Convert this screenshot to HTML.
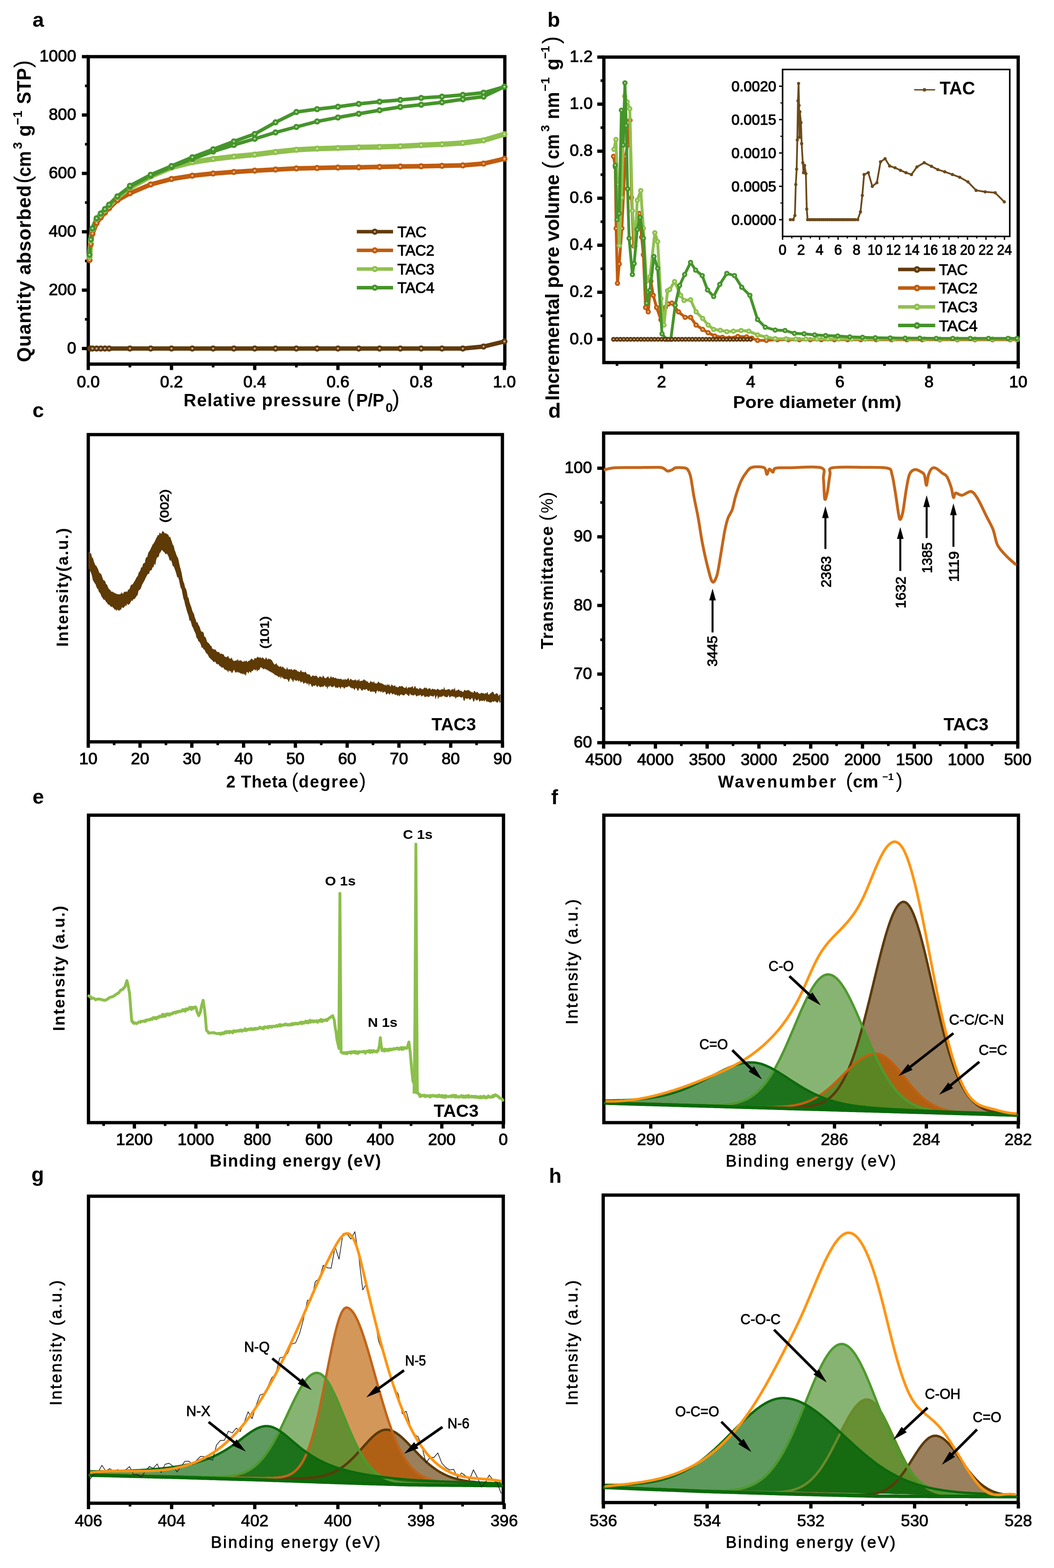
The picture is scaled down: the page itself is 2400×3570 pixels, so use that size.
<!DOCTYPE html><html><head><meta charset="utf-8"><title>Figure</title><style>html,body{margin:0;padding:0;background:#fff;}svg{display:block;}</style></head><body><svg width="2400" height="3570" viewBox="0 0 2400 3570" font-family="'Liberation Sans', Arial, sans-serif"><defs><clipPath id="cp1"><path d="M1379,2510 L1382,2510.1 L1385,2510.2 L1388,2510.2 L1391,2510.3 L1394,2510.4 L1397,2510.5 L1400,2510.6 L1403,2510.7 L1406,2510.8 L1409,2510.8 L1412,2510.9 L1415,2511 L1418,2511.1 L1421,2511.2 L1424,2511.3 L1427,2511.4 L1430,2511.5 L1433,2511.5 L1436,2511.6 L1439,2511.7 L1442,2511.8 L1445,2511.9 L1448,2512 L1451,2512.1 L1454,2512.1 L1457,2512.2 L1460,2512.3 L1463,2512.4 L1466,2512.5 L1469,2512.6 L1472,2512.7 L1475,2512.7 L1478,2512.8 L1481,2512.9 L1484,2513 L1487,2513.1 L1490,2513.2 L1493,2513.3 L1496,2513.3 L1499,2513.4 L1502,2513.5 L1505,2513.6 L1508,2513.7 L1511,2513.8 L1514,2513.9 L1517,2513.9 L1520,2514 L1523,2514.1 L1526,2514.2 L1529,2514.3 L1532,2514.4 L1535,2514.4 L1538,2514.5 L1541,2514.6 L1544,2514.7 L1547,2514.8 L1550,2514.9 L1553,2515 L1556,2515 L1559,2515.1 L1562,2515.2 L1565,2515.3 L1568,2515.4 L1571,2515.5 L1574,2515.5 L1577,2515.6 L1580,2515.7 L1583,2515.8 L1586,2515.9 L1589,2516 L1592,2516.1 L1595,2516.1 L1598,2516.2 L1601,2516.3 L1604,2516.4 L1607,2516.5 L1610,2516.6 L1613,2516.6 L1616,2516.7 L1619,2516.8 L1622,2516.9 L1625,2517 L1628,2517.1 L1631,2517.1 L1634,2517.2 L1637,2517.3 L1640,2517.4 L1643,2517.5 L1646,2517.6 L1649,2517.6 L1652,2517.7 L1655,2517.8 L1658,2517.9 L1661,2518 L1664,2518.1 L1667,2518.1 L1670,2518.2 L1673,2518.3 L1676,2518.4 L1679,2518.5 L1682,2518.5 L1685,2518.6 L1688,2518.7 L1691,2518.8 L1694,2518.9 L1697,2518.9 L1700,2519 L1703,2519.1 L1706,2519.2 L1709,2519.3 L1712,2519.3 L1715,2519.4 L1718,2519.5 L1721,2519.6 L1724,2519.7 L1727,2519.7 L1730,2519.8 L1733,2519.9 L1736,2520 L1739,2520 L1742,2520.1 L1745,2520.2 L1748,2520.3 L1751,2520.3 L1754,2520.4 L1757,2520.5 L1760,2520.5 L1763,2520.6 L1766,2520.7 L1769,2520.7 L1772,2520.8 L1775,2520.9 L1778,2520.9 L1781,2521 L1784,2521 L1787,2521 L1790,2521.1 L1793,2521.1 L1796,2521.1 L1799,2521.1 L1802,2521.1 L1805,2521.1 L1808,2521.1 L1811,2521 L1814,2521 L1817,2520.9 L1820,2520.8 L1823,2520.6 L1826,2520.5 L1829,2520.3 L1832,2520.1 L1835,2519.8 L1838,2519.5 L1841,2519.1 L1844,2518.7 L1847,2518.2 L1850,2517.6 L1853,2517 L1856,2516.2 L1859,2515.4 L1862,2514.5 L1865,2513.5 L1868,2512.3 L1871,2511 L1874,2509.6 L1877,2508 L1880,2506.2 L1883,2504.3 L1886,2502.1 L1889,2499.8 L1892,2497.2 L1895,2494.4 L1898,2491.3 L1901,2488 L1904,2484.4 L1907,2480.5 L1910,2476.3 L1913,2471.7 L1916,2466.8 L1919,2461.6 L1922,2456 L1925,2450.1 L1928,2443.8 L1931,2437 L1934,2429.9 L1937,2422.4 L1940,2414.5 L1943,2406.2 L1946,2397.5 L1949,2388.4 L1952,2379 L1955,2369.1 L1958,2358.9 L1961,2348.4 L1964,2337.5 L1967,2326.3 L1970,2314.8 L1973,2303.1 L1976,2291.2 L1979,2279.1 L1982,2266.9 L1985,2254.5 L1988,2242.1 L1991,2229.7 L1994,2217.3 L1997,2204.9 L2000,2192.7 L2003,2180.7 L2006,2169 L2009,2157.5 L2012,2146.3 L2015,2135.6 L2018,2125.3 L2021,2115.5 L2024,2106.3 L2027,2097.7 L2030,2089.7 L2033,2082.4 L2036,2075.9 L2039,2070.1 L2042,2065.2 L2045,2061 L2048,2057.8 L2051,2055.4 L2054,2053.9 L2057,2053.3 L2060,2053.7 L2063,2055 L2066,2057.4 L2069,2060.8 L2072,2065.1 L2075,2070.4 L2078,2076.6 L2081,2083.6 L2084,2091.5 L2087,2100.1 L2090,2109.5 L2093,2119.6 L2096,2130.2 L2099,2141.4 L2102,2153.1 L2105,2165.2 L2108,2177.7 L2111,2190.4 L2114,2203.4 L2117,2216.6 L2120,2229.9 L2123,2243.2 L2126,2256.5 L2129,2269.8 L2132,2282.9 L2135,2295.9 L2138,2308.7 L2141,2321.2 L2144,2333.5 L2147,2345.4 L2150,2357 L2153,2368.2 L2156,2379.1 L2159,2389.5 L2162,2399.5 L2165,2409 L2168,2418.2 L2171,2426.8 L2174,2435.1 L2177,2442.9 L2180,2450.2 L2183,2457.1 L2186,2463.6 L2189,2469.7 L2192,2475.4 L2195,2480.7 L2198,2485.6 L2201,2490.1 L2204,2494.4 L2207,2498.3 L2210,2501.8 L2213,2505.1 L2216,2508.2 L2219,2510.9 L2222,2513.4 L2225,2515.7 L2228,2517.8 L2231,2519.7 L2234,2521.4 L2237,2523 L2240,2524.4 L2243,2525.7 L2246,2526.8 L2249,2527.9 L2252,2528.8 L2255,2529.6 L2258,2530.4 L2261,2531 L2264,2531.7 L2267,2532.2 L2270,2532.7 L2273,2533.1 L2276,2533.5 L2279,2533.9 L2282,2534.2 L2285,2534.5 L2288,2534.8 L2291,2535 L2294,2535.3 L2297,2535.5 L2300,2535.7 L2303,2535.8 L2306,2536 L2309,2536.2 L2312,2536.3 L2315,2536.5 L2315,2538.9 L1379,2511.6 Z"/></clipPath><clipPath id="cp2"><path d="M1379,2510.1 L1382,2510.2 L1385,2510.3 L1388,2510.4 L1391,2510.5 L1394,2510.6 L1397,2510.6 L1400,2510.7 L1403,2510.8 L1406,2510.9 L1409,2511 L1412,2511.1 L1415,2511.2 L1418,2511.3 L1421,2511.3 L1424,2511.4 L1427,2511.5 L1430,2511.6 L1433,2511.7 L1436,2511.8 L1439,2511.9 L1442,2512 L1445,2512 L1448,2512.1 L1451,2512.2 L1454,2512.3 L1457,2512.4 L1460,2512.5 L1463,2512.6 L1466,2512.7 L1469,2512.7 L1472,2512.8 L1475,2512.9 L1478,2513 L1481,2513.1 L1484,2513.2 L1487,2513.3 L1490,2513.4 L1493,2513.4 L1496,2513.5 L1499,2513.6 L1502,2513.7 L1505,2513.8 L1508,2513.9 L1511,2514 L1514,2514.1 L1517,2514.1 L1520,2514.2 L1523,2514.3 L1526,2514.4 L1529,2514.5 L1532,2514.6 L1535,2514.7 L1538,2514.8 L1541,2514.8 L1544,2514.9 L1547,2515 L1550,2515.1 L1553,2515.2 L1556,2515.3 L1559,2515.4 L1562,2515.5 L1565,2515.5 L1568,2515.6 L1571,2515.7 L1574,2515.8 L1577,2515.9 L1580,2516 L1583,2516.1 L1586,2516.2 L1589,2516.2 L1592,2516.3 L1595,2516.4 L1598,2516.5 L1601,2516.6 L1604,2516.7 L1607,2516.8 L1610,2516.9 L1613,2516.9 L1616,2517 L1619,2517.1 L1622,2517.2 L1625,2517.3 L1628,2517.4 L1631,2517.5 L1634,2517.6 L1637,2517.6 L1640,2517.7 L1643,2517.8 L1646,2517.9 L1649,2518 L1652,2518.1 L1655,2518.2 L1658,2518.2 L1661,2518.3 L1664,2518.4 L1667,2518.5 L1670,2518.6 L1673,2518.7 L1676,2518.8 L1679,2518.8 L1682,2518.9 L1685,2519 L1688,2519.1 L1691,2519.2 L1694,2519.3 L1697,2519.3 L1700,2519.4 L1703,2519.5 L1706,2519.6 L1709,2519.6 L1712,2519.7 L1715,2519.8 L1718,2519.8 L1721,2519.9 L1724,2520 L1727,2520 L1730,2520.1 L1733,2520.1 L1736,2520.2 L1739,2520.2 L1742,2520.2 L1745,2520.2 L1748,2520.3 L1751,2520.3 L1754,2520.3 L1757,2520.2 L1760,2520.2 L1763,2520.2 L1766,2520.1 L1769,2520 L1772,2519.9 L1775,2519.8 L1778,2519.7 L1781,2519.5 L1784,2519.3 L1787,2519.1 L1790,2518.8 L1793,2518.6 L1796,2518.3 L1799,2517.9 L1802,2517.5 L1805,2517.1 L1808,2516.6 L1811,2516.1 L1814,2515.5 L1817,2514.9 L1820,2514.2 L1823,2513.4 L1826,2512.6 L1829,2511.7 L1832,2510.8 L1835,2509.7 L1838,2508.6 L1841,2507.5 L1844,2506.2 L1847,2504.9 L1850,2503.4 L1853,2501.9 L1856,2500.3 L1859,2498.6 L1862,2496.9 L1865,2495 L1868,2493.1 L1871,2491 L1874,2488.9 L1877,2486.6 L1880,2484.3 L1883,2481.9 L1886,2479.5 L1889,2476.9 L1892,2474.3 L1895,2471.6 L1898,2468.8 L1901,2466 L1904,2463.2 L1907,2460.3 L1910,2457.3 L1913,2454.3 L1916,2451.3 L1919,2448.3 L1922,2445.3 L1925,2442.3 L1928,2439.3 L1931,2436.4 L1934,2433.5 L1937,2430.6 L1940,2427.8 L1943,2425.1 L1946,2422.4 L1949,2419.9 L1952,2417.4 L1955,2415.1 L1958,2412.9 L1961,2410.8 L1964,2408.9 L1967,2407.1 L1970,2405.5 L1973,2404 L1976,2402.8 L1979,2401.7 L1982,2400.8 L1985,2400.1 L1988,2399.6 L1991,2399.3 L1994,2399.2 L1997,2399.3 L2000,2399.7 L2003,2400.4 L2006,2401.4 L2009,2402.6 L2012,2404.2 L2015,2406 L2018,2408 L2021,2410.3 L2024,2412.8 L2027,2415.5 L2030,2418.4 L2033,2421.5 L2036,2424.7 L2039,2428.1 L2042,2431.6 L2045,2435.2 L2048,2438.9 L2051,2442.6 L2054,2446.4 L2057,2450.2 L2060,2454 L2063,2457.9 L2066,2461.6 L2069,2465.4 L2072,2469.1 L2075,2472.7 L2078,2476.2 L2081,2479.6 L2084,2483 L2087,2486.2 L2090,2489.4 L2093,2492.4 L2096,2495.2 L2099,2498 L2102,2500.6 L2105,2503.1 L2108,2505.5 L2111,2507.7 L2114,2509.8 L2117,2511.8 L2120,2513.7 L2123,2515.4 L2126,2517 L2129,2518.5 L2132,2519.9 L2135,2521.2 L2138,2522.4 L2141,2523.5 L2144,2524.5 L2147,2525.5 L2150,2526.3 L2153,2527.1 L2156,2527.8 L2159,2528.5 L2162,2529.1 L2165,2529.7 L2168,2530.2 L2171,2530.6 L2174,2531 L2177,2531.4 L2180,2531.7 L2183,2532.1 L2186,2532.3 L2189,2532.6 L2192,2532.9 L2195,2533.1 L2198,2533.3 L2201,2533.5 L2204,2533.7 L2207,2533.8 L2210,2534 L2213,2534.1 L2216,2534.3 L2219,2534.4 L2222,2534.5 L2225,2534.6 L2228,2534.7 L2231,2534.8 L2234,2535 L2237,2535.1 L2240,2535.2 L2243,2535.3 L2246,2535.4 L2249,2535.4 L2252,2535.5 L2255,2535.6 L2258,2535.7 L2261,2535.8 L2264,2535.9 L2267,2536 L2270,2536.1 L2273,2536.2 L2276,2536.3 L2279,2536.4 L2282,2536.4 L2285,2536.5 L2288,2536.6 L2291,2536.7 L2294,2536.8 L2297,2536.9 L2300,2537 L2303,2537.1 L2306,2537.1 L2309,2537.2 L2312,2537.3 L2315,2537.4 L2315,2538.9 L1379,2511.6 Z"/></clipPath><clipPath id="cp3"><path d="M1379,2510.1 L1382,2510.2 L1385,2510.3 L1388,2510.4 L1391,2510.5 L1394,2510.6 L1397,2510.6 L1400,2510.7 L1403,2510.8 L1406,2510.9 L1409,2511 L1412,2511.1 L1415,2511.2 L1418,2511.3 L1421,2511.3 L1424,2511.4 L1427,2511.5 L1430,2511.6 L1433,2511.7 L1436,2511.8 L1439,2511.9 L1442,2512 L1445,2512 L1448,2512.1 L1451,2512.2 L1454,2512.3 L1457,2512.4 L1460,2512.5 L1463,2512.6 L1466,2512.7 L1469,2512.7 L1472,2512.8 L1475,2512.9 L1478,2513 L1481,2513.1 L1484,2513.2 L1487,2513.3 L1490,2513.4 L1493,2513.4 L1496,2513.5 L1499,2513.6 L1502,2513.7 L1505,2513.8 L1508,2513.9 L1511,2514 L1514,2514.1 L1517,2514.1 L1520,2514.2 L1523,2514.3 L1526,2514.4 L1529,2514.5 L1532,2514.6 L1535,2514.7 L1538,2514.7 L1541,2514.8 L1544,2514.9 L1547,2515 L1550,2515.1 L1553,2515.2 L1556,2515.2 L1559,2515.3 L1562,2515.4 L1565,2515.5 L1568,2515.6 L1571,2515.6 L1574,2515.7 L1577,2515.8 L1580,2515.9 L1583,2515.9 L1586,2516 L1589,2516.1 L1592,2516.1 L1595,2516.2 L1598,2516.2 L1601,2516.3 L1604,2516.3 L1607,2516.3 L1610,2516.3 L1613,2516.4 L1616,2516.4 L1619,2516.3 L1622,2516.3 L1625,2516.3 L1628,2516.2 L1631,2516.2 L1634,2516.1 L1637,2516 L1640,2515.8 L1643,2515.7 L1646,2515.5 L1649,2515.2 L1652,2515 L1655,2514.7 L1658,2514.4 L1661,2514 L1664,2513.5 L1667,2513 L1670,2512.5 L1673,2511.9 L1676,2511.2 L1679,2510.5 L1682,2509.6 L1685,2508.7 L1688,2507.7 L1691,2506.6 L1694,2505.4 L1697,2504.1 L1700,2502.7 L1703,2501.2 L1706,2499.5 L1709,2497.7 L1712,2495.7 L1715,2493.6 L1718,2491.4 L1721,2488.9 L1724,2486.4 L1727,2483.6 L1730,2480.7 L1733,2477.5 L1736,2474.2 L1739,2470.7 L1742,2467 L1745,2463.1 L1748,2459 L1751,2454.7 L1754,2450.2 L1757,2445.4 L1760,2440.5 L1763,2435.4 L1766,2430 L1769,2424.5 L1772,2418.8 L1775,2412.9 L1778,2406.8 L1781,2400.5 L1784,2394.1 L1787,2387.6 L1790,2380.9 L1793,2374.1 L1796,2367.2 L1799,2360.2 L1802,2353.2 L1805,2346.1 L1808,2339 L1811,2331.8 L1814,2324.7 L1817,2317.6 L1820,2310.6 L1823,2303.7 L1826,2296.9 L1829,2290.2 L1832,2283.7 L1835,2277.3 L1838,2271.2 L1841,2265.3 L1844,2259.7 L1847,2254.3 L1850,2249.2 L1853,2244.5 L1856,2240.1 L1859,2236.1 L1862,2232.4 L1865,2229.2 L1868,2226.4 L1871,2224 L1874,2222 L1877,2220.5 L1880,2219.4 L1883,2218.8 L1886,2218.6 L1889,2218.9 L1892,2219.6 L1895,2220.8 L1898,2222.4 L1901,2224.4 L1904,2226.8 L1907,2229.6 L1910,2232.8 L1913,2236.4 L1916,2240.4 L1919,2244.7 L1922,2249.3 L1925,2254.2 L1928,2259.5 L1931,2265 L1934,2270.8 L1937,2276.8 L1940,2283 L1943,2289.3 L1946,2295.9 L1949,2302.6 L1952,2309.4 L1955,2316.3 L1958,2323.3 L1961,2330.4 L1964,2337.5 L1967,2344.5 L1970,2351.6 L1973,2358.7 L1976,2365.7 L1979,2372.6 L1982,2379.5 L1985,2386.2 L1988,2392.9 L1991,2399.4 L1994,2405.8 L1997,2412.1 L2000,2418.2 L2003,2424.1 L2006,2429.9 L2009,2435.5 L2012,2440.9 L2015,2446.1 L2018,2451.1 L2021,2456 L2024,2460.6 L2027,2465.1 L2030,2469.3 L2033,2473.4 L2036,2477.3 L2039,2481 L2042,2484.5 L2045,2487.8 L2048,2490.9 L2051,2493.9 L2054,2496.7 L2057,2499.3 L2060,2501.8 L2063,2504.1 L2066,2506.3 L2069,2508.4 L2072,2510.3 L2075,2512.1 L2078,2513.7 L2081,2515.3 L2084,2516.7 L2087,2518.1 L2090,2519.3 L2093,2520.5 L2096,2521.6 L2099,2522.5 L2102,2523.5 L2105,2524.3 L2108,2525.1 L2111,2525.8 L2114,2526.5 L2117,2527.1 L2120,2527.6 L2123,2528.2 L2126,2528.6 L2129,2529.1 L2132,2529.5 L2135,2529.9 L2138,2530.2 L2141,2530.5 L2144,2530.8 L2147,2531.1 L2150,2531.3 L2153,2531.6 L2156,2531.8 L2159,2532 L2162,2532.2 L2165,2532.4 L2168,2532.5 L2171,2532.7 L2174,2532.9 L2177,2533 L2180,2533.1 L2183,2533.3 L2186,2533.4 L2189,2533.5 L2192,2533.6 L2195,2533.7 L2198,2533.9 L2201,2534 L2204,2534.1 L2207,2534.2 L2210,2534.3 L2213,2534.4 L2216,2534.5 L2219,2534.6 L2222,2534.7 L2225,2534.8 L2228,2534.8 L2231,2534.9 L2234,2535 L2237,2535.1 L2240,2535.2 L2243,2535.3 L2246,2535.4 L2249,2535.5 L2252,2535.6 L2255,2535.7 L2258,2535.7 L2261,2535.8 L2264,2535.9 L2267,2536 L2270,2536.1 L2273,2536.2 L2276,2536.3 L2279,2536.4 L2282,2536.4 L2285,2536.5 L2288,2536.6 L2291,2536.7 L2294,2536.8 L2297,2536.9 L2300,2537 L2303,2537.1 L2306,2537.1 L2309,2537.2 L2312,2537.3 L2315,2537.4 L2315,2538.9 L1379,2511.6 Z"/></clipPath><clipPath id="cp4"><path d="M1379,2505.5 L1382,2505.5 L1385,2505.5 L1388,2505.4 L1391,2505.4 L1394,2505.4 L1397,2505.3 L1400,2505.3 L1403,2505.2 L1406,2505.1 L1409,2505.1 L1412,2505 L1415,2504.9 L1418,2504.8 L1421,2504.7 L1424,2504.6 L1427,2504.4 L1430,2504.3 L1433,2504.2 L1436,2504 L1439,2503.8 L1442,2503.6 L1445,2503.4 L1448,2503.2 L1451,2503 L1454,2502.8 L1457,2502.5 L1460,2502.2 L1463,2501.9 L1466,2501.6 L1469,2501.3 L1472,2500.9 L1475,2500.5 L1478,2500.2 L1481,2499.7 L1484,2499.3 L1487,2498.8 L1490,2498.4 L1493,2497.9 L1496,2497.3 L1499,2496.8 L1502,2496.2 L1505,2495.6 L1508,2494.9 L1511,2494.2 L1514,2493.6 L1517,2492.8 L1520,2492.1 L1523,2491.3 L1526,2490.5 L1529,2489.6 L1532,2488.7 L1535,2487.8 L1538,2486.9 L1541,2485.9 L1544,2484.9 L1547,2483.9 L1550,2482.8 L1553,2481.7 L1556,2480.6 L1559,2479.4 L1562,2478.2 L1565,2477 L1568,2475.7 L1571,2474.4 L1574,2473.1 L1577,2471.8 L1580,2470.4 L1583,2469 L1586,2467.6 L1589,2466.2 L1592,2464.7 L1595,2463.2 L1598,2461.7 L1601,2460.2 L1604,2458.7 L1607,2457.2 L1610,2455.6 L1613,2454.1 L1616,2452.5 L1619,2450.9 L1622,2449.4 L1625,2447.8 L1628,2446.2 L1631,2444.7 L1634,2443.1 L1637,2441.6 L1640,2440.1 L1643,2438.6 L1646,2437.1 L1649,2435.7 L1652,2434.3 L1655,2432.9 L1658,2431.6 L1661,2430.3 L1664,2429.1 L1667,2427.9 L1670,2426.7 L1673,2425.7 L1676,2424.7 L1679,2423.7 L1682,2422.9 L1685,2422.1 L1688,2421.4 L1691,2420.8 L1694,2420.2 L1697,2419.8 L1700,2419.4 L1703,2419.1 L1706,2419 L1709,2418.9 L1712,2418.9 L1715,2419 L1718,2419.3 L1721,2419.6 L1724,2420.1 L1727,2420.7 L1730,2421.4 L1733,2422.2 L1736,2423.2 L1739,2424.2 L1742,2425.4 L1745,2426.6 L1748,2427.9 L1751,2429.3 L1754,2430.8 L1757,2432.3 L1760,2434 L1763,2435.6 L1766,2437.4 L1769,2439.1 L1772,2440.9 L1775,2442.8 L1778,2444.7 L1781,2446.6 L1784,2448.5 L1787,2450.4 L1790,2452.4 L1793,2454.4 L1796,2456.3 L1799,2458.3 L1802,2460.2 L1805,2462.2 L1808,2464.1 L1811,2466 L1814,2467.9 L1817,2469.8 L1820,2471.7 L1823,2473.5 L1826,2475.3 L1829,2477.1 L1832,2478.8 L1835,2480.5 L1838,2482.2 L1841,2483.8 L1844,2485.4 L1847,2487 L1850,2488.5 L1853,2490 L1856,2491.4 L1859,2492.8 L1862,2494.2 L1865,2495.5 L1868,2496.8 L1871,2498 L1874,2499.2 L1877,2500.4 L1880,2501.5 L1883,2502.6 L1886,2503.6 L1889,2504.6 L1892,2505.6 L1895,2506.5 L1898,2507.4 L1901,2508.3 L1904,2509.1 L1907,2509.9 L1910,2510.7 L1913,2511.4 L1916,2512.1 L1919,2512.8 L1922,2513.4 L1925,2514 L1928,2514.6 L1931,2515.2 L1934,2515.7 L1937,2516.2 L1940,2516.7 L1943,2517.2 L1946,2517.6 L1949,2518.1 L1952,2518.5 L1955,2518.9 L1958,2519.3 L1961,2519.6 L1964,2520 L1967,2520.3 L1970,2520.6 L1973,2521 L1976,2521.3 L1979,2521.5 L1982,2521.8 L1985,2522.1 L1988,2522.3 L1991,2522.6 L1994,2522.8 L1997,2523.1 L2000,2523.3 L2003,2523.5 L2006,2523.7 L2009,2523.9 L2012,2524.1 L2015,2524.3 L2018,2524.5 L2021,2524.7 L2024,2524.9 L2027,2525 L2030,2525.2 L2033,2525.4 L2036,2525.5 L2039,2525.7 L2042,2525.9 L2045,2526 L2048,2526.2 L2051,2526.3 L2054,2526.5 L2057,2526.6 L2060,2526.8 L2063,2526.9 L2066,2527.1 L2069,2527.2 L2072,2527.3 L2075,2527.5 L2078,2527.6 L2081,2527.7 L2084,2527.9 L2087,2528 L2090,2528.1 L2093,2528.3 L2096,2528.4 L2099,2528.5 L2102,2528.6 L2105,2528.8 L2108,2528.9 L2111,2529 L2114,2529.1 L2117,2529.3 L2120,2529.4 L2123,2529.5 L2126,2529.6 L2129,2529.7 L2132,2529.8 L2135,2530 L2138,2530.1 L2141,2530.2 L2144,2530.3 L2147,2530.4 L2150,2530.5 L2153,2530.7 L2156,2530.8 L2159,2530.9 L2162,2531 L2165,2531.1 L2168,2531.2 L2171,2531.3 L2174,2531.4 L2177,2531.6 L2180,2531.7 L2183,2531.8 L2186,2531.9 L2189,2532 L2192,2532.1 L2195,2532.2 L2198,2532.3 L2201,2532.4 L2204,2532.5 L2207,2532.6 L2210,2532.7 L2213,2532.8 L2216,2533 L2219,2533.1 L2222,2533.2 L2225,2533.3 L2228,2533.4 L2231,2533.5 L2234,2533.6 L2237,2533.7 L2240,2533.8 L2243,2533.9 L2246,2534 L2249,2534.1 L2252,2534.2 L2255,2534.3 L2258,2534.4 L2261,2534.5 L2264,2534.6 L2267,2534.7 L2270,2534.8 L2273,2534.9 L2276,2535 L2279,2535.1 L2282,2535.2 L2285,2535.3 L2288,2535.4 L2291,2535.5 L2294,2535.6 L2297,2535.7 L2300,2535.8 L2303,2535.9 L2306,2536 L2309,2536.1 L2312,2536.2 L2315,2536.3 L2315,2538.9 L1379,2511.6 Z"/></clipPath><clipPath id="cp5"><path d="M205,3356.7 L208,3356.7 L211,3356.8 L214,3356.9 L217,3356.9 L220,3357 L223,3357.1 L226,3357.2 L229,3357.2 L232,3357.3 L235,3357.4 L238,3357.4 L241,3357.5 L244,3357.6 L247,3357.7 L250,3357.7 L253,3357.8 L256,3357.9 L259,3357.9 L262,3358 L265,3358.1 L268,3358.2 L271,3358.2 L274,3358.3 L277,3358.4 L280,3358.4 L283,3358.5 L286,3358.6 L289,3358.6 L292,3358.7 L295,3358.8 L298,3358.9 L301,3358.9 L304,3359 L307,3359.1 L310,3359.1 L313,3359.2 L316,3359.3 L319,3359.3 L322,3359.4 L325,3359.5 L328,3359.5 L331,3359.6 L334,3359.7 L337,3359.8 L340,3359.8 L343,3359.9 L346,3360 L349,3360 L352,3360.1 L355,3360.2 L358,3360.2 L361,3360.3 L364,3360.4 L367,3360.4 L370,3360.5 L373,3360.6 L376,3360.6 L379,3360.7 L382,3360.8 L385,3360.8 L388,3360.9 L391,3361 L394,3361 L397,3361.1 L400,3361.2 L403,3361.2 L406,3361.3 L409,3361.4 L412,3361.5 L415,3361.6 L418,3361.6 L421,3361.7 L424,3361.8 L427,3361.9 L430,3361.9 L433,3362 L436,3362.1 L439,3362.2 L442,3362.3 L445,3362.3 L448,3362.4 L451,3362.5 L454,3362.6 L457,3362.6 L460,3362.7 L463,3362.8 L466,3362.9 L469,3362.9 L472,3363 L475,3363.1 L478,3363.2 L481,3363.2 L484,3363.3 L487,3363.4 L490,3363.4 L493,3363.5 L496,3363.6 L499,3363.7 L502,3363.7 L505,3363.8 L508,3363.9 L511,3363.9 L514,3364 L517,3364.1 L520,3364.1 L523,3364.2 L526,3364.3 L529,3364.3 L532,3364.4 L535,3364.5 L538,3364.5 L541,3364.6 L544,3364.6 L547,3364.7 L550,3364.8 L553,3364.8 L556,3364.9 L559,3364.9 L562,3365 L565,3365.1 L568,3365.1 L571,3365.2 L574,3365.2 L577,3365.3 L580,3365.3 L583,3365.4 L586,3365.4 L589,3365.5 L592,3365.5 L595,3365.6 L598,3365.6 L601,3365.6 L604,3365.7 L607,3365.8 L610,3365.8 L613,3365.9 L616,3365.9 L619,3366 L622,3366 L625,3366 L628,3366.1 L631,3366.1 L634,3366.2 L637,3366.2 L640,3366.2 L643,3366.2 L646,3366.3 L649,3366.3 L652,3366.3 L655,3366.3 L658,3366.3 L661,3366.3 L664,3366.3 L667,3366.3 L670,3366.2 L673,3366.2 L676,3366.1 L679,3366.1 L682,3366 L685,3365.9 L688,3365.8 L691,3365.7 L694,3365.6 L697,3365.4 L700,3365.2 L703,3365 L706,3364.8 L709,3364.5 L712,3364.2 L715,3363.9 L718,3363.5 L721,3363.1 L724,3362.6 L727,3362.1 L730,3361.5 L733,3360.9 L736,3360.2 L739,3359.4 L742,3358.6 L745,3357.7 L748,3356.7 L751,3355.6 L754,3354.5 L757,3353.2 L760,3351.8 L763,3350.4 L766,3348.8 L769,3347.1 L772,3345.3 L775,3343.4 L778,3341.4 L781,3339.3 L784,3337.1 L787,3334.7 L790,3332.2 L793,3329.6 L796,3326.9 L799,3324.1 L802,3321.2 L805,3318.2 L808,3315.1 L811,3312 L814,3308.7 L817,3305.4 L820,3302.1 L823,3298.7 L826,3295.4 L829,3292 L832,3288.6 L835,3285.3 L838,3282 L841,3278.8 L844,3275.8 L847,3272.8 L850,3270 L853,3267.3 L856,3264.9 L859,3262.7 L862,3260.7 L865,3259 L868,3257.6 L871,3256.4 L874,3255.6 L877,3255.2 L880,3255.1 L883,3255.2 L886,3255.7 L889,3256.4 L892,3257.4 L895,3258.7 L898,3260.2 L901,3261.9 L904,3263.9 L907,3266 L910,3268.4 L913,3270.9 L916,3273.5 L919,3276.3 L922,3279.2 L925,3282.1 L928,3285.2 L931,3288.3 L934,3291.5 L937,3294.6 L940,3297.8 L943,3300.9 L946,3304.1 L949,3307.2 L952,3310.3 L955,3313.4 L958,3316.4 L961,3319.3 L964,3322.2 L967,3325 L970,3327.8 L973,3330.5 L976,3333.1 L979,3335.6 L982,3338 L985,3340.3 L988,3342.5 L991,3344.6 L994,3346.7 L997,3348.6 L1000,3350.5 L1003,3352.3 L1006,3353.9 L1009,3355.5 L1012,3357 L1015,3358.4 L1018,3359.7 L1021,3361 L1024,3362.2 L1027,3363.3 L1030,3364.3 L1033,3365.3 L1036,3366.2 L1039,3367 L1042,3367.8 L1045,3368.5 L1048,3369.2 L1051,3369.8 L1054,3370.4 L1057,3371 L1060,3371.5 L1063,3371.9 L1066,3372.4 L1069,3372.8 L1072,3373.2 L1075,3373.5 L1078,3373.8 L1081,3374.1 L1084,3374.4 L1087,3374.7 L1090,3374.9 L1093,3375.2 L1096,3375.4 L1099,3375.6 L1102,3375.8 L1105,3376 L1108,3376.2 L1111,3376.3 L1114,3376.5 L1117,3376.6 L1120,3376.8 L1123,3376.9 L1126,3377 L1129,3377.2 L1132,3377.3 L1135,3377.4 L1138,3377.5 L1141,3377.6 L1142,3382.5 L205,3358.6 Z"/></clipPath><clipPath id="cp6"><path d="M205,3356.8 L208,3356.9 L211,3356.9 L214,3357 L217,3357.1 L220,3357.1 L223,3357.2 L226,3357.3 L229,3357.4 L232,3357.4 L235,3357.5 L238,3357.6 L241,3357.6 L244,3357.7 L247,3357.8 L250,3357.9 L253,3357.9 L256,3358 L259,3358.1 L262,3358.1 L265,3358.2 L268,3358.3 L271,3358.4 L274,3358.4 L277,3358.5 L280,3358.6 L283,3358.6 L286,3358.7 L289,3358.8 L292,3358.9 L295,3358.9 L298,3359 L301,3359.1 L304,3359.1 L307,3359.2 L310,3359.3 L313,3359.3 L316,3359.4 L319,3359.5 L322,3359.6 L325,3359.6 L328,3359.7 L331,3359.8 L334,3359.8 L337,3359.9 L340,3360 L343,3360 L346,3360.1 L349,3360.2 L352,3360.2 L355,3360.3 L358,3360.4 L361,3360.4 L364,3360.5 L367,3360.6 L370,3360.6 L373,3360.7 L376,3360.8 L379,3360.8 L382,3360.9 L385,3361 L388,3361 L391,3361.1 L394,3361.2 L397,3361.2 L400,3361.3 L403,3361.4 L406,3361.5 L409,3361.5 L412,3361.6 L415,3361.7 L418,3361.8 L421,3361.9 L424,3361.9 L427,3362 L430,3362.1 L433,3362.2 L436,3362.2 L439,3362.3 L442,3362.4 L445,3362.5 L448,3362.5 L451,3362.6 L454,3362.7 L457,3362.8 L460,3362.8 L463,3362.9 L466,3363 L469,3363.1 L472,3363.1 L475,3363.2 L478,3363.3 L481,3363.3 L484,3363.4 L487,3363.5 L490,3363.5 L493,3363.6 L496,3363.7 L499,3363.7 L502,3363.8 L505,3363.9 L508,3363.9 L511,3364 L514,3364.1 L517,3364.1 L520,3364.2 L523,3364.2 L526,3364.3 L529,3364.4 L532,3364.4 L535,3364.5 L538,3364.5 L541,3364.6 L544,3364.6 L547,3364.7 L550,3364.7 L553,3364.8 L556,3364.8 L559,3364.9 L562,3364.9 L565,3364.9 L568,3365 L571,3365 L574,3365.1 L577,3365.1 L580,3365.1 L583,3365.1 L586,3365.2 L589,3365.2 L592,3365.2 L595,3365.2 L598,3365.2 L601,3365.2 L604,3365.2 L607,3365.1 L610,3365.1 L613,3365.1 L616,3365 L619,3364.9 L622,3364.8 L625,3364.6 L628,3364.5 L631,3364.2 L634,3363.9 L637,3363.6 L640,3363.2 L643,3362.6 L646,3362 L649,3361.3 L652,3360.4 L655,3359.4 L658,3358.2 L661,3356.8 L664,3355.1 L667,3353.2 L670,3351 L673,3348.5 L676,3345.6 L679,3342.3 L682,3338.6 L685,3334.4 L688,3329.6 L691,3324.4 L694,3318.5 L697,3312 L700,3304.9 L703,3297.1 L706,3288.6 L709,3279.4 L712,3269.5 L715,3258.8 L718,3247.5 L721,3235.5 L724,3222.8 L727,3209.5 L730,3195.7 L733,3181.4 L736,3166.8 L739,3151.8 L742,3136.6 L745,3121.4 L748,3106.1 L751,3091.1 L754,3076.4 L757,3062.2 L760,3048.6 L763,3035.7 L766,3023.8 L769,3013 L772,3003.3 L775,2995 L778,2988.2 L781,2983 L784,2979.3 L787,2977.4 L790,2977.1 L793,2977.9 L796,2979.6 L799,2982.1 L802,2985.3 L805,2989.4 L808,2994.2 L811,2999.7 L814,3005.9 L817,3012.8 L820,3020.3 L823,3028.3 L826,3036.8 L829,3045.8 L832,3055.2 L835,3065 L838,3075 L841,3085.3 L844,3095.8 L847,3106.4 L850,3117.2 L853,3128 L856,3138.8 L859,3149.6 L862,3160.3 L865,3170.8 L868,3181.3 L871,3191.6 L874,3201.6 L877,3211.4 L880,3221 L883,3230.3 L886,3239.3 L889,3247.9 L892,3256.3 L895,3264.3 L898,3272 L901,3279.3 L904,3286.3 L907,3292.9 L910,3299.2 L913,3305.2 L916,3310.8 L919,3316 L922,3321 L925,3325.6 L928,3330 L931,3334 L934,3337.8 L937,3341.2 L940,3344.4 L943,3347.3 L946,3350 L949,3352.5 L952,3354.8 L955,3356.9 L958,3358.8 L961,3360.6 L964,3362.2 L967,3363.7 L970,3365 L973,3366.2 L976,3367.3 L979,3368.3 L982,3369.2 L985,3370 L988,3370.7 L991,3371.4 L994,3372 L997,3372.5 L1000,3373 L1003,3373.5 L1006,3373.9 L1009,3374.2 L1012,3374.6 L1015,3374.9 L1018,3375.1 L1021,3375.4 L1024,3375.6 L1027,3375.8 L1030,3376 L1033,3376.2 L1036,3376.4 L1039,3376.5 L1042,3376.7 L1045,3376.8 L1048,3376.9 L1051,3377 L1054,3377.1 L1057,3377.3 L1060,3377.4 L1063,3377.5 L1066,3377.5 L1069,3377.6 L1072,3377.7 L1075,3377.8 L1078,3377.9 L1081,3378 L1084,3378.1 L1087,3378.1 L1090,3378.2 L1093,3378.3 L1096,3378.3 L1099,3378.4 L1102,3378.5 L1105,3378.5 L1108,3378.6 L1111,3378.7 L1114,3378.7 L1117,3378.8 L1120,3378.9 L1123,3378.9 L1126,3379 L1129,3379 L1132,3379.1 L1135,3379.2 L1138,3379.2 L1141,3379.3 L1142,3382.5 L205,3358.6 Z"/></clipPath><clipPath id="cp7"><path d="M205,3356.8 L208,3356.9 L211,3357 L214,3357 L217,3357.1 L220,3357.2 L223,3357.2 L226,3357.3 L229,3357.4 L232,3357.5 L235,3357.5 L238,3357.6 L241,3357.7 L244,3357.7 L247,3357.8 L250,3357.9 L253,3358 L256,3358 L259,3358.1 L262,3358.2 L265,3358.2 L268,3358.3 L271,3358.4 L274,3358.5 L277,3358.5 L280,3358.6 L283,3358.7 L286,3358.7 L289,3358.8 L292,3358.9 L295,3358.9 L298,3359 L301,3359.1 L304,3359.2 L307,3359.2 L310,3359.3 L313,3359.4 L316,3359.4 L319,3359.5 L322,3359.6 L325,3359.6 L328,3359.7 L331,3359.8 L334,3359.8 L337,3359.9 L340,3360 L343,3360.1 L346,3360.1 L349,3360.2 L352,3360.3 L355,3360.3 L358,3360.4 L361,3360.5 L364,3360.5 L367,3360.6 L370,3360.7 L373,3360.7 L376,3360.8 L379,3360.9 L382,3360.9 L385,3361 L388,3361 L391,3361.1 L394,3361.2 L397,3361.2 L400,3361.3 L403,3361.4 L406,3361.5 L409,3361.5 L412,3361.6 L415,3361.7 L418,3361.8 L421,3361.8 L424,3361.9 L427,3362 L430,3362 L433,3362.1 L436,3362.2 L439,3362.2 L442,3362.3 L445,3362.4 L448,3362.4 L451,3362.5 L454,3362.5 L457,3362.6 L460,3362.6 L463,3362.7 L466,3362.7 L469,3362.8 L472,3362.8 L475,3362.8 L478,3362.8 L481,3362.8 L484,3362.8 L487,3362.8 L490,3362.7 L493,3362.7 L496,3362.6 L499,3362.5 L502,3362.4 L505,3362.3 L508,3362.1 L511,3361.9 L514,3361.7 L517,3361.5 L520,3361.2 L523,3360.8 L526,3360.4 L529,3360 L532,3359.5 L535,3358.9 L538,3358.3 L541,3357.5 L544,3356.7 L547,3355.9 L550,3354.9 L553,3353.8 L556,3352.6 L559,3351.3 L562,3349.9 L565,3348.3 L568,3346.6 L571,3344.7 L574,3342.7 L577,3340.5 L580,3338.2 L583,3335.7 L586,3333 L589,3330.1 L592,3327 L595,3323.7 L598,3320.2 L601,3316.5 L604,3312.6 L607,3308.5 L610,3304.2 L613,3299.7 L616,3294.9 L619,3290 L622,3284.9 L625,3279.6 L628,3274.1 L631,3268.5 L634,3262.6 L637,3256.7 L640,3250.6 L643,3244.4 L646,3238.1 L649,3231.8 L652,3225.4 L655,3219 L658,3212.5 L661,3206.1 L664,3199.8 L667,3193.5 L670,3187.3 L673,3181.3 L676,3175.5 L679,3169.8 L682,3164.3 L685,3159.2 L688,3154.3 L691,3149.7 L694,3145.4 L697,3141.5 L700,3138 L703,3134.9 L706,3132.2 L709,3130 L712,3128.2 L715,3126.9 L718,3126.1 L721,3125.8 L724,3126 L727,3126.8 L730,3128.1 L733,3130.1 L736,3132.6 L739,3135.7 L742,3139.4 L745,3143.5 L748,3148.1 L751,3153.2 L754,3158.6 L757,3164.4 L760,3170.6 L763,3177 L766,3183.7 L769,3190.7 L772,3197.7 L775,3204.9 L778,3212.2 L781,3219.6 L784,3227 L787,3234.3 L790,3241.6 L793,3248.8 L796,3255.9 L799,3262.9 L802,3269.7 L805,3276.4 L808,3282.8 L811,3289 L814,3295 L817,3300.7 L820,3306.2 L823,3311.5 L826,3316.5 L829,3321.2 L832,3325.7 L835,3329.9 L838,3333.8 L841,3337.5 L844,3341 L847,3344.3 L850,3347.3 L853,3350 L856,3352.6 L859,3355 L862,3357.2 L865,3359.2 L868,3361 L871,3362.7 L874,3364.3 L877,3365.7 L880,3366.9 L883,3368.1 L886,3369.2 L889,3370.1 L892,3371 L895,3371.7 L898,3372.5 L901,3373.1 L904,3373.7 L907,3374.2 L910,3374.7 L913,3375.1 L916,3375.5 L919,3375.8 L922,3376.1 L925,3376.4 L928,3376.7 L931,3376.9 L934,3377.2 L937,3377.3 L940,3377.5 L943,3377.6 L946,3377.7 L949,3377.8 L952,3377.9 L955,3378 L958,3378.1 L961,3378.1 L964,3378.2 L967,3378.3 L970,3378.3 L973,3378.4 L976,3378.5 L979,3378.5 L982,3378.6 L985,3378.6 L988,3378.7 L991,3378.7 L994,3378.8 L997,3378.8 L1000,3378.9 L1003,3378.9 L1006,3378.9 L1009,3379 L1012,3379 L1015,3379.1 L1018,3379.1 L1021,3379.2 L1024,3379.2 L1027,3379.2 L1030,3379.3 L1033,3379.3 L1036,3379.4 L1039,3379.4 L1042,3379.4 L1045,3379.5 L1048,3379.5 L1051,3379.6 L1054,3379.6 L1057,3379.6 L1060,3379.7 L1063,3379.7 L1066,3379.7 L1069,3379.8 L1072,3379.8 L1075,3379.9 L1078,3379.9 L1081,3379.9 L1084,3380 L1087,3380 L1090,3380 L1093,3380.1 L1096,3380.1 L1099,3380.1 L1102,3380.2 L1105,3380.2 L1108,3380.2 L1111,3380.3 L1114,3380.3 L1117,3380.3 L1120,3380.4 L1123,3380.4 L1126,3380.4 L1129,3380.5 L1132,3380.5 L1135,3380.5 L1138,3380.6 L1141,3380.6 L1142,3382.5 L205,3358.6 Z"/></clipPath><clipPath id="cp8"><path d="M205,3350.1 L208,3350.1 L211,3350 L214,3350 L217,3350 L220,3350 L223,3349.9 L226,3349.9 L229,3349.8 L232,3349.8 L235,3349.8 L238,3349.7 L241,3349.7 L244,3349.6 L247,3349.5 L250,3349.5 L253,3349.4 L256,3349.4 L259,3349.3 L262,3349.2 L265,3349.1 L268,3349.1 L271,3349 L274,3348.9 L277,3348.8 L280,3348.7 L283,3348.6 L286,3348.5 L289,3348.4 L292,3348.3 L295,3348.2 L298,3348.1 L301,3347.9 L304,3347.8 L307,3347.7 L310,3347.5 L313,3347.4 L316,3347.2 L319,3347.1 L322,3346.9 L325,3346.7 L328,3346.5 L331,3346.4 L334,3346.2 L337,3346 L340,3345.7 L343,3345.5 L346,3345.3 L349,3345.1 L352,3344.8 L355,3344.6 L358,3344.3 L361,3344 L364,3343.7 L367,3343.4 L370,3343.1 L373,3342.8 L376,3342.5 L379,3342.1 L382,3341.8 L385,3341.4 L388,3341 L391,3340.6 L394,3340.2 L397,3339.8 L400,3339.3 L403,3338.9 L406,3338.4 L409,3337.9 L412,3337.4 L415,3336.9 L418,3336.4 L421,3335.8 L424,3335.2 L427,3334.6 L430,3334 L433,3333.3 L436,3332.6 L439,3331.9 L442,3331.1 L445,3330.3 L448,3329.5 L451,3328.7 L454,3327.8 L457,3326.9 L460,3326 L463,3325 L466,3324 L469,3322.9 L472,3321.8 L475,3320.7 L478,3319.5 L481,3318.2 L484,3316.9 L487,3315.6 L490,3314.2 L493,3312.8 L496,3311.3 L499,3309.8 L502,3308.2 L505,3306.5 L508,3304.8 L511,3303.1 L514,3301.3 L517,3299.4 L520,3297.5 L523,3295.5 L526,3293.5 L529,3291.5 L532,3289.3 L535,3287.2 L538,3285 L541,3282.8 L544,3280.5 L547,3278.3 L550,3276 L553,3273.7 L556,3271.4 L559,3269.2 L562,3267 L565,3264.8 L568,3262.7 L571,3260.6 L574,3258.7 L577,3256.8 L580,3255.1 L583,3253.5 L586,3252 L589,3250.7 L592,3249.6 L595,3248.6 L598,3247.9 L601,3247.3 L604,3247 L607,3246.9 L610,3247.1 L613,3247.4 L616,3248 L619,3248.9 L622,3249.9 L625,3251.2 L628,3252.6 L631,3254.2 L634,3256 L637,3258 L640,3260.1 L643,3262.3 L646,3264.5 L649,3266.9 L652,3269.4 L655,3271.9 L658,3274.4 L661,3276.9 L664,3279.5 L667,3282.1 L670,3284.6 L673,3287.2 L676,3289.7 L679,3292.1 L682,3294.6 L685,3296.9 L688,3299.3 L691,3301.6 L694,3303.8 L697,3305.9 L700,3308.1 L703,3310.1 L706,3312.1 L709,3314 L712,3315.9 L715,3317.7 L718,3319.5 L721,3321.2 L724,3322.9 L727,3324.5 L730,3326 L733,3327.5 L736,3328.9 L739,3330.3 L742,3331.7 L745,3333 L748,3334.2 L751,3335.5 L754,3336.6 L757,3337.8 L760,3338.9 L763,3340 L766,3341 L769,3342 L772,3343 L775,3343.9 L778,3344.8 L781,3345.7 L784,3346.5 L787,3347.4 L790,3348.2 L793,3348.9 L796,3349.7 L799,3350.4 L802,3351.1 L805,3351.8 L808,3352.4 L811,3353.1 L814,3353.7 L817,3354.3 L820,3354.9 L823,3355.5 L826,3356 L829,3356.5 L832,3357.1 L835,3357.6 L838,3358.1 L841,3358.6 L844,3359 L847,3359.5 L850,3359.9 L853,3360.4 L856,3360.8 L859,3361.2 L862,3361.6 L865,3362 L868,3362.4 L871,3362.8 L874,3363.2 L877,3363.5 L880,3363.9 L883,3364.3 L886,3364.6 L889,3364.9 L892,3365.3 L895,3365.6 L898,3365.9 L901,3366.2 L904,3366.5 L907,3366.8 L910,3367.1 L913,3367.4 L916,3367.7 L919,3368 L922,3368.2 L925,3368.5 L928,3368.8 L931,3369 L934,3369.3 L937,3369.5 L940,3369.7 L943,3369.8 L946,3370 L949,3370.2 L952,3370.4 L955,3370.5 L958,3370.7 L961,3370.9 L964,3371 L967,3371.2 L970,3371.3 L973,3371.5 L976,3371.6 L979,3371.8 L982,3371.9 L985,3372.1 L988,3372.2 L991,3372.3 L994,3372.5 L997,3372.6 L1000,3372.7 L1003,3372.9 L1006,3373 L1009,3373.1 L1012,3373.2 L1015,3373.4 L1018,3373.5 L1021,3373.6 L1024,3373.7 L1027,3373.8 L1030,3373.9 L1033,3374 L1036,3374.1 L1039,3374.2 L1042,3374.3 L1045,3374.4 L1048,3374.5 L1051,3374.6 L1054,3374.7 L1057,3374.8 L1060,3374.9 L1063,3375 L1066,3375.1 L1069,3375.2 L1072,3375.3 L1075,3375.4 L1078,3375.5 L1081,3375.6 L1084,3375.7 L1087,3375.7 L1090,3375.8 L1093,3375.9 L1096,3376 L1099,3376.1 L1102,3376.2 L1105,3376.2 L1108,3376.3 L1111,3376.4 L1114,3376.5 L1117,3376.5 L1120,3376.6 L1123,3376.7 L1126,3376.8 L1129,3376.8 L1132,3376.9 L1135,3377 L1138,3377.1 L1141,3377.1 L1142,3382.5 L205,3358.6 Z"/></clipPath><clipPath id="cp9"><path d="M1377,3385.1 L1380,3385.2 L1383,3385.4 L1386,3385.5 L1389,3385.6 L1392,3385.7 L1395,3385.8 L1398,3386 L1401,3386.1 L1404,3386.2 L1407,3386.3 L1410,3386.4 L1413,3386.6 L1416,3386.7 L1419,3386.8 L1422,3386.9 L1425,3387 L1428,3387.2 L1431,3387.3 L1434,3387.4 L1437,3387.5 L1440,3387.6 L1443,3387.7 L1446,3387.9 L1449,3388 L1452,3388.1 L1455,3388.2 L1458,3388.3 L1461,3388.5 L1464,3388.6 L1467,3388.7 L1470,3388.8 L1473,3388.9 L1476,3389.1 L1479,3389.2 L1482,3389.3 L1485,3389.4 L1488,3389.5 L1491,3389.7 L1494,3389.8 L1497,3389.9 L1500,3390 L1503,3390.1 L1506,3390.3 L1509,3390.4 L1512,3390.5 L1515,3390.6 L1518,3390.7 L1521,3390.9 L1524,3391 L1527,3391.1 L1530,3391.2 L1533,3391.3 L1536,3391.5 L1539,3391.6 L1542,3391.7 L1545,3391.8 L1548,3391.9 L1551,3392 L1554,3392.2 L1557,3392.3 L1560,3392.4 L1563,3392.5 L1566,3392.6 L1569,3392.8 L1572,3392.9 L1575,3393 L1578,3393.1 L1581,3393.2 L1584,3393.4 L1587,3393.5 L1590,3393.6 L1593,3393.7 L1596,3393.8 L1599,3394 L1602,3394.1 L1605,3394.2 L1608,3394.2 L1611,3394.3 L1614,3394.4 L1617,3394.5 L1620,3394.6 L1623,3394.7 L1626,3394.8 L1629,3394.9 L1632,3395 L1635,3395.1 L1638,3395.1 L1641,3395.2 L1644,3395.3 L1647,3395.4 L1650,3395.5 L1653,3395.6 L1656,3395.7 L1659,3395.8 L1662,3395.9 L1665,3395.9 L1668,3396 L1671,3396.1 L1674,3396.2 L1677,3396.3 L1680,3396.4 L1683,3396.5 L1686,3396.6 L1689,3396.7 L1692,3396.8 L1695,3396.8 L1698,3396.9 L1701,3397 L1704,3397.1 L1707,3397.2 L1710,3397.3 L1713,3397.4 L1716,3397.5 L1719,3397.6 L1722,3397.7 L1725,3397.7 L1728,3397.8 L1731,3397.9 L1734,3398 L1737,3398.1 L1740,3398.2 L1743,3398.3 L1746,3398.4 L1749,3398.5 L1752,3398.6 L1755,3398.6 L1758,3398.7 L1761,3398.8 L1764,3398.9 L1767,3399 L1770,3399.1 L1773,3399.2 L1776,3399.3 L1779,3399.4 L1782,3399.5 L1785,3399.5 L1788,3399.6 L1791,3399.7 L1794,3399.8 L1797,3399.9 L1800,3400 L1803,3400.1 L1806,3400.1 L1809,3400.2 L1812,3400.3 L1815,3400.4 L1818,3400.4 L1821,3400.5 L1824,3400.6 L1827,3400.7 L1830,3400.7 L1833,3400.8 L1836,3400.9 L1839,3401 L1842,3401 L1845,3401.1 L1848,3401.2 L1851,3401.3 L1854,3401.3 L1857,3401.4 L1860,3401.5 L1863,3401.6 L1866,3401.6 L1869,3401.7 L1872,3401.8 L1875,3401.9 L1878,3401.9 L1881,3402 L1884,3402.1 L1887,3402.2 L1890,3402.2 L1893,3402.3 L1896,3402.4 L1899,3402.5 L1902,3402.5 L1905,3402.6 L1908,3402.7 L1911,3402.8 L1914,3402.8 L1917,3402.9 L1920,3403 L1923,3403 L1926,3403.1 L1929,3403.1 L1932,3403.2 L1935,3403.2 L1938,3403.3 L1941,3403.3 L1944,3403.4 L1947,3403.4 L1950,3403.4 L1953,3403.4 L1956,3403.4 L1959,3403.3 L1962,3403.3 L1965,3403.2 L1968,3403.1 L1971,3402.9 L1974,3402.8 L1977,3402.5 L1980,3402.3 L1983,3401.9 L1986,3401.6 L1989,3401.1 L1992,3400.6 L1995,3400 L1998,3399.3 L2001,3398.5 L2004,3397.5 L2007,3396.4 L2010,3395.2 L2013,3393.8 L2016,3392.3 L2019,3390.6 L2022,3388.8 L2025,3386.8 L2028,3384.6 L2031,3382.2 L2034,3379.6 L2037,3376.8 L2040,3373.8 L2043,3370.6 L2046,3367.3 L2049,3363.7 L2052,3359.9 L2055,3356 L2058,3351.8 L2061,3347.6 L2064,3343.1 L2067,3338.6 L2070,3334 L2073,3329.3 L2076,3324.5 L2079,3319.8 L2082,3315 L2085,3310.3 L2088,3305.7 L2091,3301.2 L2094,3296.9 L2097,3292.8 L2100,3288.9 L2103,3285.2 L2106,3281.9 L2109,3278.9 L2112,3276.2 L2115,3273.9 L2118,3272.1 L2121,3270.6 L2124,3269.6 L2127,3269 L2130,3268.9 L2133,3269.1 L2136,3269.8 L2139,3270.8 L2142,3272.1 L2145,3273.8 L2148,3275.8 L2151,3278.1 L2154,3280.8 L2157,3283.7 L2160,3286.8 L2163,3290.2 L2166,3293.8 L2169,3297.6 L2172,3301.5 L2175,3305.5 L2178,3309.7 L2181,3313.9 L2184,3318.2 L2187,3322.5 L2190,3326.8 L2193,3331.1 L2196,3335.3 L2199,3339.5 L2202,3343.6 L2205,3347.6 L2208,3351.5 L2211,3355.3 L2214,3358.9 L2217,3362.4 L2220,3365.7 L2223,3368.9 L2226,3371.9 L2229,3374.8 L2232,3377.5 L2235,3380 L2238,3382.4 L2241,3384.6 L2244,3386.6 L2247,3388.5 L2250,3390.3 L2253,3391.9 L2256,3393.4 L2259,3394.8 L2262,3396 L2265,3397.1 L2268,3398.1 L2271,3399.1 L2274,3399.9 L2277,3400.6 L2280,3401.3 L2283,3401.9 L2286,3402.4 L2289,3402.9 L2292,3403.3 L2295,3403.7 L2298,3404 L2301,3404.3 L2304,3404.5 L2307,3404.7 L2310,3404.9 L2313,3405.1 L2315,3407.5 L1377,3386.6 Z"/></clipPath><clipPath id="cp10"><path d="M1377,3385.1 L1380,3385.2 L1383,3385.3 L1386,3385.5 L1389,3385.6 L1392,3385.7 L1395,3385.8 L1398,3385.9 L1401,3386 L1404,3386.2 L1407,3386.3 L1410,3386.4 L1413,3386.5 L1416,3386.6 L1419,3386.8 L1422,3386.9 L1425,3387 L1428,3387.1 L1431,3387.2 L1434,3387.4 L1437,3387.5 L1440,3387.6 L1443,3387.7 L1446,3387.8 L1449,3388 L1452,3388.1 L1455,3388.2 L1458,3388.3 L1461,3388.4 L1464,3388.6 L1467,3388.7 L1470,3388.8 L1473,3388.9 L1476,3389 L1479,3389.1 L1482,3389.3 L1485,3389.4 L1488,3389.5 L1491,3389.6 L1494,3389.7 L1497,3389.9 L1500,3390 L1503,3390.1 L1506,3390.2 L1509,3390.3 L1512,3390.5 L1515,3390.6 L1518,3390.7 L1521,3390.8 L1524,3390.9 L1527,3391 L1530,3391.2 L1533,3391.3 L1536,3391.4 L1539,3391.5 L1542,3391.6 L1545,3391.8 L1548,3391.9 L1551,3392 L1554,3392.1 L1557,3392.2 L1560,3392.4 L1563,3392.5 L1566,3392.6 L1569,3392.7 L1572,3392.8 L1575,3393 L1578,3393.1 L1581,3393.2 L1584,3393.3 L1587,3393.4 L1590,3393.5 L1593,3393.7 L1596,3393.8 L1599,3393.9 L1602,3394 L1605,3394.1 L1608,3394.2 L1611,3394.3 L1614,3394.4 L1617,3394.4 L1620,3394.5 L1623,3394.6 L1626,3394.7 L1629,3394.8 L1632,3394.9 L1635,3395 L1638,3395.1 L1641,3395.2 L1644,3395.2 L1647,3395.3 L1650,3395.4 L1653,3395.5 L1656,3395.6 L1659,3395.7 L1662,3395.8 L1665,3395.9 L1668,3395.9 L1671,3396 L1674,3396.1 L1677,3396.2 L1680,3396.3 L1683,3396.4 L1686,3396.5 L1689,3396.6 L1692,3396.6 L1695,3396.7 L1698,3396.8 L1701,3396.9 L1704,3397 L1707,3397 L1710,3397.1 L1713,3397.2 L1716,3397.3 L1719,3397.3 L1722,3397.4 L1725,3397.5 L1728,3397.5 L1731,3397.6 L1734,3397.6 L1737,3397.7 L1740,3397.7 L1743,3397.7 L1746,3397.8 L1749,3397.8 L1752,3397.8 L1755,3397.7 L1758,3397.7 L1761,3397.6 L1764,3397.6 L1767,3397.5 L1770,3397.3 L1773,3397.2 L1776,3397 L1779,3396.8 L1782,3396.5 L1785,3396.2 L1788,3395.8 L1791,3395.4 L1794,3394.9 L1797,3394.4 L1800,3393.8 L1803,3393.1 L1806,3392.3 L1809,3391.4 L1812,3390.4 L1815,3389.3 L1818,3388.1 L1821,3386.8 L1824,3385.3 L1827,3383.7 L1830,3382 L1833,3380.1 L1836,3378 L1839,3375.8 L1842,3373.4 L1845,3370.8 L1848,3368 L1851,3365 L1854,3361.9 L1857,3358.5 L1860,3354.9 L1863,3351.1 L1866,3347.2 L1869,3343 L1872,3338.6 L1875,3334 L1878,3329.2 L1881,3324.3 L1884,3319.1 L1887,3313.8 L1890,3308.4 L1893,3302.8 L1896,3297.1 L1899,3291.3 L1902,3285.4 L1905,3279.4 L1908,3273.5 L1911,3267.5 L1914,3261.5 L1917,3255.5 L1920,3249.6 L1923,3243.9 L1926,3238.2 L1929,3232.7 L1932,3227.4 L1935,3222.2 L1938,3217.4 L1941,3212.8 L1944,3208.5 L1947,3204.5 L1950,3200.8 L1953,3197.6 L1956,3194.7 L1959,3192.2 L1962,3190.1 L1965,3188.5 L1968,3187.3 L1971,3186.6 L1974,3186.4 L1977,3186.6 L1980,3187.4 L1983,3188.7 L1986,3190.5 L1989,3192.9 L1992,3195.7 L1995,3199 L1998,3202.8 L2001,3207 L2004,3211.5 L2007,3216.4 L2010,3221.6 L2013,3227.2 L2016,3233 L2019,3239 L2022,3245.2 L2025,3251.5 L2028,3258 L2031,3264.5 L2034,3271.1 L2037,3277.7 L2040,3284.2 L2043,3290.7 L2046,3297.2 L2049,3303.5 L2052,3309.7 L2055,3315.7 L2058,3321.5 L2061,3327.2 L2064,3332.7 L2067,3337.9 L2070,3342.9 L2073,3347.7 L2076,3352.3 L2079,3356.6 L2082,3360.7 L2085,3364.5 L2088,3368.1 L2091,3371.4 L2094,3374.6 L2097,3377.5 L2100,3380.2 L2103,3382.7 L2106,3385 L2109,3387.1 L2112,3389 L2115,3390.8 L2118,3392.4 L2121,3393.8 L2124,3395.1 L2127,3396.3 L2130,3397.4 L2133,3398.4 L2136,3399.2 L2139,3400 L2142,3400.7 L2145,3401.3 L2148,3401.8 L2151,3402.3 L2154,3402.7 L2157,3403.1 L2160,3403.4 L2163,3403.7 L2166,3404 L2169,3404.2 L2172,3404.4 L2175,3404.5 L2178,3404.7 L2181,3404.8 L2184,3404.9 L2187,3405 L2190,3405.1 L2193,3405.2 L2196,3405.2 L2199,3405.3 L2202,3405.3 L2205,3405.4 L2208,3405.4 L2211,3405.4 L2214,3405.5 L2217,3405.5 L2220,3405.5 L2223,3405.5 L2226,3405.6 L2229,3405.6 L2232,3405.6 L2235,3405.6 L2238,3405.6 L2241,3405.6 L2244,3405.7 L2247,3405.7 L2250,3405.7 L2253,3405.7 L2256,3405.7 L2259,3405.7 L2262,3405.7 L2265,3405.7 L2268,3405.8 L2271,3405.8 L2274,3405.8 L2277,3405.8 L2280,3405.8 L2283,3405.8 L2286,3405.8 L2289,3405.8 L2292,3405.8 L2295,3405.9 L2298,3405.9 L2301,3405.9 L2304,3405.9 L2307,3405.9 L2310,3405.9 L2313,3405.9 L2315,3407.5 L1377,3386.6 Z"/></clipPath><clipPath id="cp11"><path d="M1377,3385.1 L1380,3385.2 L1383,3385.4 L1386,3385.5 L1389,3385.6 L1392,3385.7 L1395,3385.8 L1398,3386 L1401,3386.1 L1404,3386.2 L1407,3386.3 L1410,3386.4 L1413,3386.6 L1416,3386.7 L1419,3386.8 L1422,3386.9 L1425,3387 L1428,3387.2 L1431,3387.3 L1434,3387.4 L1437,3387.5 L1440,3387.6 L1443,3387.7 L1446,3387.9 L1449,3388 L1452,3388.1 L1455,3388.2 L1458,3388.3 L1461,3388.5 L1464,3388.6 L1467,3388.7 L1470,3388.8 L1473,3388.9 L1476,3389.1 L1479,3389.2 L1482,3389.3 L1485,3389.4 L1488,3389.5 L1491,3389.7 L1494,3389.8 L1497,3389.9 L1500,3390 L1503,3390.1 L1506,3390.3 L1509,3390.4 L1512,3390.5 L1515,3390.6 L1518,3390.7 L1521,3390.9 L1524,3391 L1527,3391.1 L1530,3391.2 L1533,3391.3 L1536,3391.4 L1539,3391.6 L1542,3391.7 L1545,3391.8 L1548,3391.9 L1551,3392 L1554,3392.1 L1557,3392.3 L1560,3392.4 L1563,3392.5 L1566,3392.6 L1569,3392.7 L1572,3392.8 L1575,3392.9 L1578,3393 L1581,3393.2 L1584,3393.3 L1587,3393.4 L1590,3393.5 L1593,3393.6 L1596,3393.6 L1599,3393.7 L1602,3393.8 L1605,3393.9 L1608,3393.9 L1611,3394 L1614,3394 L1617,3394 L1620,3394 L1623,3394.1 L1626,3394.1 L1629,3394 L1632,3394 L1635,3394 L1638,3393.9 L1641,3393.9 L1644,3393.8 L1647,3393.7 L1650,3393.6 L1653,3393.4 L1656,3393.3 L1659,3393.1 L1662,3392.8 L1665,3392.6 L1668,3392.3 L1671,3391.9 L1674,3391.5 L1677,3391.1 L1680,3390.6 L1683,3390.1 L1686,3389.5 L1689,3388.9 L1692,3388.1 L1695,3387.3 L1698,3386.5 L1701,3385.5 L1704,3384.5 L1707,3383.3 L1710,3382.1 L1713,3380.8 L1716,3379.3 L1719,3377.8 L1722,3376.1 L1725,3374.3 L1728,3372.3 L1731,3370.3 L1734,3368 L1737,3365.7 L1740,3363.1 L1743,3360.4 L1746,3357.5 L1749,3354.5 L1752,3351.3 L1755,3347.9 L1758,3344.3 L1761,3340.5 L1764,3336.5 L1767,3332.3 L1770,3328 L1773,3323.4 L1776,3318.6 L1779,3313.6 L1782,3308.5 L1785,3303.1 L1788,3297.5 L1791,3291.8 L1794,3285.9 L1797,3279.7 L1800,3273.5 L1803,3267 L1806,3260.4 L1809,3253.6 L1812,3246.7 L1815,3239.7 L1818,3232.5 L1821,3225.3 L1824,3218 L1827,3210.6 L1830,3203.2 L1833,3195.8 L1836,3188.4 L1839,3180.9 L1842,3173.5 L1845,3166.2 L1848,3158.9 L1851,3151.7 L1854,3144.7 L1857,3137.8 L1860,3131 L1863,3124.4 L1866,3118.1 L1869,3112 L1872,3106.1 L1875,3100.5 L1878,3095.2 L1881,3090.2 L1884,3085.5 L1887,3081.2 L1890,3077.2 L1893,3073.6 L1896,3070.5 L1899,3067.7 L1902,3065.3 L1905,3063.4 L1908,3061.9 L1911,3060.8 L1914,3060.2 L1917,3060 L1920,3060.3 L1923,3061.1 L1926,3062.3 L1929,3064 L1932,3066.1 L1935,3068.6 L1938,3071.6 L1941,3075.1 L1944,3078.9 L1947,3083.1 L1950,3087.7 L1953,3092.6 L1956,3097.9 L1959,3103.5 L1962,3109.4 L1965,3115.6 L1968,3122 L1971,3128.7 L1974,3135.6 L1977,3142.7 L1980,3149.9 L1983,3157.3 L1986,3164.8 L1989,3172.4 L1992,3180 L1995,3187.7 L1998,3195.4 L2001,3203.1 L2004,3210.8 L2007,3218.4 L2010,3226 L2013,3233.4 L2016,3240.8 L2019,3248.1 L2022,3255.3 L2025,3262.3 L2028,3269.2 L2031,3276 L2034,3282.5 L2037,3288.9 L2040,3295.1 L2043,3301.2 L2046,3307 L2049,3312.6 L2052,3318 L2055,3323.2 L2058,3328.3 L2061,3333.1 L2064,3337.7 L2067,3342 L2070,3346.2 L2073,3350.2 L2076,3354 L2079,3357.6 L2082,3361 L2085,3364.2 L2088,3367.2 L2091,3370.1 L2094,3372.8 L2097,3375.3 L2100,3377.7 L2103,3379.9 L2106,3382 L2109,3383.9 L2112,3385.7 L2115,3387.4 L2118,3388.9 L2121,3390.4 L2124,3391.7 L2127,3393 L2130,3394.1 L2133,3395.2 L2136,3396.1 L2139,3397 L2142,3397.8 L2145,3398.6 L2148,3399.3 L2151,3399.9 L2154,3400.5 L2157,3401 L2160,3401.5 L2163,3401.9 L2166,3402.3 L2169,3402.6 L2172,3403 L2175,3403.3 L2178,3403.5 L2181,3403.8 L2184,3404 L2187,3404.2 L2190,3404.3 L2193,3404.5 L2196,3404.6 L2199,3404.8 L2202,3404.9 L2205,3405 L2208,3405.1 L2211,3405.1 L2214,3405.2 L2217,3405.3 L2220,3405.3 L2223,3405.4 L2226,3405.5 L2229,3405.5 L2232,3405.5 L2235,3405.6 L2238,3405.6 L2241,3405.6 L2244,3405.7 L2247,3405.7 L2250,3405.7 L2253,3405.7 L2256,3405.7 L2259,3405.8 L2262,3405.8 L2265,3405.8 L2268,3405.8 L2271,3405.8 L2274,3405.8 L2277,3405.9 L2280,3405.9 L2283,3405.9 L2286,3405.9 L2289,3405.9 L2292,3405.9 L2295,3405.9 L2298,3405.9 L2301,3405.9 L2304,3406 L2307,3406 L2310,3406 L2313,3406 L2315,3407.5 L1377,3386.6 Z"/></clipPath><clipPath id="cp12"><path d="M1377,3380.8 L1380,3380.8 L1383,3380.8 L1386,3380.8 L1389,3380.8 L1392,3380.8 L1395,3380.7 L1398,3380.7 L1401,3380.7 L1404,3380.6 L1407,3380.6 L1410,3380.5 L1413,3380.4 L1416,3380.3 L1419,3380.3 L1422,3380.1 L1425,3380 L1428,3379.9 L1431,3379.8 L1434,3379.6 L1437,3379.4 L1440,3379.2 L1443,3379 L1446,3378.8 L1449,3378.6 L1452,3378.3 L1455,3378 L1458,3377.7 L1461,3377.4 L1464,3377.1 L1467,3376.7 L1470,3376.3 L1473,3375.9 L1476,3375.5 L1479,3375 L1482,3374.5 L1485,3374 L1488,3373.5 L1491,3372.9 L1494,3372.3 L1497,3371.6 L1500,3371 L1503,3370.2 L1506,3369.5 L1509,3368.7 L1512,3367.9 L1515,3367 L1518,3366.1 L1521,3365.2 L1524,3364.2 L1527,3363.1 L1530,3362.1 L1533,3360.9 L1536,3359.8 L1539,3358.6 L1542,3357.3 L1545,3356 L1548,3354.6 L1551,3353.2 L1554,3351.7 L1557,3350.2 L1560,3348.7 L1563,3347 L1566,3345.4 L1569,3343.6 L1572,3341.9 L1575,3340 L1578,3338.1 L1581,3336.2 L1584,3334.2 L1587,3332.2 L1590,3330.1 L1593,3327.9 L1596,3325.7 L1599,3323.4 L1602,3321.1 L1605,3318.7 L1608,3316.3 L1611,3313.8 L1614,3311.3 L1617,3308.7 L1620,3306.1 L1623,3303.4 L1626,3300.7 L1629,3297.9 L1632,3295.1 L1635,3292.3 L1638,3289.5 L1641,3286.6 L1644,3283.7 L1647,3280.8 L1650,3277.8 L1653,3274.8 L1656,3271.8 L1659,3268.8 L1662,3265.8 L1665,3262.8 L1668,3259.8 L1671,3256.7 L1674,3253.7 L1677,3250.7 L1680,3247.7 L1683,3244.7 L1686,3241.7 L1689,3238.8 L1692,3235.9 L1695,3233 L1698,3230.1 L1701,3227.3 L1704,3224.6 L1707,3221.9 L1710,3219.2 L1713,3216.6 L1716,3214.1 L1719,3211.6 L1722,3209.2 L1725,3206.9 L1728,3204.7 L1731,3202.6 L1734,3200.5 L1737,3198.6 L1740,3196.7 L1743,3195 L1746,3193.3 L1749,3191.8 L1752,3190.4 L1755,3189.1 L1758,3187.9 L1761,3186.8 L1764,3185.9 L1767,3185.1 L1770,3184.4 L1773,3183.9 L1776,3183.5 L1779,3183.2 L1782,3183.1 L1785,3183.1 L1788,3183.3 L1791,3183.5 L1794,3183.9 L1797,3184.3 L1800,3184.9 L1803,3185.5 L1806,3186.2 L1809,3187.1 L1812,3188 L1815,3189.1 L1818,3190.2 L1821,3191.4 L1824,3192.7 L1827,3194.2 L1830,3195.7 L1833,3197.2 L1836,3198.9 L1839,3200.6 L1842,3202.5 L1845,3204.4 L1848,3206.3 L1851,3208.4 L1854,3210.5 L1857,3212.6 L1860,3214.9 L1863,3217.1 L1866,3219.5 L1869,3221.9 L1872,3224.3 L1875,3226.8 L1878,3229.3 L1881,3231.9 L1884,3234.4 L1887,3237.1 L1890,3239.7 L1893,3242.4 L1896,3245.1 L1899,3247.8 L1902,3250.6 L1905,3253.3 L1908,3256.1 L1911,3258.9 L1914,3261.7 L1917,3264.5 L1920,3267.3 L1923,3270.1 L1926,3272.9 L1929,3275.7 L1932,3278.4 L1935,3281.2 L1938,3284 L1941,3286.7 L1944,3289.5 L1947,3292.2 L1950,3294.9 L1953,3297.5 L1956,3300.2 L1959,3302.8 L1962,3305.4 L1965,3308 L1968,3310.5 L1971,3313.1 L1974,3315.5 L1977,3318 L1980,3320.4 L1983,3322.8 L1986,3325.1 L1989,3327.5 L1992,3329.7 L1995,3332 L1998,3334.2 L2001,3336.3 L2004,3338.4 L2007,3340.4 L2010,3342.3 L2013,3344.3 L2016,3346.2 L2019,3348 L2022,3349.8 L2025,3351.6 L2028,3353.3 L2031,3355 L2034,3356.7 L2037,3358.3 L2040,3359.9 L2043,3361.4 L2046,3362.9 L2049,3364.3 L2052,3365.7 L2055,3367.1 L2058,3368.4 L2061,3369.7 L2064,3371 L2067,3372.2 L2070,3373.4 L2073,3374.5 L2076,3375.6 L2079,3376.7 L2082,3377.7 L2085,3378.7 L2088,3379.7 L2091,3380.6 L2094,3381.5 L2097,3382.4 L2100,3383.3 L2103,3384.1 L2106,3384.9 L2109,3385.6 L2112,3386.4 L2115,3387.1 L2118,3387.7 L2121,3388.4 L2124,3389 L2127,3389.6 L2130,3390.2 L2133,3390.8 L2136,3391.3 L2139,3391.8 L2142,3392.3 L2145,3392.8 L2148,3393.3 L2151,3393.7 L2154,3394.1 L2157,3394.5 L2160,3394.9 L2163,3395.3 L2166,3395.7 L2169,3396 L2172,3396.3 L2175,3396.6 L2178,3396.9 L2181,3397.2 L2184,3397.5 L2187,3397.8 L2190,3398 L2193,3398.3 L2196,3398.5 L2199,3398.7 L2202,3398.9 L2205,3399.1 L2208,3399.3 L2211,3399.5 L2214,3399.7 L2217,3399.9 L2220,3400 L2223,3400.2 L2226,3400.3 L2229,3400.5 L2232,3400.6 L2235,3400.8 L2238,3400.9 L2241,3401 L2244,3401.1 L2247,3401.2 L2250,3401.3 L2253,3401.5 L2256,3401.6 L2259,3401.7 L2262,3401.7 L2265,3401.8 L2268,3401.9 L2271,3402 L2274,3402.1 L2277,3402.2 L2280,3402.2 L2283,3402.3 L2286,3402.4 L2289,3402.4 L2292,3402.5 L2295,3402.6 L2298,3402.6 L2301,3402.7 L2304,3402.8 L2307,3402.8 L2310,3402.9 L2313,3402.9 L2315,3407.5 L1377,3386.6 Z"/></clipPath></defs><rect width="100%" height="100%" fill="#fff"/><text x="74" y="60.5" font-size="47" font-weight="bold" text-anchor="start" fill="#000" >a</text><rect x="201" y="129" width="948.5" height="700" fill="none" stroke="#000" stroke-width="7.5"/><line x1="201" y1="793.5" x2="186.5" y2="793.5" stroke="#000" stroke-width="7.5" stroke-linecap="butt"/><text x="173.5" y="804.5" font-size="37.5" font-weight="normal" text-anchor="end" fill="#000" stroke="#000" stroke-width="1.2">0</text><line x1="201" y1="660.6" x2="186.5" y2="660.6" stroke="#000" stroke-width="7.5" stroke-linecap="butt"/><text x="173.5" y="671.6" font-size="37.5" font-weight="normal" text-anchor="end" fill="#000" stroke="#000" stroke-width="1.2">200</text><line x1="201" y1="527.7" x2="186.5" y2="527.7" stroke="#000" stroke-width="7.5" stroke-linecap="butt"/><text x="173.5" y="538.7" font-size="37.5" font-weight="normal" text-anchor="end" fill="#000" stroke="#000" stroke-width="1.2">400</text><line x1="201" y1="394.8" x2="186.5" y2="394.8" stroke="#000" stroke-width="7.5" stroke-linecap="butt"/><text x="173.5" y="405.8" font-size="37.5" font-weight="normal" text-anchor="end" fill="#000" stroke="#000" stroke-width="1.2">600</text><line x1="201" y1="261.9" x2="186.5" y2="261.9" stroke="#000" stroke-width="7.5" stroke-linecap="butt"/><text x="173.5" y="272.9" font-size="37.5" font-weight="normal" text-anchor="end" fill="#000" stroke="#000" stroke-width="1.2">800</text><line x1="201" y1="129" x2="186.5" y2="129" stroke="#000" stroke-width="7.5" stroke-linecap="butt"/><text x="173.5" y="140" font-size="37.5" font-weight="normal" text-anchor="end" fill="#000" stroke="#000" stroke-width="1.2">1000</text><line x1="201" y1="727" x2="193.5" y2="727" stroke="#000" stroke-width="6" stroke-linecap="butt"/><line x1="201" y1="594.1" x2="193.5" y2="594.1" stroke="#000" stroke-width="6" stroke-linecap="butt"/><line x1="201" y1="461.2" x2="193.5" y2="461.2" stroke="#000" stroke-width="6" stroke-linecap="butt"/><line x1="201" y1="328.4" x2="193.5" y2="328.4" stroke="#000" stroke-width="6" stroke-linecap="butt"/><line x1="201" y1="195.5" x2="193.5" y2="195.5" stroke="#000" stroke-width="6" stroke-linecap="butt"/><line x1="201" y1="829" x2="201" y2="842.5" stroke="#000" stroke-width="7.5" stroke-linecap="butt"/><text x="201" y="881.5" font-size="37.5" font-weight="normal" text-anchor="middle" fill="#000" stroke="#000" stroke-width="1.2">0.0</text><line x1="390.5" y1="829" x2="390.5" y2="842.5" stroke="#000" stroke-width="7.5" stroke-linecap="butt"/><text x="390.5" y="881.5" font-size="37.5" font-weight="normal" text-anchor="middle" fill="#000" stroke="#000" stroke-width="1.2">0.2</text><line x1="580" y1="829" x2="580" y2="842.5" stroke="#000" stroke-width="7.5" stroke-linecap="butt"/><text x="580" y="881.5" font-size="37.5" font-weight="normal" text-anchor="middle" fill="#000" stroke="#000" stroke-width="1.2">0.4</text><line x1="769.5" y1="829" x2="769.5" y2="842.5" stroke="#000" stroke-width="7.5" stroke-linecap="butt"/><text x="769.5" y="881.5" font-size="37.5" font-weight="normal" text-anchor="middle" fill="#000" stroke="#000" stroke-width="1.2">0.6</text><line x1="959" y1="829" x2="959" y2="842.5" stroke="#000" stroke-width="7.5" stroke-linecap="butt"/><text x="959" y="881.5" font-size="37.5" font-weight="normal" text-anchor="middle" fill="#000" stroke="#000" stroke-width="1.2">0.8</text><line x1="1148.5" y1="829" x2="1148.5" y2="842.5" stroke="#000" stroke-width="7.5" stroke-linecap="butt"/><text x="1148.5" y="881.5" font-size="37.5" font-weight="normal" text-anchor="middle" fill="#000" stroke="#000" stroke-width="1.2">1.0</text><line x1="295.8" y1="829" x2="295.8" y2="836.5" stroke="#000" stroke-width="6" stroke-linecap="butt"/><line x1="485.3" y1="829" x2="485.3" y2="836.5" stroke="#000" stroke-width="6" stroke-linecap="butt"/><line x1="674.8" y1="829" x2="674.8" y2="836.5" stroke="#000" stroke-width="6" stroke-linecap="butt"/><line x1="864.3" y1="829" x2="864.3" y2="836.5" stroke="#000" stroke-width="6" stroke-linecap="butt"/><line x1="1053.8" y1="829" x2="1053.8" y2="836.5" stroke="#000" stroke-width="6" stroke-linecap="butt"/><text x="418" y="925" font-size="40" font-weight="bold" text-anchor="start" fill="#000" textLength="358" lengthAdjust="spacing" >Relative pressure</text><text x="790" y="925" font-size="51" font-weight="normal" text-anchor="start" fill="#000" >(</text><text x="811" y="925" font-size="40" font-weight="bold" text-anchor="start" fill="#000" textLength="64" lengthAdjust="spacing" >P/P</text><text x="878" y="938" font-size="30" font-weight="bold" text-anchor="start" fill="#000" >0</text><text x="893" y="925" font-size="51" font-weight="normal" text-anchor="start" fill="#000" >)</text><text transform="translate(70 824.5) rotate(-90)" x="0" y="0" font-size="44" font-weight="bold" text-anchor="start" fill="#000" textLength="403" lengthAdjust="spacing" >Quantity absorbed</text><text transform="translate(70 418) rotate(-90)" x="0" y="0" font-size="53" font-weight="normal" text-anchor="start" fill="#000" >(</text><text transform="translate(70 402.5) rotate(-90)" x="0" y="0" font-size="44" font-weight="bold" text-anchor="start" fill="#000" textLength="58.5" lengthAdjust="spacingAndGlyphs" >cm</text><text transform="translate(50 339.5) rotate(-90)" x="0" y="0" font-size="29" font-weight="bold" text-anchor="start" fill="#000" >3</text><text transform="translate(70 311) rotate(-90)" x="0" y="0" font-size="44" font-weight="bold" text-anchor="start" fill="#000" >g</text><text transform="translate(50 284.5) rotate(-90)" x="0" y="0" font-size="29" font-weight="bold" text-anchor="start" fill="#000" textLength="32.5" lengthAdjust="spacingAndGlyphs" >−1</text><text transform="translate(70 237) rotate(-90)" x="0" y="0" font-size="44" font-weight="bold" text-anchor="start" fill="#000" textLength="82" lengthAdjust="spacingAndGlyphs" >STP</text><text transform="translate(70 154.5) rotate(-90)" x="0" y="0" font-size="53" font-weight="normal" text-anchor="start" fill="#000" >)</text><polyline points="203.8,592 206.7,556 210.5,532 219.9,508 229.4,495 238.9,484 248.4,474 267.3,456 295.8,440 343.1,420 390.5,407.5 437.9,400 485.3,395 532.6,391.5 580,388.5 627.4,386 674.8,383.5 722.1,382.5 769.5,381.5 816.9,381 864.3,380 911.6,379 959,378.5 1006.4,377.5 1053.8,376.5 1101.1,372.5 1148.5,361.5" fill="none" stroke="#c05c0e" stroke-width="10.5" stroke-linejoin="round" stroke-linecap="round" /><polyline points="203.8,585 206.7,548 210.5,522 219.9,499 229.4,488 238.9,478 248.4,468 267.3,449 295.8,427.5 343.1,401.5 390.5,381.5 437.9,369.5 485.3,362 532.6,356.5 580,352 627.4,346 674.8,341 722.1,338.5 769.5,337 816.9,335.5 864.3,334.5 911.6,333 959,330.5 1006.4,328.5 1053.8,325.5 1101.1,319.5 1148.5,305.5" fill="none" stroke="#8fc04e" stroke-width="12" stroke-linejoin="round" stroke-linecap="round" /><polyline points="203.8,580 206.7,545 210.5,520 219.9,497 229.4,486 238.9,476 248.4,466 267.3,447 295.8,425 343.1,400 390.5,380 437.9,362 485.3,345 532.6,330 580,316 627.4,301.5 674.8,289 722.1,276.5 769.5,267.5 816.9,259 864.3,251 911.6,243.5 959,238.5 1006.4,233 1053.8,226 1101.1,220 1148.5,197.5" fill="none" stroke="#45942a" stroke-width="8" stroke-linejoin="round" stroke-linecap="round" /><polyline points="295.8,423 343.1,398 390.5,378 437.9,358 485.3,340 532.6,322 580,305 627.4,278.5 674.8,255 722.1,248.5 769.5,243 816.9,236.5 864.3,231.5 911.6,227.5 959,223 1006.4,220 1053.8,216 1101.1,211 1148.5,197.5" fill="none" stroke="#45942a" stroke-width="8" stroke-linejoin="round" stroke-linecap="round" /><circle cx="203.8" cy="592" r="7" fill="#c05c0e"/><circle cx="203.8" cy="592" r="2.3" fill="#ffffff" fill-opacity="0.6"/><circle cx="206.7" cy="556" r="7" fill="#c05c0e"/><circle cx="206.7" cy="556" r="2.3" fill="#ffffff" fill-opacity="0.6"/><circle cx="210.5" cy="532" r="7" fill="#c05c0e"/><circle cx="210.5" cy="532" r="2.3" fill="#ffffff" fill-opacity="0.6"/><circle cx="219.9" cy="508" r="7" fill="#c05c0e"/><circle cx="219.9" cy="508" r="2.3" fill="#ffffff" fill-opacity="0.6"/><circle cx="229.4" cy="495" r="7" fill="#c05c0e"/><circle cx="229.4" cy="495" r="2.3" fill="#ffffff" fill-opacity="0.6"/><circle cx="238.9" cy="484" r="7" fill="#c05c0e"/><circle cx="238.9" cy="484" r="2.3" fill="#ffffff" fill-opacity="0.6"/><circle cx="248.4" cy="474" r="7" fill="#c05c0e"/><circle cx="248.4" cy="474" r="2.3" fill="#ffffff" fill-opacity="0.6"/><circle cx="267.3" cy="456" r="7" fill="#c05c0e"/><circle cx="267.3" cy="456" r="2.3" fill="#ffffff" fill-opacity="0.6"/><circle cx="295.8" cy="440" r="7" fill="#c05c0e"/><circle cx="295.8" cy="440" r="2.3" fill="#ffffff" fill-opacity="0.6"/><circle cx="343.1" cy="420" r="7" fill="#c05c0e"/><circle cx="343.1" cy="420" r="2.3" fill="#ffffff" fill-opacity="0.6"/><circle cx="390.5" cy="407.5" r="7" fill="#c05c0e"/><circle cx="390.5" cy="407.5" r="2.3" fill="#ffffff" fill-opacity="0.6"/><circle cx="437.9" cy="400" r="7" fill="#c05c0e"/><circle cx="437.9" cy="400" r="2.3" fill="#ffffff" fill-opacity="0.6"/><circle cx="485.3" cy="395" r="7" fill="#c05c0e"/><circle cx="485.3" cy="395" r="2.3" fill="#ffffff" fill-opacity="0.6"/><circle cx="532.6" cy="391.5" r="7" fill="#c05c0e"/><circle cx="532.6" cy="391.5" r="2.3" fill="#ffffff" fill-opacity="0.6"/><circle cx="580" cy="388.5" r="7" fill="#c05c0e"/><circle cx="580" cy="388.5" r="2.3" fill="#ffffff" fill-opacity="0.6"/><circle cx="627.4" cy="386" r="7" fill="#c05c0e"/><circle cx="627.4" cy="386" r="2.3" fill="#ffffff" fill-opacity="0.6"/><circle cx="674.8" cy="383.5" r="7" fill="#c05c0e"/><circle cx="674.8" cy="383.5" r="2.3" fill="#ffffff" fill-opacity="0.6"/><circle cx="722.1" cy="382.5" r="7" fill="#c05c0e"/><circle cx="722.1" cy="382.5" r="2.3" fill="#ffffff" fill-opacity="0.6"/><circle cx="769.5" cy="381.5" r="7" fill="#c05c0e"/><circle cx="769.5" cy="381.5" r="2.3" fill="#ffffff" fill-opacity="0.6"/><circle cx="816.9" cy="381" r="7" fill="#c05c0e"/><circle cx="816.9" cy="381" r="2.3" fill="#ffffff" fill-opacity="0.6"/><circle cx="864.3" cy="380" r="7" fill="#c05c0e"/><circle cx="864.3" cy="380" r="2.3" fill="#ffffff" fill-opacity="0.6"/><circle cx="911.6" cy="379" r="7" fill="#c05c0e"/><circle cx="911.6" cy="379" r="2.3" fill="#ffffff" fill-opacity="0.6"/><circle cx="959" cy="378.5" r="7" fill="#c05c0e"/><circle cx="959" cy="378.5" r="2.3" fill="#ffffff" fill-opacity="0.6"/><circle cx="1006.4" cy="377.5" r="7" fill="#c05c0e"/><circle cx="1006.4" cy="377.5" r="2.3" fill="#ffffff" fill-opacity="0.6"/><circle cx="1053.8" cy="376.5" r="7" fill="#c05c0e"/><circle cx="1053.8" cy="376.5" r="2.3" fill="#ffffff" fill-opacity="0.6"/><circle cx="1101.1" cy="372.5" r="7" fill="#c05c0e"/><circle cx="1101.1" cy="372.5" r="2.3" fill="#ffffff" fill-opacity="0.6"/><circle cx="1148.5" cy="361.5" r="7" fill="#c05c0e"/><circle cx="1148.5" cy="361.5" r="2.3" fill="#ffffff" fill-opacity="0.6"/><circle cx="203.8" cy="585" r="7" fill="#8fc04e"/><circle cx="203.8" cy="585" r="2.3" fill="#ffffff" fill-opacity="0.6"/><circle cx="206.7" cy="548" r="7" fill="#8fc04e"/><circle cx="206.7" cy="548" r="2.3" fill="#ffffff" fill-opacity="0.6"/><circle cx="210.5" cy="522" r="7" fill="#8fc04e"/><circle cx="210.5" cy="522" r="2.3" fill="#ffffff" fill-opacity="0.6"/><circle cx="219.9" cy="499" r="7" fill="#8fc04e"/><circle cx="219.9" cy="499" r="2.3" fill="#ffffff" fill-opacity="0.6"/><circle cx="229.4" cy="488" r="7" fill="#8fc04e"/><circle cx="229.4" cy="488" r="2.3" fill="#ffffff" fill-opacity="0.6"/><circle cx="238.9" cy="478" r="7" fill="#8fc04e"/><circle cx="238.9" cy="478" r="2.3" fill="#ffffff" fill-opacity="0.6"/><circle cx="248.4" cy="468" r="7" fill="#8fc04e"/><circle cx="248.4" cy="468" r="2.3" fill="#ffffff" fill-opacity="0.6"/><circle cx="267.3" cy="449" r="7" fill="#8fc04e"/><circle cx="267.3" cy="449" r="2.3" fill="#ffffff" fill-opacity="0.6"/><circle cx="295.8" cy="427.5" r="7" fill="#8fc04e"/><circle cx="295.8" cy="427.5" r="2.3" fill="#ffffff" fill-opacity="0.6"/><circle cx="343.1" cy="401.5" r="7" fill="#8fc04e"/><circle cx="343.1" cy="401.5" r="2.3" fill="#ffffff" fill-opacity="0.6"/><circle cx="390.5" cy="381.5" r="7" fill="#8fc04e"/><circle cx="390.5" cy="381.5" r="2.3" fill="#ffffff" fill-opacity="0.6"/><circle cx="437.9" cy="369.5" r="7" fill="#8fc04e"/><circle cx="437.9" cy="369.5" r="2.3" fill="#ffffff" fill-opacity="0.6"/><circle cx="485.3" cy="362" r="7" fill="#8fc04e"/><circle cx="485.3" cy="362" r="2.3" fill="#ffffff" fill-opacity="0.6"/><circle cx="532.6" cy="356.5" r="7" fill="#8fc04e"/><circle cx="532.6" cy="356.5" r="2.3" fill="#ffffff" fill-opacity="0.6"/><circle cx="580" cy="352" r="7" fill="#8fc04e"/><circle cx="580" cy="352" r="2.3" fill="#ffffff" fill-opacity="0.6"/><circle cx="627.4" cy="346" r="7" fill="#8fc04e"/><circle cx="627.4" cy="346" r="2.3" fill="#ffffff" fill-opacity="0.6"/><circle cx="674.8" cy="341" r="7" fill="#8fc04e"/><circle cx="674.8" cy="341" r="2.3" fill="#ffffff" fill-opacity="0.6"/><circle cx="722.1" cy="338.5" r="7" fill="#8fc04e"/><circle cx="722.1" cy="338.5" r="2.3" fill="#ffffff" fill-opacity="0.6"/><circle cx="769.5" cy="337" r="7" fill="#8fc04e"/><circle cx="769.5" cy="337" r="2.3" fill="#ffffff" fill-opacity="0.6"/><circle cx="816.9" cy="335.5" r="7" fill="#8fc04e"/><circle cx="816.9" cy="335.5" r="2.3" fill="#ffffff" fill-opacity="0.6"/><circle cx="864.3" cy="334.5" r="7" fill="#8fc04e"/><circle cx="864.3" cy="334.5" r="2.3" fill="#ffffff" fill-opacity="0.6"/><circle cx="911.6" cy="333" r="7" fill="#8fc04e"/><circle cx="911.6" cy="333" r="2.3" fill="#ffffff" fill-opacity="0.6"/><circle cx="959" cy="330.5" r="7" fill="#8fc04e"/><circle cx="959" cy="330.5" r="2.3" fill="#ffffff" fill-opacity="0.6"/><circle cx="1006.4" cy="328.5" r="7" fill="#8fc04e"/><circle cx="1006.4" cy="328.5" r="2.3" fill="#ffffff" fill-opacity="0.6"/><circle cx="1053.8" cy="325.5" r="7" fill="#8fc04e"/><circle cx="1053.8" cy="325.5" r="2.3" fill="#ffffff" fill-opacity="0.6"/><circle cx="1101.1" cy="319.5" r="7" fill="#8fc04e"/><circle cx="1101.1" cy="319.5" r="2.3" fill="#ffffff" fill-opacity="0.6"/><circle cx="1148.5" cy="305.5" r="7" fill="#8fc04e"/><circle cx="1148.5" cy="305.5" r="2.3" fill="#ffffff" fill-opacity="0.6"/><circle cx="203.8" cy="580" r="7" fill="#45942a"/><circle cx="203.8" cy="580" r="2.3" fill="#ffffff" fill-opacity="0.6"/><circle cx="206.7" cy="545" r="7" fill="#45942a"/><circle cx="206.7" cy="545" r="2.3" fill="#ffffff" fill-opacity="0.6"/><circle cx="210.5" cy="520" r="7" fill="#45942a"/><circle cx="210.5" cy="520" r="2.3" fill="#ffffff" fill-opacity="0.6"/><circle cx="219.9" cy="497" r="7" fill="#45942a"/><circle cx="219.9" cy="497" r="2.3" fill="#ffffff" fill-opacity="0.6"/><circle cx="229.4" cy="486" r="7" fill="#45942a"/><circle cx="229.4" cy="486" r="2.3" fill="#ffffff" fill-opacity="0.6"/><circle cx="238.9" cy="476" r="7" fill="#45942a"/><circle cx="238.9" cy="476" r="2.3" fill="#ffffff" fill-opacity="0.6"/><circle cx="248.4" cy="466" r="7" fill="#45942a"/><circle cx="248.4" cy="466" r="2.3" fill="#ffffff" fill-opacity="0.6"/><circle cx="267.3" cy="447" r="7" fill="#45942a"/><circle cx="267.3" cy="447" r="2.3" fill="#ffffff" fill-opacity="0.6"/><circle cx="295.8" cy="425" r="7" fill="#45942a"/><circle cx="295.8" cy="425" r="2.3" fill="#ffffff" fill-opacity="0.6"/><circle cx="343.1" cy="400" r="7" fill="#45942a"/><circle cx="343.1" cy="400" r="2.3" fill="#ffffff" fill-opacity="0.6"/><circle cx="390.5" cy="380" r="7" fill="#45942a"/><circle cx="390.5" cy="380" r="2.3" fill="#ffffff" fill-opacity="0.6"/><circle cx="437.9" cy="362" r="7" fill="#45942a"/><circle cx="437.9" cy="362" r="2.3" fill="#ffffff" fill-opacity="0.6"/><circle cx="485.3" cy="345" r="7" fill="#45942a"/><circle cx="485.3" cy="345" r="2.3" fill="#ffffff" fill-opacity="0.6"/><circle cx="532.6" cy="330" r="7" fill="#45942a"/><circle cx="532.6" cy="330" r="2.3" fill="#ffffff" fill-opacity="0.6"/><circle cx="580" cy="316" r="7" fill="#45942a"/><circle cx="580" cy="316" r="2.3" fill="#ffffff" fill-opacity="0.6"/><circle cx="627.4" cy="301.5" r="7" fill="#45942a"/><circle cx="627.4" cy="301.5" r="2.3" fill="#ffffff" fill-opacity="0.6"/><circle cx="674.8" cy="289" r="7" fill="#45942a"/><circle cx="674.8" cy="289" r="2.3" fill="#ffffff" fill-opacity="0.6"/><circle cx="722.1" cy="276.5" r="7" fill="#45942a"/><circle cx="722.1" cy="276.5" r="2.3" fill="#ffffff" fill-opacity="0.6"/><circle cx="769.5" cy="267.5" r="7" fill="#45942a"/><circle cx="769.5" cy="267.5" r="2.3" fill="#ffffff" fill-opacity="0.6"/><circle cx="816.9" cy="259" r="7" fill="#45942a"/><circle cx="816.9" cy="259" r="2.3" fill="#ffffff" fill-opacity="0.6"/><circle cx="864.3" cy="251" r="7" fill="#45942a"/><circle cx="864.3" cy="251" r="2.3" fill="#ffffff" fill-opacity="0.6"/><circle cx="911.6" cy="243.5" r="7" fill="#45942a"/><circle cx="911.6" cy="243.5" r="2.3" fill="#ffffff" fill-opacity="0.6"/><circle cx="959" cy="238.5" r="7" fill="#45942a"/><circle cx="959" cy="238.5" r="2.3" fill="#ffffff" fill-opacity="0.6"/><circle cx="1006.4" cy="233" r="7" fill="#45942a"/><circle cx="1006.4" cy="233" r="2.3" fill="#ffffff" fill-opacity="0.6"/><circle cx="1053.8" cy="226" r="7" fill="#45942a"/><circle cx="1053.8" cy="226" r="2.3" fill="#ffffff" fill-opacity="0.6"/><circle cx="1101.1" cy="220" r="7" fill="#45942a"/><circle cx="1101.1" cy="220" r="2.3" fill="#ffffff" fill-opacity="0.6"/><circle cx="1148.5" cy="197.5" r="7" fill="#45942a"/><circle cx="1148.5" cy="197.5" r="2.3" fill="#ffffff" fill-opacity="0.6"/><circle cx="295.8" cy="423" r="7" fill="#45942a"/><circle cx="295.8" cy="423" r="2.3" fill="#ffffff" fill-opacity="0.6"/><circle cx="343.1" cy="398" r="7" fill="#45942a"/><circle cx="343.1" cy="398" r="2.3" fill="#ffffff" fill-opacity="0.6"/><circle cx="390.5" cy="378" r="7" fill="#45942a"/><circle cx="390.5" cy="378" r="2.3" fill="#ffffff" fill-opacity="0.6"/><circle cx="437.9" cy="358" r="7" fill="#45942a"/><circle cx="437.9" cy="358" r="2.3" fill="#ffffff" fill-opacity="0.6"/><circle cx="485.3" cy="340" r="7" fill="#45942a"/><circle cx="485.3" cy="340" r="2.3" fill="#ffffff" fill-opacity="0.6"/><circle cx="532.6" cy="322" r="7" fill="#45942a"/><circle cx="532.6" cy="322" r="2.3" fill="#ffffff" fill-opacity="0.6"/><circle cx="580" cy="305" r="7" fill="#45942a"/><circle cx="580" cy="305" r="2.3" fill="#ffffff" fill-opacity="0.6"/><circle cx="627.4" cy="278.5" r="7" fill="#45942a"/><circle cx="627.4" cy="278.5" r="2.3" fill="#ffffff" fill-opacity="0.6"/><circle cx="674.8" cy="255" r="7" fill="#45942a"/><circle cx="674.8" cy="255" r="2.3" fill="#ffffff" fill-opacity="0.6"/><circle cx="722.1" cy="248.5" r="7" fill="#45942a"/><circle cx="722.1" cy="248.5" r="2.3" fill="#ffffff" fill-opacity="0.6"/><circle cx="769.5" cy="243" r="7" fill="#45942a"/><circle cx="769.5" cy="243" r="2.3" fill="#ffffff" fill-opacity="0.6"/><circle cx="816.9" cy="236.5" r="7" fill="#45942a"/><circle cx="816.9" cy="236.5" r="2.3" fill="#ffffff" fill-opacity="0.6"/><circle cx="864.3" cy="231.5" r="7" fill="#45942a"/><circle cx="864.3" cy="231.5" r="2.3" fill="#ffffff" fill-opacity="0.6"/><circle cx="911.6" cy="227.5" r="7" fill="#45942a"/><circle cx="911.6" cy="227.5" r="2.3" fill="#ffffff" fill-opacity="0.6"/><circle cx="959" cy="223" r="7" fill="#45942a"/><circle cx="959" cy="223" r="2.3" fill="#ffffff" fill-opacity="0.6"/><circle cx="1006.4" cy="220" r="7" fill="#45942a"/><circle cx="1006.4" cy="220" r="2.3" fill="#ffffff" fill-opacity="0.6"/><circle cx="1053.8" cy="216" r="7" fill="#45942a"/><circle cx="1053.8" cy="216" r="2.3" fill="#ffffff" fill-opacity="0.6"/><circle cx="1101.1" cy="211" r="7" fill="#45942a"/><circle cx="1101.1" cy="211" r="2.3" fill="#ffffff" fill-opacity="0.6"/><circle cx="1148.5" cy="197.5" r="7" fill="#45942a"/><circle cx="1148.5" cy="197.5" r="2.3" fill="#ffffff" fill-opacity="0.6"/><polyline points="205.7,793.5 210.5,793.5 219.9,793.5 229.4,793.5 238.9,793.5 248.4,793.5 295.8,793.5 343.1,793.5 390.5,793.5 437.9,793.5 485.3,793.5 532.6,793.5 580,793.5 627.4,793.5 674.8,793.5 722.1,793.5 769.5,793.5 816.9,793.5 864.3,793.5 911.6,793.5 959,793.5 1006.4,793.5 1053.8,793.5 1101.1,789 1148.5,777.5" fill="none" stroke="#603a0c" stroke-width="10" stroke-linejoin="round" stroke-linecap="round" /><circle cx="205.7" cy="793.5" r="7" fill="#603a0c"/><circle cx="205.7" cy="793.5" r="2.3" fill="#ffffff" fill-opacity="0.6"/><circle cx="210.5" cy="793.5" r="7" fill="#603a0c"/><circle cx="210.5" cy="793.5" r="2.3" fill="#ffffff" fill-opacity="0.6"/><circle cx="219.9" cy="793.5" r="7" fill="#603a0c"/><circle cx="219.9" cy="793.5" r="2.3" fill="#ffffff" fill-opacity="0.6"/><circle cx="229.4" cy="793.5" r="7" fill="#603a0c"/><circle cx="229.4" cy="793.5" r="2.3" fill="#ffffff" fill-opacity="0.6"/><circle cx="238.9" cy="793.5" r="7" fill="#603a0c"/><circle cx="238.9" cy="793.5" r="2.3" fill="#ffffff" fill-opacity="0.6"/><circle cx="248.4" cy="793.5" r="7" fill="#603a0c"/><circle cx="248.4" cy="793.5" r="2.3" fill="#ffffff" fill-opacity="0.6"/><circle cx="295.8" cy="793.5" r="7" fill="#603a0c"/><circle cx="295.8" cy="793.5" r="2.3" fill="#ffffff" fill-opacity="0.6"/><circle cx="343.1" cy="793.5" r="7" fill="#603a0c"/><circle cx="343.1" cy="793.5" r="2.3" fill="#ffffff" fill-opacity="0.6"/><circle cx="390.5" cy="793.5" r="7" fill="#603a0c"/><circle cx="390.5" cy="793.5" r="2.3" fill="#ffffff" fill-opacity="0.6"/><circle cx="437.9" cy="793.5" r="7" fill="#603a0c"/><circle cx="437.9" cy="793.5" r="2.3" fill="#ffffff" fill-opacity="0.6"/><circle cx="485.3" cy="793.5" r="7" fill="#603a0c"/><circle cx="485.3" cy="793.5" r="2.3" fill="#ffffff" fill-opacity="0.6"/><circle cx="532.6" cy="793.5" r="7" fill="#603a0c"/><circle cx="532.6" cy="793.5" r="2.3" fill="#ffffff" fill-opacity="0.6"/><circle cx="580" cy="793.5" r="7" fill="#603a0c"/><circle cx="580" cy="793.5" r="2.3" fill="#ffffff" fill-opacity="0.6"/><circle cx="627.4" cy="793.5" r="7" fill="#603a0c"/><circle cx="627.4" cy="793.5" r="2.3" fill="#ffffff" fill-opacity="0.6"/><circle cx="674.8" cy="793.5" r="7" fill="#603a0c"/><circle cx="674.8" cy="793.5" r="2.3" fill="#ffffff" fill-opacity="0.6"/><circle cx="722.1" cy="793.5" r="7" fill="#603a0c"/><circle cx="722.1" cy="793.5" r="2.3" fill="#ffffff" fill-opacity="0.6"/><circle cx="769.5" cy="793.5" r="7" fill="#603a0c"/><circle cx="769.5" cy="793.5" r="2.3" fill="#ffffff" fill-opacity="0.6"/><circle cx="816.9" cy="793.5" r="7" fill="#603a0c"/><circle cx="816.9" cy="793.5" r="2.3" fill="#ffffff" fill-opacity="0.6"/><circle cx="864.3" cy="793.5" r="7" fill="#603a0c"/><circle cx="864.3" cy="793.5" r="2.3" fill="#ffffff" fill-opacity="0.6"/><circle cx="911.6" cy="793.5" r="7" fill="#603a0c"/><circle cx="911.6" cy="793.5" r="2.3" fill="#ffffff" fill-opacity="0.6"/><circle cx="959" cy="793.5" r="7" fill="#603a0c"/><circle cx="959" cy="793.5" r="2.3" fill="#ffffff" fill-opacity="0.6"/><circle cx="1006.4" cy="793.5" r="7" fill="#603a0c"/><circle cx="1006.4" cy="793.5" r="2.3" fill="#ffffff" fill-opacity="0.6"/><circle cx="1053.8" cy="793.5" r="7" fill="#603a0c"/><circle cx="1053.8" cy="793.5" r="2.3" fill="#ffffff" fill-opacity="0.6"/><circle cx="1101.1" cy="789" r="7" fill="#603a0c"/><circle cx="1101.1" cy="789" r="2.3" fill="#ffffff" fill-opacity="0.6"/><circle cx="1148.5" cy="777.5" r="7" fill="#603a0c"/><circle cx="1148.5" cy="777.5" r="2.3" fill="#ffffff" fill-opacity="0.6"/><line x1="812.5" y1="527.5" x2="895" y2="527.5" stroke="#603a0c" stroke-width="8" stroke-linecap="butt"/><circle cx="853.5" cy="527.5" r="7" fill="#603a0c"/><circle cx="853.5" cy="527.5" r="2.3" fill="#ffffff" fill-opacity="0.6"/><text x="905" y="539.5" font-size="35" font-weight="normal" text-anchor="start" fill="#000" textLength="66" lengthAdjust="spacingAndGlyphs" stroke="#000" stroke-width="1.2">TAC</text><line x1="812.5" y1="570" x2="895" y2="570" stroke="#c05c0e" stroke-width="8" stroke-linecap="butt"/><circle cx="853.5" cy="570" r="7" fill="#c05c0e"/><circle cx="853.5" cy="570" r="2.3" fill="#ffffff" fill-opacity="0.6"/><text x="905" y="582" font-size="35" font-weight="normal" text-anchor="start" fill="#000" textLength="84" lengthAdjust="spacingAndGlyphs" stroke="#000" stroke-width="1.2">TAC2</text><line x1="812.5" y1="612.5" x2="895" y2="612.5" stroke="#8fc04e" stroke-width="8" stroke-linecap="butt"/><circle cx="853.5" cy="612.5" r="7" fill="#8fc04e"/><circle cx="853.5" cy="612.5" r="2.3" fill="#ffffff" fill-opacity="0.6"/><text x="905" y="624.5" font-size="35" font-weight="normal" text-anchor="start" fill="#000" textLength="84" lengthAdjust="spacingAndGlyphs" stroke="#000" stroke-width="1.2">TAC3</text><line x1="812.5" y1="655" x2="895" y2="655" stroke="#45942a" stroke-width="8" stroke-linecap="butt"/><circle cx="853.5" cy="655" r="7" fill="#45942a"/><circle cx="853.5" cy="655" r="2.3" fill="#ffffff" fill-opacity="0.6"/><text x="905" y="667" font-size="35" font-weight="normal" text-anchor="start" fill="#000" textLength="84" lengthAdjust="spacingAndGlyphs" stroke="#000" stroke-width="1.2">TAC4</text><text x="1246.5" y="60.5" font-size="47" font-weight="bold" text-anchor="start" fill="#000" >b</text><rect x="1375" y="130" width="943.5" height="695.5" fill="none" stroke="#000" stroke-width="7.5"/><line x1="1375" y1="772.5" x2="1360" y2="772.5" stroke="#000" stroke-width="7.5" stroke-linecap="butt"/><text x="1349.5" y="783.5" font-size="37.5" font-weight="normal" text-anchor="end" fill="#000" stroke="#000" stroke-width="1.2">0.0</text><line x1="1375" y1="665.4" x2="1360" y2="665.4" stroke="#000" stroke-width="7.5" stroke-linecap="butt"/><text x="1349.5" y="676.4" font-size="37.5" font-weight="normal" text-anchor="end" fill="#000" stroke="#000" stroke-width="1.2">0.2</text><line x1="1375" y1="558.3" x2="1360" y2="558.3" stroke="#000" stroke-width="7.5" stroke-linecap="butt"/><text x="1349.5" y="569.3" font-size="37.5" font-weight="normal" text-anchor="end" fill="#000" stroke="#000" stroke-width="1.2">0.4</text><line x1="1375" y1="451.3" x2="1360" y2="451.3" stroke="#000" stroke-width="7.5" stroke-linecap="butt"/><text x="1349.5" y="462.3" font-size="37.5" font-weight="normal" text-anchor="end" fill="#000" stroke="#000" stroke-width="1.2">0.6</text><line x1="1375" y1="344.2" x2="1360" y2="344.2" stroke="#000" stroke-width="7.5" stroke-linecap="butt"/><text x="1349.5" y="355.2" font-size="37.5" font-weight="normal" text-anchor="end" fill="#000" stroke="#000" stroke-width="1.2">0.8</text><line x1="1375" y1="237.1" x2="1360" y2="237.1" stroke="#000" stroke-width="7.5" stroke-linecap="butt"/><text x="1349.5" y="248.1" font-size="37.5" font-weight="normal" text-anchor="end" fill="#000" stroke="#000" stroke-width="1.2">1.0</text><line x1="1375" y1="130" x2="1360" y2="130" stroke="#000" stroke-width="7.5" stroke-linecap="butt"/><text x="1349.5" y="141" font-size="37.5" font-weight="normal" text-anchor="end" fill="#000" stroke="#000" stroke-width="1.2">1.2</text><line x1="1375" y1="719" x2="1367.5" y2="719" stroke="#000" stroke-width="6" stroke-linecap="butt"/><line x1="1375" y1="611.9" x2="1367.5" y2="611.9" stroke="#000" stroke-width="6" stroke-linecap="butt"/><line x1="1375" y1="504.8" x2="1367.5" y2="504.8" stroke="#000" stroke-width="6" stroke-linecap="butt"/><line x1="1375" y1="397.7" x2="1367.5" y2="397.7" stroke="#000" stroke-width="6" stroke-linecap="butt"/><line x1="1375" y1="290.6" x2="1367.5" y2="290.6" stroke="#000" stroke-width="6" stroke-linecap="butt"/><line x1="1375" y1="183.6" x2="1367.5" y2="183.6" stroke="#000" stroke-width="6" stroke-linecap="butt"/><line x1="1506.5" y1="825.5" x2="1506.5" y2="839" stroke="#000" stroke-width="7.5" stroke-linecap="butt"/><text x="1506.5" y="882" font-size="37.5" font-weight="normal" text-anchor="middle" fill="#000" stroke="#000" stroke-width="1.2">2</text><line x1="1709.5" y1="825.5" x2="1709.5" y2="839" stroke="#000" stroke-width="7.5" stroke-linecap="butt"/><text x="1709.5" y="882" font-size="37.5" font-weight="normal" text-anchor="middle" fill="#000" stroke="#000" stroke-width="1.2">4</text><line x1="1912.5" y1="825.5" x2="1912.5" y2="839" stroke="#000" stroke-width="7.5" stroke-linecap="butt"/><text x="1912.5" y="882" font-size="37.5" font-weight="normal" text-anchor="middle" fill="#000" stroke="#000" stroke-width="1.2">6</text><line x1="2115.5" y1="825.5" x2="2115.5" y2="839" stroke="#000" stroke-width="7.5" stroke-linecap="butt"/><text x="2115.5" y="882" font-size="37.5" font-weight="normal" text-anchor="middle" fill="#000" stroke="#000" stroke-width="1.2">8</text><line x1="2318.5" y1="825.5" x2="2318.5" y2="839" stroke="#000" stroke-width="7.5" stroke-linecap="butt"/><text x="2318.5" y="882" font-size="37.5" font-weight="normal" text-anchor="middle" fill="#000" stroke="#000" stroke-width="1.2">10</text><line x1="1405" y1="825.5" x2="1405" y2="833" stroke="#000" stroke-width="6" stroke-linecap="butt"/><line x1="1608" y1="825.5" x2="1608" y2="833" stroke="#000" stroke-width="6" stroke-linecap="butt"/><line x1="1811" y1="825.5" x2="1811" y2="833" stroke="#000" stroke-width="6" stroke-linecap="butt"/><line x1="2014" y1="825.5" x2="2014" y2="833" stroke="#000" stroke-width="6" stroke-linecap="butt"/><line x1="2217" y1="825.5" x2="2217" y2="833" stroke="#000" stroke-width="6" stroke-linecap="butt"/><text x="1669" y="929" font-size="39" font-weight="bold" text-anchor="start" fill="#000" textLength="383.5" lengthAdjust="spacingAndGlyphs" >Pore diameter (nm)</text><text transform="translate(1273 912) rotate(-90)" x="0" y="0" font-size="44" font-weight="bold" text-anchor="start" fill="#000" textLength="515" lengthAdjust="spacing" >Incremental pore volume</text><text transform="translate(1273 385) rotate(-90)" x="0" y="0" font-size="53" font-weight="normal" text-anchor="start" fill="#000" >(</text><text transform="translate(1273 362.5) rotate(-90)" x="0" y="0" font-size="44" font-weight="bold" text-anchor="start" fill="#000" textLength="57" lengthAdjust="spacingAndGlyphs" >cm</text><text transform="translate(1251 300) rotate(-90)" x="0" y="0" font-size="28" font-weight="bold" text-anchor="start" fill="#000" >3</text><text transform="translate(1273 271.5) rotate(-90)" x="0" y="0" font-size="44" font-weight="bold" text-anchor="start" fill="#000" textLength="62" lengthAdjust="spacingAndGlyphs" >nm</text><text transform="translate(1251 208) rotate(-90)" x="0" y="0" font-size="28" font-weight="bold" text-anchor="start" fill="#000" textLength="32" lengthAdjust="spacingAndGlyphs" >−1</text><text transform="translate(1273 160) rotate(-90)" x="0" y="0" font-size="44" font-weight="bold" text-anchor="start" fill="#000" >g</text><text transform="translate(1251 134) rotate(-90)" x="0" y="0" font-size="28" font-weight="bold" text-anchor="start" fill="#000" textLength="29.5" lengthAdjust="spacingAndGlyphs" >−1</text><text transform="translate(1273 100) rotate(-90)" x="0" y="0" font-size="53" font-weight="normal" text-anchor="start" fill="#000" >)</text><polyline points="1397,356 1401,380 1403,520 1406,645 1410,601 1416,520 1424,356 1429,330 1434.5,274 1438,450 1443,560 1449,520 1456,486 1461,540 1465,580 1470,700 1476,710 1482,640 1487.5,672.5 1495,700 1505,728 1515,700 1522,692 1530,690 1545,710 1560,722.5 1572.5,722.5 1585,740 1600,750 1612.5,757.5 1627.5,765 1645,768 1660,770 1680,766 1700,767 1712,770 1725,775 1745,775 1770,773.5 1795,773.5 1820,773.5 1845,773.5 1870,773.5 1900,773.5 1930,773.5 1960,773.5 1995,773.5 2030,773.5 2065,773.5 2100,773.5 2140,773.5 2180,773.5 2220,773.5 2260,773.5 2300,773.5 2316,773.5" fill="none" stroke="#c05c0e" stroke-width="6.5" stroke-linejoin="round" stroke-linecap="round" /><circle cx="1397" cy="356" r="6" fill="#c05c0e"/><circle cx="1397" cy="356" r="2" fill="#ffffff" fill-opacity="0.6"/><circle cx="1401" cy="380" r="6" fill="#c05c0e"/><circle cx="1401" cy="380" r="2" fill="#ffffff" fill-opacity="0.6"/><circle cx="1403" cy="520" r="6" fill="#c05c0e"/><circle cx="1403" cy="520" r="2" fill="#ffffff" fill-opacity="0.6"/><circle cx="1406" cy="645" r="6" fill="#c05c0e"/><circle cx="1406" cy="645" r="2" fill="#ffffff" fill-opacity="0.6"/><circle cx="1410" cy="601" r="6" fill="#c05c0e"/><circle cx="1410" cy="601" r="2" fill="#ffffff" fill-opacity="0.6"/><circle cx="1416" cy="520" r="6" fill="#c05c0e"/><circle cx="1416" cy="520" r="2" fill="#ffffff" fill-opacity="0.6"/><circle cx="1424" cy="356" r="6" fill="#c05c0e"/><circle cx="1424" cy="356" r="2" fill="#ffffff" fill-opacity="0.6"/><circle cx="1429" cy="330" r="6" fill="#c05c0e"/><circle cx="1429" cy="330" r="2" fill="#ffffff" fill-opacity="0.6"/><circle cx="1434.5" cy="274" r="6" fill="#c05c0e"/><circle cx="1434.5" cy="274" r="2" fill="#ffffff" fill-opacity="0.6"/><circle cx="1438" cy="450" r="6" fill="#c05c0e"/><circle cx="1438" cy="450" r="2" fill="#ffffff" fill-opacity="0.6"/><circle cx="1443" cy="560" r="6" fill="#c05c0e"/><circle cx="1443" cy="560" r="2" fill="#ffffff" fill-opacity="0.6"/><circle cx="1449" cy="520" r="6" fill="#c05c0e"/><circle cx="1449" cy="520" r="2" fill="#ffffff" fill-opacity="0.6"/><circle cx="1456" cy="486" r="6" fill="#c05c0e"/><circle cx="1456" cy="486" r="2" fill="#ffffff" fill-opacity="0.6"/><circle cx="1461" cy="540" r="6" fill="#c05c0e"/><circle cx="1461" cy="540" r="2" fill="#ffffff" fill-opacity="0.6"/><circle cx="1465" cy="580" r="6" fill="#c05c0e"/><circle cx="1465" cy="580" r="2" fill="#ffffff" fill-opacity="0.6"/><circle cx="1470" cy="700" r="6" fill="#c05c0e"/><circle cx="1470" cy="700" r="2" fill="#ffffff" fill-opacity="0.6"/><circle cx="1476" cy="710" r="6" fill="#c05c0e"/><circle cx="1476" cy="710" r="2" fill="#ffffff" fill-opacity="0.6"/><circle cx="1482" cy="640" r="6" fill="#c05c0e"/><circle cx="1482" cy="640" r="2" fill="#ffffff" fill-opacity="0.6"/><circle cx="1487.5" cy="672.5" r="6" fill="#c05c0e"/><circle cx="1487.5" cy="672.5" r="2" fill="#ffffff" fill-opacity="0.6"/><circle cx="1495" cy="700" r="6" fill="#c05c0e"/><circle cx="1495" cy="700" r="2" fill="#ffffff" fill-opacity="0.6"/><circle cx="1505" cy="728" r="6" fill="#c05c0e"/><circle cx="1505" cy="728" r="2" fill="#ffffff" fill-opacity="0.6"/><circle cx="1515" cy="700" r="6" fill="#c05c0e"/><circle cx="1515" cy="700" r="2" fill="#ffffff" fill-opacity="0.6"/><circle cx="1522" cy="692" r="6" fill="#c05c0e"/><circle cx="1522" cy="692" r="2" fill="#ffffff" fill-opacity="0.6"/><circle cx="1530" cy="690" r="6" fill="#c05c0e"/><circle cx="1530" cy="690" r="2" fill="#ffffff" fill-opacity="0.6"/><circle cx="1545" cy="710" r="6" fill="#c05c0e"/><circle cx="1545" cy="710" r="2" fill="#ffffff" fill-opacity="0.6"/><circle cx="1560" cy="722.5" r="6" fill="#c05c0e"/><circle cx="1560" cy="722.5" r="2" fill="#ffffff" fill-opacity="0.6"/><circle cx="1572.5" cy="722.5" r="6" fill="#c05c0e"/><circle cx="1572.5" cy="722.5" r="2" fill="#ffffff" fill-opacity="0.6"/><circle cx="1585" cy="740" r="6" fill="#c05c0e"/><circle cx="1585" cy="740" r="2" fill="#ffffff" fill-opacity="0.6"/><circle cx="1600" cy="750" r="6" fill="#c05c0e"/><circle cx="1600" cy="750" r="2" fill="#ffffff" fill-opacity="0.6"/><circle cx="1612.5" cy="757.5" r="6" fill="#c05c0e"/><circle cx="1612.5" cy="757.5" r="2" fill="#ffffff" fill-opacity="0.6"/><circle cx="1627.5" cy="765" r="6" fill="#c05c0e"/><circle cx="1627.5" cy="765" r="2" fill="#ffffff" fill-opacity="0.6"/><circle cx="1645" cy="768" r="6" fill="#c05c0e"/><circle cx="1645" cy="768" r="2" fill="#ffffff" fill-opacity="0.6"/><circle cx="1660" cy="770" r="6" fill="#c05c0e"/><circle cx="1660" cy="770" r="2" fill="#ffffff" fill-opacity="0.6"/><circle cx="1680" cy="766" r="6" fill="#c05c0e"/><circle cx="1680" cy="766" r="2" fill="#ffffff" fill-opacity="0.6"/><circle cx="1700" cy="767" r="6" fill="#c05c0e"/><circle cx="1700" cy="767" r="2" fill="#ffffff" fill-opacity="0.6"/><circle cx="1712" cy="770" r="6" fill="#c05c0e"/><circle cx="1712" cy="770" r="2" fill="#ffffff" fill-opacity="0.6"/><circle cx="1725" cy="775" r="6" fill="#c05c0e"/><circle cx="1725" cy="775" r="2" fill="#ffffff" fill-opacity="0.6"/><circle cx="1745" cy="775" r="6" fill="#c05c0e"/><circle cx="1745" cy="775" r="2" fill="#ffffff" fill-opacity="0.6"/><circle cx="1770" cy="773.5" r="6" fill="#c05c0e"/><circle cx="1770" cy="773.5" r="2" fill="#ffffff" fill-opacity="0.6"/><circle cx="1795" cy="773.5" r="6" fill="#c05c0e"/><circle cx="1795" cy="773.5" r="2" fill="#ffffff" fill-opacity="0.6"/><circle cx="1820" cy="773.5" r="6" fill="#c05c0e"/><circle cx="1820" cy="773.5" r="2" fill="#ffffff" fill-opacity="0.6"/><circle cx="1845" cy="773.5" r="6" fill="#c05c0e"/><circle cx="1845" cy="773.5" r="2" fill="#ffffff" fill-opacity="0.6"/><circle cx="1870" cy="773.5" r="6" fill="#c05c0e"/><circle cx="1870" cy="773.5" r="2" fill="#ffffff" fill-opacity="0.6"/><circle cx="1900" cy="773.5" r="6" fill="#c05c0e"/><circle cx="1900" cy="773.5" r="2" fill="#ffffff" fill-opacity="0.6"/><circle cx="1930" cy="773.5" r="6" fill="#c05c0e"/><circle cx="1930" cy="773.5" r="2" fill="#ffffff" fill-opacity="0.6"/><circle cx="1960" cy="773.5" r="6" fill="#c05c0e"/><circle cx="1960" cy="773.5" r="2" fill="#ffffff" fill-opacity="0.6"/><circle cx="1995" cy="773.5" r="6" fill="#c05c0e"/><circle cx="1995" cy="773.5" r="2" fill="#ffffff" fill-opacity="0.6"/><circle cx="2030" cy="773.5" r="6" fill="#c05c0e"/><circle cx="2030" cy="773.5" r="2" fill="#ffffff" fill-opacity="0.6"/><circle cx="2065" cy="773.5" r="6" fill="#c05c0e"/><circle cx="2065" cy="773.5" r="2" fill="#ffffff" fill-opacity="0.6"/><circle cx="2100" cy="773.5" r="6" fill="#c05c0e"/><circle cx="2100" cy="773.5" r="2" fill="#ffffff" fill-opacity="0.6"/><circle cx="2140" cy="773.5" r="6" fill="#c05c0e"/><circle cx="2140" cy="773.5" r="2" fill="#ffffff" fill-opacity="0.6"/><circle cx="2180" cy="773.5" r="6" fill="#c05c0e"/><circle cx="2180" cy="773.5" r="2" fill="#ffffff" fill-opacity="0.6"/><circle cx="2220" cy="773.5" r="6" fill="#c05c0e"/><circle cx="2220" cy="773.5" r="2" fill="#ffffff" fill-opacity="0.6"/><circle cx="2260" cy="773.5" r="6" fill="#c05c0e"/><circle cx="2260" cy="773.5" r="2" fill="#ffffff" fill-opacity="0.6"/><circle cx="2300" cy="773.5" r="6" fill="#c05c0e"/><circle cx="2300" cy="773.5" r="2" fill="#ffffff" fill-opacity="0.6"/><circle cx="2316" cy="773.5" r="6" fill="#c05c0e"/><circle cx="2316" cy="773.5" r="2" fill="#ffffff" fill-opacity="0.6"/><polyline points="1398,340 1402.5,317.5 1406,420 1410,559 1415,450 1422.5,219 1428,232 1434,247.5 1440,480 1446,560 1451,456 1459,434 1465,520 1472,640 1480,630 1491,530 1497.5,550 1505,680 1512,740 1520,662 1525,659 1536,641 1550,672.5 1557.5,684 1572.5,682.5 1585,710 1600,725 1612.5,740 1625,750 1640,752 1655,755 1670,754 1687.5,752.5 1705,754 1725,762.5 1745,767.5 1765,771 1790,771.5 1812,772 1835,772 1860,772 1885,772 1910,772 1940,772 1970,772 2000,772 2035,772 2070,772 2105,772 2140,772 2180,772 2220,772 2260,772 2300,772 2316,772" fill="none" stroke="#8fc04e" stroke-width="6.5" stroke-linejoin="round" stroke-linecap="round" /><circle cx="1398" cy="340" r="6" fill="#8fc04e"/><circle cx="1398" cy="340" r="2" fill="#ffffff" fill-opacity="0.6"/><circle cx="1402.5" cy="317.5" r="6" fill="#8fc04e"/><circle cx="1402.5" cy="317.5" r="2" fill="#ffffff" fill-opacity="0.6"/><circle cx="1406" cy="420" r="6" fill="#8fc04e"/><circle cx="1406" cy="420" r="2" fill="#ffffff" fill-opacity="0.6"/><circle cx="1410" cy="559" r="6" fill="#8fc04e"/><circle cx="1410" cy="559" r="2" fill="#ffffff" fill-opacity="0.6"/><circle cx="1415" cy="450" r="6" fill="#8fc04e"/><circle cx="1415" cy="450" r="2" fill="#ffffff" fill-opacity="0.6"/><circle cx="1422.5" cy="219" r="6" fill="#8fc04e"/><circle cx="1422.5" cy="219" r="2" fill="#ffffff" fill-opacity="0.6"/><circle cx="1428" cy="232" r="6" fill="#8fc04e"/><circle cx="1428" cy="232" r="2" fill="#ffffff" fill-opacity="0.6"/><circle cx="1434" cy="247.5" r="6" fill="#8fc04e"/><circle cx="1434" cy="247.5" r="2" fill="#ffffff" fill-opacity="0.6"/><circle cx="1440" cy="480" r="6" fill="#8fc04e"/><circle cx="1440" cy="480" r="2" fill="#ffffff" fill-opacity="0.6"/><circle cx="1446" cy="560" r="6" fill="#8fc04e"/><circle cx="1446" cy="560" r="2" fill="#ffffff" fill-opacity="0.6"/><circle cx="1451" cy="456" r="6" fill="#8fc04e"/><circle cx="1451" cy="456" r="2" fill="#ffffff" fill-opacity="0.6"/><circle cx="1459" cy="434" r="6" fill="#8fc04e"/><circle cx="1459" cy="434" r="2" fill="#ffffff" fill-opacity="0.6"/><circle cx="1465" cy="520" r="6" fill="#8fc04e"/><circle cx="1465" cy="520" r="2" fill="#ffffff" fill-opacity="0.6"/><circle cx="1472" cy="640" r="6" fill="#8fc04e"/><circle cx="1472" cy="640" r="2" fill="#ffffff" fill-opacity="0.6"/><circle cx="1480" cy="630" r="6" fill="#8fc04e"/><circle cx="1480" cy="630" r="2" fill="#ffffff" fill-opacity="0.6"/><circle cx="1491" cy="530" r="6" fill="#8fc04e"/><circle cx="1491" cy="530" r="2" fill="#ffffff" fill-opacity="0.6"/><circle cx="1497.5" cy="550" r="6" fill="#8fc04e"/><circle cx="1497.5" cy="550" r="2" fill="#ffffff" fill-opacity="0.6"/><circle cx="1505" cy="680" r="6" fill="#8fc04e"/><circle cx="1505" cy="680" r="2" fill="#ffffff" fill-opacity="0.6"/><circle cx="1512" cy="740" r="6" fill="#8fc04e"/><circle cx="1512" cy="740" r="2" fill="#ffffff" fill-opacity="0.6"/><circle cx="1520" cy="662" r="6" fill="#8fc04e"/><circle cx="1520" cy="662" r="2" fill="#ffffff" fill-opacity="0.6"/><circle cx="1525" cy="659" r="6" fill="#8fc04e"/><circle cx="1525" cy="659" r="2" fill="#ffffff" fill-opacity="0.6"/><circle cx="1536" cy="641" r="6" fill="#8fc04e"/><circle cx="1536" cy="641" r="2" fill="#ffffff" fill-opacity="0.6"/><circle cx="1550" cy="672.5" r="6" fill="#8fc04e"/><circle cx="1550" cy="672.5" r="2" fill="#ffffff" fill-opacity="0.6"/><circle cx="1557.5" cy="684" r="6" fill="#8fc04e"/><circle cx="1557.5" cy="684" r="2" fill="#ffffff" fill-opacity="0.6"/><circle cx="1572.5" cy="682.5" r="6" fill="#8fc04e"/><circle cx="1572.5" cy="682.5" r="2" fill="#ffffff" fill-opacity="0.6"/><circle cx="1585" cy="710" r="6" fill="#8fc04e"/><circle cx="1585" cy="710" r="2" fill="#ffffff" fill-opacity="0.6"/><circle cx="1600" cy="725" r="6" fill="#8fc04e"/><circle cx="1600" cy="725" r="2" fill="#ffffff" fill-opacity="0.6"/><circle cx="1612.5" cy="740" r="6" fill="#8fc04e"/><circle cx="1612.5" cy="740" r="2" fill="#ffffff" fill-opacity="0.6"/><circle cx="1625" cy="750" r="6" fill="#8fc04e"/><circle cx="1625" cy="750" r="2" fill="#ffffff" fill-opacity="0.6"/><circle cx="1640" cy="752" r="6" fill="#8fc04e"/><circle cx="1640" cy="752" r="2" fill="#ffffff" fill-opacity="0.6"/><circle cx="1655" cy="755" r="6" fill="#8fc04e"/><circle cx="1655" cy="755" r="2" fill="#ffffff" fill-opacity="0.6"/><circle cx="1670" cy="754" r="6" fill="#8fc04e"/><circle cx="1670" cy="754" r="2" fill="#ffffff" fill-opacity="0.6"/><circle cx="1687.5" cy="752.5" r="6" fill="#8fc04e"/><circle cx="1687.5" cy="752.5" r="2" fill="#ffffff" fill-opacity="0.6"/><circle cx="1705" cy="754" r="6" fill="#8fc04e"/><circle cx="1705" cy="754" r="2" fill="#ffffff" fill-opacity="0.6"/><circle cx="1725" cy="762.5" r="6" fill="#8fc04e"/><circle cx="1725" cy="762.5" r="2" fill="#ffffff" fill-opacity="0.6"/><circle cx="1745" cy="767.5" r="6" fill="#8fc04e"/><circle cx="1745" cy="767.5" r="2" fill="#ffffff" fill-opacity="0.6"/><circle cx="1765" cy="771" r="6" fill="#8fc04e"/><circle cx="1765" cy="771" r="2" fill="#ffffff" fill-opacity="0.6"/><circle cx="1790" cy="771.5" r="6" fill="#8fc04e"/><circle cx="1790" cy="771.5" r="2" fill="#ffffff" fill-opacity="0.6"/><circle cx="1812" cy="772" r="6" fill="#8fc04e"/><circle cx="1812" cy="772" r="2" fill="#ffffff" fill-opacity="0.6"/><circle cx="1835" cy="772" r="6" fill="#8fc04e"/><circle cx="1835" cy="772" r="2" fill="#ffffff" fill-opacity="0.6"/><circle cx="1860" cy="772" r="6" fill="#8fc04e"/><circle cx="1860" cy="772" r="2" fill="#ffffff" fill-opacity="0.6"/><circle cx="1885" cy="772" r="6" fill="#8fc04e"/><circle cx="1885" cy="772" r="2" fill="#ffffff" fill-opacity="0.6"/><circle cx="1910" cy="772" r="6" fill="#8fc04e"/><circle cx="1910" cy="772" r="2" fill="#ffffff" fill-opacity="0.6"/><circle cx="1940" cy="772" r="6" fill="#8fc04e"/><circle cx="1940" cy="772" r="2" fill="#ffffff" fill-opacity="0.6"/><circle cx="1970" cy="772" r="6" fill="#8fc04e"/><circle cx="1970" cy="772" r="2" fill="#ffffff" fill-opacity="0.6"/><circle cx="2000" cy="772" r="6" fill="#8fc04e"/><circle cx="2000" cy="772" r="2" fill="#ffffff" fill-opacity="0.6"/><circle cx="2035" cy="772" r="6" fill="#8fc04e"/><circle cx="2035" cy="772" r="2" fill="#ffffff" fill-opacity="0.6"/><circle cx="2070" cy="772" r="6" fill="#8fc04e"/><circle cx="2070" cy="772" r="2" fill="#ffffff" fill-opacity="0.6"/><circle cx="2105" cy="772" r="6" fill="#8fc04e"/><circle cx="2105" cy="772" r="2" fill="#ffffff" fill-opacity="0.6"/><circle cx="2140" cy="772" r="6" fill="#8fc04e"/><circle cx="2140" cy="772" r="2" fill="#ffffff" fill-opacity="0.6"/><circle cx="2180" cy="772" r="6" fill="#8fc04e"/><circle cx="2180" cy="772" r="2" fill="#ffffff" fill-opacity="0.6"/><circle cx="2220" cy="772" r="6" fill="#8fc04e"/><circle cx="2220" cy="772" r="2" fill="#ffffff" fill-opacity="0.6"/><circle cx="2260" cy="772" r="6" fill="#8fc04e"/><circle cx="2260" cy="772" r="2" fill="#ffffff" fill-opacity="0.6"/><circle cx="2300" cy="772" r="6" fill="#8fc04e"/><circle cx="2300" cy="772" r="2" fill="#ffffff" fill-opacity="0.6"/><circle cx="2316" cy="772" r="6" fill="#8fc04e"/><circle cx="2316" cy="772" r="2" fill="#ffffff" fill-opacity="0.6"/><polyline points="1401,376 1405,500 1410,486 1415,251 1419,330 1423,188.8 1426,286 1429,430 1432.5,542.5 1440,625 1444,600 1451,522.5 1457.5,495 1465,542.5 1472.5,690 1480,661 1489,584 1497.5,611 1507.5,760 1517.5,772.5 1527.5,772.5 1537.5,695 1547.5,650 1559,625 1572.5,597.5 1584,615 1599,627.5 1611,660 1625,675 1639,647.5 1655,622.5 1672.5,627.5 1689,654 1707.5,672.5 1725,727.5 1742.5,745 1765,751.5 1787.5,752.5 1809,759 1831,760 1855,762.5 1880,764 1907.5,765 1935,767 1964,768 1993,769 2027,769.5 2061,770 2094.5,770 2131.8,770.5 2169.5,770.5 2209.3,770.5 2250.8,770.5 2295.4,770.5 2316,770.5" fill="none" stroke="#45942a" stroke-width="6.5" stroke-linejoin="round" stroke-linecap="round" /><circle cx="1401" cy="376" r="6" fill="#45942a"/><circle cx="1401" cy="376" r="2" fill="#ffffff" fill-opacity="0.6"/><circle cx="1405" cy="500" r="6" fill="#45942a"/><circle cx="1405" cy="500" r="2" fill="#ffffff" fill-opacity="0.6"/><circle cx="1410" cy="486" r="6" fill="#45942a"/><circle cx="1410" cy="486" r="2" fill="#ffffff" fill-opacity="0.6"/><circle cx="1415" cy="251" r="6" fill="#45942a"/><circle cx="1415" cy="251" r="2" fill="#ffffff" fill-opacity="0.6"/><circle cx="1419" cy="330" r="6" fill="#45942a"/><circle cx="1419" cy="330" r="2" fill="#ffffff" fill-opacity="0.6"/><circle cx="1423" cy="188.8" r="6" fill="#45942a"/><circle cx="1423" cy="188.8" r="2" fill="#ffffff" fill-opacity="0.6"/><circle cx="1426" cy="286" r="6" fill="#45942a"/><circle cx="1426" cy="286" r="2" fill="#ffffff" fill-opacity="0.6"/><circle cx="1429" cy="430" r="6" fill="#45942a"/><circle cx="1429" cy="430" r="2" fill="#ffffff" fill-opacity="0.6"/><circle cx="1432.5" cy="542.5" r="6" fill="#45942a"/><circle cx="1432.5" cy="542.5" r="2" fill="#ffffff" fill-opacity="0.6"/><circle cx="1440" cy="625" r="6" fill="#45942a"/><circle cx="1440" cy="625" r="2" fill="#ffffff" fill-opacity="0.6"/><circle cx="1444" cy="600" r="6" fill="#45942a"/><circle cx="1444" cy="600" r="2" fill="#ffffff" fill-opacity="0.6"/><circle cx="1451" cy="522.5" r="6" fill="#45942a"/><circle cx="1451" cy="522.5" r="2" fill="#ffffff" fill-opacity="0.6"/><circle cx="1457.5" cy="495" r="6" fill="#45942a"/><circle cx="1457.5" cy="495" r="2" fill="#ffffff" fill-opacity="0.6"/><circle cx="1465" cy="542.5" r="6" fill="#45942a"/><circle cx="1465" cy="542.5" r="2" fill="#ffffff" fill-opacity="0.6"/><circle cx="1472.5" cy="690" r="6" fill="#45942a"/><circle cx="1472.5" cy="690" r="2" fill="#ffffff" fill-opacity="0.6"/><circle cx="1480" cy="661" r="6" fill="#45942a"/><circle cx="1480" cy="661" r="2" fill="#ffffff" fill-opacity="0.6"/><circle cx="1489" cy="584" r="6" fill="#45942a"/><circle cx="1489" cy="584" r="2" fill="#ffffff" fill-opacity="0.6"/><circle cx="1497.5" cy="611" r="6" fill="#45942a"/><circle cx="1497.5" cy="611" r="2" fill="#ffffff" fill-opacity="0.6"/><circle cx="1507.5" cy="760" r="6" fill="#45942a"/><circle cx="1507.5" cy="760" r="2" fill="#ffffff" fill-opacity="0.6"/><circle cx="1517.5" cy="772.5" r="6" fill="#45942a"/><circle cx="1517.5" cy="772.5" r="2" fill="#ffffff" fill-opacity="0.6"/><circle cx="1527.5" cy="772.5" r="6" fill="#45942a"/><circle cx="1527.5" cy="772.5" r="2" fill="#ffffff" fill-opacity="0.6"/><circle cx="1537.5" cy="695" r="6" fill="#45942a"/><circle cx="1537.5" cy="695" r="2" fill="#ffffff" fill-opacity="0.6"/><circle cx="1547.5" cy="650" r="6" fill="#45942a"/><circle cx="1547.5" cy="650" r="2" fill="#ffffff" fill-opacity="0.6"/><circle cx="1559" cy="625" r="6" fill="#45942a"/><circle cx="1559" cy="625" r="2" fill="#ffffff" fill-opacity="0.6"/><circle cx="1572.5" cy="597.5" r="6" fill="#45942a"/><circle cx="1572.5" cy="597.5" r="2" fill="#ffffff" fill-opacity="0.6"/><circle cx="1584" cy="615" r="6" fill="#45942a"/><circle cx="1584" cy="615" r="2" fill="#ffffff" fill-opacity="0.6"/><circle cx="1599" cy="627.5" r="6" fill="#45942a"/><circle cx="1599" cy="627.5" r="2" fill="#ffffff" fill-opacity="0.6"/><circle cx="1611" cy="660" r="6" fill="#45942a"/><circle cx="1611" cy="660" r="2" fill="#ffffff" fill-opacity="0.6"/><circle cx="1625" cy="675" r="6" fill="#45942a"/><circle cx="1625" cy="675" r="2" fill="#ffffff" fill-opacity="0.6"/><circle cx="1639" cy="647.5" r="6" fill="#45942a"/><circle cx="1639" cy="647.5" r="2" fill="#ffffff" fill-opacity="0.6"/><circle cx="1655" cy="622.5" r="6" fill="#45942a"/><circle cx="1655" cy="622.5" r="2" fill="#ffffff" fill-opacity="0.6"/><circle cx="1672.5" cy="627.5" r="6" fill="#45942a"/><circle cx="1672.5" cy="627.5" r="2" fill="#ffffff" fill-opacity="0.6"/><circle cx="1689" cy="654" r="6" fill="#45942a"/><circle cx="1689" cy="654" r="2" fill="#ffffff" fill-opacity="0.6"/><circle cx="1707.5" cy="672.5" r="6" fill="#45942a"/><circle cx="1707.5" cy="672.5" r="2" fill="#ffffff" fill-opacity="0.6"/><circle cx="1725" cy="727.5" r="6" fill="#45942a"/><circle cx="1725" cy="727.5" r="2" fill="#ffffff" fill-opacity="0.6"/><circle cx="1742.5" cy="745" r="6" fill="#45942a"/><circle cx="1742.5" cy="745" r="2" fill="#ffffff" fill-opacity="0.6"/><circle cx="1765" cy="751.5" r="6" fill="#45942a"/><circle cx="1765" cy="751.5" r="2" fill="#ffffff" fill-opacity="0.6"/><circle cx="1787.5" cy="752.5" r="6" fill="#45942a"/><circle cx="1787.5" cy="752.5" r="2" fill="#ffffff" fill-opacity="0.6"/><circle cx="1809" cy="759" r="6" fill="#45942a"/><circle cx="1809" cy="759" r="2" fill="#ffffff" fill-opacity="0.6"/><circle cx="1831" cy="760" r="6" fill="#45942a"/><circle cx="1831" cy="760" r="2" fill="#ffffff" fill-opacity="0.6"/><circle cx="1855" cy="762.5" r="6" fill="#45942a"/><circle cx="1855" cy="762.5" r="2" fill="#ffffff" fill-opacity="0.6"/><circle cx="1880" cy="764" r="6" fill="#45942a"/><circle cx="1880" cy="764" r="2" fill="#ffffff" fill-opacity="0.6"/><circle cx="1907.5" cy="765" r="6" fill="#45942a"/><circle cx="1907.5" cy="765" r="2" fill="#ffffff" fill-opacity="0.6"/><circle cx="1935" cy="767" r="6" fill="#45942a"/><circle cx="1935" cy="767" r="2" fill="#ffffff" fill-opacity="0.6"/><circle cx="1964" cy="768" r="6" fill="#45942a"/><circle cx="1964" cy="768" r="2" fill="#ffffff" fill-opacity="0.6"/><circle cx="1993" cy="769" r="6" fill="#45942a"/><circle cx="1993" cy="769" r="2" fill="#ffffff" fill-opacity="0.6"/><circle cx="2027" cy="769.5" r="6" fill="#45942a"/><circle cx="2027" cy="769.5" r="2" fill="#ffffff" fill-opacity="0.6"/><circle cx="2061" cy="770" r="6" fill="#45942a"/><circle cx="2061" cy="770" r="2" fill="#ffffff" fill-opacity="0.6"/><circle cx="2094.5" cy="770" r="6" fill="#45942a"/><circle cx="2094.5" cy="770" r="2" fill="#ffffff" fill-opacity="0.6"/><circle cx="2131.8" cy="770.5" r="6" fill="#45942a"/><circle cx="2131.8" cy="770.5" r="2" fill="#ffffff" fill-opacity="0.6"/><circle cx="2169.5" cy="770.5" r="6" fill="#45942a"/><circle cx="2169.5" cy="770.5" r="2" fill="#ffffff" fill-opacity="0.6"/><circle cx="2209.3" cy="770.5" r="6" fill="#45942a"/><circle cx="2209.3" cy="770.5" r="2" fill="#ffffff" fill-opacity="0.6"/><circle cx="2250.8" cy="770.5" r="6" fill="#45942a"/><circle cx="2250.8" cy="770.5" r="2" fill="#ffffff" fill-opacity="0.6"/><circle cx="2295.4" cy="770.5" r="6" fill="#45942a"/><circle cx="2295.4" cy="770.5" r="2" fill="#ffffff" fill-opacity="0.6"/><circle cx="2316" cy="770.5" r="6" fill="#45942a"/><circle cx="2316" cy="770.5" r="2" fill="#ffffff" fill-opacity="0.6"/><polyline points="1397,772.5 1404.8,772.5 1412.6,772.5 1420.4,772.5 1428.2,772.5 1436,772.5 1443.8,772.5 1451.6,772.5 1459.4,772.5 1467.2,772.5 1475,772.5 1482.8,772.5 1490.6,772.5 1498.4,772.5 1506.2,772.5 1514,772.5 1521.8,772.5 1529.6,772.5 1537.4,772.5 1545.2,772.5 1553,772.5 1560.8,772.5 1568.6,772.5 1576.4,772.5 1584.2,772.5 1592,772.5 1599.8,772.5 1607.6,772.5 1615.4,772.5 1623.2,772.5 1631,772.5 1638.8,772.5 1646.6,772.5 1654.4,772.5 1662.2,772.5 1670,772.5 1677.8,772.5 1685.6,772.5 1693.4,772.5 1701.2,772.5 1709,772.5" fill="none" stroke="#603a0c" stroke-width="7" stroke-linejoin="round" stroke-linecap="round" /><circle cx="1397" cy="772.5" r="5.5" fill="#603a0c"/><circle cx="1397" cy="772.5" r="1.8" fill="#ffffff" fill-opacity="0.6"/><circle cx="1404.8" cy="772.5" r="5.5" fill="#603a0c"/><circle cx="1404.8" cy="772.5" r="1.8" fill="#ffffff" fill-opacity="0.6"/><circle cx="1412.6" cy="772.5" r="5.5" fill="#603a0c"/><circle cx="1412.6" cy="772.5" r="1.8" fill="#ffffff" fill-opacity="0.6"/><circle cx="1420.4" cy="772.5" r="5.5" fill="#603a0c"/><circle cx="1420.4" cy="772.5" r="1.8" fill="#ffffff" fill-opacity="0.6"/><circle cx="1428.2" cy="772.5" r="5.5" fill="#603a0c"/><circle cx="1428.2" cy="772.5" r="1.8" fill="#ffffff" fill-opacity="0.6"/><circle cx="1436" cy="772.5" r="5.5" fill="#603a0c"/><circle cx="1436" cy="772.5" r="1.8" fill="#ffffff" fill-opacity="0.6"/><circle cx="1443.8" cy="772.5" r="5.5" fill="#603a0c"/><circle cx="1443.8" cy="772.5" r="1.8" fill="#ffffff" fill-opacity="0.6"/><circle cx="1451.6" cy="772.5" r="5.5" fill="#603a0c"/><circle cx="1451.6" cy="772.5" r="1.8" fill="#ffffff" fill-opacity="0.6"/><circle cx="1459.4" cy="772.5" r="5.5" fill="#603a0c"/><circle cx="1459.4" cy="772.5" r="1.8" fill="#ffffff" fill-opacity="0.6"/><circle cx="1467.2" cy="772.5" r="5.5" fill="#603a0c"/><circle cx="1467.2" cy="772.5" r="1.8" fill="#ffffff" fill-opacity="0.6"/><circle cx="1475" cy="772.5" r="5.5" fill="#603a0c"/><circle cx="1475" cy="772.5" r="1.8" fill="#ffffff" fill-opacity="0.6"/><circle cx="1482.8" cy="772.5" r="5.5" fill="#603a0c"/><circle cx="1482.8" cy="772.5" r="1.8" fill="#ffffff" fill-opacity="0.6"/><circle cx="1490.6" cy="772.5" r="5.5" fill="#603a0c"/><circle cx="1490.6" cy="772.5" r="1.8" fill="#ffffff" fill-opacity="0.6"/><circle cx="1498.4" cy="772.5" r="5.5" fill="#603a0c"/><circle cx="1498.4" cy="772.5" r="1.8" fill="#ffffff" fill-opacity="0.6"/><circle cx="1506.2" cy="772.5" r="5.5" fill="#603a0c"/><circle cx="1506.2" cy="772.5" r="1.8" fill="#ffffff" fill-opacity="0.6"/><circle cx="1514" cy="772.5" r="5.5" fill="#603a0c"/><circle cx="1514" cy="772.5" r="1.8" fill="#ffffff" fill-opacity="0.6"/><circle cx="1521.8" cy="772.5" r="5.5" fill="#603a0c"/><circle cx="1521.8" cy="772.5" r="1.8" fill="#ffffff" fill-opacity="0.6"/><circle cx="1529.6" cy="772.5" r="5.5" fill="#603a0c"/><circle cx="1529.6" cy="772.5" r="1.8" fill="#ffffff" fill-opacity="0.6"/><circle cx="1537.4" cy="772.5" r="5.5" fill="#603a0c"/><circle cx="1537.4" cy="772.5" r="1.8" fill="#ffffff" fill-opacity="0.6"/><circle cx="1545.2" cy="772.5" r="5.5" fill="#603a0c"/><circle cx="1545.2" cy="772.5" r="1.8" fill="#ffffff" fill-opacity="0.6"/><circle cx="1553" cy="772.5" r="5.5" fill="#603a0c"/><circle cx="1553" cy="772.5" r="1.8" fill="#ffffff" fill-opacity="0.6"/><circle cx="1560.8" cy="772.5" r="5.5" fill="#603a0c"/><circle cx="1560.8" cy="772.5" r="1.8" fill="#ffffff" fill-opacity="0.6"/><circle cx="1568.6" cy="772.5" r="5.5" fill="#603a0c"/><circle cx="1568.6" cy="772.5" r="1.8" fill="#ffffff" fill-opacity="0.6"/><circle cx="1576.4" cy="772.5" r="5.5" fill="#603a0c"/><circle cx="1576.4" cy="772.5" r="1.8" fill="#ffffff" fill-opacity="0.6"/><circle cx="1584.2" cy="772.5" r="5.5" fill="#603a0c"/><circle cx="1584.2" cy="772.5" r="1.8" fill="#ffffff" fill-opacity="0.6"/><circle cx="1592" cy="772.5" r="5.5" fill="#603a0c"/><circle cx="1592" cy="772.5" r="1.8" fill="#ffffff" fill-opacity="0.6"/><circle cx="1599.8" cy="772.5" r="5.5" fill="#603a0c"/><circle cx="1599.8" cy="772.5" r="1.8" fill="#ffffff" fill-opacity="0.6"/><circle cx="1607.6" cy="772.5" r="5.5" fill="#603a0c"/><circle cx="1607.6" cy="772.5" r="1.8" fill="#ffffff" fill-opacity="0.6"/><circle cx="1615.4" cy="772.5" r="5.5" fill="#603a0c"/><circle cx="1615.4" cy="772.5" r="1.8" fill="#ffffff" fill-opacity="0.6"/><circle cx="1623.2" cy="772.5" r="5.5" fill="#603a0c"/><circle cx="1623.2" cy="772.5" r="1.8" fill="#ffffff" fill-opacity="0.6"/><circle cx="1631" cy="772.5" r="5.5" fill="#603a0c"/><circle cx="1631" cy="772.5" r="1.8" fill="#ffffff" fill-opacity="0.6"/><circle cx="1638.8" cy="772.5" r="5.5" fill="#603a0c"/><circle cx="1638.8" cy="772.5" r="1.8" fill="#ffffff" fill-opacity="0.6"/><circle cx="1646.6" cy="772.5" r="5.5" fill="#603a0c"/><circle cx="1646.6" cy="772.5" r="1.8" fill="#ffffff" fill-opacity="0.6"/><circle cx="1654.4" cy="772.5" r="5.5" fill="#603a0c"/><circle cx="1654.4" cy="772.5" r="1.8" fill="#ffffff" fill-opacity="0.6"/><circle cx="1662.2" cy="772.5" r="5.5" fill="#603a0c"/><circle cx="1662.2" cy="772.5" r="1.8" fill="#ffffff" fill-opacity="0.6"/><circle cx="1670" cy="772.5" r="5.5" fill="#603a0c"/><circle cx="1670" cy="772.5" r="1.8" fill="#ffffff" fill-opacity="0.6"/><circle cx="1677.8" cy="772.5" r="5.5" fill="#603a0c"/><circle cx="1677.8" cy="772.5" r="1.8" fill="#ffffff" fill-opacity="0.6"/><circle cx="1685.6" cy="772.5" r="5.5" fill="#603a0c"/><circle cx="1685.6" cy="772.5" r="1.8" fill="#ffffff" fill-opacity="0.6"/><circle cx="1693.4" cy="772.5" r="5.5" fill="#603a0c"/><circle cx="1693.4" cy="772.5" r="1.8" fill="#ffffff" fill-opacity="0.6"/><circle cx="1701.2" cy="772.5" r="5.5" fill="#603a0c"/><circle cx="1701.2" cy="772.5" r="1.8" fill="#ffffff" fill-opacity="0.6"/><circle cx="1709" cy="772.5" r="5.5" fill="#603a0c"/><circle cx="1709" cy="772.5" r="1.8" fill="#ffffff" fill-opacity="0.6"/><line x1="2045" y1="613.6" x2="2129.6" y2="613.6" stroke="#603a0c" stroke-width="8" stroke-linecap="butt"/><circle cx="2088" cy="613.6" r="7.5" fill="#603a0c"/><circle cx="2088" cy="613.6" r="2.3" fill="#ffffff" fill-opacity="0.6"/><text x="2138" y="626.1" font-size="35" font-weight="normal" text-anchor="start" fill="#000" textLength="65.5" lengthAdjust="spacingAndGlyphs" stroke="#000" stroke-width="1.2">TAC</text><line x1="2045" y1="655.7" x2="2129.6" y2="655.7" stroke="#c05c0e" stroke-width="8" stroke-linecap="butt"/><circle cx="2088" cy="655.7" r="7.5" fill="#c05c0e"/><circle cx="2088" cy="655.7" r="2.3" fill="#ffffff" fill-opacity="0.6"/><text x="2138" y="668.2" font-size="35" font-weight="normal" text-anchor="start" fill="#000" textLength="88" lengthAdjust="spacingAndGlyphs" stroke="#000" stroke-width="1.2">TAC2</text><line x1="2045" y1="698.7" x2="2129.6" y2="698.7" stroke="#8fc04e" stroke-width="8" stroke-linecap="butt"/><circle cx="2088" cy="698.7" r="7.5" fill="#8fc04e"/><circle cx="2088" cy="698.7" r="2.3" fill="#ffffff" fill-opacity="0.6"/><text x="2138" y="711.2" font-size="35" font-weight="normal" text-anchor="start" fill="#000" textLength="88" lengthAdjust="spacingAndGlyphs" stroke="#000" stroke-width="1.2">TAC3</text><line x1="2045" y1="741.1" x2="2129.6" y2="741.1" stroke="#45942a" stroke-width="8" stroke-linecap="butt"/><circle cx="2088" cy="741.1" r="7.5" fill="#45942a"/><circle cx="2088" cy="741.1" r="2.3" fill="#ffffff" fill-opacity="0.6"/><text x="2138" y="753.6" font-size="35" font-weight="normal" text-anchor="start" fill="#000" textLength="88" lengthAdjust="spacingAndGlyphs" stroke="#000" stroke-width="1.2">TAC4</text><rect x="1782" y="158.2" width="517.3" height="380.1" fill="#fff" stroke="#000" stroke-width="3.5"/><line x1="1782" y1="538.3" x2="1782" y2="546" stroke="#000" stroke-width="3" stroke-linecap="butt"/><text x="1782" y="580" font-size="33" font-weight="normal" text-anchor="middle" fill="#000" textLength="17.8" lengthAdjust="spacingAndGlyphs" stroke="#000" stroke-width="1.2">0</text><line x1="1824.1" y1="538.3" x2="1824.1" y2="546" stroke="#000" stroke-width="3" stroke-linecap="butt"/><text x="1824.1" y="580" font-size="33" font-weight="normal" text-anchor="middle" fill="#000" textLength="17.8" lengthAdjust="spacingAndGlyphs" stroke="#000" stroke-width="1.2">2</text><line x1="1866.2" y1="538.3" x2="1866.2" y2="546" stroke="#000" stroke-width="3" stroke-linecap="butt"/><text x="1866.2" y="580" font-size="33" font-weight="normal" text-anchor="middle" fill="#000" textLength="17.8" lengthAdjust="spacingAndGlyphs" stroke="#000" stroke-width="1.2">4</text><line x1="1908.3" y1="538.3" x2="1908.3" y2="546" stroke="#000" stroke-width="3" stroke-linecap="butt"/><text x="1908.3" y="580" font-size="33" font-weight="normal" text-anchor="middle" fill="#000" textLength="17.8" lengthAdjust="spacingAndGlyphs" stroke="#000" stroke-width="1.2">6</text><line x1="1950.4" y1="538.3" x2="1950.4" y2="546" stroke="#000" stroke-width="3" stroke-linecap="butt"/><text x="1950.4" y="580" font-size="33" font-weight="normal" text-anchor="middle" fill="#000" textLength="17.8" lengthAdjust="spacingAndGlyphs" stroke="#000" stroke-width="1.2">8</text><line x1="1992.5" y1="538.3" x2="1992.5" y2="546" stroke="#000" stroke-width="3" stroke-linecap="butt"/><text x="1992.5" y="580" font-size="33" font-weight="normal" text-anchor="middle" fill="#000" textLength="34" lengthAdjust="spacingAndGlyphs" stroke="#000" stroke-width="1.2">10</text><line x1="2034.6" y1="538.3" x2="2034.6" y2="546" stroke="#000" stroke-width="3" stroke-linecap="butt"/><text x="2034.6" y="580" font-size="33" font-weight="normal" text-anchor="middle" fill="#000" textLength="34" lengthAdjust="spacingAndGlyphs" stroke="#000" stroke-width="1.2">12</text><line x1="2076.7" y1="538.3" x2="2076.7" y2="546" stroke="#000" stroke-width="3" stroke-linecap="butt"/><text x="2076.7" y="580" font-size="33" font-weight="normal" text-anchor="middle" fill="#000" textLength="34" lengthAdjust="spacingAndGlyphs" stroke="#000" stroke-width="1.2">14</text><line x1="2118.8" y1="538.3" x2="2118.8" y2="546" stroke="#000" stroke-width="3" stroke-linecap="butt"/><text x="2118.8" y="580" font-size="33" font-weight="normal" text-anchor="middle" fill="#000" textLength="34" lengthAdjust="spacingAndGlyphs" stroke="#000" stroke-width="1.2">16</text><line x1="2160.9" y1="538.3" x2="2160.9" y2="546" stroke="#000" stroke-width="3" stroke-linecap="butt"/><text x="2160.9" y="580" font-size="33" font-weight="normal" text-anchor="middle" fill="#000" textLength="34" lengthAdjust="spacingAndGlyphs" stroke="#000" stroke-width="1.2">18</text><line x1="2203" y1="538.3" x2="2203" y2="546" stroke="#000" stroke-width="3" stroke-linecap="butt"/><text x="2203" y="580" font-size="33" font-weight="normal" text-anchor="middle" fill="#000" textLength="34" lengthAdjust="spacingAndGlyphs" stroke="#000" stroke-width="1.2">20</text><line x1="2245.1" y1="538.3" x2="2245.1" y2="546" stroke="#000" stroke-width="3" stroke-linecap="butt"/><text x="2245.1" y="580" font-size="33" font-weight="normal" text-anchor="middle" fill="#000" textLength="34" lengthAdjust="spacingAndGlyphs" stroke="#000" stroke-width="1.2">22</text><line x1="2287.2" y1="538.3" x2="2287.2" y2="546" stroke="#000" stroke-width="3" stroke-linecap="butt"/><text x="2287.2" y="580" font-size="33" font-weight="normal" text-anchor="middle" fill="#000" textLength="34" lengthAdjust="spacingAndGlyphs" stroke="#000" stroke-width="1.2">24</text><line x1="1803" y1="538.3" x2="1803" y2="543" stroke="#000" stroke-width="2.5" stroke-linecap="butt"/><line x1="1845.2" y1="538.3" x2="1845.2" y2="543" stroke="#000" stroke-width="2.5" stroke-linecap="butt"/><line x1="1887.2" y1="538.3" x2="1887.2" y2="543" stroke="#000" stroke-width="2.5" stroke-linecap="butt"/><line x1="1929.3" y1="538.3" x2="1929.3" y2="543" stroke="#000" stroke-width="2.5" stroke-linecap="butt"/><line x1="1971.5" y1="538.3" x2="1971.5" y2="543" stroke="#000" stroke-width="2.5" stroke-linecap="butt"/><line x1="2013.5" y1="538.3" x2="2013.5" y2="543" stroke="#000" stroke-width="2.5" stroke-linecap="butt"/><line x1="2055.7" y1="538.3" x2="2055.7" y2="543" stroke="#000" stroke-width="2.5" stroke-linecap="butt"/><line x1="2097.8" y1="538.3" x2="2097.8" y2="543" stroke="#000" stroke-width="2.5" stroke-linecap="butt"/><line x1="2139.8" y1="538.3" x2="2139.8" y2="543" stroke="#000" stroke-width="2.5" stroke-linecap="butt"/><line x1="2181.9" y1="538.3" x2="2181.9" y2="543" stroke="#000" stroke-width="2.5" stroke-linecap="butt"/><line x1="2224.1" y1="538.3" x2="2224.1" y2="543" stroke="#000" stroke-width="2.5" stroke-linecap="butt"/><line x1="2266.2" y1="538.3" x2="2266.2" y2="543" stroke="#000" stroke-width="2.5" stroke-linecap="butt"/><line x1="1782" y1="500.2" x2="1774" y2="500.2" stroke="#000" stroke-width="3" stroke-linecap="butt"/><text x="1767.5" y="511.7" font-size="33" font-weight="normal" text-anchor="end" fill="#000" textLength="102" lengthAdjust="spacingAndGlyphs" stroke="#000" stroke-width="1.2">0.0000</text><line x1="1782" y1="424.2" x2="1774" y2="424.2" stroke="#000" stroke-width="3" stroke-linecap="butt"/><text x="1767.5" y="435.7" font-size="33" font-weight="normal" text-anchor="end" fill="#000" textLength="102" lengthAdjust="spacingAndGlyphs" stroke="#000" stroke-width="1.2">0.0005</text><line x1="1782" y1="348.3" x2="1774" y2="348.3" stroke="#000" stroke-width="3" stroke-linecap="butt"/><text x="1767.5" y="359.8" font-size="33" font-weight="normal" text-anchor="end" fill="#000" textLength="102" lengthAdjust="spacingAndGlyphs" stroke="#000" stroke-width="1.2">0.0010</text><line x1="1782" y1="272.3" x2="1774" y2="272.3" stroke="#000" stroke-width="3" stroke-linecap="butt"/><text x="1767.5" y="283.8" font-size="33" font-weight="normal" text-anchor="end" fill="#000" textLength="102" lengthAdjust="spacingAndGlyphs" stroke="#000" stroke-width="1.2">0.0015</text><line x1="1782" y1="196.3" x2="1774" y2="196.3" stroke="#000" stroke-width="3" stroke-linecap="butt"/><text x="1767.5" y="207.8" font-size="33" font-weight="normal" text-anchor="end" fill="#000" textLength="102" lengthAdjust="spacingAndGlyphs" stroke="#000" stroke-width="1.2">0.0020</text><line x1="1782" y1="462.2" x2="1777" y2="462.2" stroke="#000" stroke-width="2.5" stroke-linecap="butt"/><line x1="1782" y1="386.2" x2="1777" y2="386.2" stroke="#000" stroke-width="2.5" stroke-linecap="butt"/><line x1="1782" y1="310.3" x2="1777" y2="310.3" stroke="#000" stroke-width="2.5" stroke-linecap="butt"/><line x1="1782" y1="234.3" x2="1777" y2="234.3" stroke="#000" stroke-width="2.5" stroke-linecap="butt"/><polyline points="1799.7,500.2 1806,500.2 1810,490.6 1812,420 1814,385 1815.5,318.6 1817,229.5 1818.4,190 1819.5,240 1820.5,312.4 1821.3,254.4 1823.8,279.2 1825.4,326.9 1828,370.4 1829.6,393.2 1832,376.7 1835,395.3 1837,476.1 1839,500.2 1843.5,500.2 1848,500.2 1852.5,500.2 1857,500.2 1861.5,500.2 1866,500.2 1870.5,500.2 1875,500.2 1879.5,500.2 1884,500.2 1888.5,500.2 1893,500.2 1897.5,500.2 1902,500.2 1906.5,500.2 1911,500.2 1915.5,500.2 1920,500.2 1924.5,500.2 1929,500.2 1933.5,500.2 1938,500.2 1942.5,500.2 1947,500.2 1953,500.2 1959.3,482.4 1963.5,445 1967.6,397.4 1977.2,393.2 1986.3,424.3 1996.7,416 2005,368.4 2015.3,361.3 2025.7,377.9 2038.1,382 2050.5,387.8 2063,393.2 2075.4,397.4 2087.9,380 2104.4,370.4 2121,378.7 2135.5,386.2 2151.3,391.2 2168.7,397.4 2185.3,403.6 2204,414 2222.6,433.4 2243.3,436.8 2266.1,438.8 2286.8,459.6" fill="none" stroke="#6b4a1a" stroke-width="4" stroke-linejoin="round" stroke-linecap="round" /><circle cx="1799.7" cy="500.2" r="3.6" fill="#6b4a1a"/><circle cx="1806" cy="500.2" r="3.6" fill="#6b4a1a"/><circle cx="1810" cy="490.6" r="3.6" fill="#6b4a1a"/><circle cx="1812" cy="420" r="3.6" fill="#6b4a1a"/><circle cx="1814" cy="385" r="3.6" fill="#6b4a1a"/><circle cx="1815.5" cy="318.6" r="3.6" fill="#6b4a1a"/><circle cx="1817" cy="229.5" r="3.6" fill="#6b4a1a"/><circle cx="1818.4" cy="190" r="3.6" fill="#6b4a1a"/><circle cx="1819.5" cy="240" r="3.6" fill="#6b4a1a"/><circle cx="1820.5" cy="312.4" r="3.6" fill="#6b4a1a"/><circle cx="1821.3" cy="254.4" r="3.6" fill="#6b4a1a"/><circle cx="1823.8" cy="279.2" r="3.6" fill="#6b4a1a"/><circle cx="1825.4" cy="326.9" r="3.6" fill="#6b4a1a"/><circle cx="1828" cy="370.4" r="3.6" fill="#6b4a1a"/><circle cx="1829.6" cy="393.2" r="3.6" fill="#6b4a1a"/><circle cx="1832" cy="376.7" r="3.6" fill="#6b4a1a"/><circle cx="1835" cy="395.3" r="3.6" fill="#6b4a1a"/><circle cx="1837" cy="476.1" r="3.6" fill="#6b4a1a"/><circle cx="1839" cy="500.2" r="3.6" fill="#6b4a1a"/><circle cx="1843.5" cy="500.2" r="3.6" fill="#6b4a1a"/><circle cx="1848" cy="500.2" r="3.6" fill="#6b4a1a"/><circle cx="1852.5" cy="500.2" r="3.6" fill="#6b4a1a"/><circle cx="1857" cy="500.2" r="3.6" fill="#6b4a1a"/><circle cx="1861.5" cy="500.2" r="3.6" fill="#6b4a1a"/><circle cx="1866" cy="500.2" r="3.6" fill="#6b4a1a"/><circle cx="1870.5" cy="500.2" r="3.6" fill="#6b4a1a"/><circle cx="1875" cy="500.2" r="3.6" fill="#6b4a1a"/><circle cx="1879.5" cy="500.2" r="3.6" fill="#6b4a1a"/><circle cx="1884" cy="500.2" r="3.6" fill="#6b4a1a"/><circle cx="1888.5" cy="500.2" r="3.6" fill="#6b4a1a"/><circle cx="1893" cy="500.2" r="3.6" fill="#6b4a1a"/><circle cx="1897.5" cy="500.2" r="3.6" fill="#6b4a1a"/><circle cx="1902" cy="500.2" r="3.6" fill="#6b4a1a"/><circle cx="1906.5" cy="500.2" r="3.6" fill="#6b4a1a"/><circle cx="1911" cy="500.2" r="3.6" fill="#6b4a1a"/><circle cx="1915.5" cy="500.2" r="3.6" fill="#6b4a1a"/><circle cx="1920" cy="500.2" r="3.6" fill="#6b4a1a"/><circle cx="1924.5" cy="500.2" r="3.6" fill="#6b4a1a"/><circle cx="1929" cy="500.2" r="3.6" fill="#6b4a1a"/><circle cx="1933.5" cy="500.2" r="3.6" fill="#6b4a1a"/><circle cx="1938" cy="500.2" r="3.6" fill="#6b4a1a"/><circle cx="1942.5" cy="500.2" r="3.6" fill="#6b4a1a"/><circle cx="1947" cy="500.2" r="3.6" fill="#6b4a1a"/><circle cx="1953" cy="500.2" r="3.6" fill="#6b4a1a"/><circle cx="1959.3" cy="482.4" r="3.6" fill="#6b4a1a"/><circle cx="1963.5" cy="445" r="3.6" fill="#6b4a1a"/><circle cx="1967.6" cy="397.4" r="3.6" fill="#6b4a1a"/><circle cx="1977.2" cy="393.2" r="3.6" fill="#6b4a1a"/><circle cx="1986.3" cy="424.3" r="3.6" fill="#6b4a1a"/><circle cx="1996.7" cy="416" r="3.6" fill="#6b4a1a"/><circle cx="2005" cy="368.4" r="3.6" fill="#6b4a1a"/><circle cx="2015.3" cy="361.3" r="3.6" fill="#6b4a1a"/><circle cx="2025.7" cy="377.9" r="3.6" fill="#6b4a1a"/><circle cx="2038.1" cy="382" r="3.6" fill="#6b4a1a"/><circle cx="2050.5" cy="387.8" r="3.6" fill="#6b4a1a"/><circle cx="2063" cy="393.2" r="3.6" fill="#6b4a1a"/><circle cx="2075.4" cy="397.4" r="3.6" fill="#6b4a1a"/><circle cx="2087.9" cy="380" r="3.6" fill="#6b4a1a"/><circle cx="2104.4" cy="370.4" r="3.6" fill="#6b4a1a"/><circle cx="2121" cy="378.7" r="3.6" fill="#6b4a1a"/><circle cx="2135.5" cy="386.2" r="3.6" fill="#6b4a1a"/><circle cx="2151.3" cy="391.2" r="3.6" fill="#6b4a1a"/><circle cx="2168.7" cy="397.4" r="3.6" fill="#6b4a1a"/><circle cx="2185.3" cy="403.6" r="3.6" fill="#6b4a1a"/><circle cx="2204" cy="414" r="3.6" fill="#6b4a1a"/><circle cx="2222.6" cy="433.4" r="3.6" fill="#6b4a1a"/><circle cx="2243.3" cy="436.8" r="3.6" fill="#6b4a1a"/><circle cx="2266.1" cy="438.8" r="3.6" fill="#6b4a1a"/><circle cx="2286.8" cy="459.6" r="3.6" fill="#6b4a1a"/><line x1="2081.6" y1="204.6" x2="2129.3" y2="204.6" stroke="#6b4a1a" stroke-width="3" stroke-linecap="butt"/><circle cx="2105" cy="204.6" r="4" fill="#6b4a1a"/><text x="2139.7" y="215" font-size="42" font-weight="bold" text-anchor="start" fill="#000" textLength="80.8" lengthAdjust="spacingAndGlyphs" >TAC</text><text x="74" y="950" font-size="47" font-weight="bold" text-anchor="start" fill="#000" >c</text><rect x="201" y="989.5" width="943" height="699.5" fill="none" stroke="#000" stroke-width="7.5"/><line x1="201" y1="1689" x2="201" y2="1702.5" stroke="#000" stroke-width="7.5" stroke-linecap="butt"/><text x="201" y="1740" font-size="37.5" font-weight="normal" text-anchor="middle" fill="#000" stroke="#000" stroke-width="1.2">10</text><line x1="318.9" y1="1689" x2="318.9" y2="1702.5" stroke="#000" stroke-width="7.5" stroke-linecap="butt"/><text x="318.9" y="1740" font-size="37.5" font-weight="normal" text-anchor="middle" fill="#000" stroke="#000" stroke-width="1.2">20</text><line x1="436.8" y1="1689" x2="436.8" y2="1702.5" stroke="#000" stroke-width="7.5" stroke-linecap="butt"/><text x="436.8" y="1740" font-size="37.5" font-weight="normal" text-anchor="middle" fill="#000" stroke="#000" stroke-width="1.2">30</text><line x1="554.7" y1="1689" x2="554.7" y2="1702.5" stroke="#000" stroke-width="7.5" stroke-linecap="butt"/><text x="554.7" y="1740" font-size="37.5" font-weight="normal" text-anchor="middle" fill="#000" stroke="#000" stroke-width="1.2">40</text><line x1="672.6" y1="1689" x2="672.6" y2="1702.5" stroke="#000" stroke-width="7.5" stroke-linecap="butt"/><text x="672.6" y="1740" font-size="37.5" font-weight="normal" text-anchor="middle" fill="#000" stroke="#000" stroke-width="1.2">50</text><line x1="790.5" y1="1689" x2="790.5" y2="1702.5" stroke="#000" stroke-width="7.5" stroke-linecap="butt"/><text x="790.5" y="1740" font-size="37.5" font-weight="normal" text-anchor="middle" fill="#000" stroke="#000" stroke-width="1.2">60</text><line x1="908.4" y1="1689" x2="908.4" y2="1702.5" stroke="#000" stroke-width="7.5" stroke-linecap="butt"/><text x="908.4" y="1740" font-size="37.5" font-weight="normal" text-anchor="middle" fill="#000" stroke="#000" stroke-width="1.2">70</text><line x1="1026.3" y1="1689" x2="1026.3" y2="1702.5" stroke="#000" stroke-width="7.5" stroke-linecap="butt"/><text x="1026.3" y="1740" font-size="37.5" font-weight="normal" text-anchor="middle" fill="#000" stroke="#000" stroke-width="1.2">80</text><line x1="1144.2" y1="1689" x2="1144.2" y2="1702.5" stroke="#000" stroke-width="7.5" stroke-linecap="butt"/><text x="1144.2" y="1740" font-size="37.5" font-weight="normal" text-anchor="middle" fill="#000" stroke="#000" stroke-width="1.2">90</text><line x1="259.9" y1="1689" x2="259.9" y2="1696.5" stroke="#000" stroke-width="6" stroke-linecap="butt"/><line x1="377.9" y1="1689" x2="377.9" y2="1696.5" stroke="#000" stroke-width="6" stroke-linecap="butt"/><line x1="495.8" y1="1689" x2="495.8" y2="1696.5" stroke="#000" stroke-width="6" stroke-linecap="butt"/><line x1="613.6" y1="1689" x2="613.6" y2="1696.5" stroke="#000" stroke-width="6" stroke-linecap="butt"/><line x1="731.5" y1="1689" x2="731.5" y2="1696.5" stroke="#000" stroke-width="6" stroke-linecap="butt"/><line x1="849.4" y1="1689" x2="849.4" y2="1696.5" stroke="#000" stroke-width="6" stroke-linecap="butt"/><line x1="967.3" y1="1689" x2="967.3" y2="1696.5" stroke="#000" stroke-width="6" stroke-linecap="butt"/><line x1="1085.2" y1="1689" x2="1085.2" y2="1696.5" stroke="#000" stroke-width="6" stroke-linecap="butt"/><text x="515" y="1792.5" font-size="38" font-weight="bold" text-anchor="start" fill="#000" textLength="139" lengthAdjust="spacing" >2 Theta</text><text x="664" y="1792.5" font-size="46" font-weight="normal" text-anchor="start" fill="#000" >(</text><text x="680" y="1792.5" font-size="38" font-weight="bold" text-anchor="start" fill="#000" textLength="136" lengthAdjust="spacing" >degree</text><text x="818" y="1792.5" font-size="46" font-weight="normal" text-anchor="start" fill="#000" >)</text><text transform="translate(155 1472.5) rotate(-90)" x="0" y="0" font-size="37" font-weight="bold" text-anchor="start" fill="#000" textLength="270" lengthAdjust="spacing" >Intensity(a.u.)</text><text x="982.5" y="1662.5" font-size="40" font-weight="bold" text-anchor="start" fill="#000" textLength="101.5" lengthAdjust="spacingAndGlyphs" >TAC3</text><text transform="translate(384 1190) rotate(-90)" x="0" y="0" font-size="28" font-weight="normal" text-anchor="start" fill="#000" textLength="76" lengthAdjust="spacingAndGlyphs" stroke="#000" stroke-width="1.2">(002)</text><text transform="translate(611.5 1477) rotate(-90)" x="0" y="0" font-size="28" font-weight="normal" text-anchor="start" fill="#000" textLength="74" lengthAdjust="spacingAndGlyphs" stroke="#000" stroke-width="1.2">(101)</text><polygon points="201.5,1257.2 203.5,1256.1 205.5,1259.4 207.5,1260.2 209.5,1269.6 211.5,1270 213.5,1277.4 215.5,1283 217.5,1287.3 219.5,1288.4 221.5,1292.3 223.5,1296.5 225.5,1302.2 227.5,1305.5 229.5,1305.7 231.5,1309.4 233.5,1316 235.5,1321 237.5,1321.5 239.5,1323.6 241.5,1330 243.5,1330.7 245.5,1335.8 247.5,1340.5 249.5,1342 251.5,1343.8 253.5,1347.4 255.5,1346.4 257.5,1348.5 259.5,1348.9 261.5,1350.6 263.5,1351.1 265.5,1352.4 267.5,1352.3 269.5,1353.3 271.5,1353.1 273.5,1352.9 275.5,1351.3 277.5,1348.2 279.5,1352.7 281.5,1349.2 283.5,1346.7 285.5,1347.9 287.5,1346 289.5,1348.3 291.5,1342.8 293.5,1342.6 295.5,1339.5 297.5,1333.2 299.5,1330.9 301.5,1331 303.5,1328 305.5,1324.6 307.5,1321.4 309.5,1317.6 311.5,1313.5 313.5,1311.9 315.5,1304.4 317.5,1301.7 319.5,1298.6 321.5,1291.1 323.5,1292.3 325.5,1284.6 327.5,1281.9 329.5,1282 331.5,1272.2 333.5,1268.4 335.5,1267.8 337.5,1258.7 339.5,1255.5 341.5,1252.9 343.5,1248.4 345.5,1244.3 347.5,1239.7 349.5,1237.8 351.5,1234.2 353.5,1230.5 355.5,1225.4 357.5,1222.5 359.5,1217.5 361.5,1219.3 363.5,1212 365.5,1214.7 367.5,1215.3 369.5,1209.3 371.5,1210 373.5,1211.4 375.5,1215 377.5,1213.2 379.5,1215.7 381.5,1216.3 383.5,1218.2 385.5,1223.1 387.5,1222.1 389.5,1228.3 391.5,1233.7 393.5,1240.4 395.5,1242.2 397.5,1252 399.5,1256.4 401.5,1262.8 403.5,1267.4 405.5,1270.8 407.5,1279.5 409.5,1289.6 411.5,1296.1 413.5,1304.1 415.5,1315.5 417.5,1324.3 419.5,1328.4 421.5,1337.9 423.5,1340.4 425.5,1347.4 427.5,1359.4 429.5,1361.5 431.5,1371.2 433.5,1377 435.5,1381.9 437.5,1389.3 439.5,1394.3 441.5,1397 443.5,1405.4 445.5,1410.1 447.5,1417.5 449.5,1416.1 451.5,1422 453.5,1425.1 455.5,1429.5 457.5,1436.6 459.5,1438.2 461.5,1438.6 463.5,1440.4 465.5,1449.7 467.5,1449.9 469.5,1454.4 471.5,1460.9 473.5,1462.9 475.5,1464.5 477.5,1467 479.5,1470.6 481.5,1470.8 483.5,1477.6 485.5,1477.1 487.5,1479.4 489.5,1478 491.5,1480.2 493.5,1483.6 495.5,1484.4 497.5,1484.2 499.5,1485.6 501.5,1489.2 503.5,1487.5 505.5,1489 507.5,1489.6 509.5,1490.2 511.5,1495 513.5,1495.6 515.5,1496.5 517.5,1495 519.5,1493.1 521.5,1498.8 523.5,1498.9 525.5,1500.3 527.5,1496.6 529.5,1502.1 531.5,1504.6 533.5,1504.5 535.5,1505 537.5,1502.6 539.5,1504.6 541.5,1500 543.5,1505.4 545.5,1503.4 547.5,1503.6 549.5,1503.8 551.5,1506.6 553.5,1506.2 555.5,1506.4 557.5,1504.1 559.5,1506.3 561.5,1503.3 563.5,1508 565.5,1504.5 567.5,1504.5 569.5,1503.3 571.5,1500 573.5,1499.7 575.5,1501.5 577.5,1503.6 579.5,1498.4 581.5,1498.6 583.5,1499.2 585.5,1495.8 587.5,1495.3 589.5,1497.2 591.5,1497.4 593.5,1496.3 595.5,1499.3 597.5,1496.5 599.5,1497.7 601.5,1500.4 603.5,1501.4 605.5,1496.2 607.5,1499.1 609.5,1502.6 611.5,1498.8 613.5,1500.6 615.5,1501 617.5,1502.1 619.5,1503.9 621.5,1507.7 623.5,1511.2 625.5,1513.2 627.5,1511.9 629.5,1509.8 631.5,1514.8 633.5,1515.6 635.5,1518 637.5,1518.1 639.5,1515.9 641.5,1520.5 643.5,1516.6 645.5,1519.7 647.5,1522.1 649.5,1522.6 651.5,1525.3 653.5,1518.5 655.5,1523.7 657.5,1524.6 659.5,1523.1 661.5,1525.1 663.5,1522.3 665.5,1525.7 667.5,1525.8 669.5,1523.4 671.5,1524.3 673.5,1525.6 675.5,1525.3 677.5,1528.9 679.5,1528 681.5,1530.7 683.5,1528.4 685.5,1525 687.5,1530.1 689.5,1529.4 691.5,1530.4 693.5,1531.1 695.5,1528.4 697.5,1532.3 699.5,1534.7 701.5,1535.6 703.5,1535 705.5,1536.3 707.5,1539.9 709.5,1540.9 711.5,1537.2 713.5,1538.7 715.5,1538.8 717.5,1539.3 719.5,1538 721.5,1539.3 723.5,1542.6 725.5,1543.8 727.5,1540 729.5,1540.6 731.5,1541.2 733.5,1543.2 735.5,1537.5 737.5,1540.6 739.5,1544 741.5,1544.2 743.5,1543.1 745.5,1541 747.5,1539.8 749.5,1544.8 751.5,1543.8 753.5,1538.7 755.5,1542.5 757.5,1542.8 759.5,1540.8 761.5,1544.4 763.5,1542.7 765.5,1543.8 767.5,1545.9 769.5,1544.5 771.5,1545.9 773.5,1545.9 775.5,1545.4 777.5,1545.6 779.5,1549.1 781.5,1545.6 783.5,1549 785.5,1544.7 787.5,1547.9 789.5,1547.1 791.5,1545.7 793.5,1542.4 795.5,1550.3 797.5,1545.6 799.5,1546.1 801.5,1548.3 803.5,1548.4 805.5,1549 807.5,1548.3 809.5,1546.2 811.5,1550.7 813.5,1547.7 815.5,1550 817.5,1545.1 819.5,1552.1 821.5,1549.8 823.5,1549.9 825.5,1550.2 827.5,1547.6 829.5,1546.7 831.5,1549.5 833.5,1549.5 835.5,1552.1 837.5,1551.4 839.5,1555.1 841.5,1555.1 843.5,1549.4 845.5,1553.3 847.5,1551.6 849.5,1554.8 851.5,1550.4 853.5,1556.1 855.5,1555.4 857.5,1556.5 859.5,1555 861.5,1551.3 863.5,1554 865.5,1555 867.5,1556 869.5,1555.4 871.5,1557.7 873.5,1557.6 875.5,1560.6 877.5,1558 879.5,1561.9 881.5,1557.1 883.5,1560.7 885.5,1557.5 887.5,1561.1 889.5,1563.5 891.5,1558 893.5,1559.7 895.5,1562.1 897.5,1561.6 899.5,1559.9 901.5,1564.7 903.5,1563.1 905.5,1565.5 907.5,1564 909.5,1561.5 911.5,1562.9 913.5,1562.6 915.5,1561.5 917.5,1563.3 919.5,1565.4 921.5,1566.2 923.5,1566.1 925.5,1562 927.5,1568.6 929.5,1564.7 931.5,1565.1 933.5,1565.3 935.5,1565 937.5,1563.8 939.5,1561.7 941.5,1568.2 943.5,1563.5 945.5,1561.7 947.5,1567.2 949.5,1567 951.5,1567.8 953.5,1569.8 955.5,1565.5 957.5,1567.3 959.5,1568 961.5,1569.4 963.5,1569.2 965.5,1566 967.5,1565.2 969.5,1567.3 971.5,1565 973.5,1570 975.5,1567.4 977.5,1567.4 979.5,1566.7 981.5,1571.1 983.5,1569 985.5,1567.8 987.5,1569.8 989.5,1568.6 991.5,1569.9 993.5,1571.3 995.5,1568.6 997.5,1568.6 999.5,1570.1 1001.5,1571.4 1003.5,1570.5 1005.5,1569.6 1007.5,1568.5 1009.5,1570.3 1011.5,1563.7 1013.5,1571.1 1015.5,1570.2 1017.5,1571.1 1019.5,1569.3 1021.5,1568.9 1023.5,1568.8 1025.5,1572.5 1027.5,1570.3 1029.5,1570.3 1031.5,1567.7 1033.5,1571 1035.5,1565 1037.5,1573.9 1039.5,1571.2 1041.5,1571.9 1043.5,1569.5 1045.5,1570.3 1047.5,1573.6 1049.5,1572.3 1051.5,1573.7 1053.5,1575.4 1055.5,1574.6 1057.5,1570.2 1059.5,1572 1061.5,1572 1063.5,1572.6 1065.5,1570.7 1067.5,1571 1069.5,1573.5 1071.5,1574 1073.5,1576.2 1075.5,1574.9 1077.5,1578.3 1079.5,1572.7 1081.5,1573.7 1083.5,1576.8 1085.5,1576.1 1087.5,1575 1089.5,1578.4 1091.5,1579.2 1093.5,1579.8 1095.5,1576.9 1097.5,1577.8 1099.5,1578.4 1101.5,1578.3 1103.5,1580.2 1105.5,1577.6 1107.5,1579.3 1109.5,1574.8 1111.5,1580.3 1113.5,1582 1115.5,1579.2 1117.5,1578.2 1119.5,1576.6 1121.5,1574.4 1123.5,1576.1 1125.5,1580.6 1127.5,1581.1 1129.5,1577.9 1131.5,1579 1133.5,1579.6 1135.5,1585.2 1137.5,1580.8 1139.5,1581.3 1139.5,1599.8 1137.5,1599.6 1135.5,1594.4 1133.5,1600.4 1131.5,1598.7 1129.5,1598.7 1127.5,1595.9 1125.5,1596.7 1123.5,1598.6 1121.5,1596.5 1119.5,1598.7 1117.5,1599.5 1115.5,1599.6 1113.5,1598.2 1111.5,1597.8 1109.5,1597 1107.5,1597.9 1105.5,1592.3 1103.5,1597.4 1101.5,1595 1099.5,1595 1097.5,1596.5 1095.5,1594.7 1093.5,1595.9 1091.5,1597.9 1089.5,1590.9 1087.5,1594.3 1085.5,1595 1083.5,1593.8 1081.5,1590.3 1079.5,1597.5 1077.5,1596.9 1075.5,1589.2 1073.5,1590 1071.5,1592.4 1069.5,1593.4 1067.5,1590.6 1065.5,1589.7 1063.5,1591.7 1061.5,1590.6 1059.5,1589.6 1057.5,1596.6 1055.5,1594.1 1053.5,1585.6 1051.5,1588.8 1049.5,1587.7 1047.5,1587.3 1045.5,1585.2 1043.5,1587.2 1041.5,1587.1 1039.5,1587.4 1037.5,1591.2 1035.5,1585.7 1033.5,1587.8 1031.5,1584.5 1029.5,1586.3 1027.5,1584.4 1025.5,1587.2 1023.5,1588.1 1021.5,1582.6 1019.5,1586.5 1017.5,1587.8 1015.5,1586.6 1013.5,1586.8 1011.5,1585.3 1009.5,1583.3 1007.5,1585.4 1005.5,1586.5 1003.5,1586.2 1001.5,1587 999.5,1586.3 997.5,1592.6 995.5,1582.8 993.5,1586.4 991.5,1592.5 989.5,1582.1 987.5,1585.6 985.5,1586.1 983.5,1584.4 981.5,1585.1 979.5,1583.1 977.5,1586.8 975.5,1587 973.5,1585.5 971.5,1585.7 969.5,1586 967.5,1588.1 965.5,1583.9 963.5,1582.8 961.5,1585.2 959.5,1585.7 957.5,1581.8 955.5,1583 953.5,1583.9 951.5,1583.2 949.5,1585.2 947.5,1585.6 945.5,1581.1 943.5,1581.9 941.5,1583.7 939.5,1582.9 937.5,1582.2 935.5,1582.6 933.5,1578.3 931.5,1585.2 929.5,1583.8 927.5,1581.8 925.5,1580.2 923.5,1579.3 921.5,1582.6 919.5,1583 917.5,1583.2 915.5,1581.7 913.5,1581 911.5,1581.7 909.5,1585.9 907.5,1581.8 905.5,1585.1 903.5,1581.9 901.5,1581.2 899.5,1583 897.5,1579.1 895.5,1580.2 893.5,1580.9 891.5,1578.5 889.5,1577.1 887.5,1581.8 885.5,1580.2 883.5,1577.5 881.5,1580.4 879.5,1581.8 877.5,1575.6 875.5,1574.7 873.5,1575.5 871.5,1578 869.5,1572.9 867.5,1577 865.5,1573.5 863.5,1573.9 861.5,1574.9 859.5,1571.2 857.5,1574.8 855.5,1580.4 853.5,1575.5 851.5,1574.6 849.5,1574.8 847.5,1574.2 845.5,1574.9 843.5,1575.8 841.5,1571.2 839.5,1573.4 837.5,1572.9 835.5,1569 833.5,1568.7 831.5,1570.8 829.5,1570.6 827.5,1568.9 825.5,1571.9 823.5,1572.6 821.5,1569.6 819.5,1566.8 817.5,1568 815.5,1573.6 813.5,1570.9 811.5,1566.6 809.5,1566.4 807.5,1571.5 805.5,1568.5 803.5,1566.3 801.5,1567.8 799.5,1565.2 797.5,1565.7 795.5,1561.9 793.5,1562.4 791.5,1563.7 789.5,1564.9 787.5,1563.9 785.5,1565.8 783.5,1568.4 781.5,1564 779.5,1565.5 777.5,1563.1 775.5,1569.2 773.5,1565 771.5,1563.6 769.5,1566.2 767.5,1566.1 765.5,1565.1 763.5,1566.3 761.5,1560.8 759.5,1563.6 757.5,1564.2 755.5,1564.5 753.5,1562.7 751.5,1560.4 749.5,1564.8 747.5,1561.7 745.5,1569.3 743.5,1562.6 741.5,1564.8 739.5,1559.4 737.5,1562.4 735.5,1563.7 733.5,1563.4 731.5,1563.3 729.5,1564.9 727.5,1563.4 725.5,1560.6 723.5,1563.6 721.5,1564 719.5,1559.6 717.5,1560.4 715.5,1562.3 713.5,1560.4 711.5,1563.9 709.5,1562.5 707.5,1557.5 705.5,1556.3 703.5,1562.1 701.5,1554.8 699.5,1558.5 697.5,1555.4 695.5,1553.9 693.5,1554.7 691.5,1557.5 689.5,1553.3 687.5,1550.9 685.5,1555 683.5,1551.5 681.5,1549 679.5,1552.4 677.5,1547.7 675.5,1550.2 673.5,1550.1 671.5,1548 669.5,1547 667.5,1554.1 665.5,1548.6 663.5,1546.8 661.5,1543.6 659.5,1547.7 657.5,1553.7 655.5,1548.2 653.5,1546.3 651.5,1545.8 649.5,1546 647.5,1546.5 645.5,1544.2 643.5,1544.1 641.5,1539.8 639.5,1545.9 637.5,1538.9 635.5,1543 633.5,1540.5 631.5,1539 629.5,1538 627.5,1537.1 625.5,1536.4 623.5,1533.5 621.5,1533.5 619.5,1530.8 617.5,1531.2 615.5,1528.8 613.5,1529.1 611.5,1526.4 609.5,1526.4 607.5,1524 605.5,1524.7 603.5,1522.3 601.5,1523 599.5,1524.1 597.5,1520.9 595.5,1520.6 593.5,1518.8 591.5,1523.4 589.5,1525.9 587.5,1525 585.5,1529.4 583.5,1523.5 581.5,1527.2 579.5,1524.1 577.5,1524.5 575.5,1528.2 573.5,1527 571.5,1532.2 569.5,1529.7 567.5,1529 565.5,1533.9 563.5,1529.8 561.5,1530.7 559.5,1539.5 557.5,1534.2 555.5,1536.4 553.5,1532.4 551.5,1536 549.5,1532.4 547.5,1533.7 545.5,1531 543.5,1531.9 541.5,1529.1 539.5,1532 537.5,1529.1 535.5,1532.6 533.5,1525.1 531.5,1526.8 529.5,1531.2 527.5,1532.6 525.5,1527.7 523.5,1529 521.5,1525.7 519.5,1531.2 517.5,1526.2 515.5,1526.3 513.5,1524.8 511.5,1524.6 509.5,1521.7 507.5,1518.8 505.5,1521 503.5,1518.1 501.5,1516.9 499.5,1515.9 497.5,1511.8 495.5,1512.7 493.5,1512.1 491.5,1509.3 489.5,1505.8 487.5,1507.2 485.5,1507 483.5,1503.2 481.5,1502.2 479.5,1499.7 477.5,1498.3 475.5,1495.5 473.5,1491.3 471.5,1488.5 469.5,1486.9 467.5,1483.6 465.5,1478.7 463.5,1478.8 461.5,1473.8 459.5,1475.4 457.5,1468.3 455.5,1463.4 453.5,1461 451.5,1459.5 449.5,1453.4 447.5,1452.5 445.5,1443 443.5,1438.9 441.5,1434.7 439.5,1429.1 437.5,1426.5 435.5,1419.1 433.5,1412.3 431.5,1413.8 429.5,1402.5 427.5,1396.9 425.5,1391 423.5,1383.4 421.5,1376.8 419.5,1367.3 417.5,1362.3 415.5,1351.8 413.5,1341.2 411.5,1338.4 409.5,1330.2 407.5,1319.9 405.5,1314.1 403.5,1314.4 401.5,1306.6 399.5,1300.3 397.5,1294.8 395.5,1289.4 393.5,1289.3 391.5,1281.3 389.5,1275.3 387.5,1277.2 385.5,1273.3 383.5,1266.4 381.5,1262.9 379.5,1260.1 377.5,1262.6 375.5,1259.4 373.5,1256.2 371.5,1255.7 369.5,1252.6 367.5,1252.9 365.5,1257.7 363.5,1258.9 361.5,1267.3 359.5,1268.4 357.5,1269.5 355.5,1275.5 353.5,1287.5 351.5,1283.1 349.5,1291.6 347.5,1291.3 345.5,1297.5 343.5,1299 341.5,1298.9 339.5,1306.4 337.5,1306.5 335.5,1308.5 333.5,1312.6 331.5,1316.1 329.5,1320.7 327.5,1324.2 325.5,1327.9 323.5,1331.3 321.5,1337.5 319.5,1341.5 317.5,1343.5 315.5,1344.6 313.5,1354.6 311.5,1356.5 309.5,1359.3 307.5,1362.8 305.5,1364.2 303.5,1364.3 301.5,1368.7 299.5,1367.1 297.5,1370.7 295.5,1374.9 293.5,1375.4 291.5,1378 289.5,1373.8 287.5,1380.8 285.5,1378.1 283.5,1381.8 281.5,1383.5 279.5,1384.4 277.5,1381.9 275.5,1388.8 273.5,1387.4 271.5,1390.9 269.5,1389.5 267.5,1387.5 265.5,1391.1 263.5,1387.3 261.5,1389.1 259.5,1385 257.5,1384.1 255.5,1380.8 253.5,1382.2 251.5,1380.3 249.5,1377.8 247.5,1376.6 245.5,1375.9 243.5,1372.1 241.5,1370.5 239.5,1366.9 237.5,1365.1 235.5,1365.3 233.5,1361.1 231.5,1359 229.5,1353.7 227.5,1349.4 225.5,1348.6 223.5,1342.2 221.5,1339.9 219.5,1336.2 217.5,1330.1 215.5,1327.8 213.5,1324.1 211.5,1321.3 209.5,1311.5 207.5,1304.5 205.5,1300.7 203.5,1297 201.5,1294.6" fill="#5e3a06"/><text x="1248.6" y="951" font-size="47" font-weight="bold" text-anchor="start" fill="#000" >d</text><rect x="1374.5" y="986" width="943" height="705" fill="none" stroke="#000" stroke-width="7.5"/><line x1="1374.5" y1="1691" x2="1360" y2="1691" stroke="#000" stroke-width="7.5" stroke-linecap="butt"/><text x="1348" y="1702" font-size="37.5" font-weight="normal" text-anchor="end" fill="#000" stroke="#000" stroke-width="1.2">60</text><line x1="1374.5" y1="1534.8" x2="1360" y2="1534.8" stroke="#000" stroke-width="7.5" stroke-linecap="butt"/><text x="1348" y="1545.8" font-size="37.5" font-weight="normal" text-anchor="end" fill="#000" stroke="#000" stroke-width="1.2">70</text><line x1="1374.5" y1="1378.5" x2="1360" y2="1378.5" stroke="#000" stroke-width="7.5" stroke-linecap="butt"/><text x="1348" y="1389.5" font-size="37.5" font-weight="normal" text-anchor="end" fill="#000" stroke="#000" stroke-width="1.2">80</text><line x1="1374.5" y1="1222.2" x2="1360" y2="1222.2" stroke="#000" stroke-width="7.5" stroke-linecap="butt"/><text x="1348" y="1233.2" font-size="37.5" font-weight="normal" text-anchor="end" fill="#000" stroke="#000" stroke-width="1.2">90</text><line x1="1374.5" y1="1066" x2="1360" y2="1066" stroke="#000" stroke-width="7.5" stroke-linecap="butt"/><text x="1348" y="1077" font-size="37.5" font-weight="normal" text-anchor="end" fill="#000" stroke="#000" stroke-width="1.2">100</text><line x1="1374.5" y1="1612.9" x2="1367" y2="1612.9" stroke="#000" stroke-width="6" stroke-linecap="butt"/><line x1="1374.5" y1="1456.6" x2="1367" y2="1456.6" stroke="#000" stroke-width="6" stroke-linecap="butt"/><line x1="1374.5" y1="1300.4" x2="1367" y2="1300.4" stroke="#000" stroke-width="6" stroke-linecap="butt"/><line x1="1374.5" y1="1144.1" x2="1367" y2="1144.1" stroke="#000" stroke-width="6" stroke-linecap="butt"/><line x1="1374.5" y1="1691" x2="1374.5" y2="1704.5" stroke="#000" stroke-width="7.5" stroke-linecap="butt"/><text x="1374.5" y="1742" font-size="37.5" font-weight="normal" text-anchor="middle" fill="#000" stroke="#000" stroke-width="1.2">4500</text><line x1="1492.4" y1="1691" x2="1492.4" y2="1704.5" stroke="#000" stroke-width="7.5" stroke-linecap="butt"/><text x="1492.4" y="1742" font-size="37.5" font-weight="normal" text-anchor="middle" fill="#000" stroke="#000" stroke-width="1.2">4000</text><line x1="1610.2" y1="1691" x2="1610.2" y2="1704.5" stroke="#000" stroke-width="7.5" stroke-linecap="butt"/><text x="1610.2" y="1742" font-size="37.5" font-weight="normal" text-anchor="middle" fill="#000" stroke="#000" stroke-width="1.2">3500</text><line x1="1728.1" y1="1691" x2="1728.1" y2="1704.5" stroke="#000" stroke-width="7.5" stroke-linecap="butt"/><text x="1728.1" y="1742" font-size="37.5" font-weight="normal" text-anchor="middle" fill="#000" stroke="#000" stroke-width="1.2">3000</text><line x1="1846" y1="1691" x2="1846" y2="1704.5" stroke="#000" stroke-width="7.5" stroke-linecap="butt"/><text x="1846" y="1742" font-size="37.5" font-weight="normal" text-anchor="middle" fill="#000" stroke="#000" stroke-width="1.2">2500</text><line x1="1963.9" y1="1691" x2="1963.9" y2="1704.5" stroke="#000" stroke-width="7.5" stroke-linecap="butt"/><text x="1963.9" y="1742" font-size="37.5" font-weight="normal" text-anchor="middle" fill="#000" stroke="#000" stroke-width="1.2">2000</text><line x1="2081.8" y1="1691" x2="2081.8" y2="1704.5" stroke="#000" stroke-width="7.5" stroke-linecap="butt"/><text x="2081.8" y="1742" font-size="37.5" font-weight="normal" text-anchor="middle" fill="#000" stroke="#000" stroke-width="1.2">1500</text><line x1="2199.6" y1="1691" x2="2199.6" y2="1704.5" stroke="#000" stroke-width="7.5" stroke-linecap="butt"/><text x="2199.6" y="1742" font-size="37.5" font-weight="normal" text-anchor="middle" fill="#000" stroke="#000" stroke-width="1.2">1000</text><line x1="2317.5" y1="1691" x2="2317.5" y2="1704.5" stroke="#000" stroke-width="7.5" stroke-linecap="butt"/><text x="2317.5" y="1742" font-size="37.5" font-weight="normal" text-anchor="middle" fill="#000" stroke="#000" stroke-width="1.2">500</text><line x1="1433.4" y1="1691" x2="1433.4" y2="1698.5" stroke="#000" stroke-width="6" stroke-linecap="butt"/><line x1="1551.3" y1="1691" x2="1551.3" y2="1698.5" stroke="#000" stroke-width="6" stroke-linecap="butt"/><line x1="1669.2" y1="1691" x2="1669.2" y2="1698.5" stroke="#000" stroke-width="6" stroke-linecap="butt"/><line x1="1787.1" y1="1691" x2="1787.1" y2="1698.5" stroke="#000" stroke-width="6" stroke-linecap="butt"/><line x1="1904.9" y1="1691" x2="1904.9" y2="1698.5" stroke="#000" stroke-width="6" stroke-linecap="butt"/><line x1="2022.8" y1="1691" x2="2022.8" y2="1698.5" stroke="#000" stroke-width="6" stroke-linecap="butt"/><line x1="2140.7" y1="1691" x2="2140.7" y2="1698.5" stroke="#000" stroke-width="6" stroke-linecap="butt"/><line x1="2258.6" y1="1691" x2="2258.6" y2="1698.5" stroke="#000" stroke-width="6" stroke-linecap="butt"/><text x="1635" y="1793" font-size="38" font-weight="bold" text-anchor="start" fill="#000" textLength="268.5" lengthAdjust="spacing" >Wavenumber</text><text x="1926" y="1793" font-size="46" font-weight="normal" text-anchor="start" fill="#000" >(</text><text x="1942" y="1793" font-size="38" font-weight="bold" text-anchor="start" fill="#000" textLength="58" lengthAdjust="spacingAndGlyphs" >cm</text><text x="2009" y="1776" font-size="22" font-weight="bold" text-anchor="start" fill="#000" textLength="26" lengthAdjust="spacingAndGlyphs" >−1</text><text x="2040" y="1793" font-size="46" font-weight="normal" text-anchor="start" fill="#000" >)</text><text transform="translate(1259 1478) rotate(-90)" x="0" y="0" font-size="39" font-weight="bold" text-anchor="start" fill="#000" textLength="280" lengthAdjust="spacing" >Transmittance</text><text transform="translate(1259 1186) rotate(-90)" x="0" y="0" font-size="43" font-weight="normal" text-anchor="start" fill="#000" >(</text><text transform="translate(1259 1168.5) rotate(-90)" x="0" y="0" font-size="39" font-weight="normal" text-anchor="start" fill="#000" textLength="33.5" lengthAdjust="spacingAndGlyphs" >%</text><text transform="translate(1259 1134) rotate(-90)" x="0" y="0" font-size="43" font-weight="normal" text-anchor="start" fill="#000" >)</text><text x="2148.5" y="1662.5" font-size="40" font-weight="bold" text-anchor="start" fill="#000" textLength="102.5" lengthAdjust="spacingAndGlyphs" >TAC3</text><path d="M1375,1070 C1379.2,1069.2 1387.5,1065.9 1400,1065 C1412.5,1064.1 1433.3,1064.7 1450,1064.5 C1466.7,1064.3 1489.7,1063.6 1500,1064 C1510.3,1064.4 1508.7,1065.6 1512,1067 C1515.3,1068.4 1517,1072 1520,1072.5 C1523,1073 1527,1071.2 1530,1070 C1533,1068.8 1533.8,1065.8 1538,1065 C1542.2,1064.2 1550.5,1064.5 1555,1065 C1559.5,1065.5 1562.1,1064.7 1565,1068 C1567.9,1071.3 1570,1074.7 1572.5,1085 C1575,1095.3 1577.1,1114.2 1580,1130 C1582.9,1145.8 1586.7,1161.7 1590,1180 C1593.3,1198.3 1596.2,1220.8 1600,1240 C1603.8,1259.2 1608.8,1280.8 1612.5,1295 C1616.2,1309.2 1619.2,1322.5 1622.5,1325 C1625.8,1327.5 1629.6,1319.2 1632.5,1310 C1635.4,1300.8 1637.1,1286.7 1640,1270 C1642.9,1253.3 1647.1,1225 1650,1210 C1652.9,1195 1654.6,1188.3 1657.5,1180 C1660.4,1171.7 1664.6,1168.3 1667.5,1160 C1670.4,1151.7 1671.7,1140.8 1675,1130 C1678.3,1119.2 1683.3,1104.2 1687.5,1095 C1691.7,1085.8 1695.8,1080.2 1700,1075 C1704.2,1069.8 1705.8,1065.7 1712.5,1064 C1719.2,1062.3 1734.4,1062.3 1740,1065 C1745.6,1067.7 1744,1079.5 1746,1080 C1748,1080.5 1749.7,1068.8 1752,1068 C1754.3,1067.2 1757.7,1075.3 1760,1075 C1762.3,1074.7 1759.3,1067.7 1766,1066 C1772.7,1064.3 1782.7,1065.2 1800,1065 C1817.3,1064.8 1857.5,1060.8 1870,1065 C1882.5,1069.2 1873.7,1078.2 1875,1090 C1876.3,1101.8 1876.5,1131 1878,1136 C1879.5,1141 1882,1129.3 1884,1120 C1886,1110.7 1888,1089.2 1890,1080 C1892,1070.8 1883.3,1067.7 1896,1065 C1908.7,1062.3 1945.2,1063.8 1966,1064 C1986.8,1064.2 2010.2,1063.3 2021,1066 C2031.8,1068.7 2028.1,1071 2031,1080 C2033.9,1089 2036,1105 2038.5,1120 C2041,1135 2044.1,1159.6 2046,1170 C2047.9,1180.4 2048.3,1183.3 2050,1182.5 C2051.7,1181.7 2053.8,1176.2 2056,1165 C2058.2,1153.8 2061,1129.2 2063.5,1115 C2066,1100.8 2067.7,1087.7 2071,1080 C2074.3,1072.3 2078.9,1069.8 2083.5,1069 C2088.1,1068.2 2094.9,1072.8 2098.5,1075 C2102.1,1077.2 2103.2,1077 2105,1082 C2106.8,1087 2108,1105 2109.5,1105 C2111,1105 2112.1,1088.2 2114,1082 C2115.9,1075.8 2118.2,1070.2 2121,1067.5 C2123.8,1064.8 2126.8,1064.3 2131,1066 C2135.2,1067.7 2141.8,1074.3 2146,1077.5 C2150.2,1080.7 2152.7,1079.6 2156,1085 C2159.3,1090.4 2163.5,1102.1 2166,1110 C2168.5,1117.9 2169.3,1130.4 2171,1132.5 C2172.7,1134.6 2172.7,1123.3 2176,1122.5 C2179.3,1121.7 2185.2,1128.1 2191,1127.5 C2196.8,1126.9 2205.2,1117.8 2211,1119 C2216.8,1120.2 2220.2,1125.7 2226,1135 C2231.8,1144.3 2240.2,1163.3 2246,1175 C2251.8,1186.7 2256.8,1194.2 2261,1205 C2265.2,1215.8 2266.8,1230.8 2271,1240 C2275.2,1249.2 2281,1254.2 2286,1260 C2291,1265.8 2296.3,1270.7 2301,1275 C2305.7,1279.3 2311.8,1284.2 2314,1286" fill="none" stroke="#c4661a" stroke-width="6.5" stroke-linejoin="round"/><line x1="1622.5" y1="1365" x2="1622.5" y2="1440" stroke="#000" stroke-width="4.5" stroke-linecap="butt"/><polygon points="1622.5,1340 1615,1367 1630,1367" fill="#000"/><text transform="translate(1633 1517.5) rotate(-90)" x="0" y="0" font-size="31" font-weight="normal" text-anchor="start" fill="#000" textLength="70" lengthAdjust="spacingAndGlyphs" stroke="#000" stroke-width="1.2">3445</text><line x1="1879.5" y1="1177.5" x2="1879.5" y2="1250" stroke="#000" stroke-width="4.5" stroke-linecap="butt"/><polygon points="1879.5,1152.5 1872,1179.5 1887,1179.5" fill="#000"/><text transform="translate(1891.5 1337.5) rotate(-90)" x="0" y="0" font-size="31" font-weight="normal" text-anchor="start" fill="#000" textLength="71.5" lengthAdjust="spacingAndGlyphs" stroke="#000" stroke-width="1.2">2363</text><line x1="2050" y1="1225" x2="2050" y2="1300" stroke="#000" stroke-width="4.5" stroke-linecap="butt"/><polygon points="2050,1200 2042.5,1227 2057.5,1227" fill="#000"/><text transform="translate(2061.5 1385) rotate(-90)" x="0" y="0" font-size="31" font-weight="normal" text-anchor="start" fill="#000" textLength="72.5" lengthAdjust="spacingAndGlyphs" stroke="#000" stroke-width="1.2">1632</text><line x1="2110" y1="1152.5" x2="2110" y2="1225" stroke="#000" stroke-width="4.5" stroke-linecap="butt"/><polygon points="2110,1127.5 2102.5,1154.5 2117.5,1154.5" fill="#000"/><text transform="translate(2121.5 1305) rotate(-90)" x="0" y="0" font-size="31" font-weight="normal" text-anchor="start" fill="#000" textLength="70" lengthAdjust="spacingAndGlyphs" stroke="#000" stroke-width="1.2">1385</text><line x1="2171" y1="1171" x2="2171" y2="1245" stroke="#000" stroke-width="4.5" stroke-linecap="butt"/><polygon points="2171,1146 2163.5,1173 2178.5,1173" fill="#000"/><text transform="translate(2182.5 1325) rotate(-90)" x="0" y="0" font-size="31" font-weight="normal" text-anchor="start" fill="#000" textLength="70" lengthAdjust="spacingAndGlyphs" stroke="#000" stroke-width="1.2">1119</text><text x="74" y="1830" font-size="47" font-weight="bold" text-anchor="start" fill="#000" >e</text><rect x="201.5" y="1856" width="945" height="700" fill="none" stroke="#000" stroke-width="7.5"/><line x1="306" y1="2556" x2="306" y2="2569.5" stroke="#000" stroke-width="7.5" stroke-linecap="butt"/><text x="306" y="2607" font-size="37.5" font-weight="normal" text-anchor="middle" fill="#000" stroke="#000" stroke-width="1.2">1200</text><line x1="446" y1="2556" x2="446" y2="2569.5" stroke="#000" stroke-width="7.5" stroke-linecap="butt"/><text x="446" y="2607" font-size="37.5" font-weight="normal" text-anchor="middle" fill="#000" stroke="#000" stroke-width="1.2">1000</text><line x1="586" y1="2556" x2="586" y2="2569.5" stroke="#000" stroke-width="7.5" stroke-linecap="butt"/><text x="586" y="2607" font-size="37.5" font-weight="normal" text-anchor="middle" fill="#000" stroke="#000" stroke-width="1.2">800</text><line x1="726" y1="2556" x2="726" y2="2569.5" stroke="#000" stroke-width="7.5" stroke-linecap="butt"/><text x="726" y="2607" font-size="37.5" font-weight="normal" text-anchor="middle" fill="#000" stroke="#000" stroke-width="1.2">600</text><line x1="866" y1="2556" x2="866" y2="2569.5" stroke="#000" stroke-width="7.5" stroke-linecap="butt"/><text x="866" y="2607" font-size="37.5" font-weight="normal" text-anchor="middle" fill="#000" stroke="#000" stroke-width="1.2">400</text><line x1="1006" y1="2556" x2="1006" y2="2569.5" stroke="#000" stroke-width="7.5" stroke-linecap="butt"/><text x="1006" y="2607" font-size="37.5" font-weight="normal" text-anchor="middle" fill="#000" stroke="#000" stroke-width="1.2">200</text><line x1="1146" y1="2556" x2="1146" y2="2569.5" stroke="#000" stroke-width="7.5" stroke-linecap="butt"/><text x="1146" y="2607" font-size="37.5" font-weight="normal" text-anchor="middle" fill="#000" stroke="#000" stroke-width="1.2">0</text><line x1="236" y1="2556" x2="236" y2="2563.5" stroke="#000" stroke-width="6" stroke-linecap="butt"/><line x1="376" y1="2556" x2="376" y2="2563.5" stroke="#000" stroke-width="6" stroke-linecap="butt"/><line x1="516" y1="2556" x2="516" y2="2563.5" stroke="#000" stroke-width="6" stroke-linecap="butt"/><line x1="656" y1="2556" x2="656" y2="2563.5" stroke="#000" stroke-width="6" stroke-linecap="butt"/><line x1="796" y1="2556" x2="796" y2="2563.5" stroke="#000" stroke-width="6" stroke-linecap="butt"/><line x1="936" y1="2556" x2="936" y2="2563.5" stroke="#000" stroke-width="6" stroke-linecap="butt"/><line x1="1076" y1="2556" x2="1076" y2="2563.5" stroke="#000" stroke-width="6" stroke-linecap="butt"/><text x="477.5" y="2656" font-size="38" font-weight="bold" text-anchor="start" fill="#000" textLength="390" lengthAdjust="spacing" >Binding energy (eV)</text><text transform="translate(147 2347.5) rotate(-90)" x="0" y="0" font-size="37" font-weight="bold" text-anchor="start" fill="#000" textLength="285" lengthAdjust="spacing" >Intensity (a.u.)</text><text x="987.5" y="2542.5" font-size="40" font-weight="bold" text-anchor="start" fill="#000" textLength="102.5" lengthAdjust="spacingAndGlyphs" >TAC3</text><text x="740" y="2016" font-size="30" font-weight="bold" text-anchor="start" fill="#000" textLength="70" lengthAdjust="spacingAndGlyphs" >O 1s</text><text x="917.5" y="1910" font-size="30" font-weight="bold" text-anchor="start" fill="#000" textLength="67.5" lengthAdjust="spacingAndGlyphs" >C 1s</text><text x="837.5" y="2337.5" font-size="30" font-weight="bold" text-anchor="start" fill="#000" textLength="67.5" lengthAdjust="spacingAndGlyphs" >N 1s</text><polyline points="202.5,2267.5 204.4,2269.2 206.2,2269.3 208.1,2274 210,2272 212.5,2272.4 215,2273.6 217.5,2276.3 220,2275 225,2274.4 230,2275.5 235,2277.1 240,2277.5 245,2274.6 250,2270.9 255,2269.7 260,2267.5 265,2263.3 270,2260.8 275,2254.1 280,2252.5 281.5,2249 283,2248.7 284.5,2247 286,2242 289,2232.5 292,2245 295,2262 298,2300 300,2325 301.2,2324.3 302.5,2328.3 303.8,2327.5 305,2330 306.2,2328.9 307.5,2328.9 308.8,2329.5 310,2330 311.2,2330.7 312.5,2329.8 313.8,2328.3 315,2327.7 316,2326.9 317,2327.1 318,2326.7 319,2326.6 320,2327.4 321,2325.2 322,2325.8 323,2325.5 324,2325.1 325,2324.9 326,2325.1 327,2324.5 328,2324.5 329,2325.7 330,2323.6 331,2323.4 332,2325.2 333,2322.5 334,2322 335,2322.3 336,2322.2 337,2322.3 338,2321.9 339,2321.3 340,2322.7 341,2322.2 342,2321.1 343,2320.2 344,2319.5 345,2319.5 346,2321.2 347,2319.1 348,2319.2 349,2316.9 350,2317.4 351,2318.1 352,2317 353,2319 354,2317.1 355,2317 356,2319.7 357,2317.3 358,2316.4 359,2315.9 360,2315.1 361,2316.7 362,2314.8 363,2314.9 364,2313.5 365,2315.1 366,2314.1 367,2313.8 368,2315.1 369,2313.2 370,2309.3 371,2312.7 372,2313.5 373,2309.8 374,2313.9 375,2311.7 376,2313.8 377,2310.6 378,2309.4 379,2310.6 380,2308.5 381,2311.2 382,2309.5 383,2309.5 384,2308.5 385,2308.7 386,2311.4 387,2308.5 388,2308.7 389,2308.9 390,2308.7 391,2307.4 392,2308.5 393,2308.2 394,2305.7 395,2306.3 396,2305.8 397,2304.8 398,2304.6 399,2305.3 400,2306.5 401,2304.1 402,2304.4 403,2304.2 404,2303 405,2302.9 406,2304.4 407,2303.1 408,2302.3 409,2302 410,2303 411,2302.1 412,2302.5 413,2302.6 414,2301.5 415,2301 416,2298.5 417,2301.3 418,2300.8 419,2299.9 420,2301 421,2298.3 422,2302.4 423,2298.9 424,2297 425,2299.3 426,2298.1 427,2297.8 428,2296.9 429,2298.3 430,2296.6 431,2296.7 432,2293.4 433,2294.7 434,2296.5 435,2295.7 436,2298.3 437,2293.2 438,2294.8 439,2294.6 440,2296.2 441,2294.9 442,2293.3 443,2293.5 445,2292.5 446,2293.8 447,2296.4 448,2300.9 449,2305 452.5,2312.5 456,2305 459,2290 462.5,2277.5 466,2300 467,2310.8 468,2319.6 469,2331.5 470,2345 471.2,2347.1 472.5,2348 473.8,2349.3 475,2352 481.2,2351.6 487.5,2351.2 493.8,2353.6 500,2352.5 501.2,2354.5 502.5,2354.9 503.8,2352.9 505,2351.9 506,2352.7 507,2353.5 508,2353.7 509,2351.4 510,2353.1 511,2352.7 512,2350.2 513,2350.9 514,2348.6 515,2351.7 516,2350.4 517,2350.3 518,2350.2 519,2348.9 520,2348.3 521,2349.8 522,2351.5 523,2350.2 524,2348.1 525,2349.3 526,2349.7 527,2349.5 528,2349.6 529,2348.8 530,2351.6 531,2348.5 532,2346.8 533,2348.3 534,2348.2 535,2347.2 536,2348.7 537,2347.8 538,2348 539,2348 540,2346.7 541,2347.3 542,2347.7 543,2346.4 544,2347.6 545,2346.8 546,2346.3 547,2345.1 548,2347.1 549,2346.3 550,2345.3 551,2347.9 552,2346.5 553,2345.8 554,2346.3 555,2345.7 556,2345.3 557,2345.3 558,2342.1 559,2346.6 560,2343.9 561,2344.8 562,2345.9 563,2343.7 564,2344.2 565,2344.3 566,2343.9 567,2342.7 568,2343.7 569,2343.8 570,2344.3 571,2343 572,2341.7 573,2343.3 574,2342.4 575,2343.3 576,2344.4 577,2342.8 578,2343.7 579,2342.9 580,2341.1 581,2342.3 582,2343.3 583,2342 584,2341.6 585,2341.7 586,2342.8 587,2342.3 588,2342 589,2341.2 590,2339.6 591,2340.2 592,2338.6 593,2340.7 594,2340.9 595,2340.5 596,2341.6 597,2340.2 598,2340.4 599,2339.5 600,2342.6 601,2339.7 602,2338.3 603,2337.7 604,2338.5 605,2339.2 606,2339.8 607,2338.5 608,2338.3 609,2338.7 610,2337.1 611,2340.4 612,2337.5 613,2338.2 614,2336.7 615,2337.8 616,2336.8 617,2337.7 618,2337.3 619,2339.2 620,2336.7 621,2337.2 622,2337 623,2336.5 624,2336.6 625,2336.7 626,2337.6 627,2337.1 628,2335.9 629,2336.2 630,2334.8 631,2335.8 632,2336.9 633,2335.7 634,2335.5 635,2335.3 636,2332.9 637,2335.2 638,2336.3 639,2333 640,2333.1 641,2334.7 642,2334 643,2334.5 644,2334.3 645,2334.2 646,2333 647,2333.5 648,2333 649,2333.6 650,2331.2 651,2333.1 652,2332.4 653,2333.1 654,2333.6 655,2332.7 656,2334 657,2332.6 658,2333.4 659,2333.6 660,2333.8 661,2332.1 662,2332.9 663,2331.7 664,2333.5 665,2331.6 666,2330.3 667,2331.3 668,2332.4 669,2331.1 670,2330.6 671,2331.8 672,2329.7 673,2330.6 674,2329.8 675,2331.1 676,2331.2 677,2330.1 678,2331.5 679,2329.8 680,2330.1 681,2329.6 682,2330.3 683,2330 684,2327.5 685,2329.1 686,2328.2 687,2330.7 688,2327.1 689,2328.6 690,2329.3 691,2327.8 692,2329.5 693,2328.1 694,2326.9 695,2327.9 696,2325.1 697,2327.6 698,2327.4 699,2328.7 700,2325.2 701,2327.1 702,2328.5 703,2325.9 704,2326.6 705,2326.6 706,2322.8 707,2327.7 708,2325 709,2326.1 710,2325.2 711,2324.1 712,2324.4 713,2325.5 714,2326.9 715,2324.6 716,2326.3 717,2325 718,2324.7 719,2325.2 720,2324 721,2324.5 722,2325 723,2327.6 724,2325 725,2324 726,2324.6 727,2323.2 728,2325 729,2323.5 730,2325.2 731,2321.1 732,2321.4 733,2323 734,2325.6 735,2323.3 736,2322.8 737,2322.5 738,2323.1 739,2323.7 740,2323.2 741,2322 742.8,2321.2 744.5,2323.7 746.2,2320.5 748,2320 749.2,2317.9 750.5,2317.3 751.8,2316.8 753,2316 754.1,2314.6 755.2,2314 756.4,2313.8 757.5,2312.5 761,2322 764,2345 765,2347 766,2356.5 767,2365 768,2370 771.5,2385 774,2034 776.5,2395 780,2397.5 781.2,2398.2 782.5,2396.5 783.8,2396.5 785,2397.2 786,2398.6 787,2396.8 788,2396.3 789,2397 790,2399.3 791,2396.4 792,2397.7 793,2396.7 794,2396.6 795,2396.7 796,2395.3 797,2396.5 798,2395.4 799,2398 800,2394.8 801,2396.3 802,2396.6 803,2394.6 804,2395.8 805,2396 806,2395.9 807,2393.8 808,2397.3 809,2395.8 810,2395.5 811,2397.3 812,2394.4 813,2395.6 814,2396.7 815,2398.5 816,2395.7 817,2395.3 818,2394.4 819,2395.8 820,2395.3 821,2395.1 822,2394.8 823,2394.8 824,2394.2 825,2394.9 826,2395.3 827,2394.2 828,2393.6 829,2394.6 830,2395.6 831,2394.3 832,2397.9 833,2394.4 834,2394 835,2393.3 836,2393.5 837,2394.1 838,2394.6 839,2393.1 840,2392.3 841,2393.9 842,2396 843,2392.2 844,2395.7 845,2393.7 846,2393.8 847,2392.2 848,2395.7 849,2393.4 850,2393.1 851,2392 852,2393.3 853,2393.2 854,2394.8 855,2394 856,2394.1 857,2393 858,2395.2 859,2393.1 860,2393.3 861,2392.7 864,2380 866,2362.5 868,2380 870,2392 871,2391.5 872,2389.6 873,2391.1 874,2391.1 875,2393.1 876,2388.6 877,2392.5 878,2390.7 879,2390.9 880,2389.3 881,2390.4 882,2390.2 883,2392.4 884,2389.3 885,2390.9 886,2389.8 887,2391.2 888,2388.4 889,2390.3 890,2389.4 891,2390 892,2388.6 893,2390 894,2389 895,2388.4 896,2388 897,2387.1 898,2388.6 899,2388.9 900,2387.8 901,2387.5 902,2388.1 903,2386.5 904,2386.1 905,2386.8 906,2387.7 907,2388.6 908,2386.4 909,2389.3 910,2387.3 911,2387.7 912,2387.3 913,2385.4 914,2386.9 915,2389.3 916,2384.8 917,2387.2 918,2386.4 919,2388.5 920,2386 921,2385.2 922,2386 923.4,2385.7 924.8,2386.7 926.1,2387 927.5,2385 931,2372.5 934,2395 937,2430 940,2460 941,2463.8 942,2464.6 943,2468.1 944,2472 947,1922 950,2488 951.2,2489.5 952.5,2488.8 953.8,2491.4 955,2493 956.2,2496.4 957.5,2492.6 958.8,2496 960,2495 961.2,2493.8 962.5,2494.6 963.8,2495 965,2495.1 966,2493.2 967,2495 968,2496.8 969,2495.2 970,2496.1 971,2496.1 972,2494.2 973,2495.2 974,2495.1 975,2495.5 976,2496.2 977,2495.3 978,2497.1 979,2494 980,2497.6 981,2495.4 982,2495 983,2495.1 984,2493.9 985,2495.5 986,2495.4 987,2495.2 988,2493.9 989,2495.5 990,2495.2 991,2495.7 992,2495 993,2495.6 994,2496.6 995,2494.3 996,2496.8 997,2495.7 998,2495.4 999,2496.2 1000,2493.3 1001,2495.7 1002,2495.9 1003,2495.7 1004,2497 1005,2495.8 1006,2494.3 1007,2497.6 1008,2494.5 1009,2495.9 1010,2497.6 1011,2496.7 1012,2495 1013,2496 1014,2498.8 1015,2494.4 1016,2495.8 1017,2496 1018,2496.3 1019,2496.8 1020,2496.4 1021,2496.1 1022,2497.2 1023,2496.7 1024,2496.2 1025,2496.2 1026,2495 1027,2495.8 1028,2497.4 1029,2496.3 1030,2494.8 1031,2496.4 1032,2493.6 1033,2496.3 1034,2495.4 1035,2494.3 1036,2498 1037,2496.4 1038,2494 1039,2496.1 1040,2497.4 1041,2496.5 1042,2497.3 1043,2497.5 1044,2497.9 1045,2496.5 1046,2497.2 1047,2497.7 1048,2496.5 1049,2496.6 1050,2496.6 1051,2494.4 1052,2496.9 1053,2496.7 1054,2498.4 1055,2495.8 1056,2495.2 1057,2496.8 1058,2496.9 1059,2498.3 1060,2498.4 1061,2496.8 1062,2494.9 1063,2497.5 1064,2496 1065,2496.9 1066,2497.3 1067,2494 1068,2498.2 1069,2497 1070,2496.5 1071,2497.3 1072,2496.8 1073,2497.1 1074,2495.7 1075,2497.8 1076,2496.5 1077,2497.1 1078,2496.3 1079,2498 1080,2497.1 1081,2497.2 1082,2496.3 1083,2498.5 1084,2496.5 1085,2497.3 1086,2497.3 1087,2498.3 1088,2498.6 1089,2497.3 1090,2498.9 1091,2499.5 1092,2497.5 1093,2497.4 1094,2496.4 1095,2499.6 1096,2499.3 1097,2497.5 1098,2497.1 1099,2498.4 1100,2497.1 1101,2497.6 1102,2495.6 1103,2498.9 1104,2498.1 1105,2497.6 1106,2497.8 1107,2499.9 1108,2499.6 1109,2497.7 1110,2496.9 1111,2496.3 1112,2495.3 1113,2497.8 1114,2497.8 1115,2497.3 1116,2498.3 1117,2497.9 1118,2497.9 1119,2497 1120,2497.4 1121,2497.9 1122.6,2494.5 1124.2,2496.8 1125.9,2493.2 1127.5,2492.5 1129.4,2494.4 1131.2,2493.9 1133.1,2496 1135,2497 1137.5,2499.8 1140,2500.6 1142.5,2501.9 1145,2505" fill="none" stroke="#8cbf4b" stroke-width="6.5" stroke-linejoin="round" stroke-linecap="round" stroke-linejoin="miter" stroke-miterlimit="3"/><polygon points="939.5,2490 943,2250 945,1924 949,1924 951.5,2250 953.5,2490" fill="#8cbf4b"/><polygon points="769,2390 771.5,2150 772.5,2036 775.5,2036 777,2150 779.5,2390" fill="#8cbf4b"/><rect x="1375" y="1856" width="944" height="700" fill="none" stroke="#000" stroke-width="7.5"/><path d="M1379,2510 L1382,2510.1 L1385,2510.2 L1388,2510.2 L1391,2510.3 L1394,2510.4 L1397,2510.5 L1400,2510.6 L1403,2510.7 L1406,2510.8 L1409,2510.8 L1412,2510.9 L1415,2511 L1418,2511.1 L1421,2511.2 L1424,2511.3 L1427,2511.4 L1430,2511.5 L1433,2511.5 L1436,2511.6 L1439,2511.7 L1442,2511.8 L1445,2511.9 L1448,2512 L1451,2512.1 L1454,2512.1 L1457,2512.2 L1460,2512.3 L1463,2512.4 L1466,2512.5 L1469,2512.6 L1472,2512.7 L1475,2512.7 L1478,2512.8 L1481,2512.9 L1484,2513 L1487,2513.1 L1490,2513.2 L1493,2513.3 L1496,2513.3 L1499,2513.4 L1502,2513.5 L1505,2513.6 L1508,2513.7 L1511,2513.8 L1514,2513.9 L1517,2513.9 L1520,2514 L1523,2514.1 L1526,2514.2 L1529,2514.3 L1532,2514.4 L1535,2514.4 L1538,2514.5 L1541,2514.6 L1544,2514.7 L1547,2514.8 L1550,2514.9 L1553,2515 L1556,2515 L1559,2515.1 L1562,2515.2 L1565,2515.3 L1568,2515.4 L1571,2515.5 L1574,2515.5 L1577,2515.6 L1580,2515.7 L1583,2515.8 L1586,2515.9 L1589,2516 L1592,2516.1 L1595,2516.1 L1598,2516.2 L1601,2516.3 L1604,2516.4 L1607,2516.5 L1610,2516.6 L1613,2516.6 L1616,2516.7 L1619,2516.8 L1622,2516.9 L1625,2517 L1628,2517.1 L1631,2517.1 L1634,2517.2 L1637,2517.3 L1640,2517.4 L1643,2517.5 L1646,2517.6 L1649,2517.6 L1652,2517.7 L1655,2517.8 L1658,2517.9 L1661,2518 L1664,2518.1 L1667,2518.1 L1670,2518.2 L1673,2518.3 L1676,2518.4 L1679,2518.5 L1682,2518.5 L1685,2518.6 L1688,2518.7 L1691,2518.8 L1694,2518.9 L1697,2518.9 L1700,2519 L1703,2519.1 L1706,2519.2 L1709,2519.3 L1712,2519.3 L1715,2519.4 L1718,2519.5 L1721,2519.6 L1724,2519.7 L1727,2519.7 L1730,2519.8 L1733,2519.9 L1736,2520 L1739,2520 L1742,2520.1 L1745,2520.2 L1748,2520.3 L1751,2520.3 L1754,2520.4 L1757,2520.5 L1760,2520.5 L1763,2520.6 L1766,2520.7 L1769,2520.7 L1772,2520.8 L1775,2520.9 L1778,2520.9 L1781,2521 L1784,2521 L1787,2521 L1790,2521.1 L1793,2521.1 L1796,2521.1 L1799,2521.1 L1802,2521.1 L1805,2521.1 L1808,2521.1 L1811,2521 L1814,2521 L1817,2520.9 L1820,2520.8 L1823,2520.6 L1826,2520.5 L1829,2520.3 L1832,2520.1 L1835,2519.8 L1838,2519.5 L1841,2519.1 L1844,2518.7 L1847,2518.2 L1850,2517.6 L1853,2517 L1856,2516.2 L1859,2515.4 L1862,2514.5 L1865,2513.5 L1868,2512.3 L1871,2511 L1874,2509.6 L1877,2508 L1880,2506.2 L1883,2504.3 L1886,2502.1 L1889,2499.8 L1892,2497.2 L1895,2494.4 L1898,2491.3 L1901,2488 L1904,2484.4 L1907,2480.5 L1910,2476.3 L1913,2471.7 L1916,2466.8 L1919,2461.6 L1922,2456 L1925,2450.1 L1928,2443.8 L1931,2437 L1934,2429.9 L1937,2422.4 L1940,2414.5 L1943,2406.2 L1946,2397.5 L1949,2388.4 L1952,2379 L1955,2369.1 L1958,2358.9 L1961,2348.4 L1964,2337.5 L1967,2326.3 L1970,2314.8 L1973,2303.1 L1976,2291.2 L1979,2279.1 L1982,2266.9 L1985,2254.5 L1988,2242.1 L1991,2229.7 L1994,2217.3 L1997,2204.9 L2000,2192.7 L2003,2180.7 L2006,2169 L2009,2157.5 L2012,2146.3 L2015,2135.6 L2018,2125.3 L2021,2115.5 L2024,2106.3 L2027,2097.7 L2030,2089.7 L2033,2082.4 L2036,2075.9 L2039,2070.1 L2042,2065.2 L2045,2061 L2048,2057.8 L2051,2055.4 L2054,2053.9 L2057,2053.3 L2060,2053.7 L2063,2055 L2066,2057.4 L2069,2060.8 L2072,2065.1 L2075,2070.4 L2078,2076.6 L2081,2083.6 L2084,2091.5 L2087,2100.1 L2090,2109.5 L2093,2119.6 L2096,2130.2 L2099,2141.4 L2102,2153.1 L2105,2165.2 L2108,2177.7 L2111,2190.4 L2114,2203.4 L2117,2216.6 L2120,2229.9 L2123,2243.2 L2126,2256.5 L2129,2269.8 L2132,2282.9 L2135,2295.9 L2138,2308.7 L2141,2321.2 L2144,2333.5 L2147,2345.4 L2150,2357 L2153,2368.2 L2156,2379.1 L2159,2389.5 L2162,2399.5 L2165,2409 L2168,2418.2 L2171,2426.8 L2174,2435.1 L2177,2442.9 L2180,2450.2 L2183,2457.1 L2186,2463.6 L2189,2469.7 L2192,2475.4 L2195,2480.7 L2198,2485.6 L2201,2490.1 L2204,2494.4 L2207,2498.3 L2210,2501.8 L2213,2505.1 L2216,2508.2 L2219,2510.9 L2222,2513.4 L2225,2515.7 L2228,2517.8 L2231,2519.7 L2234,2521.4 L2237,2523 L2240,2524.4 L2243,2525.7 L2246,2526.8 L2249,2527.9 L2252,2528.8 L2255,2529.6 L2258,2530.4 L2261,2531 L2264,2531.7 L2267,2532.2 L2270,2532.7 L2273,2533.1 L2276,2533.5 L2279,2533.9 L2282,2534.2 L2285,2534.5 L2288,2534.8 L2291,2535 L2294,2535.3 L2297,2535.5 L2300,2535.7 L2303,2535.8 L2306,2536 L2309,2536.2 L2312,2536.3 L2315,2536.5 L2315,2538.9 L1379,2511.6 Z" fill="#9a805c"/><path d="M1379,2510.1 L1382,2510.2 L1385,2510.3 L1388,2510.4 L1391,2510.5 L1394,2510.6 L1397,2510.6 L1400,2510.7 L1403,2510.8 L1406,2510.9 L1409,2511 L1412,2511.1 L1415,2511.2 L1418,2511.3 L1421,2511.3 L1424,2511.4 L1427,2511.5 L1430,2511.6 L1433,2511.7 L1436,2511.8 L1439,2511.9 L1442,2512 L1445,2512 L1448,2512.1 L1451,2512.2 L1454,2512.3 L1457,2512.4 L1460,2512.5 L1463,2512.6 L1466,2512.7 L1469,2512.7 L1472,2512.8 L1475,2512.9 L1478,2513 L1481,2513.1 L1484,2513.2 L1487,2513.3 L1490,2513.4 L1493,2513.4 L1496,2513.5 L1499,2513.6 L1502,2513.7 L1505,2513.8 L1508,2513.9 L1511,2514 L1514,2514.1 L1517,2514.1 L1520,2514.2 L1523,2514.3 L1526,2514.4 L1529,2514.5 L1532,2514.6 L1535,2514.7 L1538,2514.8 L1541,2514.8 L1544,2514.9 L1547,2515 L1550,2515.1 L1553,2515.2 L1556,2515.3 L1559,2515.4 L1562,2515.5 L1565,2515.5 L1568,2515.6 L1571,2515.7 L1574,2515.8 L1577,2515.9 L1580,2516 L1583,2516.1 L1586,2516.2 L1589,2516.2 L1592,2516.3 L1595,2516.4 L1598,2516.5 L1601,2516.6 L1604,2516.7 L1607,2516.8 L1610,2516.9 L1613,2516.9 L1616,2517 L1619,2517.1 L1622,2517.2 L1625,2517.3 L1628,2517.4 L1631,2517.5 L1634,2517.6 L1637,2517.6 L1640,2517.7 L1643,2517.8 L1646,2517.9 L1649,2518 L1652,2518.1 L1655,2518.2 L1658,2518.2 L1661,2518.3 L1664,2518.4 L1667,2518.5 L1670,2518.6 L1673,2518.7 L1676,2518.8 L1679,2518.8 L1682,2518.9 L1685,2519 L1688,2519.1 L1691,2519.2 L1694,2519.3 L1697,2519.3 L1700,2519.4 L1703,2519.5 L1706,2519.6 L1709,2519.6 L1712,2519.7 L1715,2519.8 L1718,2519.8 L1721,2519.9 L1724,2520 L1727,2520 L1730,2520.1 L1733,2520.1 L1736,2520.2 L1739,2520.2 L1742,2520.2 L1745,2520.2 L1748,2520.3 L1751,2520.3 L1754,2520.3 L1757,2520.2 L1760,2520.2 L1763,2520.2 L1766,2520.1 L1769,2520 L1772,2519.9 L1775,2519.8 L1778,2519.7 L1781,2519.5 L1784,2519.3 L1787,2519.1 L1790,2518.8 L1793,2518.6 L1796,2518.3 L1799,2517.9 L1802,2517.5 L1805,2517.1 L1808,2516.6 L1811,2516.1 L1814,2515.5 L1817,2514.9 L1820,2514.2 L1823,2513.4 L1826,2512.6 L1829,2511.7 L1832,2510.8 L1835,2509.7 L1838,2508.6 L1841,2507.5 L1844,2506.2 L1847,2504.9 L1850,2503.4 L1853,2501.9 L1856,2500.3 L1859,2498.6 L1862,2496.9 L1865,2495 L1868,2493.1 L1871,2491 L1874,2488.9 L1877,2486.6 L1880,2484.3 L1883,2481.9 L1886,2479.5 L1889,2476.9 L1892,2474.3 L1895,2471.6 L1898,2468.8 L1901,2466 L1904,2463.2 L1907,2460.3 L1910,2457.3 L1913,2454.3 L1916,2451.3 L1919,2448.3 L1922,2445.3 L1925,2442.3 L1928,2439.3 L1931,2436.4 L1934,2433.5 L1937,2430.6 L1940,2427.8 L1943,2425.1 L1946,2422.4 L1949,2419.9 L1952,2417.4 L1955,2415.1 L1958,2412.9 L1961,2410.8 L1964,2408.9 L1967,2407.1 L1970,2405.5 L1973,2404 L1976,2402.8 L1979,2401.7 L1982,2400.8 L1985,2400.1 L1988,2399.6 L1991,2399.3 L1994,2399.2 L1997,2399.3 L2000,2399.7 L2003,2400.4 L2006,2401.4 L2009,2402.6 L2012,2404.2 L2015,2406 L2018,2408 L2021,2410.3 L2024,2412.8 L2027,2415.5 L2030,2418.4 L2033,2421.5 L2036,2424.7 L2039,2428.1 L2042,2431.6 L2045,2435.2 L2048,2438.9 L2051,2442.6 L2054,2446.4 L2057,2450.2 L2060,2454 L2063,2457.9 L2066,2461.6 L2069,2465.4 L2072,2469.1 L2075,2472.7 L2078,2476.2 L2081,2479.6 L2084,2483 L2087,2486.2 L2090,2489.4 L2093,2492.4 L2096,2495.2 L2099,2498 L2102,2500.6 L2105,2503.1 L2108,2505.5 L2111,2507.7 L2114,2509.8 L2117,2511.8 L2120,2513.7 L2123,2515.4 L2126,2517 L2129,2518.5 L2132,2519.9 L2135,2521.2 L2138,2522.4 L2141,2523.5 L2144,2524.5 L2147,2525.5 L2150,2526.3 L2153,2527.1 L2156,2527.8 L2159,2528.5 L2162,2529.1 L2165,2529.7 L2168,2530.2 L2171,2530.6 L2174,2531 L2177,2531.4 L2180,2531.7 L2183,2532.1 L2186,2532.3 L2189,2532.6 L2192,2532.9 L2195,2533.1 L2198,2533.3 L2201,2533.5 L2204,2533.7 L2207,2533.8 L2210,2534 L2213,2534.1 L2216,2534.3 L2219,2534.4 L2222,2534.5 L2225,2534.6 L2228,2534.7 L2231,2534.8 L2234,2535 L2237,2535.1 L2240,2535.2 L2243,2535.3 L2246,2535.4 L2249,2535.4 L2252,2535.5 L2255,2535.6 L2258,2535.7 L2261,2535.8 L2264,2535.9 L2267,2536 L2270,2536.1 L2273,2536.2 L2276,2536.3 L2279,2536.4 L2282,2536.4 L2285,2536.5 L2288,2536.6 L2291,2536.7 L2294,2536.8 L2297,2536.9 L2300,2537 L2303,2537.1 L2306,2537.1 L2309,2537.2 L2312,2537.3 L2315,2537.4 L2315,2538.9 L1379,2511.6 Z" fill="#c98a4a"/><path d="M1379,2510.1 L1382,2510.2 L1385,2510.3 L1388,2510.4 L1391,2510.5 L1394,2510.6 L1397,2510.6 L1400,2510.7 L1403,2510.8 L1406,2510.9 L1409,2511 L1412,2511.1 L1415,2511.2 L1418,2511.3 L1421,2511.3 L1424,2511.4 L1427,2511.5 L1430,2511.6 L1433,2511.7 L1436,2511.8 L1439,2511.9 L1442,2512 L1445,2512 L1448,2512.1 L1451,2512.2 L1454,2512.3 L1457,2512.4 L1460,2512.5 L1463,2512.6 L1466,2512.7 L1469,2512.7 L1472,2512.8 L1475,2512.9 L1478,2513 L1481,2513.1 L1484,2513.2 L1487,2513.3 L1490,2513.4 L1493,2513.4 L1496,2513.5 L1499,2513.6 L1502,2513.7 L1505,2513.8 L1508,2513.9 L1511,2514 L1514,2514.1 L1517,2514.1 L1520,2514.2 L1523,2514.3 L1526,2514.4 L1529,2514.5 L1532,2514.6 L1535,2514.7 L1538,2514.7 L1541,2514.8 L1544,2514.9 L1547,2515 L1550,2515.1 L1553,2515.2 L1556,2515.2 L1559,2515.3 L1562,2515.4 L1565,2515.5 L1568,2515.6 L1571,2515.6 L1574,2515.7 L1577,2515.8 L1580,2515.9 L1583,2515.9 L1586,2516 L1589,2516.1 L1592,2516.1 L1595,2516.2 L1598,2516.2 L1601,2516.3 L1604,2516.3 L1607,2516.3 L1610,2516.3 L1613,2516.4 L1616,2516.4 L1619,2516.3 L1622,2516.3 L1625,2516.3 L1628,2516.2 L1631,2516.2 L1634,2516.1 L1637,2516 L1640,2515.8 L1643,2515.7 L1646,2515.5 L1649,2515.2 L1652,2515 L1655,2514.7 L1658,2514.4 L1661,2514 L1664,2513.5 L1667,2513 L1670,2512.5 L1673,2511.9 L1676,2511.2 L1679,2510.5 L1682,2509.6 L1685,2508.7 L1688,2507.7 L1691,2506.6 L1694,2505.4 L1697,2504.1 L1700,2502.7 L1703,2501.2 L1706,2499.5 L1709,2497.7 L1712,2495.7 L1715,2493.6 L1718,2491.4 L1721,2488.9 L1724,2486.4 L1727,2483.6 L1730,2480.7 L1733,2477.5 L1736,2474.2 L1739,2470.7 L1742,2467 L1745,2463.1 L1748,2459 L1751,2454.7 L1754,2450.2 L1757,2445.4 L1760,2440.5 L1763,2435.4 L1766,2430 L1769,2424.5 L1772,2418.8 L1775,2412.9 L1778,2406.8 L1781,2400.5 L1784,2394.1 L1787,2387.6 L1790,2380.9 L1793,2374.1 L1796,2367.2 L1799,2360.2 L1802,2353.2 L1805,2346.1 L1808,2339 L1811,2331.8 L1814,2324.7 L1817,2317.6 L1820,2310.6 L1823,2303.7 L1826,2296.9 L1829,2290.2 L1832,2283.7 L1835,2277.3 L1838,2271.2 L1841,2265.3 L1844,2259.7 L1847,2254.3 L1850,2249.2 L1853,2244.5 L1856,2240.1 L1859,2236.1 L1862,2232.4 L1865,2229.2 L1868,2226.4 L1871,2224 L1874,2222 L1877,2220.5 L1880,2219.4 L1883,2218.8 L1886,2218.6 L1889,2218.9 L1892,2219.6 L1895,2220.8 L1898,2222.4 L1901,2224.4 L1904,2226.8 L1907,2229.6 L1910,2232.8 L1913,2236.4 L1916,2240.4 L1919,2244.7 L1922,2249.3 L1925,2254.2 L1928,2259.5 L1931,2265 L1934,2270.8 L1937,2276.8 L1940,2283 L1943,2289.3 L1946,2295.9 L1949,2302.6 L1952,2309.4 L1955,2316.3 L1958,2323.3 L1961,2330.4 L1964,2337.5 L1967,2344.5 L1970,2351.6 L1973,2358.7 L1976,2365.7 L1979,2372.6 L1982,2379.5 L1985,2386.2 L1988,2392.9 L1991,2399.4 L1994,2405.8 L1997,2412.1 L2000,2418.2 L2003,2424.1 L2006,2429.9 L2009,2435.5 L2012,2440.9 L2015,2446.1 L2018,2451.1 L2021,2456 L2024,2460.6 L2027,2465.1 L2030,2469.3 L2033,2473.4 L2036,2477.3 L2039,2481 L2042,2484.5 L2045,2487.8 L2048,2490.9 L2051,2493.9 L2054,2496.7 L2057,2499.3 L2060,2501.8 L2063,2504.1 L2066,2506.3 L2069,2508.4 L2072,2510.3 L2075,2512.1 L2078,2513.7 L2081,2515.3 L2084,2516.7 L2087,2518.1 L2090,2519.3 L2093,2520.5 L2096,2521.6 L2099,2522.5 L2102,2523.5 L2105,2524.3 L2108,2525.1 L2111,2525.8 L2114,2526.5 L2117,2527.1 L2120,2527.6 L2123,2528.2 L2126,2528.6 L2129,2529.1 L2132,2529.5 L2135,2529.9 L2138,2530.2 L2141,2530.5 L2144,2530.8 L2147,2531.1 L2150,2531.3 L2153,2531.6 L2156,2531.8 L2159,2532 L2162,2532.2 L2165,2532.4 L2168,2532.5 L2171,2532.7 L2174,2532.9 L2177,2533 L2180,2533.1 L2183,2533.3 L2186,2533.4 L2189,2533.5 L2192,2533.6 L2195,2533.7 L2198,2533.9 L2201,2534 L2204,2534.1 L2207,2534.2 L2210,2534.3 L2213,2534.4 L2216,2534.5 L2219,2534.6 L2222,2534.7 L2225,2534.8 L2228,2534.8 L2231,2534.9 L2234,2535 L2237,2535.1 L2240,2535.2 L2243,2535.3 L2246,2535.4 L2249,2535.5 L2252,2535.6 L2255,2535.7 L2258,2535.7 L2261,2535.8 L2264,2535.9 L2267,2536 L2270,2536.1 L2273,2536.2 L2276,2536.3 L2279,2536.4 L2282,2536.4 L2285,2536.5 L2288,2536.6 L2291,2536.7 L2294,2536.8 L2297,2536.9 L2300,2537 L2303,2537.1 L2306,2537.1 L2309,2537.2 L2312,2537.3 L2315,2537.4 L2315,2538.9 L1379,2511.6 Z" fill="#88b473"/><path d="M1379,2505.5 L1382,2505.5 L1385,2505.5 L1388,2505.4 L1391,2505.4 L1394,2505.4 L1397,2505.3 L1400,2505.3 L1403,2505.2 L1406,2505.1 L1409,2505.1 L1412,2505 L1415,2504.9 L1418,2504.8 L1421,2504.7 L1424,2504.6 L1427,2504.4 L1430,2504.3 L1433,2504.2 L1436,2504 L1439,2503.8 L1442,2503.6 L1445,2503.4 L1448,2503.2 L1451,2503 L1454,2502.8 L1457,2502.5 L1460,2502.2 L1463,2501.9 L1466,2501.6 L1469,2501.3 L1472,2500.9 L1475,2500.5 L1478,2500.2 L1481,2499.7 L1484,2499.3 L1487,2498.8 L1490,2498.4 L1493,2497.9 L1496,2497.3 L1499,2496.8 L1502,2496.2 L1505,2495.6 L1508,2494.9 L1511,2494.2 L1514,2493.6 L1517,2492.8 L1520,2492.1 L1523,2491.3 L1526,2490.5 L1529,2489.6 L1532,2488.7 L1535,2487.8 L1538,2486.9 L1541,2485.9 L1544,2484.9 L1547,2483.9 L1550,2482.8 L1553,2481.7 L1556,2480.6 L1559,2479.4 L1562,2478.2 L1565,2477 L1568,2475.7 L1571,2474.4 L1574,2473.1 L1577,2471.8 L1580,2470.4 L1583,2469 L1586,2467.6 L1589,2466.2 L1592,2464.7 L1595,2463.2 L1598,2461.7 L1601,2460.2 L1604,2458.7 L1607,2457.2 L1610,2455.6 L1613,2454.1 L1616,2452.5 L1619,2450.9 L1622,2449.4 L1625,2447.8 L1628,2446.2 L1631,2444.7 L1634,2443.1 L1637,2441.6 L1640,2440.1 L1643,2438.6 L1646,2437.1 L1649,2435.7 L1652,2434.3 L1655,2432.9 L1658,2431.6 L1661,2430.3 L1664,2429.1 L1667,2427.9 L1670,2426.7 L1673,2425.7 L1676,2424.7 L1679,2423.7 L1682,2422.9 L1685,2422.1 L1688,2421.4 L1691,2420.8 L1694,2420.2 L1697,2419.8 L1700,2419.4 L1703,2419.1 L1706,2419 L1709,2418.9 L1712,2418.9 L1715,2419 L1718,2419.3 L1721,2419.6 L1724,2420.1 L1727,2420.7 L1730,2421.4 L1733,2422.2 L1736,2423.2 L1739,2424.2 L1742,2425.4 L1745,2426.6 L1748,2427.9 L1751,2429.3 L1754,2430.8 L1757,2432.3 L1760,2434 L1763,2435.6 L1766,2437.4 L1769,2439.1 L1772,2440.9 L1775,2442.8 L1778,2444.7 L1781,2446.6 L1784,2448.5 L1787,2450.4 L1790,2452.4 L1793,2454.4 L1796,2456.3 L1799,2458.3 L1802,2460.2 L1805,2462.2 L1808,2464.1 L1811,2466 L1814,2467.9 L1817,2469.8 L1820,2471.7 L1823,2473.5 L1826,2475.3 L1829,2477.1 L1832,2478.8 L1835,2480.5 L1838,2482.2 L1841,2483.8 L1844,2485.4 L1847,2487 L1850,2488.5 L1853,2490 L1856,2491.4 L1859,2492.8 L1862,2494.2 L1865,2495.5 L1868,2496.8 L1871,2498 L1874,2499.2 L1877,2500.4 L1880,2501.5 L1883,2502.6 L1886,2503.6 L1889,2504.6 L1892,2505.6 L1895,2506.5 L1898,2507.4 L1901,2508.3 L1904,2509.1 L1907,2509.9 L1910,2510.7 L1913,2511.4 L1916,2512.1 L1919,2512.8 L1922,2513.4 L1925,2514 L1928,2514.6 L1931,2515.2 L1934,2515.7 L1937,2516.2 L1940,2516.7 L1943,2517.2 L1946,2517.6 L1949,2518.1 L1952,2518.5 L1955,2518.9 L1958,2519.3 L1961,2519.6 L1964,2520 L1967,2520.3 L1970,2520.6 L1973,2521 L1976,2521.3 L1979,2521.5 L1982,2521.8 L1985,2522.1 L1988,2522.3 L1991,2522.6 L1994,2522.8 L1997,2523.1 L2000,2523.3 L2003,2523.5 L2006,2523.7 L2009,2523.9 L2012,2524.1 L2015,2524.3 L2018,2524.5 L2021,2524.7 L2024,2524.9 L2027,2525 L2030,2525.2 L2033,2525.4 L2036,2525.5 L2039,2525.7 L2042,2525.9 L2045,2526 L2048,2526.2 L2051,2526.3 L2054,2526.5 L2057,2526.6 L2060,2526.8 L2063,2526.9 L2066,2527.1 L2069,2527.2 L2072,2527.3 L2075,2527.5 L2078,2527.6 L2081,2527.7 L2084,2527.9 L2087,2528 L2090,2528.1 L2093,2528.3 L2096,2528.4 L2099,2528.5 L2102,2528.6 L2105,2528.8 L2108,2528.9 L2111,2529 L2114,2529.1 L2117,2529.3 L2120,2529.4 L2123,2529.5 L2126,2529.6 L2129,2529.7 L2132,2529.8 L2135,2530 L2138,2530.1 L2141,2530.2 L2144,2530.3 L2147,2530.4 L2150,2530.5 L2153,2530.7 L2156,2530.8 L2159,2530.9 L2162,2531 L2165,2531.1 L2168,2531.2 L2171,2531.3 L2174,2531.4 L2177,2531.6 L2180,2531.7 L2183,2531.8 L2186,2531.9 L2189,2532 L2192,2532.1 L2195,2532.2 L2198,2532.3 L2201,2532.4 L2204,2532.5 L2207,2532.6 L2210,2532.7 L2213,2532.8 L2216,2533 L2219,2533.1 L2222,2533.2 L2225,2533.3 L2228,2533.4 L2231,2533.5 L2234,2533.6 L2237,2533.7 L2240,2533.8 L2243,2533.9 L2246,2534 L2249,2534.1 L2252,2534.2 L2255,2534.3 L2258,2534.4 L2261,2534.5 L2264,2534.6 L2267,2534.7 L2270,2534.8 L2273,2534.9 L2276,2535 L2279,2535.1 L2282,2535.2 L2285,2535.3 L2288,2535.4 L2291,2535.5 L2294,2535.6 L2297,2535.7 L2300,2535.8 L2303,2535.9 L2306,2536 L2309,2536.1 L2312,2536.2 L2315,2536.3 L2315,2538.9 L1379,2511.6 Z" fill="#5e9a5e"/><g clip-path="url(#cp1)"><path d="M1379,2510.1 L1382,2510.2 L1385,2510.3 L1388,2510.4 L1391,2510.5 L1394,2510.6 L1397,2510.6 L1400,2510.7 L1403,2510.8 L1406,2510.9 L1409,2511 L1412,2511.1 L1415,2511.2 L1418,2511.3 L1421,2511.3 L1424,2511.4 L1427,2511.5 L1430,2511.6 L1433,2511.7 L1436,2511.8 L1439,2511.9 L1442,2512 L1445,2512 L1448,2512.1 L1451,2512.2 L1454,2512.3 L1457,2512.4 L1460,2512.5 L1463,2512.6 L1466,2512.7 L1469,2512.7 L1472,2512.8 L1475,2512.9 L1478,2513 L1481,2513.1 L1484,2513.2 L1487,2513.3 L1490,2513.4 L1493,2513.4 L1496,2513.5 L1499,2513.6 L1502,2513.7 L1505,2513.8 L1508,2513.9 L1511,2514 L1514,2514.1 L1517,2514.1 L1520,2514.2 L1523,2514.3 L1526,2514.4 L1529,2514.5 L1532,2514.6 L1535,2514.7 L1538,2514.8 L1541,2514.8 L1544,2514.9 L1547,2515 L1550,2515.1 L1553,2515.2 L1556,2515.3 L1559,2515.4 L1562,2515.5 L1565,2515.5 L1568,2515.6 L1571,2515.7 L1574,2515.8 L1577,2515.9 L1580,2516 L1583,2516.1 L1586,2516.2 L1589,2516.2 L1592,2516.3 L1595,2516.4 L1598,2516.5 L1601,2516.6 L1604,2516.7 L1607,2516.8 L1610,2516.9 L1613,2516.9 L1616,2517 L1619,2517.1 L1622,2517.2 L1625,2517.3 L1628,2517.4 L1631,2517.5 L1634,2517.6 L1637,2517.6 L1640,2517.7 L1643,2517.8 L1646,2517.9 L1649,2518 L1652,2518.1 L1655,2518.2 L1658,2518.2 L1661,2518.3 L1664,2518.4 L1667,2518.5 L1670,2518.6 L1673,2518.7 L1676,2518.8 L1679,2518.8 L1682,2518.9 L1685,2519 L1688,2519.1 L1691,2519.2 L1694,2519.3 L1697,2519.3 L1700,2519.4 L1703,2519.5 L1706,2519.6 L1709,2519.6 L1712,2519.7 L1715,2519.8 L1718,2519.8 L1721,2519.9 L1724,2520 L1727,2520 L1730,2520.1 L1733,2520.1 L1736,2520.2 L1739,2520.2 L1742,2520.2 L1745,2520.2 L1748,2520.3 L1751,2520.3 L1754,2520.3 L1757,2520.2 L1760,2520.2 L1763,2520.2 L1766,2520.1 L1769,2520 L1772,2519.9 L1775,2519.8 L1778,2519.7 L1781,2519.5 L1784,2519.3 L1787,2519.1 L1790,2518.8 L1793,2518.6 L1796,2518.3 L1799,2517.9 L1802,2517.5 L1805,2517.1 L1808,2516.6 L1811,2516.1 L1814,2515.5 L1817,2514.9 L1820,2514.2 L1823,2513.4 L1826,2512.6 L1829,2511.7 L1832,2510.8 L1835,2509.7 L1838,2508.6 L1841,2507.5 L1844,2506.2 L1847,2504.9 L1850,2503.4 L1853,2501.9 L1856,2500.3 L1859,2498.6 L1862,2496.9 L1865,2495 L1868,2493.1 L1871,2491 L1874,2488.9 L1877,2486.6 L1880,2484.3 L1883,2481.9 L1886,2479.5 L1889,2476.9 L1892,2474.3 L1895,2471.6 L1898,2468.8 L1901,2466 L1904,2463.2 L1907,2460.3 L1910,2457.3 L1913,2454.3 L1916,2451.3 L1919,2448.3 L1922,2445.3 L1925,2442.3 L1928,2439.3 L1931,2436.4 L1934,2433.5 L1937,2430.6 L1940,2427.8 L1943,2425.1 L1946,2422.4 L1949,2419.9 L1952,2417.4 L1955,2415.1 L1958,2412.9 L1961,2410.8 L1964,2408.9 L1967,2407.1 L1970,2405.5 L1973,2404 L1976,2402.8 L1979,2401.7 L1982,2400.8 L1985,2400.1 L1988,2399.6 L1991,2399.3 L1994,2399.2 L1997,2399.3 L2000,2399.7 L2003,2400.4 L2006,2401.4 L2009,2402.6 L2012,2404.2 L2015,2406 L2018,2408 L2021,2410.3 L2024,2412.8 L2027,2415.5 L2030,2418.4 L2033,2421.5 L2036,2424.7 L2039,2428.1 L2042,2431.6 L2045,2435.2 L2048,2438.9 L2051,2442.6 L2054,2446.4 L2057,2450.2 L2060,2454 L2063,2457.9 L2066,2461.6 L2069,2465.4 L2072,2469.1 L2075,2472.7 L2078,2476.2 L2081,2479.6 L2084,2483 L2087,2486.2 L2090,2489.4 L2093,2492.4 L2096,2495.2 L2099,2498 L2102,2500.6 L2105,2503.1 L2108,2505.5 L2111,2507.7 L2114,2509.8 L2117,2511.8 L2120,2513.7 L2123,2515.4 L2126,2517 L2129,2518.5 L2132,2519.9 L2135,2521.2 L2138,2522.4 L2141,2523.5 L2144,2524.5 L2147,2525.5 L2150,2526.3 L2153,2527.1 L2156,2527.8 L2159,2528.5 L2162,2529.1 L2165,2529.7 L2168,2530.2 L2171,2530.6 L2174,2531 L2177,2531.4 L2180,2531.7 L2183,2532.1 L2186,2532.3 L2189,2532.6 L2192,2532.9 L2195,2533.1 L2198,2533.3 L2201,2533.5 L2204,2533.7 L2207,2533.8 L2210,2534 L2213,2534.1 L2216,2534.3 L2219,2534.4 L2222,2534.5 L2225,2534.6 L2228,2534.7 L2231,2534.8 L2234,2535 L2237,2535.1 L2240,2535.2 L2243,2535.3 L2246,2535.4 L2249,2535.4 L2252,2535.5 L2255,2535.6 L2258,2535.7 L2261,2535.8 L2264,2535.9 L2267,2536 L2270,2536.1 L2273,2536.2 L2276,2536.3 L2279,2536.4 L2282,2536.4 L2285,2536.5 L2288,2536.6 L2291,2536.7 L2294,2536.8 L2297,2536.9 L2300,2537 L2303,2537.1 L2306,2537.1 L2309,2537.2 L2312,2537.3 L2315,2537.4 L2315,2538.9 L1379,2511.6 Z" fill="#b06010"/></g><g clip-path="url(#cp1)"><path d="M1379,2510.1 L1382,2510.2 L1385,2510.3 L1388,2510.4 L1391,2510.5 L1394,2510.6 L1397,2510.6 L1400,2510.7 L1403,2510.8 L1406,2510.9 L1409,2511 L1412,2511.1 L1415,2511.2 L1418,2511.3 L1421,2511.3 L1424,2511.4 L1427,2511.5 L1430,2511.6 L1433,2511.7 L1436,2511.8 L1439,2511.9 L1442,2512 L1445,2512 L1448,2512.1 L1451,2512.2 L1454,2512.3 L1457,2512.4 L1460,2512.5 L1463,2512.6 L1466,2512.7 L1469,2512.7 L1472,2512.8 L1475,2512.9 L1478,2513 L1481,2513.1 L1484,2513.2 L1487,2513.3 L1490,2513.4 L1493,2513.4 L1496,2513.5 L1499,2513.6 L1502,2513.7 L1505,2513.8 L1508,2513.9 L1511,2514 L1514,2514.1 L1517,2514.1 L1520,2514.2 L1523,2514.3 L1526,2514.4 L1529,2514.5 L1532,2514.6 L1535,2514.7 L1538,2514.7 L1541,2514.8 L1544,2514.9 L1547,2515 L1550,2515.1 L1553,2515.2 L1556,2515.2 L1559,2515.3 L1562,2515.4 L1565,2515.5 L1568,2515.6 L1571,2515.6 L1574,2515.7 L1577,2515.8 L1580,2515.9 L1583,2515.9 L1586,2516 L1589,2516.1 L1592,2516.1 L1595,2516.2 L1598,2516.2 L1601,2516.3 L1604,2516.3 L1607,2516.3 L1610,2516.3 L1613,2516.4 L1616,2516.4 L1619,2516.3 L1622,2516.3 L1625,2516.3 L1628,2516.2 L1631,2516.2 L1634,2516.1 L1637,2516 L1640,2515.8 L1643,2515.7 L1646,2515.5 L1649,2515.2 L1652,2515 L1655,2514.7 L1658,2514.4 L1661,2514 L1664,2513.5 L1667,2513 L1670,2512.5 L1673,2511.9 L1676,2511.2 L1679,2510.5 L1682,2509.6 L1685,2508.7 L1688,2507.7 L1691,2506.6 L1694,2505.4 L1697,2504.1 L1700,2502.7 L1703,2501.2 L1706,2499.5 L1709,2497.7 L1712,2495.7 L1715,2493.6 L1718,2491.4 L1721,2488.9 L1724,2486.4 L1727,2483.6 L1730,2480.7 L1733,2477.5 L1736,2474.2 L1739,2470.7 L1742,2467 L1745,2463.1 L1748,2459 L1751,2454.7 L1754,2450.2 L1757,2445.4 L1760,2440.5 L1763,2435.4 L1766,2430 L1769,2424.5 L1772,2418.8 L1775,2412.9 L1778,2406.8 L1781,2400.5 L1784,2394.1 L1787,2387.6 L1790,2380.9 L1793,2374.1 L1796,2367.2 L1799,2360.2 L1802,2353.2 L1805,2346.1 L1808,2339 L1811,2331.8 L1814,2324.7 L1817,2317.6 L1820,2310.6 L1823,2303.7 L1826,2296.9 L1829,2290.2 L1832,2283.7 L1835,2277.3 L1838,2271.2 L1841,2265.3 L1844,2259.7 L1847,2254.3 L1850,2249.2 L1853,2244.5 L1856,2240.1 L1859,2236.1 L1862,2232.4 L1865,2229.2 L1868,2226.4 L1871,2224 L1874,2222 L1877,2220.5 L1880,2219.4 L1883,2218.8 L1886,2218.6 L1889,2218.9 L1892,2219.6 L1895,2220.8 L1898,2222.4 L1901,2224.4 L1904,2226.8 L1907,2229.6 L1910,2232.8 L1913,2236.4 L1916,2240.4 L1919,2244.7 L1922,2249.3 L1925,2254.2 L1928,2259.5 L1931,2265 L1934,2270.8 L1937,2276.8 L1940,2283 L1943,2289.3 L1946,2295.9 L1949,2302.6 L1952,2309.4 L1955,2316.3 L1958,2323.3 L1961,2330.4 L1964,2337.5 L1967,2344.5 L1970,2351.6 L1973,2358.7 L1976,2365.7 L1979,2372.6 L1982,2379.5 L1985,2386.2 L1988,2392.9 L1991,2399.4 L1994,2405.8 L1997,2412.1 L2000,2418.2 L2003,2424.1 L2006,2429.9 L2009,2435.5 L2012,2440.9 L2015,2446.1 L2018,2451.1 L2021,2456 L2024,2460.6 L2027,2465.1 L2030,2469.3 L2033,2473.4 L2036,2477.3 L2039,2481 L2042,2484.5 L2045,2487.8 L2048,2490.9 L2051,2493.9 L2054,2496.7 L2057,2499.3 L2060,2501.8 L2063,2504.1 L2066,2506.3 L2069,2508.4 L2072,2510.3 L2075,2512.1 L2078,2513.7 L2081,2515.3 L2084,2516.7 L2087,2518.1 L2090,2519.3 L2093,2520.5 L2096,2521.6 L2099,2522.5 L2102,2523.5 L2105,2524.3 L2108,2525.1 L2111,2525.8 L2114,2526.5 L2117,2527.1 L2120,2527.6 L2123,2528.2 L2126,2528.6 L2129,2529.1 L2132,2529.5 L2135,2529.9 L2138,2530.2 L2141,2530.5 L2144,2530.8 L2147,2531.1 L2150,2531.3 L2153,2531.6 L2156,2531.8 L2159,2532 L2162,2532.2 L2165,2532.4 L2168,2532.5 L2171,2532.7 L2174,2532.9 L2177,2533 L2180,2533.1 L2183,2533.3 L2186,2533.4 L2189,2533.5 L2192,2533.6 L2195,2533.7 L2198,2533.9 L2201,2534 L2204,2534.1 L2207,2534.2 L2210,2534.3 L2213,2534.4 L2216,2534.5 L2219,2534.6 L2222,2534.7 L2225,2534.8 L2228,2534.8 L2231,2534.9 L2234,2535 L2237,2535.1 L2240,2535.2 L2243,2535.3 L2246,2535.4 L2249,2535.5 L2252,2535.6 L2255,2535.7 L2258,2535.7 L2261,2535.8 L2264,2535.9 L2267,2536 L2270,2536.1 L2273,2536.2 L2276,2536.3 L2279,2536.4 L2282,2536.4 L2285,2536.5 L2288,2536.6 L2291,2536.7 L2294,2536.8 L2297,2536.9 L2300,2537 L2303,2537.1 L2306,2537.1 L2309,2537.2 L2312,2537.3 L2315,2537.4 L2315,2538.9 L1379,2511.6 Z" fill="#5a9438"/></g><g clip-path="url(#cp2)"><path d="M1379,2510.1 L1382,2510.2 L1385,2510.3 L1388,2510.4 L1391,2510.5 L1394,2510.6 L1397,2510.6 L1400,2510.7 L1403,2510.8 L1406,2510.9 L1409,2511 L1412,2511.1 L1415,2511.2 L1418,2511.3 L1421,2511.3 L1424,2511.4 L1427,2511.5 L1430,2511.6 L1433,2511.7 L1436,2511.8 L1439,2511.9 L1442,2512 L1445,2512 L1448,2512.1 L1451,2512.2 L1454,2512.3 L1457,2512.4 L1460,2512.5 L1463,2512.6 L1466,2512.7 L1469,2512.7 L1472,2512.8 L1475,2512.9 L1478,2513 L1481,2513.1 L1484,2513.2 L1487,2513.3 L1490,2513.4 L1493,2513.4 L1496,2513.5 L1499,2513.6 L1502,2513.7 L1505,2513.8 L1508,2513.9 L1511,2514 L1514,2514.1 L1517,2514.1 L1520,2514.2 L1523,2514.3 L1526,2514.4 L1529,2514.5 L1532,2514.6 L1535,2514.7 L1538,2514.7 L1541,2514.8 L1544,2514.9 L1547,2515 L1550,2515.1 L1553,2515.2 L1556,2515.2 L1559,2515.3 L1562,2515.4 L1565,2515.5 L1568,2515.6 L1571,2515.6 L1574,2515.7 L1577,2515.8 L1580,2515.9 L1583,2515.9 L1586,2516 L1589,2516.1 L1592,2516.1 L1595,2516.2 L1598,2516.2 L1601,2516.3 L1604,2516.3 L1607,2516.3 L1610,2516.3 L1613,2516.4 L1616,2516.4 L1619,2516.3 L1622,2516.3 L1625,2516.3 L1628,2516.2 L1631,2516.2 L1634,2516.1 L1637,2516 L1640,2515.8 L1643,2515.7 L1646,2515.5 L1649,2515.2 L1652,2515 L1655,2514.7 L1658,2514.4 L1661,2514 L1664,2513.5 L1667,2513 L1670,2512.5 L1673,2511.9 L1676,2511.2 L1679,2510.5 L1682,2509.6 L1685,2508.7 L1688,2507.7 L1691,2506.6 L1694,2505.4 L1697,2504.1 L1700,2502.7 L1703,2501.2 L1706,2499.5 L1709,2497.7 L1712,2495.7 L1715,2493.6 L1718,2491.4 L1721,2488.9 L1724,2486.4 L1727,2483.6 L1730,2480.7 L1733,2477.5 L1736,2474.2 L1739,2470.7 L1742,2467 L1745,2463.1 L1748,2459 L1751,2454.7 L1754,2450.2 L1757,2445.4 L1760,2440.5 L1763,2435.4 L1766,2430 L1769,2424.5 L1772,2418.8 L1775,2412.9 L1778,2406.8 L1781,2400.5 L1784,2394.1 L1787,2387.6 L1790,2380.9 L1793,2374.1 L1796,2367.2 L1799,2360.2 L1802,2353.2 L1805,2346.1 L1808,2339 L1811,2331.8 L1814,2324.7 L1817,2317.6 L1820,2310.6 L1823,2303.7 L1826,2296.9 L1829,2290.2 L1832,2283.7 L1835,2277.3 L1838,2271.2 L1841,2265.3 L1844,2259.7 L1847,2254.3 L1850,2249.2 L1853,2244.5 L1856,2240.1 L1859,2236.1 L1862,2232.4 L1865,2229.2 L1868,2226.4 L1871,2224 L1874,2222 L1877,2220.5 L1880,2219.4 L1883,2218.8 L1886,2218.6 L1889,2218.9 L1892,2219.6 L1895,2220.8 L1898,2222.4 L1901,2224.4 L1904,2226.8 L1907,2229.6 L1910,2232.8 L1913,2236.4 L1916,2240.4 L1919,2244.7 L1922,2249.3 L1925,2254.2 L1928,2259.5 L1931,2265 L1934,2270.8 L1937,2276.8 L1940,2283 L1943,2289.3 L1946,2295.9 L1949,2302.6 L1952,2309.4 L1955,2316.3 L1958,2323.3 L1961,2330.4 L1964,2337.5 L1967,2344.5 L1970,2351.6 L1973,2358.7 L1976,2365.7 L1979,2372.6 L1982,2379.5 L1985,2386.2 L1988,2392.9 L1991,2399.4 L1994,2405.8 L1997,2412.1 L2000,2418.2 L2003,2424.1 L2006,2429.9 L2009,2435.5 L2012,2440.9 L2015,2446.1 L2018,2451.1 L2021,2456 L2024,2460.6 L2027,2465.1 L2030,2469.3 L2033,2473.4 L2036,2477.3 L2039,2481 L2042,2484.5 L2045,2487.8 L2048,2490.9 L2051,2493.9 L2054,2496.7 L2057,2499.3 L2060,2501.8 L2063,2504.1 L2066,2506.3 L2069,2508.4 L2072,2510.3 L2075,2512.1 L2078,2513.7 L2081,2515.3 L2084,2516.7 L2087,2518.1 L2090,2519.3 L2093,2520.5 L2096,2521.6 L2099,2522.5 L2102,2523.5 L2105,2524.3 L2108,2525.1 L2111,2525.8 L2114,2526.5 L2117,2527.1 L2120,2527.6 L2123,2528.2 L2126,2528.6 L2129,2529.1 L2132,2529.5 L2135,2529.9 L2138,2530.2 L2141,2530.5 L2144,2530.8 L2147,2531.1 L2150,2531.3 L2153,2531.6 L2156,2531.8 L2159,2532 L2162,2532.2 L2165,2532.4 L2168,2532.5 L2171,2532.7 L2174,2532.9 L2177,2533 L2180,2533.1 L2183,2533.3 L2186,2533.4 L2189,2533.5 L2192,2533.6 L2195,2533.7 L2198,2533.9 L2201,2534 L2204,2534.1 L2207,2534.2 L2210,2534.3 L2213,2534.4 L2216,2534.5 L2219,2534.6 L2222,2534.7 L2225,2534.8 L2228,2534.8 L2231,2534.9 L2234,2535 L2237,2535.1 L2240,2535.2 L2243,2535.3 L2246,2535.4 L2249,2535.5 L2252,2535.6 L2255,2535.7 L2258,2535.7 L2261,2535.8 L2264,2535.9 L2267,2536 L2270,2536.1 L2273,2536.2 L2276,2536.3 L2279,2536.4 L2282,2536.4 L2285,2536.5 L2288,2536.6 L2291,2536.7 L2294,2536.8 L2297,2536.9 L2300,2537 L2303,2537.1 L2306,2537.1 L2309,2537.2 L2312,2537.3 L2315,2537.4 L2315,2538.9 L1379,2511.6 Z" fill="#5f8a2c"/></g><g clip-path="url(#cp3)"><path d="M1379,2505.5 L1382,2505.5 L1385,2505.5 L1388,2505.4 L1391,2505.4 L1394,2505.4 L1397,2505.3 L1400,2505.3 L1403,2505.2 L1406,2505.1 L1409,2505.1 L1412,2505 L1415,2504.9 L1418,2504.8 L1421,2504.7 L1424,2504.6 L1427,2504.4 L1430,2504.3 L1433,2504.2 L1436,2504 L1439,2503.8 L1442,2503.6 L1445,2503.4 L1448,2503.2 L1451,2503 L1454,2502.8 L1457,2502.5 L1460,2502.2 L1463,2501.9 L1466,2501.6 L1469,2501.3 L1472,2500.9 L1475,2500.5 L1478,2500.2 L1481,2499.7 L1484,2499.3 L1487,2498.8 L1490,2498.4 L1493,2497.9 L1496,2497.3 L1499,2496.8 L1502,2496.2 L1505,2495.6 L1508,2494.9 L1511,2494.2 L1514,2493.6 L1517,2492.8 L1520,2492.1 L1523,2491.3 L1526,2490.5 L1529,2489.6 L1532,2488.7 L1535,2487.8 L1538,2486.9 L1541,2485.9 L1544,2484.9 L1547,2483.9 L1550,2482.8 L1553,2481.7 L1556,2480.6 L1559,2479.4 L1562,2478.2 L1565,2477 L1568,2475.7 L1571,2474.4 L1574,2473.1 L1577,2471.8 L1580,2470.4 L1583,2469 L1586,2467.6 L1589,2466.2 L1592,2464.7 L1595,2463.2 L1598,2461.7 L1601,2460.2 L1604,2458.7 L1607,2457.2 L1610,2455.6 L1613,2454.1 L1616,2452.5 L1619,2450.9 L1622,2449.4 L1625,2447.8 L1628,2446.2 L1631,2444.7 L1634,2443.1 L1637,2441.6 L1640,2440.1 L1643,2438.6 L1646,2437.1 L1649,2435.7 L1652,2434.3 L1655,2432.9 L1658,2431.6 L1661,2430.3 L1664,2429.1 L1667,2427.9 L1670,2426.7 L1673,2425.7 L1676,2424.7 L1679,2423.7 L1682,2422.9 L1685,2422.1 L1688,2421.4 L1691,2420.8 L1694,2420.2 L1697,2419.8 L1700,2419.4 L1703,2419.1 L1706,2419 L1709,2418.9 L1712,2418.9 L1715,2419 L1718,2419.3 L1721,2419.6 L1724,2420.1 L1727,2420.7 L1730,2421.4 L1733,2422.2 L1736,2423.2 L1739,2424.2 L1742,2425.4 L1745,2426.6 L1748,2427.9 L1751,2429.3 L1754,2430.8 L1757,2432.3 L1760,2434 L1763,2435.6 L1766,2437.4 L1769,2439.1 L1772,2440.9 L1775,2442.8 L1778,2444.7 L1781,2446.6 L1784,2448.5 L1787,2450.4 L1790,2452.4 L1793,2454.4 L1796,2456.3 L1799,2458.3 L1802,2460.2 L1805,2462.2 L1808,2464.1 L1811,2466 L1814,2467.9 L1817,2469.8 L1820,2471.7 L1823,2473.5 L1826,2475.3 L1829,2477.1 L1832,2478.8 L1835,2480.5 L1838,2482.2 L1841,2483.8 L1844,2485.4 L1847,2487 L1850,2488.5 L1853,2490 L1856,2491.4 L1859,2492.8 L1862,2494.2 L1865,2495.5 L1868,2496.8 L1871,2498 L1874,2499.2 L1877,2500.4 L1880,2501.5 L1883,2502.6 L1886,2503.6 L1889,2504.6 L1892,2505.6 L1895,2506.5 L1898,2507.4 L1901,2508.3 L1904,2509.1 L1907,2509.9 L1910,2510.7 L1913,2511.4 L1916,2512.1 L1919,2512.8 L1922,2513.4 L1925,2514 L1928,2514.6 L1931,2515.2 L1934,2515.7 L1937,2516.2 L1940,2516.7 L1943,2517.2 L1946,2517.6 L1949,2518.1 L1952,2518.5 L1955,2518.9 L1958,2519.3 L1961,2519.6 L1964,2520 L1967,2520.3 L1970,2520.6 L1973,2521 L1976,2521.3 L1979,2521.5 L1982,2521.8 L1985,2522.1 L1988,2522.3 L1991,2522.6 L1994,2522.8 L1997,2523.1 L2000,2523.3 L2003,2523.5 L2006,2523.7 L2009,2523.9 L2012,2524.1 L2015,2524.3 L2018,2524.5 L2021,2524.7 L2024,2524.9 L2027,2525 L2030,2525.2 L2033,2525.4 L2036,2525.5 L2039,2525.7 L2042,2525.9 L2045,2526 L2048,2526.2 L2051,2526.3 L2054,2526.5 L2057,2526.6 L2060,2526.8 L2063,2526.9 L2066,2527.1 L2069,2527.2 L2072,2527.3 L2075,2527.5 L2078,2527.6 L2081,2527.7 L2084,2527.9 L2087,2528 L2090,2528.1 L2093,2528.3 L2096,2528.4 L2099,2528.5 L2102,2528.6 L2105,2528.8 L2108,2528.9 L2111,2529 L2114,2529.1 L2117,2529.3 L2120,2529.4 L2123,2529.5 L2126,2529.6 L2129,2529.7 L2132,2529.8 L2135,2530 L2138,2530.1 L2141,2530.2 L2144,2530.3 L2147,2530.4 L2150,2530.5 L2153,2530.7 L2156,2530.8 L2159,2530.9 L2162,2531 L2165,2531.1 L2168,2531.2 L2171,2531.3 L2174,2531.4 L2177,2531.6 L2180,2531.7 L2183,2531.8 L2186,2531.9 L2189,2532 L2192,2532.1 L2195,2532.2 L2198,2532.3 L2201,2532.4 L2204,2532.5 L2207,2532.6 L2210,2532.7 L2213,2532.8 L2216,2533 L2219,2533.1 L2222,2533.2 L2225,2533.3 L2228,2533.4 L2231,2533.5 L2234,2533.6 L2237,2533.7 L2240,2533.8 L2243,2533.9 L2246,2534 L2249,2534.1 L2252,2534.2 L2255,2534.3 L2258,2534.4 L2261,2534.5 L2264,2534.6 L2267,2534.7 L2270,2534.8 L2273,2534.9 L2276,2535 L2279,2535.1 L2282,2535.2 L2285,2535.3 L2288,2535.4 L2291,2535.5 L2294,2535.6 L2297,2535.7 L2300,2535.8 L2303,2535.9 L2306,2536 L2309,2536.1 L2312,2536.2 L2315,2536.3 L2315,2538.9 L1379,2511.6 Z" fill="#1c731c"/></g><g clip-path="url(#cp2)"><path d="M1379,2505.5 L1382,2505.5 L1385,2505.5 L1388,2505.4 L1391,2505.4 L1394,2505.4 L1397,2505.3 L1400,2505.3 L1403,2505.2 L1406,2505.1 L1409,2505.1 L1412,2505 L1415,2504.9 L1418,2504.8 L1421,2504.7 L1424,2504.6 L1427,2504.4 L1430,2504.3 L1433,2504.2 L1436,2504 L1439,2503.8 L1442,2503.6 L1445,2503.4 L1448,2503.2 L1451,2503 L1454,2502.8 L1457,2502.5 L1460,2502.2 L1463,2501.9 L1466,2501.6 L1469,2501.3 L1472,2500.9 L1475,2500.5 L1478,2500.2 L1481,2499.7 L1484,2499.3 L1487,2498.8 L1490,2498.4 L1493,2497.9 L1496,2497.3 L1499,2496.8 L1502,2496.2 L1505,2495.6 L1508,2494.9 L1511,2494.2 L1514,2493.6 L1517,2492.8 L1520,2492.1 L1523,2491.3 L1526,2490.5 L1529,2489.6 L1532,2488.7 L1535,2487.8 L1538,2486.9 L1541,2485.9 L1544,2484.9 L1547,2483.9 L1550,2482.8 L1553,2481.7 L1556,2480.6 L1559,2479.4 L1562,2478.2 L1565,2477 L1568,2475.7 L1571,2474.4 L1574,2473.1 L1577,2471.8 L1580,2470.4 L1583,2469 L1586,2467.6 L1589,2466.2 L1592,2464.7 L1595,2463.2 L1598,2461.7 L1601,2460.2 L1604,2458.7 L1607,2457.2 L1610,2455.6 L1613,2454.1 L1616,2452.5 L1619,2450.9 L1622,2449.4 L1625,2447.8 L1628,2446.2 L1631,2444.7 L1634,2443.1 L1637,2441.6 L1640,2440.1 L1643,2438.6 L1646,2437.1 L1649,2435.7 L1652,2434.3 L1655,2432.9 L1658,2431.6 L1661,2430.3 L1664,2429.1 L1667,2427.9 L1670,2426.7 L1673,2425.7 L1676,2424.7 L1679,2423.7 L1682,2422.9 L1685,2422.1 L1688,2421.4 L1691,2420.8 L1694,2420.2 L1697,2419.8 L1700,2419.4 L1703,2419.1 L1706,2419 L1709,2418.9 L1712,2418.9 L1715,2419 L1718,2419.3 L1721,2419.6 L1724,2420.1 L1727,2420.7 L1730,2421.4 L1733,2422.2 L1736,2423.2 L1739,2424.2 L1742,2425.4 L1745,2426.6 L1748,2427.9 L1751,2429.3 L1754,2430.8 L1757,2432.3 L1760,2434 L1763,2435.6 L1766,2437.4 L1769,2439.1 L1772,2440.9 L1775,2442.8 L1778,2444.7 L1781,2446.6 L1784,2448.5 L1787,2450.4 L1790,2452.4 L1793,2454.4 L1796,2456.3 L1799,2458.3 L1802,2460.2 L1805,2462.2 L1808,2464.1 L1811,2466 L1814,2467.9 L1817,2469.8 L1820,2471.7 L1823,2473.5 L1826,2475.3 L1829,2477.1 L1832,2478.8 L1835,2480.5 L1838,2482.2 L1841,2483.8 L1844,2485.4 L1847,2487 L1850,2488.5 L1853,2490 L1856,2491.4 L1859,2492.8 L1862,2494.2 L1865,2495.5 L1868,2496.8 L1871,2498 L1874,2499.2 L1877,2500.4 L1880,2501.5 L1883,2502.6 L1886,2503.6 L1889,2504.6 L1892,2505.6 L1895,2506.5 L1898,2507.4 L1901,2508.3 L1904,2509.1 L1907,2509.9 L1910,2510.7 L1913,2511.4 L1916,2512.1 L1919,2512.8 L1922,2513.4 L1925,2514 L1928,2514.6 L1931,2515.2 L1934,2515.7 L1937,2516.2 L1940,2516.7 L1943,2517.2 L1946,2517.6 L1949,2518.1 L1952,2518.5 L1955,2518.9 L1958,2519.3 L1961,2519.6 L1964,2520 L1967,2520.3 L1970,2520.6 L1973,2521 L1976,2521.3 L1979,2521.5 L1982,2521.8 L1985,2522.1 L1988,2522.3 L1991,2522.6 L1994,2522.8 L1997,2523.1 L2000,2523.3 L2003,2523.5 L2006,2523.7 L2009,2523.9 L2012,2524.1 L2015,2524.3 L2018,2524.5 L2021,2524.7 L2024,2524.9 L2027,2525 L2030,2525.2 L2033,2525.4 L2036,2525.5 L2039,2525.7 L2042,2525.9 L2045,2526 L2048,2526.2 L2051,2526.3 L2054,2526.5 L2057,2526.6 L2060,2526.8 L2063,2526.9 L2066,2527.1 L2069,2527.2 L2072,2527.3 L2075,2527.5 L2078,2527.6 L2081,2527.7 L2084,2527.9 L2087,2528 L2090,2528.1 L2093,2528.3 L2096,2528.4 L2099,2528.5 L2102,2528.6 L2105,2528.8 L2108,2528.9 L2111,2529 L2114,2529.1 L2117,2529.3 L2120,2529.4 L2123,2529.5 L2126,2529.6 L2129,2529.7 L2132,2529.8 L2135,2530 L2138,2530.1 L2141,2530.2 L2144,2530.3 L2147,2530.4 L2150,2530.5 L2153,2530.7 L2156,2530.8 L2159,2530.9 L2162,2531 L2165,2531.1 L2168,2531.2 L2171,2531.3 L2174,2531.4 L2177,2531.6 L2180,2531.7 L2183,2531.8 L2186,2531.9 L2189,2532 L2192,2532.1 L2195,2532.2 L2198,2532.3 L2201,2532.4 L2204,2532.5 L2207,2532.6 L2210,2532.7 L2213,2532.8 L2216,2533 L2219,2533.1 L2222,2533.2 L2225,2533.3 L2228,2533.4 L2231,2533.5 L2234,2533.6 L2237,2533.7 L2240,2533.8 L2243,2533.9 L2246,2534 L2249,2534.1 L2252,2534.2 L2255,2534.3 L2258,2534.4 L2261,2534.5 L2264,2534.6 L2267,2534.7 L2270,2534.8 L2273,2534.9 L2276,2535 L2279,2535.1 L2282,2535.2 L2285,2535.3 L2288,2535.4 L2291,2535.5 L2294,2535.6 L2297,2535.7 L2300,2535.8 L2303,2535.9 L2306,2536 L2309,2536.1 L2312,2536.2 L2315,2536.3 L2315,2538.9 L1379,2511.6 Z" fill="#3a6a1a"/></g><g clip-path="url(#cp1)"><g clip-path="url(#cp2)"><path d="M1379,2510.1 L1382,2510.2 L1385,2510.3 L1388,2510.4 L1391,2510.5 L1394,2510.6 L1397,2510.6 L1400,2510.7 L1403,2510.8 L1406,2510.9 L1409,2511 L1412,2511.1 L1415,2511.2 L1418,2511.3 L1421,2511.3 L1424,2511.4 L1427,2511.5 L1430,2511.6 L1433,2511.7 L1436,2511.8 L1439,2511.9 L1442,2512 L1445,2512 L1448,2512.1 L1451,2512.2 L1454,2512.3 L1457,2512.4 L1460,2512.5 L1463,2512.6 L1466,2512.7 L1469,2512.7 L1472,2512.8 L1475,2512.9 L1478,2513 L1481,2513.1 L1484,2513.2 L1487,2513.3 L1490,2513.4 L1493,2513.4 L1496,2513.5 L1499,2513.6 L1502,2513.7 L1505,2513.8 L1508,2513.9 L1511,2514 L1514,2514.1 L1517,2514.1 L1520,2514.2 L1523,2514.3 L1526,2514.4 L1529,2514.5 L1532,2514.6 L1535,2514.7 L1538,2514.7 L1541,2514.8 L1544,2514.9 L1547,2515 L1550,2515.1 L1553,2515.2 L1556,2515.2 L1559,2515.3 L1562,2515.4 L1565,2515.5 L1568,2515.6 L1571,2515.6 L1574,2515.7 L1577,2515.8 L1580,2515.9 L1583,2515.9 L1586,2516 L1589,2516.1 L1592,2516.1 L1595,2516.2 L1598,2516.2 L1601,2516.3 L1604,2516.3 L1607,2516.3 L1610,2516.3 L1613,2516.4 L1616,2516.4 L1619,2516.3 L1622,2516.3 L1625,2516.3 L1628,2516.2 L1631,2516.2 L1634,2516.1 L1637,2516 L1640,2515.8 L1643,2515.7 L1646,2515.5 L1649,2515.2 L1652,2515 L1655,2514.7 L1658,2514.4 L1661,2514 L1664,2513.5 L1667,2513 L1670,2512.5 L1673,2511.9 L1676,2511.2 L1679,2510.5 L1682,2509.6 L1685,2508.7 L1688,2507.7 L1691,2506.6 L1694,2505.4 L1697,2504.1 L1700,2502.7 L1703,2501.2 L1706,2499.5 L1709,2497.7 L1712,2495.7 L1715,2493.6 L1718,2491.4 L1721,2488.9 L1724,2486.4 L1727,2483.6 L1730,2480.7 L1733,2477.5 L1736,2474.2 L1739,2470.7 L1742,2467 L1745,2463.1 L1748,2459 L1751,2454.7 L1754,2450.2 L1757,2445.4 L1760,2440.5 L1763,2435.4 L1766,2430 L1769,2424.5 L1772,2418.8 L1775,2412.9 L1778,2406.8 L1781,2400.5 L1784,2394.1 L1787,2387.6 L1790,2380.9 L1793,2374.1 L1796,2367.2 L1799,2360.2 L1802,2353.2 L1805,2346.1 L1808,2339 L1811,2331.8 L1814,2324.7 L1817,2317.6 L1820,2310.6 L1823,2303.7 L1826,2296.9 L1829,2290.2 L1832,2283.7 L1835,2277.3 L1838,2271.2 L1841,2265.3 L1844,2259.7 L1847,2254.3 L1850,2249.2 L1853,2244.5 L1856,2240.1 L1859,2236.1 L1862,2232.4 L1865,2229.2 L1868,2226.4 L1871,2224 L1874,2222 L1877,2220.5 L1880,2219.4 L1883,2218.8 L1886,2218.6 L1889,2218.9 L1892,2219.6 L1895,2220.8 L1898,2222.4 L1901,2224.4 L1904,2226.8 L1907,2229.6 L1910,2232.8 L1913,2236.4 L1916,2240.4 L1919,2244.7 L1922,2249.3 L1925,2254.2 L1928,2259.5 L1931,2265 L1934,2270.8 L1937,2276.8 L1940,2283 L1943,2289.3 L1946,2295.9 L1949,2302.6 L1952,2309.4 L1955,2316.3 L1958,2323.3 L1961,2330.4 L1964,2337.5 L1967,2344.5 L1970,2351.6 L1973,2358.7 L1976,2365.7 L1979,2372.6 L1982,2379.5 L1985,2386.2 L1988,2392.9 L1991,2399.4 L1994,2405.8 L1997,2412.1 L2000,2418.2 L2003,2424.1 L2006,2429.9 L2009,2435.5 L2012,2440.9 L2015,2446.1 L2018,2451.1 L2021,2456 L2024,2460.6 L2027,2465.1 L2030,2469.3 L2033,2473.4 L2036,2477.3 L2039,2481 L2042,2484.5 L2045,2487.8 L2048,2490.9 L2051,2493.9 L2054,2496.7 L2057,2499.3 L2060,2501.8 L2063,2504.1 L2066,2506.3 L2069,2508.4 L2072,2510.3 L2075,2512.1 L2078,2513.7 L2081,2515.3 L2084,2516.7 L2087,2518.1 L2090,2519.3 L2093,2520.5 L2096,2521.6 L2099,2522.5 L2102,2523.5 L2105,2524.3 L2108,2525.1 L2111,2525.8 L2114,2526.5 L2117,2527.1 L2120,2527.6 L2123,2528.2 L2126,2528.6 L2129,2529.1 L2132,2529.5 L2135,2529.9 L2138,2530.2 L2141,2530.5 L2144,2530.8 L2147,2531.1 L2150,2531.3 L2153,2531.6 L2156,2531.8 L2159,2532 L2162,2532.2 L2165,2532.4 L2168,2532.5 L2171,2532.7 L2174,2532.9 L2177,2533 L2180,2533.1 L2183,2533.3 L2186,2533.4 L2189,2533.5 L2192,2533.6 L2195,2533.7 L2198,2533.9 L2201,2534 L2204,2534.1 L2207,2534.2 L2210,2534.3 L2213,2534.4 L2216,2534.5 L2219,2534.6 L2222,2534.7 L2225,2534.8 L2228,2534.8 L2231,2534.9 L2234,2535 L2237,2535.1 L2240,2535.2 L2243,2535.3 L2246,2535.4 L2249,2535.5 L2252,2535.6 L2255,2535.7 L2258,2535.7 L2261,2535.8 L2264,2535.9 L2267,2536 L2270,2536.1 L2273,2536.2 L2276,2536.3 L2279,2536.4 L2282,2536.4 L2285,2536.5 L2288,2536.6 L2291,2536.7 L2294,2536.8 L2297,2536.9 L2300,2537 L2303,2537.1 L2306,2537.1 L2309,2537.2 L2312,2537.3 L2315,2537.4 L2315,2538.9 L1379,2511.6 Z" fill="#5b8422"/></g></g><g clip-path="url(#cp2)"><g clip-path="url(#cp3)"><path d="M1379,2505.5 L1382,2505.5 L1385,2505.5 L1388,2505.4 L1391,2505.4 L1394,2505.4 L1397,2505.3 L1400,2505.3 L1403,2505.2 L1406,2505.1 L1409,2505.1 L1412,2505 L1415,2504.9 L1418,2504.8 L1421,2504.7 L1424,2504.6 L1427,2504.4 L1430,2504.3 L1433,2504.2 L1436,2504 L1439,2503.8 L1442,2503.6 L1445,2503.4 L1448,2503.2 L1451,2503 L1454,2502.8 L1457,2502.5 L1460,2502.2 L1463,2501.9 L1466,2501.6 L1469,2501.3 L1472,2500.9 L1475,2500.5 L1478,2500.2 L1481,2499.7 L1484,2499.3 L1487,2498.8 L1490,2498.4 L1493,2497.9 L1496,2497.3 L1499,2496.8 L1502,2496.2 L1505,2495.6 L1508,2494.9 L1511,2494.2 L1514,2493.6 L1517,2492.8 L1520,2492.1 L1523,2491.3 L1526,2490.5 L1529,2489.6 L1532,2488.7 L1535,2487.8 L1538,2486.9 L1541,2485.9 L1544,2484.9 L1547,2483.9 L1550,2482.8 L1553,2481.7 L1556,2480.6 L1559,2479.4 L1562,2478.2 L1565,2477 L1568,2475.7 L1571,2474.4 L1574,2473.1 L1577,2471.8 L1580,2470.4 L1583,2469 L1586,2467.6 L1589,2466.2 L1592,2464.7 L1595,2463.2 L1598,2461.7 L1601,2460.2 L1604,2458.7 L1607,2457.2 L1610,2455.6 L1613,2454.1 L1616,2452.5 L1619,2450.9 L1622,2449.4 L1625,2447.8 L1628,2446.2 L1631,2444.7 L1634,2443.1 L1637,2441.6 L1640,2440.1 L1643,2438.6 L1646,2437.1 L1649,2435.7 L1652,2434.3 L1655,2432.9 L1658,2431.6 L1661,2430.3 L1664,2429.1 L1667,2427.9 L1670,2426.7 L1673,2425.7 L1676,2424.7 L1679,2423.7 L1682,2422.9 L1685,2422.1 L1688,2421.4 L1691,2420.8 L1694,2420.2 L1697,2419.8 L1700,2419.4 L1703,2419.1 L1706,2419 L1709,2418.9 L1712,2418.9 L1715,2419 L1718,2419.3 L1721,2419.6 L1724,2420.1 L1727,2420.7 L1730,2421.4 L1733,2422.2 L1736,2423.2 L1739,2424.2 L1742,2425.4 L1745,2426.6 L1748,2427.9 L1751,2429.3 L1754,2430.8 L1757,2432.3 L1760,2434 L1763,2435.6 L1766,2437.4 L1769,2439.1 L1772,2440.9 L1775,2442.8 L1778,2444.7 L1781,2446.6 L1784,2448.5 L1787,2450.4 L1790,2452.4 L1793,2454.4 L1796,2456.3 L1799,2458.3 L1802,2460.2 L1805,2462.2 L1808,2464.1 L1811,2466 L1814,2467.9 L1817,2469.8 L1820,2471.7 L1823,2473.5 L1826,2475.3 L1829,2477.1 L1832,2478.8 L1835,2480.5 L1838,2482.2 L1841,2483.8 L1844,2485.4 L1847,2487 L1850,2488.5 L1853,2490 L1856,2491.4 L1859,2492.8 L1862,2494.2 L1865,2495.5 L1868,2496.8 L1871,2498 L1874,2499.2 L1877,2500.4 L1880,2501.5 L1883,2502.6 L1886,2503.6 L1889,2504.6 L1892,2505.6 L1895,2506.5 L1898,2507.4 L1901,2508.3 L1904,2509.1 L1907,2509.9 L1910,2510.7 L1913,2511.4 L1916,2512.1 L1919,2512.8 L1922,2513.4 L1925,2514 L1928,2514.6 L1931,2515.2 L1934,2515.7 L1937,2516.2 L1940,2516.7 L1943,2517.2 L1946,2517.6 L1949,2518.1 L1952,2518.5 L1955,2518.9 L1958,2519.3 L1961,2519.6 L1964,2520 L1967,2520.3 L1970,2520.6 L1973,2521 L1976,2521.3 L1979,2521.5 L1982,2521.8 L1985,2522.1 L1988,2522.3 L1991,2522.6 L1994,2522.8 L1997,2523.1 L2000,2523.3 L2003,2523.5 L2006,2523.7 L2009,2523.9 L2012,2524.1 L2015,2524.3 L2018,2524.5 L2021,2524.7 L2024,2524.9 L2027,2525 L2030,2525.2 L2033,2525.4 L2036,2525.5 L2039,2525.7 L2042,2525.9 L2045,2526 L2048,2526.2 L2051,2526.3 L2054,2526.5 L2057,2526.6 L2060,2526.8 L2063,2526.9 L2066,2527.1 L2069,2527.2 L2072,2527.3 L2075,2527.5 L2078,2527.6 L2081,2527.7 L2084,2527.9 L2087,2528 L2090,2528.1 L2093,2528.3 L2096,2528.4 L2099,2528.5 L2102,2528.6 L2105,2528.8 L2108,2528.9 L2111,2529 L2114,2529.1 L2117,2529.3 L2120,2529.4 L2123,2529.5 L2126,2529.6 L2129,2529.7 L2132,2529.8 L2135,2530 L2138,2530.1 L2141,2530.2 L2144,2530.3 L2147,2530.4 L2150,2530.5 L2153,2530.7 L2156,2530.8 L2159,2530.9 L2162,2531 L2165,2531.1 L2168,2531.2 L2171,2531.3 L2174,2531.4 L2177,2531.6 L2180,2531.7 L2183,2531.8 L2186,2531.9 L2189,2532 L2192,2532.1 L2195,2532.2 L2198,2532.3 L2201,2532.4 L2204,2532.5 L2207,2532.6 L2210,2532.7 L2213,2532.8 L2216,2533 L2219,2533.1 L2222,2533.2 L2225,2533.3 L2228,2533.4 L2231,2533.5 L2234,2533.6 L2237,2533.7 L2240,2533.8 L2243,2533.9 L2246,2534 L2249,2534.1 L2252,2534.2 L2255,2534.3 L2258,2534.4 L2261,2534.5 L2264,2534.6 L2267,2534.7 L2270,2534.8 L2273,2534.9 L2276,2535 L2279,2535.1 L2282,2535.2 L2285,2535.3 L2288,2535.4 L2291,2535.5 L2294,2535.6 L2297,2535.7 L2300,2535.8 L2303,2535.9 L2306,2536 L2309,2536.1 L2312,2536.2 L2315,2536.3 L2315,2538.9 L1379,2511.6 Z" fill="#146614"/></g></g><path d="M1379,2510 L1382,2510.1 L1385,2510.2 L1388,2510.2 L1391,2510.3 L1394,2510.4 L1397,2510.5 L1400,2510.6 L1403,2510.7 L1406,2510.8 L1409,2510.8 L1412,2510.9 L1415,2511 L1418,2511.1 L1421,2511.2 L1424,2511.3 L1427,2511.4 L1430,2511.5 L1433,2511.5 L1436,2511.6 L1439,2511.7 L1442,2511.8 L1445,2511.9 L1448,2512 L1451,2512.1 L1454,2512.1 L1457,2512.2 L1460,2512.3 L1463,2512.4 L1466,2512.5 L1469,2512.6 L1472,2512.7 L1475,2512.7 L1478,2512.8 L1481,2512.9 L1484,2513 L1487,2513.1 L1490,2513.2 L1493,2513.3 L1496,2513.3 L1499,2513.4 L1502,2513.5 L1505,2513.6 L1508,2513.7 L1511,2513.8 L1514,2513.9 L1517,2513.9 L1520,2514 L1523,2514.1 L1526,2514.2 L1529,2514.3 L1532,2514.4 L1535,2514.4 L1538,2514.5 L1541,2514.6 L1544,2514.7 L1547,2514.8 L1550,2514.9 L1553,2515 L1556,2515 L1559,2515.1 L1562,2515.2 L1565,2515.3 L1568,2515.4 L1571,2515.5 L1574,2515.5 L1577,2515.6 L1580,2515.7 L1583,2515.8 L1586,2515.9 L1589,2516 L1592,2516.1 L1595,2516.1 L1598,2516.2 L1601,2516.3 L1604,2516.4 L1607,2516.5 L1610,2516.6 L1613,2516.6 L1616,2516.7 L1619,2516.8 L1622,2516.9 L1625,2517 L1628,2517.1 L1631,2517.1 L1634,2517.2 L1637,2517.3 L1640,2517.4 L1643,2517.5 L1646,2517.6 L1649,2517.6 L1652,2517.7 L1655,2517.8 L1658,2517.9 L1661,2518 L1664,2518.1 L1667,2518.1 L1670,2518.2 L1673,2518.3 L1676,2518.4 L1679,2518.5 L1682,2518.5 L1685,2518.6 L1688,2518.7 L1691,2518.8 L1694,2518.9 L1697,2518.9 L1700,2519 L1703,2519.1 L1706,2519.2 L1709,2519.3 L1712,2519.3 L1715,2519.4 L1718,2519.5 L1721,2519.6 L1724,2519.7 L1727,2519.7 L1730,2519.8 L1733,2519.9 L1736,2520 L1739,2520 L1742,2520.1 L1745,2520.2 L1748,2520.3 L1751,2520.3 L1754,2520.4 L1757,2520.5 L1760,2520.5 L1763,2520.6 L1766,2520.7 L1769,2520.7 L1772,2520.8 L1775,2520.9 L1778,2520.9 L1781,2521 L1784,2521 L1787,2521 L1790,2521.1 L1793,2521.1 L1796,2521.1 L1799,2521.1 L1802,2521.1 L1805,2521.1 L1808,2521.1 L1811,2521 L1814,2521 L1817,2520.9 L1820,2520.8 L1823,2520.6 L1826,2520.5 L1829,2520.3 L1832,2520.1 L1835,2519.8 L1838,2519.5 L1841,2519.1 L1844,2518.7 L1847,2518.2 L1850,2517.6 L1853,2517 L1856,2516.2 L1859,2515.4 L1862,2514.5 L1865,2513.5 L1868,2512.3 L1871,2511 L1874,2509.6 L1877,2508 L1880,2506.2 L1883,2504.3 L1886,2502.1 L1889,2499.8 L1892,2497.2 L1895,2494.4 L1898,2491.3 L1901,2488 L1904,2484.4 L1907,2480.5 L1910,2476.3 L1913,2471.7 L1916,2466.8 L1919,2461.6 L1922,2456 L1925,2450.1 L1928,2443.8 L1931,2437 L1934,2429.9 L1937,2422.4 L1940,2414.5 L1943,2406.2 L1946,2397.5 L1949,2388.4 L1952,2379 L1955,2369.1 L1958,2358.9 L1961,2348.4 L1964,2337.5 L1967,2326.3 L1970,2314.8 L1973,2303.1 L1976,2291.2 L1979,2279.1 L1982,2266.9 L1985,2254.5 L1988,2242.1 L1991,2229.7 L1994,2217.3 L1997,2204.9 L2000,2192.7 L2003,2180.7 L2006,2169 L2009,2157.5 L2012,2146.3 L2015,2135.6 L2018,2125.3 L2021,2115.5 L2024,2106.3 L2027,2097.7 L2030,2089.7 L2033,2082.4 L2036,2075.9 L2039,2070.1 L2042,2065.2 L2045,2061 L2048,2057.8 L2051,2055.4 L2054,2053.9 L2057,2053.3 L2060,2053.7 L2063,2055 L2066,2057.4 L2069,2060.8 L2072,2065.1 L2075,2070.4 L2078,2076.6 L2081,2083.6 L2084,2091.5 L2087,2100.1 L2090,2109.5 L2093,2119.6 L2096,2130.2 L2099,2141.4 L2102,2153.1 L2105,2165.2 L2108,2177.7 L2111,2190.4 L2114,2203.4 L2117,2216.6 L2120,2229.9 L2123,2243.2 L2126,2256.5 L2129,2269.8 L2132,2282.9 L2135,2295.9 L2138,2308.7 L2141,2321.2 L2144,2333.5 L2147,2345.4 L2150,2357 L2153,2368.2 L2156,2379.1 L2159,2389.5 L2162,2399.5 L2165,2409 L2168,2418.2 L2171,2426.8 L2174,2435.1 L2177,2442.9 L2180,2450.2 L2183,2457.1 L2186,2463.6 L2189,2469.7 L2192,2475.4 L2195,2480.7 L2198,2485.6 L2201,2490.1 L2204,2494.4 L2207,2498.3 L2210,2501.8 L2213,2505.1 L2216,2508.2 L2219,2510.9 L2222,2513.4 L2225,2515.7 L2228,2517.8 L2231,2519.7 L2234,2521.4 L2237,2523 L2240,2524.4 L2243,2525.7 L2246,2526.8 L2249,2527.9 L2252,2528.8 L2255,2529.6 L2258,2530.4 L2261,2531 L2264,2531.7 L2267,2532.2 L2270,2532.7 L2273,2533.1 L2276,2533.5 L2279,2533.9 L2282,2534.2 L2285,2534.5 L2288,2534.8 L2291,2535 L2294,2535.3 L2297,2535.5 L2300,2535.7 L2303,2535.8 L2306,2536 L2309,2536.2 L2312,2536.3 L2315,2536.5" fill="none" stroke="#5c3a0a" stroke-width="5.5" stroke-linejoin="round"/><path d="M1379,2510.1 L1382,2510.2 L1385,2510.3 L1388,2510.4 L1391,2510.5 L1394,2510.6 L1397,2510.6 L1400,2510.7 L1403,2510.8 L1406,2510.9 L1409,2511 L1412,2511.1 L1415,2511.2 L1418,2511.3 L1421,2511.3 L1424,2511.4 L1427,2511.5 L1430,2511.6 L1433,2511.7 L1436,2511.8 L1439,2511.9 L1442,2512 L1445,2512 L1448,2512.1 L1451,2512.2 L1454,2512.3 L1457,2512.4 L1460,2512.5 L1463,2512.6 L1466,2512.7 L1469,2512.7 L1472,2512.8 L1475,2512.9 L1478,2513 L1481,2513.1 L1484,2513.2 L1487,2513.3 L1490,2513.4 L1493,2513.4 L1496,2513.5 L1499,2513.6 L1502,2513.7 L1505,2513.8 L1508,2513.9 L1511,2514 L1514,2514.1 L1517,2514.1 L1520,2514.2 L1523,2514.3 L1526,2514.4 L1529,2514.5 L1532,2514.6 L1535,2514.7 L1538,2514.8 L1541,2514.8 L1544,2514.9 L1547,2515 L1550,2515.1 L1553,2515.2 L1556,2515.3 L1559,2515.4 L1562,2515.5 L1565,2515.5 L1568,2515.6 L1571,2515.7 L1574,2515.8 L1577,2515.9 L1580,2516 L1583,2516.1 L1586,2516.2 L1589,2516.2 L1592,2516.3 L1595,2516.4 L1598,2516.5 L1601,2516.6 L1604,2516.7 L1607,2516.8 L1610,2516.9 L1613,2516.9 L1616,2517 L1619,2517.1 L1622,2517.2 L1625,2517.3 L1628,2517.4 L1631,2517.5 L1634,2517.6 L1637,2517.6 L1640,2517.7 L1643,2517.8 L1646,2517.9 L1649,2518 L1652,2518.1 L1655,2518.2 L1658,2518.2 L1661,2518.3 L1664,2518.4 L1667,2518.5 L1670,2518.6 L1673,2518.7 L1676,2518.8 L1679,2518.8 L1682,2518.9 L1685,2519 L1688,2519.1 L1691,2519.2 L1694,2519.3 L1697,2519.3 L1700,2519.4 L1703,2519.5 L1706,2519.6 L1709,2519.6 L1712,2519.7 L1715,2519.8 L1718,2519.8 L1721,2519.9 L1724,2520 L1727,2520 L1730,2520.1 L1733,2520.1 L1736,2520.2 L1739,2520.2 L1742,2520.2 L1745,2520.2 L1748,2520.3 L1751,2520.3 L1754,2520.3 L1757,2520.2 L1760,2520.2 L1763,2520.2 L1766,2520.1 L1769,2520 L1772,2519.9 L1775,2519.8 L1778,2519.7 L1781,2519.5 L1784,2519.3 L1787,2519.1 L1790,2518.8 L1793,2518.6 L1796,2518.3 L1799,2517.9 L1802,2517.5 L1805,2517.1 L1808,2516.6 L1811,2516.1 L1814,2515.5 L1817,2514.9 L1820,2514.2 L1823,2513.4 L1826,2512.6 L1829,2511.7 L1832,2510.8 L1835,2509.7 L1838,2508.6 L1841,2507.5 L1844,2506.2 L1847,2504.9 L1850,2503.4 L1853,2501.9 L1856,2500.3 L1859,2498.6 L1862,2496.9 L1865,2495 L1868,2493.1 L1871,2491 L1874,2488.9 L1877,2486.6 L1880,2484.3 L1883,2481.9 L1886,2479.5 L1889,2476.9 L1892,2474.3 L1895,2471.6 L1898,2468.8 L1901,2466 L1904,2463.2 L1907,2460.3 L1910,2457.3 L1913,2454.3 L1916,2451.3 L1919,2448.3 L1922,2445.3 L1925,2442.3 L1928,2439.3 L1931,2436.4 L1934,2433.5 L1937,2430.6 L1940,2427.8 L1943,2425.1 L1946,2422.4 L1949,2419.9 L1952,2417.4 L1955,2415.1 L1958,2412.9 L1961,2410.8 L1964,2408.9 L1967,2407.1 L1970,2405.5 L1973,2404 L1976,2402.8 L1979,2401.7 L1982,2400.8 L1985,2400.1 L1988,2399.6 L1991,2399.3 L1994,2399.2 L1997,2399.3 L2000,2399.7 L2003,2400.4 L2006,2401.4 L2009,2402.6 L2012,2404.2 L2015,2406 L2018,2408 L2021,2410.3 L2024,2412.8 L2027,2415.5 L2030,2418.4 L2033,2421.5 L2036,2424.7 L2039,2428.1 L2042,2431.6 L2045,2435.2 L2048,2438.9 L2051,2442.6 L2054,2446.4 L2057,2450.2 L2060,2454 L2063,2457.9 L2066,2461.6 L2069,2465.4 L2072,2469.1 L2075,2472.7 L2078,2476.2 L2081,2479.6 L2084,2483 L2087,2486.2 L2090,2489.4 L2093,2492.4 L2096,2495.2 L2099,2498 L2102,2500.6 L2105,2503.1 L2108,2505.5 L2111,2507.7 L2114,2509.8 L2117,2511.8 L2120,2513.7 L2123,2515.4 L2126,2517 L2129,2518.5 L2132,2519.9 L2135,2521.2 L2138,2522.4 L2141,2523.5 L2144,2524.5 L2147,2525.5 L2150,2526.3 L2153,2527.1 L2156,2527.8 L2159,2528.5 L2162,2529.1 L2165,2529.7 L2168,2530.2 L2171,2530.6 L2174,2531 L2177,2531.4 L2180,2531.7 L2183,2532.1 L2186,2532.3 L2189,2532.6 L2192,2532.9 L2195,2533.1 L2198,2533.3 L2201,2533.5 L2204,2533.7 L2207,2533.8 L2210,2534 L2213,2534.1 L2216,2534.3 L2219,2534.4 L2222,2534.5 L2225,2534.6 L2228,2534.7 L2231,2534.8 L2234,2535 L2237,2535.1 L2240,2535.2 L2243,2535.3 L2246,2535.4 L2249,2535.4 L2252,2535.5 L2255,2535.6 L2258,2535.7 L2261,2535.8 L2264,2535.9 L2267,2536 L2270,2536.1 L2273,2536.2 L2276,2536.3 L2279,2536.4 L2282,2536.4 L2285,2536.5 L2288,2536.6 L2291,2536.7 L2294,2536.8 L2297,2536.9 L2300,2537 L2303,2537.1 L2306,2537.1 L2309,2537.2 L2312,2537.3 L2315,2537.4" fill="none" stroke="#c0600f" stroke-width="5.5" stroke-linejoin="round"/><path d="M1379,2510.1 L1382,2510.2 L1385,2510.3 L1388,2510.4 L1391,2510.5 L1394,2510.6 L1397,2510.6 L1400,2510.7 L1403,2510.8 L1406,2510.9 L1409,2511 L1412,2511.1 L1415,2511.2 L1418,2511.3 L1421,2511.3 L1424,2511.4 L1427,2511.5 L1430,2511.6 L1433,2511.7 L1436,2511.8 L1439,2511.9 L1442,2512 L1445,2512 L1448,2512.1 L1451,2512.2 L1454,2512.3 L1457,2512.4 L1460,2512.5 L1463,2512.6 L1466,2512.7 L1469,2512.7 L1472,2512.8 L1475,2512.9 L1478,2513 L1481,2513.1 L1484,2513.2 L1487,2513.3 L1490,2513.4 L1493,2513.4 L1496,2513.5 L1499,2513.6 L1502,2513.7 L1505,2513.8 L1508,2513.9 L1511,2514 L1514,2514.1 L1517,2514.1 L1520,2514.2 L1523,2514.3 L1526,2514.4 L1529,2514.5 L1532,2514.6 L1535,2514.7 L1538,2514.7 L1541,2514.8 L1544,2514.9 L1547,2515 L1550,2515.1 L1553,2515.2 L1556,2515.2 L1559,2515.3 L1562,2515.4 L1565,2515.5 L1568,2515.6 L1571,2515.6 L1574,2515.7 L1577,2515.8 L1580,2515.9 L1583,2515.9 L1586,2516 L1589,2516.1 L1592,2516.1 L1595,2516.2 L1598,2516.2 L1601,2516.3 L1604,2516.3 L1607,2516.3 L1610,2516.3 L1613,2516.4 L1616,2516.4 L1619,2516.3 L1622,2516.3 L1625,2516.3 L1628,2516.2 L1631,2516.2 L1634,2516.1 L1637,2516 L1640,2515.8 L1643,2515.7 L1646,2515.5 L1649,2515.2 L1652,2515 L1655,2514.7 L1658,2514.4 L1661,2514 L1664,2513.5 L1667,2513 L1670,2512.5 L1673,2511.9 L1676,2511.2 L1679,2510.5 L1682,2509.6 L1685,2508.7 L1688,2507.7 L1691,2506.6 L1694,2505.4 L1697,2504.1 L1700,2502.7 L1703,2501.2 L1706,2499.5 L1709,2497.7 L1712,2495.7 L1715,2493.6 L1718,2491.4 L1721,2488.9 L1724,2486.4 L1727,2483.6 L1730,2480.7 L1733,2477.5 L1736,2474.2 L1739,2470.7 L1742,2467 L1745,2463.1 L1748,2459 L1751,2454.7 L1754,2450.2 L1757,2445.4 L1760,2440.5 L1763,2435.4 L1766,2430 L1769,2424.5 L1772,2418.8 L1775,2412.9 L1778,2406.8 L1781,2400.5 L1784,2394.1 L1787,2387.6 L1790,2380.9 L1793,2374.1 L1796,2367.2 L1799,2360.2 L1802,2353.2 L1805,2346.1 L1808,2339 L1811,2331.8 L1814,2324.7 L1817,2317.6 L1820,2310.6 L1823,2303.7 L1826,2296.9 L1829,2290.2 L1832,2283.7 L1835,2277.3 L1838,2271.2 L1841,2265.3 L1844,2259.7 L1847,2254.3 L1850,2249.2 L1853,2244.5 L1856,2240.1 L1859,2236.1 L1862,2232.4 L1865,2229.2 L1868,2226.4 L1871,2224 L1874,2222 L1877,2220.5 L1880,2219.4 L1883,2218.8 L1886,2218.6 L1889,2218.9 L1892,2219.6 L1895,2220.8 L1898,2222.4 L1901,2224.4 L1904,2226.8 L1907,2229.6 L1910,2232.8 L1913,2236.4 L1916,2240.4 L1919,2244.7 L1922,2249.3 L1925,2254.2 L1928,2259.5 L1931,2265 L1934,2270.8 L1937,2276.8 L1940,2283 L1943,2289.3 L1946,2295.9 L1949,2302.6 L1952,2309.4 L1955,2316.3 L1958,2323.3 L1961,2330.4 L1964,2337.5 L1967,2344.5 L1970,2351.6 L1973,2358.7 L1976,2365.7 L1979,2372.6 L1982,2379.5 L1985,2386.2 L1988,2392.9 L1991,2399.4 L1994,2405.8 L1997,2412.1 L2000,2418.2 L2003,2424.1 L2006,2429.9 L2009,2435.5 L2012,2440.9 L2015,2446.1 L2018,2451.1 L2021,2456 L2024,2460.6 L2027,2465.1 L2030,2469.3 L2033,2473.4 L2036,2477.3 L2039,2481 L2042,2484.5 L2045,2487.8 L2048,2490.9 L2051,2493.9 L2054,2496.7 L2057,2499.3 L2060,2501.8 L2063,2504.1 L2066,2506.3 L2069,2508.4 L2072,2510.3 L2075,2512.1 L2078,2513.7 L2081,2515.3 L2084,2516.7 L2087,2518.1 L2090,2519.3 L2093,2520.5 L2096,2521.6 L2099,2522.5 L2102,2523.5 L2105,2524.3 L2108,2525.1 L2111,2525.8 L2114,2526.5 L2117,2527.1 L2120,2527.6 L2123,2528.2 L2126,2528.6 L2129,2529.1 L2132,2529.5 L2135,2529.9 L2138,2530.2 L2141,2530.5 L2144,2530.8 L2147,2531.1 L2150,2531.3 L2153,2531.6 L2156,2531.8 L2159,2532 L2162,2532.2 L2165,2532.4 L2168,2532.5 L2171,2532.7 L2174,2532.9 L2177,2533 L2180,2533.1 L2183,2533.3 L2186,2533.4 L2189,2533.5 L2192,2533.6 L2195,2533.7 L2198,2533.9 L2201,2534 L2204,2534.1 L2207,2534.2 L2210,2534.3 L2213,2534.4 L2216,2534.5 L2219,2534.6 L2222,2534.7 L2225,2534.8 L2228,2534.8 L2231,2534.9 L2234,2535 L2237,2535.1 L2240,2535.2 L2243,2535.3 L2246,2535.4 L2249,2535.5 L2252,2535.6 L2255,2535.7 L2258,2535.7 L2261,2535.8 L2264,2535.9 L2267,2536 L2270,2536.1 L2273,2536.2 L2276,2536.3 L2279,2536.4 L2282,2536.4 L2285,2536.5 L2288,2536.6 L2291,2536.7 L2294,2536.8 L2297,2536.9 L2300,2537 L2303,2537.1 L2306,2537.1 L2309,2537.2 L2312,2537.3 L2315,2537.4" fill="none" stroke="#4e9a2e" stroke-width="5.5" stroke-linejoin="round"/><path d="M1379,2505.5 L1382,2505.5 L1385,2505.5 L1388,2505.4 L1391,2505.4 L1394,2505.4 L1397,2505.3 L1400,2505.3 L1403,2505.2 L1406,2505.1 L1409,2505.1 L1412,2505 L1415,2504.9 L1418,2504.8 L1421,2504.7 L1424,2504.6 L1427,2504.4 L1430,2504.3 L1433,2504.2 L1436,2504 L1439,2503.8 L1442,2503.6 L1445,2503.4 L1448,2503.2 L1451,2503 L1454,2502.8 L1457,2502.5 L1460,2502.2 L1463,2501.9 L1466,2501.6 L1469,2501.3 L1472,2500.9 L1475,2500.5 L1478,2500.2 L1481,2499.7 L1484,2499.3 L1487,2498.8 L1490,2498.4 L1493,2497.9 L1496,2497.3 L1499,2496.8 L1502,2496.2 L1505,2495.6 L1508,2494.9 L1511,2494.2 L1514,2493.6 L1517,2492.8 L1520,2492.1 L1523,2491.3 L1526,2490.5 L1529,2489.6 L1532,2488.7 L1535,2487.8 L1538,2486.9 L1541,2485.9 L1544,2484.9 L1547,2483.9 L1550,2482.8 L1553,2481.7 L1556,2480.6 L1559,2479.4 L1562,2478.2 L1565,2477 L1568,2475.7 L1571,2474.4 L1574,2473.1 L1577,2471.8 L1580,2470.4 L1583,2469 L1586,2467.6 L1589,2466.2 L1592,2464.7 L1595,2463.2 L1598,2461.7 L1601,2460.2 L1604,2458.7 L1607,2457.2 L1610,2455.6 L1613,2454.1 L1616,2452.5 L1619,2450.9 L1622,2449.4 L1625,2447.8 L1628,2446.2 L1631,2444.7 L1634,2443.1 L1637,2441.6 L1640,2440.1 L1643,2438.6 L1646,2437.1 L1649,2435.7 L1652,2434.3 L1655,2432.9 L1658,2431.6 L1661,2430.3 L1664,2429.1 L1667,2427.9 L1670,2426.7 L1673,2425.7 L1676,2424.7 L1679,2423.7 L1682,2422.9 L1685,2422.1 L1688,2421.4 L1691,2420.8 L1694,2420.2 L1697,2419.8 L1700,2419.4 L1703,2419.1 L1706,2419 L1709,2418.9 L1712,2418.9 L1715,2419 L1718,2419.3 L1721,2419.6 L1724,2420.1 L1727,2420.7 L1730,2421.4 L1733,2422.2 L1736,2423.2 L1739,2424.2 L1742,2425.4 L1745,2426.6 L1748,2427.9 L1751,2429.3 L1754,2430.8 L1757,2432.3 L1760,2434 L1763,2435.6 L1766,2437.4 L1769,2439.1 L1772,2440.9 L1775,2442.8 L1778,2444.7 L1781,2446.6 L1784,2448.5 L1787,2450.4 L1790,2452.4 L1793,2454.4 L1796,2456.3 L1799,2458.3 L1802,2460.2 L1805,2462.2 L1808,2464.1 L1811,2466 L1814,2467.9 L1817,2469.8 L1820,2471.7 L1823,2473.5 L1826,2475.3 L1829,2477.1 L1832,2478.8 L1835,2480.5 L1838,2482.2 L1841,2483.8 L1844,2485.4 L1847,2487 L1850,2488.5 L1853,2490 L1856,2491.4 L1859,2492.8 L1862,2494.2 L1865,2495.5 L1868,2496.8 L1871,2498 L1874,2499.2 L1877,2500.4 L1880,2501.5 L1883,2502.6 L1886,2503.6 L1889,2504.6 L1892,2505.6 L1895,2506.5 L1898,2507.4 L1901,2508.3 L1904,2509.1 L1907,2509.9 L1910,2510.7 L1913,2511.4 L1916,2512.1 L1919,2512.8 L1922,2513.4 L1925,2514 L1928,2514.6 L1931,2515.2 L1934,2515.7 L1937,2516.2 L1940,2516.7 L1943,2517.2 L1946,2517.6 L1949,2518.1 L1952,2518.5 L1955,2518.9 L1958,2519.3 L1961,2519.6 L1964,2520 L1967,2520.3 L1970,2520.6 L1973,2521 L1976,2521.3 L1979,2521.5 L1982,2521.8 L1985,2522.1 L1988,2522.3 L1991,2522.6 L1994,2522.8 L1997,2523.1 L2000,2523.3 L2003,2523.5 L2006,2523.7 L2009,2523.9 L2012,2524.1 L2015,2524.3 L2018,2524.5 L2021,2524.7 L2024,2524.9 L2027,2525 L2030,2525.2 L2033,2525.4 L2036,2525.5 L2039,2525.7 L2042,2525.9 L2045,2526 L2048,2526.2 L2051,2526.3 L2054,2526.5 L2057,2526.6 L2060,2526.8 L2063,2526.9 L2066,2527.1 L2069,2527.2 L2072,2527.3 L2075,2527.5 L2078,2527.6 L2081,2527.7 L2084,2527.9 L2087,2528 L2090,2528.1 L2093,2528.3 L2096,2528.4 L2099,2528.5 L2102,2528.6 L2105,2528.8 L2108,2528.9 L2111,2529 L2114,2529.1 L2117,2529.3 L2120,2529.4 L2123,2529.5 L2126,2529.6 L2129,2529.7 L2132,2529.8 L2135,2530 L2138,2530.1 L2141,2530.2 L2144,2530.3 L2147,2530.4 L2150,2530.5 L2153,2530.7 L2156,2530.8 L2159,2530.9 L2162,2531 L2165,2531.1 L2168,2531.2 L2171,2531.3 L2174,2531.4 L2177,2531.6 L2180,2531.7 L2183,2531.8 L2186,2531.9 L2189,2532 L2192,2532.1 L2195,2532.2 L2198,2532.3 L2201,2532.4 L2204,2532.5 L2207,2532.6 L2210,2532.7 L2213,2532.8 L2216,2533 L2219,2533.1 L2222,2533.2 L2225,2533.3 L2228,2533.4 L2231,2533.5 L2234,2533.6 L2237,2533.7 L2240,2533.8 L2243,2533.9 L2246,2534 L2249,2534.1 L2252,2534.2 L2255,2534.3 L2258,2534.4 L2261,2534.5 L2264,2534.6 L2267,2534.7 L2270,2534.8 L2273,2534.9 L2276,2535 L2279,2535.1 L2282,2535.2 L2285,2535.3 L2288,2535.4 L2291,2535.5 L2294,2535.6 L2297,2535.7 L2300,2535.8 L2303,2535.9 L2306,2536 L2309,2536.1 L2312,2536.2 L2315,2536.3" fill="none" stroke="#0c6a0c" stroke-width="5.5" stroke-linejoin="round"/><polyline points="1379,2511.6 1385,2511.8 1391,2512 1397,2512.1 1403,2512.3 1409,2512.5 1415,2512.7 1421,2512.8 1427,2513 1433,2513.2 1439,2513.4 1445,2513.5 1451,2513.7 1457,2513.9 1463,2514.1 1469,2514.2 1475,2514.4 1481,2514.6 1487,2514.8 1493,2514.9 1499,2515.1 1505,2515.3 1511,2515.5 1517,2515.6 1523,2515.8 1529,2516 1535,2516.2 1541,2516.3 1547,2516.5 1553,2516.7 1559,2516.9 1565,2517 1571,2517.2 1577,2517.4 1583,2517.6 1589,2517.7 1595,2517.9 1601,2518.1 1607,2518.3 1613,2518.4 1619,2518.6 1625,2518.8 1631,2519 1637,2519.1 1643,2519.3 1649,2519.5 1655,2519.7 1661,2519.8 1667,2520 1673,2520.2 1679,2520.4 1685,2520.5 1691,2520.7 1697,2520.9 1703,2521.1 1709,2521.2 1715,2521.4 1721,2521.6 1727,2521.8 1733,2521.9 1739,2522.1 1745,2522.3 1751,2522.5 1757,2522.6 1763,2522.8 1769,2523 1775,2523.2 1781,2523.3 1787,2523.5 1793,2523.7 1799,2523.9 1805,2524 1811,2524.2 1817,2524.4 1823,2524.6 1829,2524.7 1835,2524.9 1841,2525.1 1847,2525.3 1853,2525.4 1859,2525.6 1865,2525.8 1871,2526 1877,2526.1 1883,2526.3 1889,2526.5 1895,2526.7 1901,2526.8 1907,2527 1913,2527.2 1919,2527.4 1925,2527.5 1931,2527.7 1937,2527.9 1943,2528.1 1949,2528.2 1955,2528.4 1961,2528.6 1967,2528.8 1973,2528.9 1979,2529.1 1985,2529.3 1991,2529.5 1997,2529.6 2003,2529.8 2009,2530 2015,2530.2 2021,2530.3 2027,2530.5 2033,2530.7 2039,2530.9 2045,2531 2051,2531.2 2057,2531.4 2063,2531.6 2069,2531.7 2075,2531.9 2081,2532.1 2087,2532.3 2093,2532.4 2099,2532.6 2105,2532.8 2111,2533 2117,2533.1 2123,2533.3 2129,2533.5 2135,2533.7 2141,2533.8 2147,2534 2153,2534.2 2159,2534.4 2165,2534.5 2171,2534.7 2177,2534.9 2183,2535.1 2189,2535.2 2195,2535.4 2201,2535.6 2207,2535.8 2213,2535.9 2219,2536.1 2225,2536.3 2231,2536.5 2237,2536.6 2243,2536.8 2249,2537 2255,2537.2 2261,2537.3 2267,2537.5 2273,2537.7 2279,2537.9 2285,2538 2291,2538.2 2297,2538.4 2303,2538.6 2309,2538.7 2315,2538.9" fill="none" stroke="#0a6a0a" stroke-width="8" stroke-linejoin="round" stroke-linecap="round" /><path d="M1379,2507.3 L1382,2507.4 L1385,2507.5 L1388,2507.5 L1391,2507.5 L1394,2507.5 L1397,2507.4 L1400,2507.4 L1403,2507.3 L1406,2507.2 L1409,2507 L1412,2506.8 L1415,2506.6 L1418,2506.4 L1421,2506.2 L1424,2505.9 L1427,2505.6 L1430,2505.3 L1433,2505 L1436,2504.6 L1439,2504.3 L1442,2503.9 L1445,2503.5 L1448,2503 L1451,2502.6 L1454,2502.1 L1457,2501.6 L1460,2501 L1463,2500.5 L1466,2499.9 L1469,2499.4 L1472,2498.8 L1475,2498.1 L1478,2497.5 L1481,2496.8 L1484,2496.2 L1487,2495.5 L1490,2494.8 L1493,2494 L1496,2493.3 L1499,2492.5 L1502,2491.7 L1505,2490.9 L1508,2490.1 L1511,2489.3 L1514,2488.4 L1517,2487.6 L1520,2486.7 L1523,2485.8 L1526,2484.9 L1529,2483.9 L1532,2483 L1535,2482 L1538,2481.1 L1541,2480.1 L1544,2479.1 L1547,2478.1 L1550,2477.1 L1553,2476 L1556,2475 L1559,2473.9 L1562,2472.8 L1565,2471.7 L1568,2470.6 L1571,2469.5 L1574,2468.4 L1577,2467.3 L1580,2466.1 L1583,2465 L1586,2463.8 L1589,2462.6 L1592,2461.4 L1595,2460.2 L1598,2459 L1601,2457.8 L1604,2456.6 L1607,2455.3 L1610,2454.1 L1613,2452.8 L1616,2451.6 L1619,2450.3 L1622,2449 L1625,2447.8 L1628,2446.5 L1631,2445.2 L1634,2443.8 L1637,2442.5 L1640,2441.2 L1643,2439.8 L1646,2438.5 L1649,2437.1 L1652,2435.7 L1655,2434.2 L1658,2432.8 L1661,2431.3 L1664,2429.8 L1667,2428.3 L1670,2426.7 L1673,2425.2 L1676,2423.5 L1679,2421.9 L1682,2420.2 L1685,2418.5 L1688,2416.7 L1691,2414.9 L1694,2413.1 L1697,2411.2 L1700,2409.2 L1703,2407.3 L1706,2405.2 L1709,2403.2 L1712,2401.1 L1715,2398.9 L1718,2396.7 L1721,2394.4 L1724,2392 L1727,2389.6 L1730,2387.2 L1733,2384.7 L1736,2382.1 L1739,2379.4 L1742,2376.7 L1745,2373.9 L1748,2371.1 L1751,2368.2 L1754,2365.2 L1757,2362.1 L1760,2359 L1763,2355.8 L1766,2352.5 L1769,2349.1 L1772,2345.5 L1775,2341.9 L1778,2338.2 L1781,2334.4 L1784,2330.4 L1787,2326.3 L1790,2322.1 L1793,2317.8 L1796,2313.2 L1799,2308.6 L1802,2303.8 L1805,2298.8 L1808,2293.6 L1811,2288.3 L1814,2282.8 L1817,2277.1 L1820,2271.2 L1823,2265.2 L1826,2258.9 L1829,2252.4 L1832,2245.8 L1835,2239 L1838,2232.2 L1841,2225.3 L1844,2218.5 L1847,2211.8 L1850,2205.2 L1853,2198.7 L1856,2192.5 L1859,2186.5 L1862,2180.9 L1865,2175.5 L1868,2170.5 L1871,2165.8 L1874,2161.4 L1877,2157.2 L1880,2153.2 L1883,2149.4 L1886,2145.8 L1889,2142.3 L1892,2139 L1895,2135.7 L1898,2132.6 L1901,2129.5 L1904,2126.4 L1907,2123.4 L1910,2120.3 L1913,2117.3 L1916,2114.2 L1919,2111.1 L1922,2107.9 L1925,2104.6 L1928,2101.3 L1931,2097.8 L1934,2094.2 L1937,2090.4 L1940,2086.4 L1943,2082.3 L1946,2078 L1949,2073.4 L1952,2068.6 L1955,2063.6 L1958,2058.2 L1961,2052.6 L1964,2046.6 L1967,2040.4 L1970,2033.8 L1973,2026.9 L1976,2019.9 L1979,2012.6 L1982,2005.3 L1985,1998 L1988,1990.6 L1991,1983.3 L1994,1976.2 L1997,1969.2 L2000,1962.5 L2003,1956 L2006,1949.9 L2009,1944.3 L2012,1939 L2015,1934.2 L2018,1929.9 L2021,1926.2 L2024,1923 L2027,1920.4 L2030,1918.4 L2033,1917.1 L2036,1916.4 L2039,1916.5 L2042,1917.3 L2045,1918.9 L2048,1921.3 L2051,1924.5 L2054,1928.6 L2057,1933.5 L2060,1939.4 L2063,1946.2 L2066,1953.8 L2069,1962.3 L2072,1971.5 L2075,1981.4 L2078,1992.1 L2081,2003.4 L2084,2015.3 L2087,2027.8 L2090,2040.9 L2093,2054.4 L2096,2068.4 L2099,2082.8 L2102,2097.5 L2105,2112.5 L2108,2127.7 L2111,2143.1 L2114,2158.6 L2117,2174.2 L2120,2189.8 L2123,2205.4 L2126,2220.8 L2129,2236.2 L2132,2251.3 L2135,2266.2 L2138,2280.8 L2141,2295.1 L2144,2308.9 L2147,2322.4 L2150,2335.4 L2153,2348 L2156,2360.1 L2159,2371.8 L2162,2383.1 L2165,2394 L2168,2404.3 L2171,2414.3 L2174,2423.7 L2177,2432.7 L2180,2441.2 L2183,2449.3 L2186,2456.8 L2189,2463.9 L2192,2470.5 L2195,2476.5 L2198,2482.1 L2201,2487.2 L2204,2491.8 L2207,2495.9 L2210,2499.6 L2213,2502.9 L2216,2505.8 L2219,2508.4 L2222,2510.7 L2225,2512.7 L2228,2514.5 L2231,2516 L2234,2517.4 L2237,2518.5 L2240,2519.5 L2243,2520.5 L2246,2521.3 L2249,2522.1 L2252,2522.8 L2255,2523.5 L2258,2524.3 L2261,2525.1 L2264,2525.9 L2267,2526.7 L2270,2527.5 L2273,2528.3 L2276,2529.1 L2279,2529.9 L2282,2530.6 L2285,2531.3 L2288,2532 L2291,2532.6 L2294,2533.2 L2297,2533.7 L2300,2534.2 L2303,2534.5 L2306,2534.8 L2309,2535 L2312,2535.2 L2315,2535.2" fill="none" stroke="#ff9412" stroke-width="6" stroke-linejoin="round"/><line x1="1667.5" y1="2391" x2="1712.2" y2="2435" stroke="#000" stroke-width="6" stroke-linecap="butt"/><polygon points="1735,2457.5 1704.8,2439.7 1716.7,2427.6" fill="#000"/><line x1="1797.5" y1="2222.5" x2="1845.6" y2="2267.2" stroke="#000" stroke-width="6" stroke-linecap="butt"/><polygon points="1869,2289 1838.3,2272.1 1849.9,2259.6" fill="#000"/><line x1="2171" y1="2352.5" x2="2071.2" y2="2430.3" stroke="#000" stroke-width="6" stroke-linecap="butt"/><polygon points="2046,2450 2067.6,2422.4 2078,2435.8" fill="#000"/><line x1="2230" y1="2417.5" x2="2163.2" y2="2472.2" stroke="#000" stroke-width="6" stroke-linecap="butt"/><polygon points="2138.5,2492.5 2159.4,2464.4 2170.2,2477.5" fill="#000"/><text x="1750" y="2211" font-size="33" font-weight="normal" text-anchor="start" fill="#000" textLength="57.5" lengthAdjust="spacingAndGlyphs" stroke="#000" stroke-width="0.9">C-O</text><text x="1592.5" y="2389" font-size="33" font-weight="normal" text-anchor="start" fill="#000" textLength="65" lengthAdjust="spacingAndGlyphs" stroke="#000" stroke-width="0.9">C=O</text><text x="2161" y="2333" font-size="33" font-weight="normal" text-anchor="start" fill="#000" textLength="125" lengthAdjust="spacingAndGlyphs" stroke="#000" stroke-width="0.9">C-C/C-N</text><text x="2228.5" y="2402" font-size="33" font-weight="normal" text-anchor="start" fill="#000" textLength="65" lengthAdjust="spacingAndGlyphs" stroke="#000" stroke-width="0.9">C=C</text><text x="1255" y="1831" font-size="47" font-weight="bold" text-anchor="start" fill="#000" >f</text><line x1="1481.8" y1="2556" x2="1481.8" y2="2569.5" stroke="#000" stroke-width="7.5" stroke-linecap="butt"/><text x="1481.8" y="2607" font-size="37.5" font-weight="normal" text-anchor="middle" fill="#000" stroke="#000" stroke-width="0.9">290</text><line x1="1691" y1="2556" x2="1691" y2="2569.5" stroke="#000" stroke-width="7.5" stroke-linecap="butt"/><text x="1691" y="2607" font-size="37.5" font-weight="normal" text-anchor="middle" fill="#000" stroke="#000" stroke-width="0.9">288</text><line x1="1900.2" y1="2556" x2="1900.2" y2="2569.5" stroke="#000" stroke-width="7.5" stroke-linecap="butt"/><text x="1900.2" y="2607" font-size="37.5" font-weight="normal" text-anchor="middle" fill="#000" stroke="#000" stroke-width="0.9">286</text><line x1="2109.4" y1="2556" x2="2109.4" y2="2569.5" stroke="#000" stroke-width="7.5" stroke-linecap="butt"/><text x="2109.4" y="2607" font-size="37.5" font-weight="normal" text-anchor="middle" fill="#000" stroke="#000" stroke-width="0.9">284</text><line x1="2318.6" y1="2556" x2="2318.6" y2="2569.5" stroke="#000" stroke-width="7.5" stroke-linecap="butt"/><text x="2318.6" y="2607" font-size="37.5" font-weight="normal" text-anchor="middle" fill="#000" stroke="#000" stroke-width="0.9">282</text><line x1="1586.4" y1="2556" x2="1586.4" y2="2563.5" stroke="#000" stroke-width="6" stroke-linecap="butt"/><line x1="1795.6" y1="2556" x2="1795.6" y2="2563.5" stroke="#000" stroke-width="6" stroke-linecap="butt"/><line x1="2004.8" y1="2556" x2="2004.8" y2="2563.5" stroke="#000" stroke-width="6" stroke-linecap="butt"/><line x1="2214" y1="2556" x2="2214" y2="2563.5" stroke="#000" stroke-width="6" stroke-linecap="butt"/><text x="1652.5" y="2656" font-size="37.5" font-weight="normal" text-anchor="start" fill="#000" textLength="387.5" lengthAdjust="spacing" stroke="#000" stroke-width="0.9">Binding energy (eV)</text><text transform="translate(1315 2332.5) rotate(-90)" x="0" y="0" font-size="37.5" font-weight="normal" text-anchor="start" fill="#000" textLength="285" lengthAdjust="spacing" stroke="#000" stroke-width="0.9">Intensity (a.u.)</text><rect x="201.5" y="2723.5" width="944.5" height="699" fill="none" stroke="#000" stroke-width="7.5"/><path d="M205,3356.7 L208,3356.7 L211,3356.8 L214,3356.9 L217,3356.9 L220,3357 L223,3357.1 L226,3357.2 L229,3357.2 L232,3357.3 L235,3357.4 L238,3357.4 L241,3357.5 L244,3357.6 L247,3357.7 L250,3357.7 L253,3357.8 L256,3357.9 L259,3357.9 L262,3358 L265,3358.1 L268,3358.2 L271,3358.2 L274,3358.3 L277,3358.4 L280,3358.4 L283,3358.5 L286,3358.6 L289,3358.6 L292,3358.7 L295,3358.8 L298,3358.9 L301,3358.9 L304,3359 L307,3359.1 L310,3359.1 L313,3359.2 L316,3359.3 L319,3359.3 L322,3359.4 L325,3359.5 L328,3359.5 L331,3359.6 L334,3359.7 L337,3359.8 L340,3359.8 L343,3359.9 L346,3360 L349,3360 L352,3360.1 L355,3360.2 L358,3360.2 L361,3360.3 L364,3360.4 L367,3360.4 L370,3360.5 L373,3360.6 L376,3360.6 L379,3360.7 L382,3360.8 L385,3360.8 L388,3360.9 L391,3361 L394,3361 L397,3361.1 L400,3361.2 L403,3361.2 L406,3361.3 L409,3361.4 L412,3361.5 L415,3361.6 L418,3361.6 L421,3361.7 L424,3361.8 L427,3361.9 L430,3361.9 L433,3362 L436,3362.1 L439,3362.2 L442,3362.3 L445,3362.3 L448,3362.4 L451,3362.5 L454,3362.6 L457,3362.6 L460,3362.7 L463,3362.8 L466,3362.9 L469,3362.9 L472,3363 L475,3363.1 L478,3363.2 L481,3363.2 L484,3363.3 L487,3363.4 L490,3363.4 L493,3363.5 L496,3363.6 L499,3363.7 L502,3363.7 L505,3363.8 L508,3363.9 L511,3363.9 L514,3364 L517,3364.1 L520,3364.1 L523,3364.2 L526,3364.3 L529,3364.3 L532,3364.4 L535,3364.5 L538,3364.5 L541,3364.6 L544,3364.6 L547,3364.7 L550,3364.8 L553,3364.8 L556,3364.9 L559,3364.9 L562,3365 L565,3365.1 L568,3365.1 L571,3365.2 L574,3365.2 L577,3365.3 L580,3365.3 L583,3365.4 L586,3365.4 L589,3365.5 L592,3365.5 L595,3365.6 L598,3365.6 L601,3365.6 L604,3365.7 L607,3365.8 L610,3365.8 L613,3365.9 L616,3365.9 L619,3366 L622,3366 L625,3366 L628,3366.1 L631,3366.1 L634,3366.2 L637,3366.2 L640,3366.2 L643,3366.2 L646,3366.3 L649,3366.3 L652,3366.3 L655,3366.3 L658,3366.3 L661,3366.3 L664,3366.3 L667,3366.3 L670,3366.2 L673,3366.2 L676,3366.1 L679,3366.1 L682,3366 L685,3365.9 L688,3365.8 L691,3365.7 L694,3365.6 L697,3365.4 L700,3365.2 L703,3365 L706,3364.8 L709,3364.5 L712,3364.2 L715,3363.9 L718,3363.5 L721,3363.1 L724,3362.6 L727,3362.1 L730,3361.5 L733,3360.9 L736,3360.2 L739,3359.4 L742,3358.6 L745,3357.7 L748,3356.7 L751,3355.6 L754,3354.5 L757,3353.2 L760,3351.8 L763,3350.4 L766,3348.8 L769,3347.1 L772,3345.3 L775,3343.4 L778,3341.4 L781,3339.3 L784,3337.1 L787,3334.7 L790,3332.2 L793,3329.6 L796,3326.9 L799,3324.1 L802,3321.2 L805,3318.2 L808,3315.1 L811,3312 L814,3308.7 L817,3305.4 L820,3302.1 L823,3298.7 L826,3295.4 L829,3292 L832,3288.6 L835,3285.3 L838,3282 L841,3278.8 L844,3275.8 L847,3272.8 L850,3270 L853,3267.3 L856,3264.9 L859,3262.7 L862,3260.7 L865,3259 L868,3257.6 L871,3256.4 L874,3255.6 L877,3255.2 L880,3255.1 L883,3255.2 L886,3255.7 L889,3256.4 L892,3257.4 L895,3258.7 L898,3260.2 L901,3261.9 L904,3263.9 L907,3266 L910,3268.4 L913,3270.9 L916,3273.5 L919,3276.3 L922,3279.2 L925,3282.1 L928,3285.2 L931,3288.3 L934,3291.5 L937,3294.6 L940,3297.8 L943,3300.9 L946,3304.1 L949,3307.2 L952,3310.3 L955,3313.4 L958,3316.4 L961,3319.3 L964,3322.2 L967,3325 L970,3327.8 L973,3330.5 L976,3333.1 L979,3335.6 L982,3338 L985,3340.3 L988,3342.5 L991,3344.6 L994,3346.7 L997,3348.6 L1000,3350.5 L1003,3352.3 L1006,3353.9 L1009,3355.5 L1012,3357 L1015,3358.4 L1018,3359.7 L1021,3361 L1024,3362.2 L1027,3363.3 L1030,3364.3 L1033,3365.3 L1036,3366.2 L1039,3367 L1042,3367.8 L1045,3368.5 L1048,3369.2 L1051,3369.8 L1054,3370.4 L1057,3371 L1060,3371.5 L1063,3371.9 L1066,3372.4 L1069,3372.8 L1072,3373.2 L1075,3373.5 L1078,3373.8 L1081,3374.1 L1084,3374.4 L1087,3374.7 L1090,3374.9 L1093,3375.2 L1096,3375.4 L1099,3375.6 L1102,3375.8 L1105,3376 L1108,3376.2 L1111,3376.3 L1114,3376.5 L1117,3376.6 L1120,3376.8 L1123,3376.9 L1126,3377 L1129,3377.2 L1132,3377.3 L1135,3377.4 L1138,3377.5 L1141,3377.6 L1142,3382.5 L205,3358.6 Z" fill="#9a805c"/><path d="M205,3356.8 L208,3356.9 L211,3356.9 L214,3357 L217,3357.1 L220,3357.1 L223,3357.2 L226,3357.3 L229,3357.4 L232,3357.4 L235,3357.5 L238,3357.6 L241,3357.6 L244,3357.7 L247,3357.8 L250,3357.9 L253,3357.9 L256,3358 L259,3358.1 L262,3358.1 L265,3358.2 L268,3358.3 L271,3358.4 L274,3358.4 L277,3358.5 L280,3358.6 L283,3358.6 L286,3358.7 L289,3358.8 L292,3358.9 L295,3358.9 L298,3359 L301,3359.1 L304,3359.1 L307,3359.2 L310,3359.3 L313,3359.3 L316,3359.4 L319,3359.5 L322,3359.6 L325,3359.6 L328,3359.7 L331,3359.8 L334,3359.8 L337,3359.9 L340,3360 L343,3360 L346,3360.1 L349,3360.2 L352,3360.2 L355,3360.3 L358,3360.4 L361,3360.4 L364,3360.5 L367,3360.6 L370,3360.6 L373,3360.7 L376,3360.8 L379,3360.8 L382,3360.9 L385,3361 L388,3361 L391,3361.1 L394,3361.2 L397,3361.2 L400,3361.3 L403,3361.4 L406,3361.5 L409,3361.5 L412,3361.6 L415,3361.7 L418,3361.8 L421,3361.9 L424,3361.9 L427,3362 L430,3362.1 L433,3362.2 L436,3362.2 L439,3362.3 L442,3362.4 L445,3362.5 L448,3362.5 L451,3362.6 L454,3362.7 L457,3362.8 L460,3362.8 L463,3362.9 L466,3363 L469,3363.1 L472,3363.1 L475,3363.2 L478,3363.3 L481,3363.3 L484,3363.4 L487,3363.5 L490,3363.5 L493,3363.6 L496,3363.7 L499,3363.7 L502,3363.8 L505,3363.9 L508,3363.9 L511,3364 L514,3364.1 L517,3364.1 L520,3364.2 L523,3364.2 L526,3364.3 L529,3364.4 L532,3364.4 L535,3364.5 L538,3364.5 L541,3364.6 L544,3364.6 L547,3364.7 L550,3364.7 L553,3364.8 L556,3364.8 L559,3364.9 L562,3364.9 L565,3364.9 L568,3365 L571,3365 L574,3365.1 L577,3365.1 L580,3365.1 L583,3365.1 L586,3365.2 L589,3365.2 L592,3365.2 L595,3365.2 L598,3365.2 L601,3365.2 L604,3365.2 L607,3365.1 L610,3365.1 L613,3365.1 L616,3365 L619,3364.9 L622,3364.8 L625,3364.6 L628,3364.5 L631,3364.2 L634,3363.9 L637,3363.6 L640,3363.2 L643,3362.6 L646,3362 L649,3361.3 L652,3360.4 L655,3359.4 L658,3358.2 L661,3356.8 L664,3355.1 L667,3353.2 L670,3351 L673,3348.5 L676,3345.6 L679,3342.3 L682,3338.6 L685,3334.4 L688,3329.6 L691,3324.4 L694,3318.5 L697,3312 L700,3304.9 L703,3297.1 L706,3288.6 L709,3279.4 L712,3269.5 L715,3258.8 L718,3247.5 L721,3235.5 L724,3222.8 L727,3209.5 L730,3195.7 L733,3181.4 L736,3166.8 L739,3151.8 L742,3136.6 L745,3121.4 L748,3106.1 L751,3091.1 L754,3076.4 L757,3062.2 L760,3048.6 L763,3035.7 L766,3023.8 L769,3013 L772,3003.3 L775,2995 L778,2988.2 L781,2983 L784,2979.3 L787,2977.4 L790,2977.1 L793,2977.9 L796,2979.6 L799,2982.1 L802,2985.3 L805,2989.4 L808,2994.2 L811,2999.7 L814,3005.9 L817,3012.8 L820,3020.3 L823,3028.3 L826,3036.8 L829,3045.8 L832,3055.2 L835,3065 L838,3075 L841,3085.3 L844,3095.8 L847,3106.4 L850,3117.2 L853,3128 L856,3138.8 L859,3149.6 L862,3160.3 L865,3170.8 L868,3181.3 L871,3191.6 L874,3201.6 L877,3211.4 L880,3221 L883,3230.3 L886,3239.3 L889,3247.9 L892,3256.3 L895,3264.3 L898,3272 L901,3279.3 L904,3286.3 L907,3292.9 L910,3299.2 L913,3305.2 L916,3310.8 L919,3316 L922,3321 L925,3325.6 L928,3330 L931,3334 L934,3337.8 L937,3341.2 L940,3344.4 L943,3347.3 L946,3350 L949,3352.5 L952,3354.8 L955,3356.9 L958,3358.8 L961,3360.6 L964,3362.2 L967,3363.7 L970,3365 L973,3366.2 L976,3367.3 L979,3368.3 L982,3369.2 L985,3370 L988,3370.7 L991,3371.4 L994,3372 L997,3372.5 L1000,3373 L1003,3373.5 L1006,3373.9 L1009,3374.2 L1012,3374.6 L1015,3374.9 L1018,3375.1 L1021,3375.4 L1024,3375.6 L1027,3375.8 L1030,3376 L1033,3376.2 L1036,3376.4 L1039,3376.5 L1042,3376.7 L1045,3376.8 L1048,3376.9 L1051,3377 L1054,3377.1 L1057,3377.3 L1060,3377.4 L1063,3377.5 L1066,3377.5 L1069,3377.6 L1072,3377.7 L1075,3377.8 L1078,3377.9 L1081,3378 L1084,3378.1 L1087,3378.1 L1090,3378.2 L1093,3378.3 L1096,3378.3 L1099,3378.4 L1102,3378.5 L1105,3378.5 L1108,3378.6 L1111,3378.7 L1114,3378.7 L1117,3378.8 L1120,3378.9 L1123,3378.9 L1126,3379 L1129,3379 L1132,3379.1 L1135,3379.2 L1138,3379.2 L1141,3379.3 L1142,3382.5 L205,3358.6 Z" fill="#d4975a"/><path d="M205,3356.8 L208,3356.9 L211,3357 L214,3357 L217,3357.1 L220,3357.2 L223,3357.2 L226,3357.3 L229,3357.4 L232,3357.5 L235,3357.5 L238,3357.6 L241,3357.7 L244,3357.7 L247,3357.8 L250,3357.9 L253,3358 L256,3358 L259,3358.1 L262,3358.2 L265,3358.2 L268,3358.3 L271,3358.4 L274,3358.5 L277,3358.5 L280,3358.6 L283,3358.7 L286,3358.7 L289,3358.8 L292,3358.9 L295,3358.9 L298,3359 L301,3359.1 L304,3359.2 L307,3359.2 L310,3359.3 L313,3359.4 L316,3359.4 L319,3359.5 L322,3359.6 L325,3359.6 L328,3359.7 L331,3359.8 L334,3359.8 L337,3359.9 L340,3360 L343,3360.1 L346,3360.1 L349,3360.2 L352,3360.3 L355,3360.3 L358,3360.4 L361,3360.5 L364,3360.5 L367,3360.6 L370,3360.7 L373,3360.7 L376,3360.8 L379,3360.9 L382,3360.9 L385,3361 L388,3361 L391,3361.1 L394,3361.2 L397,3361.2 L400,3361.3 L403,3361.4 L406,3361.5 L409,3361.5 L412,3361.6 L415,3361.7 L418,3361.8 L421,3361.8 L424,3361.9 L427,3362 L430,3362 L433,3362.1 L436,3362.2 L439,3362.2 L442,3362.3 L445,3362.4 L448,3362.4 L451,3362.5 L454,3362.5 L457,3362.6 L460,3362.6 L463,3362.7 L466,3362.7 L469,3362.8 L472,3362.8 L475,3362.8 L478,3362.8 L481,3362.8 L484,3362.8 L487,3362.8 L490,3362.7 L493,3362.7 L496,3362.6 L499,3362.5 L502,3362.4 L505,3362.3 L508,3362.1 L511,3361.9 L514,3361.7 L517,3361.5 L520,3361.2 L523,3360.8 L526,3360.4 L529,3360 L532,3359.5 L535,3358.9 L538,3358.3 L541,3357.5 L544,3356.7 L547,3355.9 L550,3354.9 L553,3353.8 L556,3352.6 L559,3351.3 L562,3349.9 L565,3348.3 L568,3346.6 L571,3344.7 L574,3342.7 L577,3340.5 L580,3338.2 L583,3335.7 L586,3333 L589,3330.1 L592,3327 L595,3323.7 L598,3320.2 L601,3316.5 L604,3312.6 L607,3308.5 L610,3304.2 L613,3299.7 L616,3294.9 L619,3290 L622,3284.9 L625,3279.6 L628,3274.1 L631,3268.5 L634,3262.6 L637,3256.7 L640,3250.6 L643,3244.4 L646,3238.1 L649,3231.8 L652,3225.4 L655,3219 L658,3212.5 L661,3206.1 L664,3199.8 L667,3193.5 L670,3187.3 L673,3181.3 L676,3175.5 L679,3169.8 L682,3164.3 L685,3159.2 L688,3154.3 L691,3149.7 L694,3145.4 L697,3141.5 L700,3138 L703,3134.9 L706,3132.2 L709,3130 L712,3128.2 L715,3126.9 L718,3126.1 L721,3125.8 L724,3126 L727,3126.8 L730,3128.1 L733,3130.1 L736,3132.6 L739,3135.7 L742,3139.4 L745,3143.5 L748,3148.1 L751,3153.2 L754,3158.6 L757,3164.4 L760,3170.6 L763,3177 L766,3183.7 L769,3190.7 L772,3197.7 L775,3204.9 L778,3212.2 L781,3219.6 L784,3227 L787,3234.3 L790,3241.6 L793,3248.8 L796,3255.9 L799,3262.9 L802,3269.7 L805,3276.4 L808,3282.8 L811,3289 L814,3295 L817,3300.7 L820,3306.2 L823,3311.5 L826,3316.5 L829,3321.2 L832,3325.7 L835,3329.9 L838,3333.8 L841,3337.5 L844,3341 L847,3344.3 L850,3347.3 L853,3350 L856,3352.6 L859,3355 L862,3357.2 L865,3359.2 L868,3361 L871,3362.7 L874,3364.3 L877,3365.7 L880,3366.9 L883,3368.1 L886,3369.2 L889,3370.1 L892,3371 L895,3371.7 L898,3372.5 L901,3373.1 L904,3373.7 L907,3374.2 L910,3374.7 L913,3375.1 L916,3375.5 L919,3375.8 L922,3376.1 L925,3376.4 L928,3376.7 L931,3376.9 L934,3377.2 L937,3377.3 L940,3377.5 L943,3377.6 L946,3377.7 L949,3377.8 L952,3377.9 L955,3378 L958,3378.1 L961,3378.1 L964,3378.2 L967,3378.3 L970,3378.3 L973,3378.4 L976,3378.5 L979,3378.5 L982,3378.6 L985,3378.6 L988,3378.7 L991,3378.7 L994,3378.8 L997,3378.8 L1000,3378.9 L1003,3378.9 L1006,3378.9 L1009,3379 L1012,3379 L1015,3379.1 L1018,3379.1 L1021,3379.2 L1024,3379.2 L1027,3379.2 L1030,3379.3 L1033,3379.3 L1036,3379.4 L1039,3379.4 L1042,3379.4 L1045,3379.5 L1048,3379.5 L1051,3379.6 L1054,3379.6 L1057,3379.6 L1060,3379.7 L1063,3379.7 L1066,3379.7 L1069,3379.8 L1072,3379.8 L1075,3379.9 L1078,3379.9 L1081,3379.9 L1084,3380 L1087,3380 L1090,3380 L1093,3380.1 L1096,3380.1 L1099,3380.1 L1102,3380.2 L1105,3380.2 L1108,3380.2 L1111,3380.3 L1114,3380.3 L1117,3380.3 L1120,3380.4 L1123,3380.4 L1126,3380.4 L1129,3380.5 L1132,3380.5 L1135,3380.5 L1138,3380.6 L1141,3380.6 L1142,3382.5 L205,3358.6 Z" fill="#88b473"/><path d="M205,3350.1 L208,3350.1 L211,3350 L214,3350 L217,3350 L220,3350 L223,3349.9 L226,3349.9 L229,3349.8 L232,3349.8 L235,3349.8 L238,3349.7 L241,3349.7 L244,3349.6 L247,3349.5 L250,3349.5 L253,3349.4 L256,3349.4 L259,3349.3 L262,3349.2 L265,3349.1 L268,3349.1 L271,3349 L274,3348.9 L277,3348.8 L280,3348.7 L283,3348.6 L286,3348.5 L289,3348.4 L292,3348.3 L295,3348.2 L298,3348.1 L301,3347.9 L304,3347.8 L307,3347.7 L310,3347.5 L313,3347.4 L316,3347.2 L319,3347.1 L322,3346.9 L325,3346.7 L328,3346.5 L331,3346.4 L334,3346.2 L337,3346 L340,3345.7 L343,3345.5 L346,3345.3 L349,3345.1 L352,3344.8 L355,3344.6 L358,3344.3 L361,3344 L364,3343.7 L367,3343.4 L370,3343.1 L373,3342.8 L376,3342.5 L379,3342.1 L382,3341.8 L385,3341.4 L388,3341 L391,3340.6 L394,3340.2 L397,3339.8 L400,3339.3 L403,3338.9 L406,3338.4 L409,3337.9 L412,3337.4 L415,3336.9 L418,3336.4 L421,3335.8 L424,3335.2 L427,3334.6 L430,3334 L433,3333.3 L436,3332.6 L439,3331.9 L442,3331.1 L445,3330.3 L448,3329.5 L451,3328.7 L454,3327.8 L457,3326.9 L460,3326 L463,3325 L466,3324 L469,3322.9 L472,3321.8 L475,3320.7 L478,3319.5 L481,3318.2 L484,3316.9 L487,3315.6 L490,3314.2 L493,3312.8 L496,3311.3 L499,3309.8 L502,3308.2 L505,3306.5 L508,3304.8 L511,3303.1 L514,3301.3 L517,3299.4 L520,3297.5 L523,3295.5 L526,3293.5 L529,3291.5 L532,3289.3 L535,3287.2 L538,3285 L541,3282.8 L544,3280.5 L547,3278.3 L550,3276 L553,3273.7 L556,3271.4 L559,3269.2 L562,3267 L565,3264.8 L568,3262.7 L571,3260.6 L574,3258.7 L577,3256.8 L580,3255.1 L583,3253.5 L586,3252 L589,3250.7 L592,3249.6 L595,3248.6 L598,3247.9 L601,3247.3 L604,3247 L607,3246.9 L610,3247.1 L613,3247.4 L616,3248 L619,3248.9 L622,3249.9 L625,3251.2 L628,3252.6 L631,3254.2 L634,3256 L637,3258 L640,3260.1 L643,3262.3 L646,3264.5 L649,3266.9 L652,3269.4 L655,3271.9 L658,3274.4 L661,3276.9 L664,3279.5 L667,3282.1 L670,3284.6 L673,3287.2 L676,3289.7 L679,3292.1 L682,3294.6 L685,3296.9 L688,3299.3 L691,3301.6 L694,3303.8 L697,3305.9 L700,3308.1 L703,3310.1 L706,3312.1 L709,3314 L712,3315.9 L715,3317.7 L718,3319.5 L721,3321.2 L724,3322.9 L727,3324.5 L730,3326 L733,3327.5 L736,3328.9 L739,3330.3 L742,3331.7 L745,3333 L748,3334.2 L751,3335.5 L754,3336.6 L757,3337.8 L760,3338.9 L763,3340 L766,3341 L769,3342 L772,3343 L775,3343.9 L778,3344.8 L781,3345.7 L784,3346.5 L787,3347.4 L790,3348.2 L793,3348.9 L796,3349.7 L799,3350.4 L802,3351.1 L805,3351.8 L808,3352.4 L811,3353.1 L814,3353.7 L817,3354.3 L820,3354.9 L823,3355.5 L826,3356 L829,3356.5 L832,3357.1 L835,3357.6 L838,3358.1 L841,3358.6 L844,3359 L847,3359.5 L850,3359.9 L853,3360.4 L856,3360.8 L859,3361.2 L862,3361.6 L865,3362 L868,3362.4 L871,3362.8 L874,3363.2 L877,3363.5 L880,3363.9 L883,3364.3 L886,3364.6 L889,3364.9 L892,3365.3 L895,3365.6 L898,3365.9 L901,3366.2 L904,3366.5 L907,3366.8 L910,3367.1 L913,3367.4 L916,3367.7 L919,3368 L922,3368.2 L925,3368.5 L928,3368.8 L931,3369 L934,3369.3 L937,3369.5 L940,3369.7 L943,3369.8 L946,3370 L949,3370.2 L952,3370.4 L955,3370.5 L958,3370.7 L961,3370.9 L964,3371 L967,3371.2 L970,3371.3 L973,3371.5 L976,3371.6 L979,3371.8 L982,3371.9 L985,3372.1 L988,3372.2 L991,3372.3 L994,3372.5 L997,3372.6 L1000,3372.7 L1003,3372.9 L1006,3373 L1009,3373.1 L1012,3373.2 L1015,3373.4 L1018,3373.5 L1021,3373.6 L1024,3373.7 L1027,3373.8 L1030,3373.9 L1033,3374 L1036,3374.1 L1039,3374.2 L1042,3374.3 L1045,3374.4 L1048,3374.5 L1051,3374.6 L1054,3374.7 L1057,3374.8 L1060,3374.9 L1063,3375 L1066,3375.1 L1069,3375.2 L1072,3375.3 L1075,3375.4 L1078,3375.5 L1081,3375.6 L1084,3375.7 L1087,3375.7 L1090,3375.8 L1093,3375.9 L1096,3376 L1099,3376.1 L1102,3376.2 L1105,3376.2 L1108,3376.3 L1111,3376.4 L1114,3376.5 L1117,3376.5 L1120,3376.6 L1123,3376.7 L1126,3376.8 L1129,3376.8 L1132,3376.9 L1135,3377 L1138,3377.1 L1141,3377.1 L1142,3382.5 L205,3358.6 Z" fill="#5e9a5e"/><g clip-path="url(#cp5)"><path d="M205,3356.8 L208,3356.9 L211,3356.9 L214,3357 L217,3357.1 L220,3357.1 L223,3357.2 L226,3357.3 L229,3357.4 L232,3357.4 L235,3357.5 L238,3357.6 L241,3357.6 L244,3357.7 L247,3357.8 L250,3357.9 L253,3357.9 L256,3358 L259,3358.1 L262,3358.1 L265,3358.2 L268,3358.3 L271,3358.4 L274,3358.4 L277,3358.5 L280,3358.6 L283,3358.6 L286,3358.7 L289,3358.8 L292,3358.9 L295,3358.9 L298,3359 L301,3359.1 L304,3359.1 L307,3359.2 L310,3359.3 L313,3359.3 L316,3359.4 L319,3359.5 L322,3359.6 L325,3359.6 L328,3359.7 L331,3359.8 L334,3359.8 L337,3359.9 L340,3360 L343,3360 L346,3360.1 L349,3360.2 L352,3360.2 L355,3360.3 L358,3360.4 L361,3360.4 L364,3360.5 L367,3360.6 L370,3360.6 L373,3360.7 L376,3360.8 L379,3360.8 L382,3360.9 L385,3361 L388,3361 L391,3361.1 L394,3361.2 L397,3361.2 L400,3361.3 L403,3361.4 L406,3361.5 L409,3361.5 L412,3361.6 L415,3361.7 L418,3361.8 L421,3361.9 L424,3361.9 L427,3362 L430,3362.1 L433,3362.2 L436,3362.2 L439,3362.3 L442,3362.4 L445,3362.5 L448,3362.5 L451,3362.6 L454,3362.7 L457,3362.8 L460,3362.8 L463,3362.9 L466,3363 L469,3363.1 L472,3363.1 L475,3363.2 L478,3363.3 L481,3363.3 L484,3363.4 L487,3363.5 L490,3363.5 L493,3363.6 L496,3363.7 L499,3363.7 L502,3363.8 L505,3363.9 L508,3363.9 L511,3364 L514,3364.1 L517,3364.1 L520,3364.2 L523,3364.2 L526,3364.3 L529,3364.4 L532,3364.4 L535,3364.5 L538,3364.5 L541,3364.6 L544,3364.6 L547,3364.7 L550,3364.7 L553,3364.8 L556,3364.8 L559,3364.9 L562,3364.9 L565,3364.9 L568,3365 L571,3365 L574,3365.1 L577,3365.1 L580,3365.1 L583,3365.1 L586,3365.2 L589,3365.2 L592,3365.2 L595,3365.2 L598,3365.2 L601,3365.2 L604,3365.2 L607,3365.1 L610,3365.1 L613,3365.1 L616,3365 L619,3364.9 L622,3364.8 L625,3364.6 L628,3364.5 L631,3364.2 L634,3363.9 L637,3363.6 L640,3363.2 L643,3362.6 L646,3362 L649,3361.3 L652,3360.4 L655,3359.4 L658,3358.2 L661,3356.8 L664,3355.1 L667,3353.2 L670,3351 L673,3348.5 L676,3345.6 L679,3342.3 L682,3338.6 L685,3334.4 L688,3329.6 L691,3324.4 L694,3318.5 L697,3312 L700,3304.9 L703,3297.1 L706,3288.6 L709,3279.4 L712,3269.5 L715,3258.8 L718,3247.5 L721,3235.5 L724,3222.8 L727,3209.5 L730,3195.7 L733,3181.4 L736,3166.8 L739,3151.8 L742,3136.6 L745,3121.4 L748,3106.1 L751,3091.1 L754,3076.4 L757,3062.2 L760,3048.6 L763,3035.7 L766,3023.8 L769,3013 L772,3003.3 L775,2995 L778,2988.2 L781,2983 L784,2979.3 L787,2977.4 L790,2977.1 L793,2977.9 L796,2979.6 L799,2982.1 L802,2985.3 L805,2989.4 L808,2994.2 L811,2999.7 L814,3005.9 L817,3012.8 L820,3020.3 L823,3028.3 L826,3036.8 L829,3045.8 L832,3055.2 L835,3065 L838,3075 L841,3085.3 L844,3095.8 L847,3106.4 L850,3117.2 L853,3128 L856,3138.8 L859,3149.6 L862,3160.3 L865,3170.8 L868,3181.3 L871,3191.6 L874,3201.6 L877,3211.4 L880,3221 L883,3230.3 L886,3239.3 L889,3247.9 L892,3256.3 L895,3264.3 L898,3272 L901,3279.3 L904,3286.3 L907,3292.9 L910,3299.2 L913,3305.2 L916,3310.8 L919,3316 L922,3321 L925,3325.6 L928,3330 L931,3334 L934,3337.8 L937,3341.2 L940,3344.4 L943,3347.3 L946,3350 L949,3352.5 L952,3354.8 L955,3356.9 L958,3358.8 L961,3360.6 L964,3362.2 L967,3363.7 L970,3365 L973,3366.2 L976,3367.3 L979,3368.3 L982,3369.2 L985,3370 L988,3370.7 L991,3371.4 L994,3372 L997,3372.5 L1000,3373 L1003,3373.5 L1006,3373.9 L1009,3374.2 L1012,3374.6 L1015,3374.9 L1018,3375.1 L1021,3375.4 L1024,3375.6 L1027,3375.8 L1030,3376 L1033,3376.2 L1036,3376.4 L1039,3376.5 L1042,3376.7 L1045,3376.8 L1048,3376.9 L1051,3377 L1054,3377.1 L1057,3377.3 L1060,3377.4 L1063,3377.5 L1066,3377.5 L1069,3377.6 L1072,3377.7 L1075,3377.8 L1078,3377.9 L1081,3378 L1084,3378.1 L1087,3378.1 L1090,3378.2 L1093,3378.3 L1096,3378.3 L1099,3378.4 L1102,3378.5 L1105,3378.5 L1108,3378.6 L1111,3378.7 L1114,3378.7 L1117,3378.8 L1120,3378.9 L1123,3378.9 L1126,3379 L1129,3379 L1132,3379.1 L1135,3379.2 L1138,3379.2 L1141,3379.3 L1142,3382.5 L205,3358.6 Z" fill="#b06015"/></g><g clip-path="url(#cp6)"><path d="M205,3356.8 L208,3356.9 L211,3357 L214,3357 L217,3357.1 L220,3357.2 L223,3357.2 L226,3357.3 L229,3357.4 L232,3357.5 L235,3357.5 L238,3357.6 L241,3357.7 L244,3357.7 L247,3357.8 L250,3357.9 L253,3358 L256,3358 L259,3358.1 L262,3358.2 L265,3358.2 L268,3358.3 L271,3358.4 L274,3358.5 L277,3358.5 L280,3358.6 L283,3358.7 L286,3358.7 L289,3358.8 L292,3358.9 L295,3358.9 L298,3359 L301,3359.1 L304,3359.2 L307,3359.2 L310,3359.3 L313,3359.4 L316,3359.4 L319,3359.5 L322,3359.6 L325,3359.6 L328,3359.7 L331,3359.8 L334,3359.8 L337,3359.9 L340,3360 L343,3360.1 L346,3360.1 L349,3360.2 L352,3360.3 L355,3360.3 L358,3360.4 L361,3360.5 L364,3360.5 L367,3360.6 L370,3360.7 L373,3360.7 L376,3360.8 L379,3360.9 L382,3360.9 L385,3361 L388,3361 L391,3361.1 L394,3361.2 L397,3361.2 L400,3361.3 L403,3361.4 L406,3361.5 L409,3361.5 L412,3361.6 L415,3361.7 L418,3361.8 L421,3361.8 L424,3361.9 L427,3362 L430,3362 L433,3362.1 L436,3362.2 L439,3362.2 L442,3362.3 L445,3362.4 L448,3362.4 L451,3362.5 L454,3362.5 L457,3362.6 L460,3362.6 L463,3362.7 L466,3362.7 L469,3362.8 L472,3362.8 L475,3362.8 L478,3362.8 L481,3362.8 L484,3362.8 L487,3362.8 L490,3362.7 L493,3362.7 L496,3362.6 L499,3362.5 L502,3362.4 L505,3362.3 L508,3362.1 L511,3361.9 L514,3361.7 L517,3361.5 L520,3361.2 L523,3360.8 L526,3360.4 L529,3360 L532,3359.5 L535,3358.9 L538,3358.3 L541,3357.5 L544,3356.7 L547,3355.9 L550,3354.9 L553,3353.8 L556,3352.6 L559,3351.3 L562,3349.9 L565,3348.3 L568,3346.6 L571,3344.7 L574,3342.7 L577,3340.5 L580,3338.2 L583,3335.7 L586,3333 L589,3330.1 L592,3327 L595,3323.7 L598,3320.2 L601,3316.5 L604,3312.6 L607,3308.5 L610,3304.2 L613,3299.7 L616,3294.9 L619,3290 L622,3284.9 L625,3279.6 L628,3274.1 L631,3268.5 L634,3262.6 L637,3256.7 L640,3250.6 L643,3244.4 L646,3238.1 L649,3231.8 L652,3225.4 L655,3219 L658,3212.5 L661,3206.1 L664,3199.8 L667,3193.5 L670,3187.3 L673,3181.3 L676,3175.5 L679,3169.8 L682,3164.3 L685,3159.2 L688,3154.3 L691,3149.7 L694,3145.4 L697,3141.5 L700,3138 L703,3134.9 L706,3132.2 L709,3130 L712,3128.2 L715,3126.9 L718,3126.1 L721,3125.8 L724,3126 L727,3126.8 L730,3128.1 L733,3130.1 L736,3132.6 L739,3135.7 L742,3139.4 L745,3143.5 L748,3148.1 L751,3153.2 L754,3158.6 L757,3164.4 L760,3170.6 L763,3177 L766,3183.7 L769,3190.7 L772,3197.7 L775,3204.9 L778,3212.2 L781,3219.6 L784,3227 L787,3234.3 L790,3241.6 L793,3248.8 L796,3255.9 L799,3262.9 L802,3269.7 L805,3276.4 L808,3282.8 L811,3289 L814,3295 L817,3300.7 L820,3306.2 L823,3311.5 L826,3316.5 L829,3321.2 L832,3325.7 L835,3329.9 L838,3333.8 L841,3337.5 L844,3341 L847,3344.3 L850,3347.3 L853,3350 L856,3352.6 L859,3355 L862,3357.2 L865,3359.2 L868,3361 L871,3362.7 L874,3364.3 L877,3365.7 L880,3366.9 L883,3368.1 L886,3369.2 L889,3370.1 L892,3371 L895,3371.7 L898,3372.5 L901,3373.1 L904,3373.7 L907,3374.2 L910,3374.7 L913,3375.1 L916,3375.5 L919,3375.8 L922,3376.1 L925,3376.4 L928,3376.7 L931,3376.9 L934,3377.2 L937,3377.3 L940,3377.5 L943,3377.6 L946,3377.7 L949,3377.8 L952,3377.9 L955,3378 L958,3378.1 L961,3378.1 L964,3378.2 L967,3378.3 L970,3378.3 L973,3378.4 L976,3378.5 L979,3378.5 L982,3378.6 L985,3378.6 L988,3378.7 L991,3378.7 L994,3378.8 L997,3378.8 L1000,3378.9 L1003,3378.9 L1006,3378.9 L1009,3379 L1012,3379 L1015,3379.1 L1018,3379.1 L1021,3379.2 L1024,3379.2 L1027,3379.2 L1030,3379.3 L1033,3379.3 L1036,3379.4 L1039,3379.4 L1042,3379.4 L1045,3379.5 L1048,3379.5 L1051,3379.6 L1054,3379.6 L1057,3379.6 L1060,3379.7 L1063,3379.7 L1066,3379.7 L1069,3379.8 L1072,3379.8 L1075,3379.9 L1078,3379.9 L1081,3379.9 L1084,3380 L1087,3380 L1090,3380 L1093,3380.1 L1096,3380.1 L1099,3380.1 L1102,3380.2 L1105,3380.2 L1108,3380.2 L1111,3380.3 L1114,3380.3 L1117,3380.3 L1120,3380.4 L1123,3380.4 L1126,3380.4 L1129,3380.5 L1132,3380.5 L1135,3380.5 L1138,3380.6 L1141,3380.6 L1142,3382.5 L205,3358.6 Z" fill="#668f33"/></g><g clip-path="url(#cp5)"><path d="M205,3356.8 L208,3356.9 L211,3357 L214,3357 L217,3357.1 L220,3357.2 L223,3357.2 L226,3357.3 L229,3357.4 L232,3357.5 L235,3357.5 L238,3357.6 L241,3357.7 L244,3357.7 L247,3357.8 L250,3357.9 L253,3358 L256,3358 L259,3358.1 L262,3358.2 L265,3358.2 L268,3358.3 L271,3358.4 L274,3358.5 L277,3358.5 L280,3358.6 L283,3358.7 L286,3358.7 L289,3358.8 L292,3358.9 L295,3358.9 L298,3359 L301,3359.1 L304,3359.2 L307,3359.2 L310,3359.3 L313,3359.4 L316,3359.4 L319,3359.5 L322,3359.6 L325,3359.6 L328,3359.7 L331,3359.8 L334,3359.8 L337,3359.9 L340,3360 L343,3360.1 L346,3360.1 L349,3360.2 L352,3360.3 L355,3360.3 L358,3360.4 L361,3360.5 L364,3360.5 L367,3360.6 L370,3360.7 L373,3360.7 L376,3360.8 L379,3360.9 L382,3360.9 L385,3361 L388,3361 L391,3361.1 L394,3361.2 L397,3361.2 L400,3361.3 L403,3361.4 L406,3361.5 L409,3361.5 L412,3361.6 L415,3361.7 L418,3361.8 L421,3361.8 L424,3361.9 L427,3362 L430,3362 L433,3362.1 L436,3362.2 L439,3362.2 L442,3362.3 L445,3362.4 L448,3362.4 L451,3362.5 L454,3362.5 L457,3362.6 L460,3362.6 L463,3362.7 L466,3362.7 L469,3362.8 L472,3362.8 L475,3362.8 L478,3362.8 L481,3362.8 L484,3362.8 L487,3362.8 L490,3362.7 L493,3362.7 L496,3362.6 L499,3362.5 L502,3362.4 L505,3362.3 L508,3362.1 L511,3361.9 L514,3361.7 L517,3361.5 L520,3361.2 L523,3360.8 L526,3360.4 L529,3360 L532,3359.5 L535,3358.9 L538,3358.3 L541,3357.5 L544,3356.7 L547,3355.9 L550,3354.9 L553,3353.8 L556,3352.6 L559,3351.3 L562,3349.9 L565,3348.3 L568,3346.6 L571,3344.7 L574,3342.7 L577,3340.5 L580,3338.2 L583,3335.7 L586,3333 L589,3330.1 L592,3327 L595,3323.7 L598,3320.2 L601,3316.5 L604,3312.6 L607,3308.5 L610,3304.2 L613,3299.7 L616,3294.9 L619,3290 L622,3284.9 L625,3279.6 L628,3274.1 L631,3268.5 L634,3262.6 L637,3256.7 L640,3250.6 L643,3244.4 L646,3238.1 L649,3231.8 L652,3225.4 L655,3219 L658,3212.5 L661,3206.1 L664,3199.8 L667,3193.5 L670,3187.3 L673,3181.3 L676,3175.5 L679,3169.8 L682,3164.3 L685,3159.2 L688,3154.3 L691,3149.7 L694,3145.4 L697,3141.5 L700,3138 L703,3134.9 L706,3132.2 L709,3130 L712,3128.2 L715,3126.9 L718,3126.1 L721,3125.8 L724,3126 L727,3126.8 L730,3128.1 L733,3130.1 L736,3132.6 L739,3135.7 L742,3139.4 L745,3143.5 L748,3148.1 L751,3153.2 L754,3158.6 L757,3164.4 L760,3170.6 L763,3177 L766,3183.7 L769,3190.7 L772,3197.7 L775,3204.9 L778,3212.2 L781,3219.6 L784,3227 L787,3234.3 L790,3241.6 L793,3248.8 L796,3255.9 L799,3262.9 L802,3269.7 L805,3276.4 L808,3282.8 L811,3289 L814,3295 L817,3300.7 L820,3306.2 L823,3311.5 L826,3316.5 L829,3321.2 L832,3325.7 L835,3329.9 L838,3333.8 L841,3337.5 L844,3341 L847,3344.3 L850,3347.3 L853,3350 L856,3352.6 L859,3355 L862,3357.2 L865,3359.2 L868,3361 L871,3362.7 L874,3364.3 L877,3365.7 L880,3366.9 L883,3368.1 L886,3369.2 L889,3370.1 L892,3371 L895,3371.7 L898,3372.5 L901,3373.1 L904,3373.7 L907,3374.2 L910,3374.7 L913,3375.1 L916,3375.5 L919,3375.8 L922,3376.1 L925,3376.4 L928,3376.7 L931,3376.9 L934,3377.2 L937,3377.3 L940,3377.5 L943,3377.6 L946,3377.7 L949,3377.8 L952,3377.9 L955,3378 L958,3378.1 L961,3378.1 L964,3378.2 L967,3378.3 L970,3378.3 L973,3378.4 L976,3378.5 L979,3378.5 L982,3378.6 L985,3378.6 L988,3378.7 L991,3378.7 L994,3378.8 L997,3378.8 L1000,3378.9 L1003,3378.9 L1006,3378.9 L1009,3379 L1012,3379 L1015,3379.1 L1018,3379.1 L1021,3379.2 L1024,3379.2 L1027,3379.2 L1030,3379.3 L1033,3379.3 L1036,3379.4 L1039,3379.4 L1042,3379.4 L1045,3379.5 L1048,3379.5 L1051,3379.6 L1054,3379.6 L1057,3379.6 L1060,3379.7 L1063,3379.7 L1066,3379.7 L1069,3379.8 L1072,3379.8 L1075,3379.9 L1078,3379.9 L1081,3379.9 L1084,3380 L1087,3380 L1090,3380 L1093,3380.1 L1096,3380.1 L1099,3380.1 L1102,3380.2 L1105,3380.2 L1108,3380.2 L1111,3380.3 L1114,3380.3 L1117,3380.3 L1120,3380.4 L1123,3380.4 L1126,3380.4 L1129,3380.5 L1132,3380.5 L1135,3380.5 L1138,3380.6 L1141,3380.6 L1142,3382.5 L205,3358.6 Z" fill="#5a9438"/></g><g clip-path="url(#cp7)"><path d="M205,3350.1 L208,3350.1 L211,3350 L214,3350 L217,3350 L220,3350 L223,3349.9 L226,3349.9 L229,3349.8 L232,3349.8 L235,3349.8 L238,3349.7 L241,3349.7 L244,3349.6 L247,3349.5 L250,3349.5 L253,3349.4 L256,3349.4 L259,3349.3 L262,3349.2 L265,3349.1 L268,3349.1 L271,3349 L274,3348.9 L277,3348.8 L280,3348.7 L283,3348.6 L286,3348.5 L289,3348.4 L292,3348.3 L295,3348.2 L298,3348.1 L301,3347.9 L304,3347.8 L307,3347.7 L310,3347.5 L313,3347.4 L316,3347.2 L319,3347.1 L322,3346.9 L325,3346.7 L328,3346.5 L331,3346.4 L334,3346.2 L337,3346 L340,3345.7 L343,3345.5 L346,3345.3 L349,3345.1 L352,3344.8 L355,3344.6 L358,3344.3 L361,3344 L364,3343.7 L367,3343.4 L370,3343.1 L373,3342.8 L376,3342.5 L379,3342.1 L382,3341.8 L385,3341.4 L388,3341 L391,3340.6 L394,3340.2 L397,3339.8 L400,3339.3 L403,3338.9 L406,3338.4 L409,3337.9 L412,3337.4 L415,3336.9 L418,3336.4 L421,3335.8 L424,3335.2 L427,3334.6 L430,3334 L433,3333.3 L436,3332.6 L439,3331.9 L442,3331.1 L445,3330.3 L448,3329.5 L451,3328.7 L454,3327.8 L457,3326.9 L460,3326 L463,3325 L466,3324 L469,3322.9 L472,3321.8 L475,3320.7 L478,3319.5 L481,3318.2 L484,3316.9 L487,3315.6 L490,3314.2 L493,3312.8 L496,3311.3 L499,3309.8 L502,3308.2 L505,3306.5 L508,3304.8 L511,3303.1 L514,3301.3 L517,3299.4 L520,3297.5 L523,3295.5 L526,3293.5 L529,3291.5 L532,3289.3 L535,3287.2 L538,3285 L541,3282.8 L544,3280.5 L547,3278.3 L550,3276 L553,3273.7 L556,3271.4 L559,3269.2 L562,3267 L565,3264.8 L568,3262.7 L571,3260.6 L574,3258.7 L577,3256.8 L580,3255.1 L583,3253.5 L586,3252 L589,3250.7 L592,3249.6 L595,3248.6 L598,3247.9 L601,3247.3 L604,3247 L607,3246.9 L610,3247.1 L613,3247.4 L616,3248 L619,3248.9 L622,3249.9 L625,3251.2 L628,3252.6 L631,3254.2 L634,3256 L637,3258 L640,3260.1 L643,3262.3 L646,3264.5 L649,3266.9 L652,3269.4 L655,3271.9 L658,3274.4 L661,3276.9 L664,3279.5 L667,3282.1 L670,3284.6 L673,3287.2 L676,3289.7 L679,3292.1 L682,3294.6 L685,3296.9 L688,3299.3 L691,3301.6 L694,3303.8 L697,3305.9 L700,3308.1 L703,3310.1 L706,3312.1 L709,3314 L712,3315.9 L715,3317.7 L718,3319.5 L721,3321.2 L724,3322.9 L727,3324.5 L730,3326 L733,3327.5 L736,3328.9 L739,3330.3 L742,3331.7 L745,3333 L748,3334.2 L751,3335.5 L754,3336.6 L757,3337.8 L760,3338.9 L763,3340 L766,3341 L769,3342 L772,3343 L775,3343.9 L778,3344.8 L781,3345.7 L784,3346.5 L787,3347.4 L790,3348.2 L793,3348.9 L796,3349.7 L799,3350.4 L802,3351.1 L805,3351.8 L808,3352.4 L811,3353.1 L814,3353.7 L817,3354.3 L820,3354.9 L823,3355.5 L826,3356 L829,3356.5 L832,3357.1 L835,3357.6 L838,3358.1 L841,3358.6 L844,3359 L847,3359.5 L850,3359.9 L853,3360.4 L856,3360.8 L859,3361.2 L862,3361.6 L865,3362 L868,3362.4 L871,3362.8 L874,3363.2 L877,3363.5 L880,3363.9 L883,3364.3 L886,3364.6 L889,3364.9 L892,3365.3 L895,3365.6 L898,3365.9 L901,3366.2 L904,3366.5 L907,3366.8 L910,3367.1 L913,3367.4 L916,3367.7 L919,3368 L922,3368.2 L925,3368.5 L928,3368.8 L931,3369 L934,3369.3 L937,3369.5 L940,3369.7 L943,3369.8 L946,3370 L949,3370.2 L952,3370.4 L955,3370.5 L958,3370.7 L961,3370.9 L964,3371 L967,3371.2 L970,3371.3 L973,3371.5 L976,3371.6 L979,3371.8 L982,3371.9 L985,3372.1 L988,3372.2 L991,3372.3 L994,3372.5 L997,3372.6 L1000,3372.7 L1003,3372.9 L1006,3373 L1009,3373.1 L1012,3373.2 L1015,3373.4 L1018,3373.5 L1021,3373.6 L1024,3373.7 L1027,3373.8 L1030,3373.9 L1033,3374 L1036,3374.1 L1039,3374.2 L1042,3374.3 L1045,3374.4 L1048,3374.5 L1051,3374.6 L1054,3374.7 L1057,3374.8 L1060,3374.9 L1063,3375 L1066,3375.1 L1069,3375.2 L1072,3375.3 L1075,3375.4 L1078,3375.5 L1081,3375.6 L1084,3375.7 L1087,3375.7 L1090,3375.8 L1093,3375.9 L1096,3376 L1099,3376.1 L1102,3376.2 L1105,3376.2 L1108,3376.3 L1111,3376.4 L1114,3376.5 L1117,3376.5 L1120,3376.6 L1123,3376.7 L1126,3376.8 L1129,3376.8 L1132,3376.9 L1135,3377 L1138,3377.1 L1141,3377.1 L1142,3382.5 L205,3358.6 Z" fill="#1c731c"/></g><g clip-path="url(#cp6)"><path d="M205,3350.1 L208,3350.1 L211,3350 L214,3350 L217,3350 L220,3350 L223,3349.9 L226,3349.9 L229,3349.8 L232,3349.8 L235,3349.8 L238,3349.7 L241,3349.7 L244,3349.6 L247,3349.5 L250,3349.5 L253,3349.4 L256,3349.4 L259,3349.3 L262,3349.2 L265,3349.1 L268,3349.1 L271,3349 L274,3348.9 L277,3348.8 L280,3348.7 L283,3348.6 L286,3348.5 L289,3348.4 L292,3348.3 L295,3348.2 L298,3348.1 L301,3347.9 L304,3347.8 L307,3347.7 L310,3347.5 L313,3347.4 L316,3347.2 L319,3347.1 L322,3346.9 L325,3346.7 L328,3346.5 L331,3346.4 L334,3346.2 L337,3346 L340,3345.7 L343,3345.5 L346,3345.3 L349,3345.1 L352,3344.8 L355,3344.6 L358,3344.3 L361,3344 L364,3343.7 L367,3343.4 L370,3343.1 L373,3342.8 L376,3342.5 L379,3342.1 L382,3341.8 L385,3341.4 L388,3341 L391,3340.6 L394,3340.2 L397,3339.8 L400,3339.3 L403,3338.9 L406,3338.4 L409,3337.9 L412,3337.4 L415,3336.9 L418,3336.4 L421,3335.8 L424,3335.2 L427,3334.6 L430,3334 L433,3333.3 L436,3332.6 L439,3331.9 L442,3331.1 L445,3330.3 L448,3329.5 L451,3328.7 L454,3327.8 L457,3326.9 L460,3326 L463,3325 L466,3324 L469,3322.9 L472,3321.8 L475,3320.7 L478,3319.5 L481,3318.2 L484,3316.9 L487,3315.6 L490,3314.2 L493,3312.8 L496,3311.3 L499,3309.8 L502,3308.2 L505,3306.5 L508,3304.8 L511,3303.1 L514,3301.3 L517,3299.4 L520,3297.5 L523,3295.5 L526,3293.5 L529,3291.5 L532,3289.3 L535,3287.2 L538,3285 L541,3282.8 L544,3280.5 L547,3278.3 L550,3276 L553,3273.7 L556,3271.4 L559,3269.2 L562,3267 L565,3264.8 L568,3262.7 L571,3260.6 L574,3258.7 L577,3256.8 L580,3255.1 L583,3253.5 L586,3252 L589,3250.7 L592,3249.6 L595,3248.6 L598,3247.9 L601,3247.3 L604,3247 L607,3246.9 L610,3247.1 L613,3247.4 L616,3248 L619,3248.9 L622,3249.9 L625,3251.2 L628,3252.6 L631,3254.2 L634,3256 L637,3258 L640,3260.1 L643,3262.3 L646,3264.5 L649,3266.9 L652,3269.4 L655,3271.9 L658,3274.4 L661,3276.9 L664,3279.5 L667,3282.1 L670,3284.6 L673,3287.2 L676,3289.7 L679,3292.1 L682,3294.6 L685,3296.9 L688,3299.3 L691,3301.6 L694,3303.8 L697,3305.9 L700,3308.1 L703,3310.1 L706,3312.1 L709,3314 L712,3315.9 L715,3317.7 L718,3319.5 L721,3321.2 L724,3322.9 L727,3324.5 L730,3326 L733,3327.5 L736,3328.9 L739,3330.3 L742,3331.7 L745,3333 L748,3334.2 L751,3335.5 L754,3336.6 L757,3337.8 L760,3338.9 L763,3340 L766,3341 L769,3342 L772,3343 L775,3343.9 L778,3344.8 L781,3345.7 L784,3346.5 L787,3347.4 L790,3348.2 L793,3348.9 L796,3349.7 L799,3350.4 L802,3351.1 L805,3351.8 L808,3352.4 L811,3353.1 L814,3353.7 L817,3354.3 L820,3354.9 L823,3355.5 L826,3356 L829,3356.5 L832,3357.1 L835,3357.6 L838,3358.1 L841,3358.6 L844,3359 L847,3359.5 L850,3359.9 L853,3360.4 L856,3360.8 L859,3361.2 L862,3361.6 L865,3362 L868,3362.4 L871,3362.8 L874,3363.2 L877,3363.5 L880,3363.9 L883,3364.3 L886,3364.6 L889,3364.9 L892,3365.3 L895,3365.6 L898,3365.9 L901,3366.2 L904,3366.5 L907,3366.8 L910,3367.1 L913,3367.4 L916,3367.7 L919,3368 L922,3368.2 L925,3368.5 L928,3368.8 L931,3369 L934,3369.3 L937,3369.5 L940,3369.7 L943,3369.8 L946,3370 L949,3370.2 L952,3370.4 L955,3370.5 L958,3370.7 L961,3370.9 L964,3371 L967,3371.2 L970,3371.3 L973,3371.5 L976,3371.6 L979,3371.8 L982,3371.9 L985,3372.1 L988,3372.2 L991,3372.3 L994,3372.5 L997,3372.6 L1000,3372.7 L1003,3372.9 L1006,3373 L1009,3373.1 L1012,3373.2 L1015,3373.4 L1018,3373.5 L1021,3373.6 L1024,3373.7 L1027,3373.8 L1030,3373.9 L1033,3374 L1036,3374.1 L1039,3374.2 L1042,3374.3 L1045,3374.4 L1048,3374.5 L1051,3374.6 L1054,3374.7 L1057,3374.8 L1060,3374.9 L1063,3375 L1066,3375.1 L1069,3375.2 L1072,3375.3 L1075,3375.4 L1078,3375.5 L1081,3375.6 L1084,3375.7 L1087,3375.7 L1090,3375.8 L1093,3375.9 L1096,3376 L1099,3376.1 L1102,3376.2 L1105,3376.2 L1108,3376.3 L1111,3376.4 L1114,3376.5 L1117,3376.5 L1120,3376.6 L1123,3376.7 L1126,3376.8 L1129,3376.8 L1132,3376.9 L1135,3377 L1138,3377.1 L1141,3377.1 L1142,3382.5 L205,3358.6 Z" fill="#3d6e1e"/></g><g clip-path="url(#cp5)"><g clip-path="url(#cp6)"><path d="M205,3356.8 L208,3356.9 L211,3357 L214,3357 L217,3357.1 L220,3357.2 L223,3357.2 L226,3357.3 L229,3357.4 L232,3357.5 L235,3357.5 L238,3357.6 L241,3357.7 L244,3357.7 L247,3357.8 L250,3357.9 L253,3358 L256,3358 L259,3358.1 L262,3358.2 L265,3358.2 L268,3358.3 L271,3358.4 L274,3358.5 L277,3358.5 L280,3358.6 L283,3358.7 L286,3358.7 L289,3358.8 L292,3358.9 L295,3358.9 L298,3359 L301,3359.1 L304,3359.2 L307,3359.2 L310,3359.3 L313,3359.4 L316,3359.4 L319,3359.5 L322,3359.6 L325,3359.6 L328,3359.7 L331,3359.8 L334,3359.8 L337,3359.9 L340,3360 L343,3360.1 L346,3360.1 L349,3360.2 L352,3360.3 L355,3360.3 L358,3360.4 L361,3360.5 L364,3360.5 L367,3360.6 L370,3360.7 L373,3360.7 L376,3360.8 L379,3360.9 L382,3360.9 L385,3361 L388,3361 L391,3361.1 L394,3361.2 L397,3361.2 L400,3361.3 L403,3361.4 L406,3361.5 L409,3361.5 L412,3361.6 L415,3361.7 L418,3361.8 L421,3361.8 L424,3361.9 L427,3362 L430,3362 L433,3362.1 L436,3362.2 L439,3362.2 L442,3362.3 L445,3362.4 L448,3362.4 L451,3362.5 L454,3362.5 L457,3362.6 L460,3362.6 L463,3362.7 L466,3362.7 L469,3362.8 L472,3362.8 L475,3362.8 L478,3362.8 L481,3362.8 L484,3362.8 L487,3362.8 L490,3362.7 L493,3362.7 L496,3362.6 L499,3362.5 L502,3362.4 L505,3362.3 L508,3362.1 L511,3361.9 L514,3361.7 L517,3361.5 L520,3361.2 L523,3360.8 L526,3360.4 L529,3360 L532,3359.5 L535,3358.9 L538,3358.3 L541,3357.5 L544,3356.7 L547,3355.9 L550,3354.9 L553,3353.8 L556,3352.6 L559,3351.3 L562,3349.9 L565,3348.3 L568,3346.6 L571,3344.7 L574,3342.7 L577,3340.5 L580,3338.2 L583,3335.7 L586,3333 L589,3330.1 L592,3327 L595,3323.7 L598,3320.2 L601,3316.5 L604,3312.6 L607,3308.5 L610,3304.2 L613,3299.7 L616,3294.9 L619,3290 L622,3284.9 L625,3279.6 L628,3274.1 L631,3268.5 L634,3262.6 L637,3256.7 L640,3250.6 L643,3244.4 L646,3238.1 L649,3231.8 L652,3225.4 L655,3219 L658,3212.5 L661,3206.1 L664,3199.8 L667,3193.5 L670,3187.3 L673,3181.3 L676,3175.5 L679,3169.8 L682,3164.3 L685,3159.2 L688,3154.3 L691,3149.7 L694,3145.4 L697,3141.5 L700,3138 L703,3134.9 L706,3132.2 L709,3130 L712,3128.2 L715,3126.9 L718,3126.1 L721,3125.8 L724,3126 L727,3126.8 L730,3128.1 L733,3130.1 L736,3132.6 L739,3135.7 L742,3139.4 L745,3143.5 L748,3148.1 L751,3153.2 L754,3158.6 L757,3164.4 L760,3170.6 L763,3177 L766,3183.7 L769,3190.7 L772,3197.7 L775,3204.9 L778,3212.2 L781,3219.6 L784,3227 L787,3234.3 L790,3241.6 L793,3248.8 L796,3255.9 L799,3262.9 L802,3269.7 L805,3276.4 L808,3282.8 L811,3289 L814,3295 L817,3300.7 L820,3306.2 L823,3311.5 L826,3316.5 L829,3321.2 L832,3325.7 L835,3329.9 L838,3333.8 L841,3337.5 L844,3341 L847,3344.3 L850,3347.3 L853,3350 L856,3352.6 L859,3355 L862,3357.2 L865,3359.2 L868,3361 L871,3362.7 L874,3364.3 L877,3365.7 L880,3366.9 L883,3368.1 L886,3369.2 L889,3370.1 L892,3371 L895,3371.7 L898,3372.5 L901,3373.1 L904,3373.7 L907,3374.2 L910,3374.7 L913,3375.1 L916,3375.5 L919,3375.8 L922,3376.1 L925,3376.4 L928,3376.7 L931,3376.9 L934,3377.2 L937,3377.3 L940,3377.5 L943,3377.6 L946,3377.7 L949,3377.8 L952,3377.9 L955,3378 L958,3378.1 L961,3378.1 L964,3378.2 L967,3378.3 L970,3378.3 L973,3378.4 L976,3378.5 L979,3378.5 L982,3378.6 L985,3378.6 L988,3378.7 L991,3378.7 L994,3378.8 L997,3378.8 L1000,3378.9 L1003,3378.9 L1006,3378.9 L1009,3379 L1012,3379 L1015,3379.1 L1018,3379.1 L1021,3379.2 L1024,3379.2 L1027,3379.2 L1030,3379.3 L1033,3379.3 L1036,3379.4 L1039,3379.4 L1042,3379.4 L1045,3379.5 L1048,3379.5 L1051,3379.6 L1054,3379.6 L1057,3379.6 L1060,3379.7 L1063,3379.7 L1066,3379.7 L1069,3379.8 L1072,3379.8 L1075,3379.9 L1078,3379.9 L1081,3379.9 L1084,3380 L1087,3380 L1090,3380 L1093,3380.1 L1096,3380.1 L1099,3380.1 L1102,3380.2 L1105,3380.2 L1108,3380.2 L1111,3380.3 L1114,3380.3 L1117,3380.3 L1120,3380.4 L1123,3380.4 L1126,3380.4 L1129,3380.5 L1132,3380.5 L1135,3380.5 L1138,3380.6 L1141,3380.6 L1142,3382.5 L205,3358.6 Z" fill="#5e8a28"/></g></g><g clip-path="url(#cp6)"><g clip-path="url(#cp7)"><path d="M205,3350.1 L208,3350.1 L211,3350 L214,3350 L217,3350 L220,3350 L223,3349.9 L226,3349.9 L229,3349.8 L232,3349.8 L235,3349.8 L238,3349.7 L241,3349.7 L244,3349.6 L247,3349.5 L250,3349.5 L253,3349.4 L256,3349.4 L259,3349.3 L262,3349.2 L265,3349.1 L268,3349.1 L271,3349 L274,3348.9 L277,3348.8 L280,3348.7 L283,3348.6 L286,3348.5 L289,3348.4 L292,3348.3 L295,3348.2 L298,3348.1 L301,3347.9 L304,3347.8 L307,3347.7 L310,3347.5 L313,3347.4 L316,3347.2 L319,3347.1 L322,3346.9 L325,3346.7 L328,3346.5 L331,3346.4 L334,3346.2 L337,3346 L340,3345.7 L343,3345.5 L346,3345.3 L349,3345.1 L352,3344.8 L355,3344.6 L358,3344.3 L361,3344 L364,3343.7 L367,3343.4 L370,3343.1 L373,3342.8 L376,3342.5 L379,3342.1 L382,3341.8 L385,3341.4 L388,3341 L391,3340.6 L394,3340.2 L397,3339.8 L400,3339.3 L403,3338.9 L406,3338.4 L409,3337.9 L412,3337.4 L415,3336.9 L418,3336.4 L421,3335.8 L424,3335.2 L427,3334.6 L430,3334 L433,3333.3 L436,3332.6 L439,3331.9 L442,3331.1 L445,3330.3 L448,3329.5 L451,3328.7 L454,3327.8 L457,3326.9 L460,3326 L463,3325 L466,3324 L469,3322.9 L472,3321.8 L475,3320.7 L478,3319.5 L481,3318.2 L484,3316.9 L487,3315.6 L490,3314.2 L493,3312.8 L496,3311.3 L499,3309.8 L502,3308.2 L505,3306.5 L508,3304.8 L511,3303.1 L514,3301.3 L517,3299.4 L520,3297.5 L523,3295.5 L526,3293.5 L529,3291.5 L532,3289.3 L535,3287.2 L538,3285 L541,3282.8 L544,3280.5 L547,3278.3 L550,3276 L553,3273.7 L556,3271.4 L559,3269.2 L562,3267 L565,3264.8 L568,3262.7 L571,3260.6 L574,3258.7 L577,3256.8 L580,3255.1 L583,3253.5 L586,3252 L589,3250.7 L592,3249.6 L595,3248.6 L598,3247.9 L601,3247.3 L604,3247 L607,3246.9 L610,3247.1 L613,3247.4 L616,3248 L619,3248.9 L622,3249.9 L625,3251.2 L628,3252.6 L631,3254.2 L634,3256 L637,3258 L640,3260.1 L643,3262.3 L646,3264.5 L649,3266.9 L652,3269.4 L655,3271.9 L658,3274.4 L661,3276.9 L664,3279.5 L667,3282.1 L670,3284.6 L673,3287.2 L676,3289.7 L679,3292.1 L682,3294.6 L685,3296.9 L688,3299.3 L691,3301.6 L694,3303.8 L697,3305.9 L700,3308.1 L703,3310.1 L706,3312.1 L709,3314 L712,3315.9 L715,3317.7 L718,3319.5 L721,3321.2 L724,3322.9 L727,3324.5 L730,3326 L733,3327.5 L736,3328.9 L739,3330.3 L742,3331.7 L745,3333 L748,3334.2 L751,3335.5 L754,3336.6 L757,3337.8 L760,3338.9 L763,3340 L766,3341 L769,3342 L772,3343 L775,3343.9 L778,3344.8 L781,3345.7 L784,3346.5 L787,3347.4 L790,3348.2 L793,3348.9 L796,3349.7 L799,3350.4 L802,3351.1 L805,3351.8 L808,3352.4 L811,3353.1 L814,3353.7 L817,3354.3 L820,3354.9 L823,3355.5 L826,3356 L829,3356.5 L832,3357.1 L835,3357.6 L838,3358.1 L841,3358.6 L844,3359 L847,3359.5 L850,3359.9 L853,3360.4 L856,3360.8 L859,3361.2 L862,3361.6 L865,3362 L868,3362.4 L871,3362.8 L874,3363.2 L877,3363.5 L880,3363.9 L883,3364.3 L886,3364.6 L889,3364.9 L892,3365.3 L895,3365.6 L898,3365.9 L901,3366.2 L904,3366.5 L907,3366.8 L910,3367.1 L913,3367.4 L916,3367.7 L919,3368 L922,3368.2 L925,3368.5 L928,3368.8 L931,3369 L934,3369.3 L937,3369.5 L940,3369.7 L943,3369.8 L946,3370 L949,3370.2 L952,3370.4 L955,3370.5 L958,3370.7 L961,3370.9 L964,3371 L967,3371.2 L970,3371.3 L973,3371.5 L976,3371.6 L979,3371.8 L982,3371.9 L985,3372.1 L988,3372.2 L991,3372.3 L994,3372.5 L997,3372.6 L1000,3372.7 L1003,3372.9 L1006,3373 L1009,3373.1 L1012,3373.2 L1015,3373.4 L1018,3373.5 L1021,3373.6 L1024,3373.7 L1027,3373.8 L1030,3373.9 L1033,3374 L1036,3374.1 L1039,3374.2 L1042,3374.3 L1045,3374.4 L1048,3374.5 L1051,3374.6 L1054,3374.7 L1057,3374.8 L1060,3374.9 L1063,3375 L1066,3375.1 L1069,3375.2 L1072,3375.3 L1075,3375.4 L1078,3375.5 L1081,3375.6 L1084,3375.7 L1087,3375.7 L1090,3375.8 L1093,3375.9 L1096,3376 L1099,3376.1 L1102,3376.2 L1105,3376.2 L1108,3376.3 L1111,3376.4 L1114,3376.5 L1117,3376.5 L1120,3376.6 L1123,3376.7 L1126,3376.8 L1129,3376.8 L1132,3376.9 L1135,3377 L1138,3377.1 L1141,3377.1 L1142,3382.5 L205,3358.6 Z" fill="#156a0d"/></g></g><path d="M205,3356.7 L208,3356.7 L211,3356.8 L214,3356.9 L217,3356.9 L220,3357 L223,3357.1 L226,3357.2 L229,3357.2 L232,3357.3 L235,3357.4 L238,3357.4 L241,3357.5 L244,3357.6 L247,3357.7 L250,3357.7 L253,3357.8 L256,3357.9 L259,3357.9 L262,3358 L265,3358.1 L268,3358.2 L271,3358.2 L274,3358.3 L277,3358.4 L280,3358.4 L283,3358.5 L286,3358.6 L289,3358.6 L292,3358.7 L295,3358.8 L298,3358.9 L301,3358.9 L304,3359 L307,3359.1 L310,3359.1 L313,3359.2 L316,3359.3 L319,3359.3 L322,3359.4 L325,3359.5 L328,3359.5 L331,3359.6 L334,3359.7 L337,3359.8 L340,3359.8 L343,3359.9 L346,3360 L349,3360 L352,3360.1 L355,3360.2 L358,3360.2 L361,3360.3 L364,3360.4 L367,3360.4 L370,3360.5 L373,3360.6 L376,3360.6 L379,3360.7 L382,3360.8 L385,3360.8 L388,3360.9 L391,3361 L394,3361 L397,3361.1 L400,3361.2 L403,3361.2 L406,3361.3 L409,3361.4 L412,3361.5 L415,3361.6 L418,3361.6 L421,3361.7 L424,3361.8 L427,3361.9 L430,3361.9 L433,3362 L436,3362.1 L439,3362.2 L442,3362.3 L445,3362.3 L448,3362.4 L451,3362.5 L454,3362.6 L457,3362.6 L460,3362.7 L463,3362.8 L466,3362.9 L469,3362.9 L472,3363 L475,3363.1 L478,3363.2 L481,3363.2 L484,3363.3 L487,3363.4 L490,3363.4 L493,3363.5 L496,3363.6 L499,3363.7 L502,3363.7 L505,3363.8 L508,3363.9 L511,3363.9 L514,3364 L517,3364.1 L520,3364.1 L523,3364.2 L526,3364.3 L529,3364.3 L532,3364.4 L535,3364.5 L538,3364.5 L541,3364.6 L544,3364.6 L547,3364.7 L550,3364.8 L553,3364.8 L556,3364.9 L559,3364.9 L562,3365 L565,3365.1 L568,3365.1 L571,3365.2 L574,3365.2 L577,3365.3 L580,3365.3 L583,3365.4 L586,3365.4 L589,3365.5 L592,3365.5 L595,3365.6 L598,3365.6 L601,3365.6 L604,3365.7 L607,3365.8 L610,3365.8 L613,3365.9 L616,3365.9 L619,3366 L622,3366 L625,3366 L628,3366.1 L631,3366.1 L634,3366.2 L637,3366.2 L640,3366.2 L643,3366.2 L646,3366.3 L649,3366.3 L652,3366.3 L655,3366.3 L658,3366.3 L661,3366.3 L664,3366.3 L667,3366.3 L670,3366.2 L673,3366.2 L676,3366.1 L679,3366.1 L682,3366 L685,3365.9 L688,3365.8 L691,3365.7 L694,3365.6 L697,3365.4 L700,3365.2 L703,3365 L706,3364.8 L709,3364.5 L712,3364.2 L715,3363.9 L718,3363.5 L721,3363.1 L724,3362.6 L727,3362.1 L730,3361.5 L733,3360.9 L736,3360.2 L739,3359.4 L742,3358.6 L745,3357.7 L748,3356.7 L751,3355.6 L754,3354.5 L757,3353.2 L760,3351.8 L763,3350.4 L766,3348.8 L769,3347.1 L772,3345.3 L775,3343.4 L778,3341.4 L781,3339.3 L784,3337.1 L787,3334.7 L790,3332.2 L793,3329.6 L796,3326.9 L799,3324.1 L802,3321.2 L805,3318.2 L808,3315.1 L811,3312 L814,3308.7 L817,3305.4 L820,3302.1 L823,3298.7 L826,3295.4 L829,3292 L832,3288.6 L835,3285.3 L838,3282 L841,3278.8 L844,3275.8 L847,3272.8 L850,3270 L853,3267.3 L856,3264.9 L859,3262.7 L862,3260.7 L865,3259 L868,3257.6 L871,3256.4 L874,3255.6 L877,3255.2 L880,3255.1 L883,3255.2 L886,3255.7 L889,3256.4 L892,3257.4 L895,3258.7 L898,3260.2 L901,3261.9 L904,3263.9 L907,3266 L910,3268.4 L913,3270.9 L916,3273.5 L919,3276.3 L922,3279.2 L925,3282.1 L928,3285.2 L931,3288.3 L934,3291.5 L937,3294.6 L940,3297.8 L943,3300.9 L946,3304.1 L949,3307.2 L952,3310.3 L955,3313.4 L958,3316.4 L961,3319.3 L964,3322.2 L967,3325 L970,3327.8 L973,3330.5 L976,3333.1 L979,3335.6 L982,3338 L985,3340.3 L988,3342.5 L991,3344.6 L994,3346.7 L997,3348.6 L1000,3350.5 L1003,3352.3 L1006,3353.9 L1009,3355.5 L1012,3357 L1015,3358.4 L1018,3359.7 L1021,3361 L1024,3362.2 L1027,3363.3 L1030,3364.3 L1033,3365.3 L1036,3366.2 L1039,3367 L1042,3367.8 L1045,3368.5 L1048,3369.2 L1051,3369.8 L1054,3370.4 L1057,3371 L1060,3371.5 L1063,3371.9 L1066,3372.4 L1069,3372.8 L1072,3373.2 L1075,3373.5 L1078,3373.8 L1081,3374.1 L1084,3374.4 L1087,3374.7 L1090,3374.9 L1093,3375.2 L1096,3375.4 L1099,3375.6 L1102,3375.8 L1105,3376 L1108,3376.2 L1111,3376.3 L1114,3376.5 L1117,3376.6 L1120,3376.8 L1123,3376.9 L1126,3377 L1129,3377.2 L1132,3377.3 L1135,3377.4 L1138,3377.5 L1141,3377.6" fill="none" stroke="#5c3a0a" stroke-width="5.5" stroke-linejoin="round"/><path d="M205,3356.8 L208,3356.9 L211,3356.9 L214,3357 L217,3357.1 L220,3357.1 L223,3357.2 L226,3357.3 L229,3357.4 L232,3357.4 L235,3357.5 L238,3357.6 L241,3357.6 L244,3357.7 L247,3357.8 L250,3357.9 L253,3357.9 L256,3358 L259,3358.1 L262,3358.1 L265,3358.2 L268,3358.3 L271,3358.4 L274,3358.4 L277,3358.5 L280,3358.6 L283,3358.6 L286,3358.7 L289,3358.8 L292,3358.9 L295,3358.9 L298,3359 L301,3359.1 L304,3359.1 L307,3359.2 L310,3359.3 L313,3359.3 L316,3359.4 L319,3359.5 L322,3359.6 L325,3359.6 L328,3359.7 L331,3359.8 L334,3359.8 L337,3359.9 L340,3360 L343,3360 L346,3360.1 L349,3360.2 L352,3360.2 L355,3360.3 L358,3360.4 L361,3360.4 L364,3360.5 L367,3360.6 L370,3360.6 L373,3360.7 L376,3360.8 L379,3360.8 L382,3360.9 L385,3361 L388,3361 L391,3361.1 L394,3361.2 L397,3361.2 L400,3361.3 L403,3361.4 L406,3361.5 L409,3361.5 L412,3361.6 L415,3361.7 L418,3361.8 L421,3361.9 L424,3361.9 L427,3362 L430,3362.1 L433,3362.2 L436,3362.2 L439,3362.3 L442,3362.4 L445,3362.5 L448,3362.5 L451,3362.6 L454,3362.7 L457,3362.8 L460,3362.8 L463,3362.9 L466,3363 L469,3363.1 L472,3363.1 L475,3363.2 L478,3363.3 L481,3363.3 L484,3363.4 L487,3363.5 L490,3363.5 L493,3363.6 L496,3363.7 L499,3363.7 L502,3363.8 L505,3363.9 L508,3363.9 L511,3364 L514,3364.1 L517,3364.1 L520,3364.2 L523,3364.2 L526,3364.3 L529,3364.4 L532,3364.4 L535,3364.5 L538,3364.5 L541,3364.6 L544,3364.6 L547,3364.7 L550,3364.7 L553,3364.8 L556,3364.8 L559,3364.9 L562,3364.9 L565,3364.9 L568,3365 L571,3365 L574,3365.1 L577,3365.1 L580,3365.1 L583,3365.1 L586,3365.2 L589,3365.2 L592,3365.2 L595,3365.2 L598,3365.2 L601,3365.2 L604,3365.2 L607,3365.1 L610,3365.1 L613,3365.1 L616,3365 L619,3364.9 L622,3364.8 L625,3364.6 L628,3364.5 L631,3364.2 L634,3363.9 L637,3363.6 L640,3363.2 L643,3362.6 L646,3362 L649,3361.3 L652,3360.4 L655,3359.4 L658,3358.2 L661,3356.8 L664,3355.1 L667,3353.2 L670,3351 L673,3348.5 L676,3345.6 L679,3342.3 L682,3338.6 L685,3334.4 L688,3329.6 L691,3324.4 L694,3318.5 L697,3312 L700,3304.9 L703,3297.1 L706,3288.6 L709,3279.4 L712,3269.5 L715,3258.8 L718,3247.5 L721,3235.5 L724,3222.8 L727,3209.5 L730,3195.7 L733,3181.4 L736,3166.8 L739,3151.8 L742,3136.6 L745,3121.4 L748,3106.1 L751,3091.1 L754,3076.4 L757,3062.2 L760,3048.6 L763,3035.7 L766,3023.8 L769,3013 L772,3003.3 L775,2995 L778,2988.2 L781,2983 L784,2979.3 L787,2977.4 L790,2977.1 L793,2977.9 L796,2979.6 L799,2982.1 L802,2985.3 L805,2989.4 L808,2994.2 L811,2999.7 L814,3005.9 L817,3012.8 L820,3020.3 L823,3028.3 L826,3036.8 L829,3045.8 L832,3055.2 L835,3065 L838,3075 L841,3085.3 L844,3095.8 L847,3106.4 L850,3117.2 L853,3128 L856,3138.8 L859,3149.6 L862,3160.3 L865,3170.8 L868,3181.3 L871,3191.6 L874,3201.6 L877,3211.4 L880,3221 L883,3230.3 L886,3239.3 L889,3247.9 L892,3256.3 L895,3264.3 L898,3272 L901,3279.3 L904,3286.3 L907,3292.9 L910,3299.2 L913,3305.2 L916,3310.8 L919,3316 L922,3321 L925,3325.6 L928,3330 L931,3334 L934,3337.8 L937,3341.2 L940,3344.4 L943,3347.3 L946,3350 L949,3352.5 L952,3354.8 L955,3356.9 L958,3358.8 L961,3360.6 L964,3362.2 L967,3363.7 L970,3365 L973,3366.2 L976,3367.3 L979,3368.3 L982,3369.2 L985,3370 L988,3370.7 L991,3371.4 L994,3372 L997,3372.5 L1000,3373 L1003,3373.5 L1006,3373.9 L1009,3374.2 L1012,3374.6 L1015,3374.9 L1018,3375.1 L1021,3375.4 L1024,3375.6 L1027,3375.8 L1030,3376 L1033,3376.2 L1036,3376.4 L1039,3376.5 L1042,3376.7 L1045,3376.8 L1048,3376.9 L1051,3377 L1054,3377.1 L1057,3377.3 L1060,3377.4 L1063,3377.5 L1066,3377.5 L1069,3377.6 L1072,3377.7 L1075,3377.8 L1078,3377.9 L1081,3378 L1084,3378.1 L1087,3378.1 L1090,3378.2 L1093,3378.3 L1096,3378.3 L1099,3378.4 L1102,3378.5 L1105,3378.5 L1108,3378.6 L1111,3378.7 L1114,3378.7 L1117,3378.8 L1120,3378.9 L1123,3378.9 L1126,3379 L1129,3379 L1132,3379.1 L1135,3379.2 L1138,3379.2 L1141,3379.3" fill="none" stroke="#c0651a" stroke-width="5.5" stroke-linejoin="round"/><path d="M205,3356.8 L208,3356.9 L211,3357 L214,3357 L217,3357.1 L220,3357.2 L223,3357.2 L226,3357.3 L229,3357.4 L232,3357.5 L235,3357.5 L238,3357.6 L241,3357.7 L244,3357.7 L247,3357.8 L250,3357.9 L253,3358 L256,3358 L259,3358.1 L262,3358.2 L265,3358.2 L268,3358.3 L271,3358.4 L274,3358.5 L277,3358.5 L280,3358.6 L283,3358.7 L286,3358.7 L289,3358.8 L292,3358.9 L295,3358.9 L298,3359 L301,3359.1 L304,3359.2 L307,3359.2 L310,3359.3 L313,3359.4 L316,3359.4 L319,3359.5 L322,3359.6 L325,3359.6 L328,3359.7 L331,3359.8 L334,3359.8 L337,3359.9 L340,3360 L343,3360.1 L346,3360.1 L349,3360.2 L352,3360.3 L355,3360.3 L358,3360.4 L361,3360.5 L364,3360.5 L367,3360.6 L370,3360.7 L373,3360.7 L376,3360.8 L379,3360.9 L382,3360.9 L385,3361 L388,3361 L391,3361.1 L394,3361.2 L397,3361.2 L400,3361.3 L403,3361.4 L406,3361.5 L409,3361.5 L412,3361.6 L415,3361.7 L418,3361.8 L421,3361.8 L424,3361.9 L427,3362 L430,3362 L433,3362.1 L436,3362.2 L439,3362.2 L442,3362.3 L445,3362.4 L448,3362.4 L451,3362.5 L454,3362.5 L457,3362.6 L460,3362.6 L463,3362.7 L466,3362.7 L469,3362.8 L472,3362.8 L475,3362.8 L478,3362.8 L481,3362.8 L484,3362.8 L487,3362.8 L490,3362.7 L493,3362.7 L496,3362.6 L499,3362.5 L502,3362.4 L505,3362.3 L508,3362.1 L511,3361.9 L514,3361.7 L517,3361.5 L520,3361.2 L523,3360.8 L526,3360.4 L529,3360 L532,3359.5 L535,3358.9 L538,3358.3 L541,3357.5 L544,3356.7 L547,3355.9 L550,3354.9 L553,3353.8 L556,3352.6 L559,3351.3 L562,3349.9 L565,3348.3 L568,3346.6 L571,3344.7 L574,3342.7 L577,3340.5 L580,3338.2 L583,3335.7 L586,3333 L589,3330.1 L592,3327 L595,3323.7 L598,3320.2 L601,3316.5 L604,3312.6 L607,3308.5 L610,3304.2 L613,3299.7 L616,3294.9 L619,3290 L622,3284.9 L625,3279.6 L628,3274.1 L631,3268.5 L634,3262.6 L637,3256.7 L640,3250.6 L643,3244.4 L646,3238.1 L649,3231.8 L652,3225.4 L655,3219 L658,3212.5 L661,3206.1 L664,3199.8 L667,3193.5 L670,3187.3 L673,3181.3 L676,3175.5 L679,3169.8 L682,3164.3 L685,3159.2 L688,3154.3 L691,3149.7 L694,3145.4 L697,3141.5 L700,3138 L703,3134.9 L706,3132.2 L709,3130 L712,3128.2 L715,3126.9 L718,3126.1 L721,3125.8 L724,3126 L727,3126.8 L730,3128.1 L733,3130.1 L736,3132.6 L739,3135.7 L742,3139.4 L745,3143.5 L748,3148.1 L751,3153.2 L754,3158.6 L757,3164.4 L760,3170.6 L763,3177 L766,3183.7 L769,3190.7 L772,3197.7 L775,3204.9 L778,3212.2 L781,3219.6 L784,3227 L787,3234.3 L790,3241.6 L793,3248.8 L796,3255.9 L799,3262.9 L802,3269.7 L805,3276.4 L808,3282.8 L811,3289 L814,3295 L817,3300.7 L820,3306.2 L823,3311.5 L826,3316.5 L829,3321.2 L832,3325.7 L835,3329.9 L838,3333.8 L841,3337.5 L844,3341 L847,3344.3 L850,3347.3 L853,3350 L856,3352.6 L859,3355 L862,3357.2 L865,3359.2 L868,3361 L871,3362.7 L874,3364.3 L877,3365.7 L880,3366.9 L883,3368.1 L886,3369.2 L889,3370.1 L892,3371 L895,3371.7 L898,3372.5 L901,3373.1 L904,3373.7 L907,3374.2 L910,3374.7 L913,3375.1 L916,3375.5 L919,3375.8 L922,3376.1 L925,3376.4 L928,3376.7 L931,3376.9 L934,3377.2 L937,3377.3 L940,3377.5 L943,3377.6 L946,3377.7 L949,3377.8 L952,3377.9 L955,3378 L958,3378.1 L961,3378.1 L964,3378.2 L967,3378.3 L970,3378.3 L973,3378.4 L976,3378.5 L979,3378.5 L982,3378.6 L985,3378.6 L988,3378.7 L991,3378.7 L994,3378.8 L997,3378.8 L1000,3378.9 L1003,3378.9 L1006,3378.9 L1009,3379 L1012,3379 L1015,3379.1 L1018,3379.1 L1021,3379.2 L1024,3379.2 L1027,3379.2 L1030,3379.3 L1033,3379.3 L1036,3379.4 L1039,3379.4 L1042,3379.4 L1045,3379.5 L1048,3379.5 L1051,3379.6 L1054,3379.6 L1057,3379.6 L1060,3379.7 L1063,3379.7 L1066,3379.7 L1069,3379.8 L1072,3379.8 L1075,3379.9 L1078,3379.9 L1081,3379.9 L1084,3380 L1087,3380 L1090,3380 L1093,3380.1 L1096,3380.1 L1099,3380.1 L1102,3380.2 L1105,3380.2 L1108,3380.2 L1111,3380.3 L1114,3380.3 L1117,3380.3 L1120,3380.4 L1123,3380.4 L1126,3380.4 L1129,3380.5 L1132,3380.5 L1135,3380.5 L1138,3380.6 L1141,3380.6" fill="none" stroke="#4e9a2e" stroke-width="5.5" stroke-linejoin="round"/><path d="M205,3350.1 L208,3350.1 L211,3350 L214,3350 L217,3350 L220,3350 L223,3349.9 L226,3349.9 L229,3349.8 L232,3349.8 L235,3349.8 L238,3349.7 L241,3349.7 L244,3349.6 L247,3349.5 L250,3349.5 L253,3349.4 L256,3349.4 L259,3349.3 L262,3349.2 L265,3349.1 L268,3349.1 L271,3349 L274,3348.9 L277,3348.8 L280,3348.7 L283,3348.6 L286,3348.5 L289,3348.4 L292,3348.3 L295,3348.2 L298,3348.1 L301,3347.9 L304,3347.8 L307,3347.7 L310,3347.5 L313,3347.4 L316,3347.2 L319,3347.1 L322,3346.9 L325,3346.7 L328,3346.5 L331,3346.4 L334,3346.2 L337,3346 L340,3345.7 L343,3345.5 L346,3345.3 L349,3345.1 L352,3344.8 L355,3344.6 L358,3344.3 L361,3344 L364,3343.7 L367,3343.4 L370,3343.1 L373,3342.8 L376,3342.5 L379,3342.1 L382,3341.8 L385,3341.4 L388,3341 L391,3340.6 L394,3340.2 L397,3339.8 L400,3339.3 L403,3338.9 L406,3338.4 L409,3337.9 L412,3337.4 L415,3336.9 L418,3336.4 L421,3335.8 L424,3335.2 L427,3334.6 L430,3334 L433,3333.3 L436,3332.6 L439,3331.9 L442,3331.1 L445,3330.3 L448,3329.5 L451,3328.7 L454,3327.8 L457,3326.9 L460,3326 L463,3325 L466,3324 L469,3322.9 L472,3321.8 L475,3320.7 L478,3319.5 L481,3318.2 L484,3316.9 L487,3315.6 L490,3314.2 L493,3312.8 L496,3311.3 L499,3309.8 L502,3308.2 L505,3306.5 L508,3304.8 L511,3303.1 L514,3301.3 L517,3299.4 L520,3297.5 L523,3295.5 L526,3293.5 L529,3291.5 L532,3289.3 L535,3287.2 L538,3285 L541,3282.8 L544,3280.5 L547,3278.3 L550,3276 L553,3273.7 L556,3271.4 L559,3269.2 L562,3267 L565,3264.8 L568,3262.7 L571,3260.6 L574,3258.7 L577,3256.8 L580,3255.1 L583,3253.5 L586,3252 L589,3250.7 L592,3249.6 L595,3248.6 L598,3247.9 L601,3247.3 L604,3247 L607,3246.9 L610,3247.1 L613,3247.4 L616,3248 L619,3248.9 L622,3249.9 L625,3251.2 L628,3252.6 L631,3254.2 L634,3256 L637,3258 L640,3260.1 L643,3262.3 L646,3264.5 L649,3266.9 L652,3269.4 L655,3271.9 L658,3274.4 L661,3276.9 L664,3279.5 L667,3282.1 L670,3284.6 L673,3287.2 L676,3289.7 L679,3292.1 L682,3294.6 L685,3296.9 L688,3299.3 L691,3301.6 L694,3303.8 L697,3305.9 L700,3308.1 L703,3310.1 L706,3312.1 L709,3314 L712,3315.9 L715,3317.7 L718,3319.5 L721,3321.2 L724,3322.9 L727,3324.5 L730,3326 L733,3327.5 L736,3328.9 L739,3330.3 L742,3331.7 L745,3333 L748,3334.2 L751,3335.5 L754,3336.6 L757,3337.8 L760,3338.9 L763,3340 L766,3341 L769,3342 L772,3343 L775,3343.9 L778,3344.8 L781,3345.7 L784,3346.5 L787,3347.4 L790,3348.2 L793,3348.9 L796,3349.7 L799,3350.4 L802,3351.1 L805,3351.8 L808,3352.4 L811,3353.1 L814,3353.7 L817,3354.3 L820,3354.9 L823,3355.5 L826,3356 L829,3356.5 L832,3357.1 L835,3357.6 L838,3358.1 L841,3358.6 L844,3359 L847,3359.5 L850,3359.9 L853,3360.4 L856,3360.8 L859,3361.2 L862,3361.6 L865,3362 L868,3362.4 L871,3362.8 L874,3363.2 L877,3363.5 L880,3363.9 L883,3364.3 L886,3364.6 L889,3364.9 L892,3365.3 L895,3365.6 L898,3365.9 L901,3366.2 L904,3366.5 L907,3366.8 L910,3367.1 L913,3367.4 L916,3367.7 L919,3368 L922,3368.2 L925,3368.5 L928,3368.8 L931,3369 L934,3369.3 L937,3369.5 L940,3369.7 L943,3369.8 L946,3370 L949,3370.2 L952,3370.4 L955,3370.5 L958,3370.7 L961,3370.9 L964,3371 L967,3371.2 L970,3371.3 L973,3371.5 L976,3371.6 L979,3371.8 L982,3371.9 L985,3372.1 L988,3372.2 L991,3372.3 L994,3372.5 L997,3372.6 L1000,3372.7 L1003,3372.9 L1006,3373 L1009,3373.1 L1012,3373.2 L1015,3373.4 L1018,3373.5 L1021,3373.6 L1024,3373.7 L1027,3373.8 L1030,3373.9 L1033,3374 L1036,3374.1 L1039,3374.2 L1042,3374.3 L1045,3374.4 L1048,3374.5 L1051,3374.6 L1054,3374.7 L1057,3374.8 L1060,3374.9 L1063,3375 L1066,3375.1 L1069,3375.2 L1072,3375.3 L1075,3375.4 L1078,3375.5 L1081,3375.6 L1084,3375.7 L1087,3375.7 L1090,3375.8 L1093,3375.9 L1096,3376 L1099,3376.1 L1102,3376.2 L1105,3376.2 L1108,3376.3 L1111,3376.4 L1114,3376.5 L1117,3376.5 L1120,3376.6 L1123,3376.7 L1126,3376.8 L1129,3376.8 L1132,3376.9 L1135,3377 L1138,3377.1 L1141,3377.1" fill="none" stroke="#0c6a0c" stroke-width="5.5" stroke-linejoin="round"/><polyline points="205,3358.6 211,3358.7 217,3358.9 223,3359 229,3359.2 235,3359.3 241,3359.5 247,3359.6 253,3359.8 259,3359.9 265,3360.1 271,3360.3 277,3360.4 283,3360.6 289,3360.7 295,3360.9 301,3361 307,3361.2 313,3361.3 319,3361.5 325,3361.6 331,3361.8 337,3361.9 343,3362.1 349,3362.2 355,3362.4 361,3362.5 367,3362.7 373,3362.8 379,3363 385,3363.1 391,3363.3 397,3363.4 403,3363.6 409,3363.8 415,3363.9 421,3364.1 427,3364.3 433,3364.5 439,3364.7 445,3364.8 451,3365 457,3365.2 463,3365.4 469,3365.6 475,3365.8 481,3365.9 487,3366.1 493,3366.3 499,3366.5 505,3366.7 511,3366.8 517,3367 523,3367.2 529,3367.4 535,3367.6 541,3367.7 547,3367.9 553,3368.1 559,3368.3 565,3368.4 571,3368.6 577,3368.8 583,3369 589,3369.2 595,3369.3 601,3369.5 607,3369.7 613,3370 619,3370.2 625,3370.4 631,3370.6 637,3370.8 643,3371 649,3371.2 655,3371.4 661,3371.6 667,3371.8 673,3372.1 679,3372.3 685,3372.5 691,3372.7 697,3372.9 703,3373.1 709,3373.3 715,3373.5 721,3373.7 727,3373.9 733,3374.2 739,3374.4 745,3374.6 751,3374.8 757,3375 763,3375.2 769,3375.4 775,3375.6 781,3375.8 787,3376 793,3376.3 799,3376.5 805,3376.6 811,3376.8 817,3377 823,3377.2 829,3377.4 835,3377.5 841,3377.7 847,3377.9 853,3378.1 859,3378.3 865,3378.4 871,3378.6 877,3378.8 883,3379 889,3379.2 895,3379.3 901,3379.5 907,3379.7 913,3379.9 919,3380.1 925,3380.2 931,3380.4 937,3380.5 943,3380.6 949,3380.6 955,3380.7 961,3380.8 967,3380.8 973,3380.9 979,3380.9 985,3381 991,3381 997,3381.1 1003,3381.2 1009,3381.2 1015,3381.3 1021,3381.3 1027,3381.4 1033,3381.4 1039,3381.5 1045,3381.5 1051,3381.6 1057,3381.7 1063,3381.7 1069,3381.8 1075,3381.8 1081,3381.9 1087,3381.9 1093,3382 1099,3382.1 1105,3382.1 1111,3382.2 1117,3382.2 1123,3382.3 1129,3382.3 1135,3382.4 1141,3382.5" fill="none" stroke="#0a6a0a" stroke-width="8" stroke-linejoin="round" stroke-linecap="round" /><polyline points="205,3367.7 214,3356 223,3353 232,3336.1 241,3349.4 250,3343.8 259,3350.7 268,3345.9 277,3350.7 286,3346.6 295,3339.1 304,3357.3 313,3356.8 322,3363.4 331,3348.9 340,3339.1 349,3342.9 358,3333 367,3353 376,3333.8 385,3331.6 394,3338.4 403,3351.3 412,3339.2 421,3327 430,3326.9 439,3334.7 448,3324.4 457,3315.7 466,3316.6 475,3321.3 484,3324.6 493,3290 502,3279.6 511,3279.4 520,3258.4 529,3262.6 538,3251.4 547,3259.4 556,3238.5 565,3214.3 574,3230 583,3200.3 592,3176.2 601,3173.1 610,3156.2 619,3136.9 628,3127.8 637,3091.5 646,3089.7 655,3081.1 664,3060.2 673,3057.5 682,3036.7 691,3003.6 700,2960.5 709,2959.2 718,2918.2 727,2910.9 736,2880.7 745,2886.4 754,2887.5 763,2839 772,2866.8 781,2808.7 790,2809.1 799,2821.2 808,2804.3 817,2861.7 826,2936.9 835,2921.3 844,2973.6 853,3000.7 862,3053 871,3077.4 880,3108.2 889,3137.2 898,3161.1 907,3174.1 916,3218.8 925,3213.3 934,3245 943,3266.2 952,3270.9 961,3294.7 970,3330.8 979,3318.3 988,3318.4 997,3308 1006,3331.2 1015,3341.2 1024,3346.7 1033,3345.4 1042,3364.3 1051,3353.6 1060,3360 1069,3369.1 1078,3346.4 1087,3363.8 1096,3385.7 1105,3375.8 1114,3358.4 1123,3369.7 1132,3376.2 1141,3399.6" fill="none" stroke="#222" stroke-width="1.6" stroke-linejoin="round" stroke-linecap="round" stroke-linejoin="miter"/><path d="M205,3353.1 L208,3352.7 L211,3352.3 L214,3352 L217,3351.7 L220,3351.4 L223,3351.1 L226,3350.9 L229,3350.6 L232,3350.4 L235,3350.3 L238,3350.1 L241,3350 L244,3349.8 L247,3349.7 L250,3349.6 L253,3349.5 L256,3349.5 L259,3349.4 L262,3349.4 L265,3349.3 L268,3349.3 L271,3349.3 L274,3349.3 L277,3349.3 L280,3349.3 L283,3349.3 L286,3349.3 L289,3349.3 L292,3349.3 L295,3349.3 L298,3349.3 L301,3349.3 L304,3349.4 L307,3349.4 L310,3349.4 L313,3349.4 L316,3349.3 L319,3349.3 L322,3349.3 L325,3349.3 L328,3349.2 L331,3349.2 L334,3349.1 L337,3349 L340,3348.9 L343,3348.8 L346,3348.7 L349,3348.5 L352,3348.4 L355,3348.2 L358,3348 L361,3347.7 L364,3347.5 L367,3347.2 L370,3346.9 L373,3346.6 L376,3346.3 L379,3345.9 L382,3345.5 L385,3345.1 L388,3344.6 L391,3344.1 L394,3343.6 L397,3343.1 L400,3342.5 L403,3341.8 L406,3341.2 L409,3340.5 L412,3339.8 L415,3339 L418,3338.2 L421,3337.3 L424,3336.4 L427,3335.5 L430,3334.5 L433,3333.5 L436,3332.4 L439,3331.3 L442,3330.2 L445,3329 L448,3327.7 L451,3326.4 L454,3325 L457,3323.6 L460,3322.1 L463,3320.6 L466,3319 L469,3317.4 L472,3315.7 L475,3314 L478,3312.2 L481,3310.3 L484,3308.4 L487,3306.4 L490,3304.3 L493,3302.2 L496,3300 L499,3297.8 L502,3295.4 L505,3293.1 L508,3290.6 L511,3288.1 L514,3285.5 L517,3282.8 L520,3280.1 L523,3277.3 L526,3274.4 L529,3271.4 L532,3268.4 L535,3265.3 L538,3262.1 L541,3258.8 L544,3255.4 L547,3252 L550,3248.5 L553,3244.9 L556,3241.2 L559,3237.4 L562,3233.5 L565,3229.6 L568,3225.5 L571,3221.4 L574,3217.2 L577,3212.9 L580,3208.6 L583,3204.1 L586,3199.6 L589,3194.9 L592,3190.2 L595,3185.5 L598,3180.6 L601,3175.7 L604,3170.6 L607,3165.5 L610,3160.4 L613,3155.1 L616,3149.8 L619,3144.4 L622,3138.9 L625,3133.4 L628,3127.8 L631,3122.1 L634,3116.3 L637,3110.5 L640,3104.5 L643,3098.6 L646,3092.5 L649,3086.4 L652,3080.2 L655,3074 L658,3067.6 L661,3061.2 L664,3054.8 L667,3048.3 L670,3041.7 L673,3035 L676,3028.3 L679,3021.6 L682,3014.8 L685,3007.9 L688,3001.1 L691,2994.2 L694,2987.2 L697,2980.3 L700,2973.4 L703,2966.5 L706,2959.5 L709,2952.6 L712,2945.7 L715,2938.9 L718,2932.1 L721,2925.3 L724,2918.5 L727,2911.9 L730,2905.2 L733,2898.7 L736,2892.2 L739,2885.8 L742,2879.5 L745,2873.3 L748,2867.2 L751,2861.1 L754,2855.2 L757,2849.5 L760,2843.8 L763,2838.3 L766,2833 L769,2828 L772,2823.4 L775,2819.2 L778,2815.6 L781,2812.6 L784,2810.3 L787,2808.8 L790,2808.2 L793,2808.5 L796,2809.8 L799,2812.3 L802,2815.9 L805,2820.9 L808,2827.2 L811,2834.9 L814,2844 L817,2854.4 L820,2865.6 L823,2877.6 L826,2890.1 L829,2902.8 L832,2915.6 L835,2928.3 L838,2940.9 L841,2953.4 L844,2965.8 L847,2978.1 L850,2990.3 L853,3002.4 L856,3014.3 L859,3026.1 L862,3037.7 L865,3049.1 L868,3060.4 L871,3071.4 L874,3082.3 L877,3092.9 L880,3103.4 L883,3113.6 L886,3123.5 L889,3133.2 L892,3142.7 L895,3151.9 L898,3160.8 L901,3169.5 L904,3177.9 L907,3186 L910,3194 L913,3201.6 L916,3209.1 L919,3216.3 L922,3223.3 L925,3230 L928,3236.6 L931,3242.9 L934,3249 L937,3254.9 L940,3260.6 L943,3266 L946,3271.3 L949,3276.4 L952,3281.3 L955,3286 L958,3290.6 L961,3294.9 L964,3299.1 L967,3303.1 L970,3306.9 L973,3310.6 L976,3314.1 L979,3317.5 L982,3320.7 L985,3323.7 L988,3326.6 L991,3329.4 L994,3332 L997,3334.5 L1000,3336.9 L1003,3339.1 L1006,3341.2 L1009,3343.2 L1012,3345.1 L1015,3346.9 L1018,3348.6 L1021,3350.1 L1024,3351.6 L1027,3353 L1030,3354.2 L1033,3355.4 L1036,3356.5 L1039,3357.6 L1042,3358.5 L1045,3359.4 L1048,3360.2 L1051,3361 L1054,3361.7 L1057,3362.3 L1060,3362.9 L1063,3363.4 L1066,3363.9 L1069,3364.3 L1072,3364.7 L1075,3365.1 L1078,3365.4 L1081,3365.7 L1084,3366 L1087,3366.3 L1090,3366.6 L1093,3366.8 L1096,3367 L1099,3367.3 L1102,3367.5 L1105,3367.7 L1108,3368 L1111,3368.2 L1114,3368.5 L1117,3368.8 L1120,3369.1 L1123,3369.5 L1126,3369.9 L1129,3370.3 L1132,3370.7 L1135,3371.2 L1138,3371.7 L1141,3372.3" fill="none" stroke="#ff9412" stroke-width="6" stroke-linejoin="round"/><line x1="475" y1="3237.5" x2="534.9" y2="3285.1" stroke="#000" stroke-width="6" stroke-linecap="butt"/><polygon points="560,3305 528.1,3290.5 538.7,3277.2" fill="#000"/><line x1="620" y1="3093" x2="685" y2="3145" stroke="#000" stroke-width="6" stroke-linecap="butt"/><polygon points="710,3165 678.1,3150.4 688.8,3137.1" fill="#000"/><line x1="920" y1="3120" x2="860" y2="3162.9" stroke="#000" stroke-width="6" stroke-linecap="butt"/><polygon points="834,3181.5 856.7,3154.8 866.6,3168.6" fill="#000"/><line x1="1007.5" y1="3249" x2="946.3" y2="3291.7" stroke="#000" stroke-width="6" stroke-linecap="butt"/><polygon points="920,3310 943,3283.6 952.8,3297.5" fill="#000"/><text x="424" y="3224" font-size="33" font-weight="normal" text-anchor="start" fill="#000" textLength="55" lengthAdjust="spacingAndGlyphs" stroke="#000" stroke-width="0.9">N-X</text><text x="556" y="3078" font-size="33" font-weight="normal" text-anchor="start" fill="#000" textLength="58" lengthAdjust="spacingAndGlyphs" stroke="#000" stroke-width="0.9">N-Q</text><text x="922.5" y="3109" font-size="33" font-weight="normal" text-anchor="start" fill="#000" textLength="47.5" lengthAdjust="spacingAndGlyphs" stroke="#000" stroke-width="0.9">N-5</text><text x="1019" y="3252" font-size="33" font-weight="normal" text-anchor="start" fill="#000" textLength="50" lengthAdjust="spacingAndGlyphs" stroke="#000" stroke-width="0.9">N-6</text><text x="71.5" y="2690" font-size="47" font-weight="bold" text-anchor="start" fill="#000" >g</text><line x1="201.5" y1="3422.5" x2="201.5" y2="3436" stroke="#000" stroke-width="7.5" stroke-linecap="butt"/><text x="201.5" y="3475" font-size="37.5" font-weight="normal" text-anchor="middle" fill="#000" stroke="#000" stroke-width="0.9">406</text><line x1="390.8" y1="3422.5" x2="390.8" y2="3436" stroke="#000" stroke-width="7.5" stroke-linecap="butt"/><text x="390.8" y="3475" font-size="37.5" font-weight="normal" text-anchor="middle" fill="#000" stroke="#000" stroke-width="0.9">404</text><line x1="580.1" y1="3422.5" x2="580.1" y2="3436" stroke="#000" stroke-width="7.5" stroke-linecap="butt"/><text x="580.1" y="3475" font-size="37.5" font-weight="normal" text-anchor="middle" fill="#000" stroke="#000" stroke-width="0.9">402</text><line x1="769.4" y1="3422.5" x2="769.4" y2="3436" stroke="#000" stroke-width="7.5" stroke-linecap="butt"/><text x="769.4" y="3475" font-size="37.5" font-weight="normal" text-anchor="middle" fill="#000" stroke="#000" stroke-width="0.9">400</text><line x1="958.7" y1="3422.5" x2="958.7" y2="3436" stroke="#000" stroke-width="7.5" stroke-linecap="butt"/><text x="958.7" y="3475" font-size="37.5" font-weight="normal" text-anchor="middle" fill="#000" stroke="#000" stroke-width="0.9">398</text><line x1="1148" y1="3422.5" x2="1148" y2="3436" stroke="#000" stroke-width="7.5" stroke-linecap="butt"/><text x="1148" y="3475" font-size="37.5" font-weight="normal" text-anchor="middle" fill="#000" stroke="#000" stroke-width="0.9">396</text><line x1="296.1" y1="3422.5" x2="296.1" y2="3430" stroke="#000" stroke-width="6" stroke-linecap="butt"/><line x1="485.5" y1="3422.5" x2="485.5" y2="3430" stroke="#000" stroke-width="6" stroke-linecap="butt"/><line x1="674.8" y1="3422.5" x2="674.8" y2="3430" stroke="#000" stroke-width="6" stroke-linecap="butt"/><line x1="864.1" y1="3422.5" x2="864.1" y2="3430" stroke="#000" stroke-width="6" stroke-linecap="butt"/><line x1="1053.3" y1="3422.5" x2="1053.3" y2="3430" stroke="#000" stroke-width="6" stroke-linecap="butt"/><text x="480" y="3524" font-size="37.5" font-weight="normal" text-anchor="start" fill="#000" textLength="386" lengthAdjust="spacing" stroke="#000" stroke-width="0.9">Binding energy (eV)</text><text transform="translate(140 3200) rotate(-90)" x="0" y="0" font-size="37.5" font-weight="normal" text-anchor="start" fill="#000" textLength="285" lengthAdjust="spacing" stroke="#000" stroke-width="0.9">Intensity (a.u.)</text><rect x="1373.5" y="2721" width="945" height="700" fill="none" stroke="#000" stroke-width="7.5"/><path d="M1377,3385.1 L1380,3385.2 L1383,3385.4 L1386,3385.5 L1389,3385.6 L1392,3385.7 L1395,3385.8 L1398,3386 L1401,3386.1 L1404,3386.2 L1407,3386.3 L1410,3386.4 L1413,3386.6 L1416,3386.7 L1419,3386.8 L1422,3386.9 L1425,3387 L1428,3387.2 L1431,3387.3 L1434,3387.4 L1437,3387.5 L1440,3387.6 L1443,3387.7 L1446,3387.9 L1449,3388 L1452,3388.1 L1455,3388.2 L1458,3388.3 L1461,3388.5 L1464,3388.6 L1467,3388.7 L1470,3388.8 L1473,3388.9 L1476,3389.1 L1479,3389.2 L1482,3389.3 L1485,3389.4 L1488,3389.5 L1491,3389.7 L1494,3389.8 L1497,3389.9 L1500,3390 L1503,3390.1 L1506,3390.3 L1509,3390.4 L1512,3390.5 L1515,3390.6 L1518,3390.7 L1521,3390.9 L1524,3391 L1527,3391.1 L1530,3391.2 L1533,3391.3 L1536,3391.5 L1539,3391.6 L1542,3391.7 L1545,3391.8 L1548,3391.9 L1551,3392 L1554,3392.2 L1557,3392.3 L1560,3392.4 L1563,3392.5 L1566,3392.6 L1569,3392.8 L1572,3392.9 L1575,3393 L1578,3393.1 L1581,3393.2 L1584,3393.4 L1587,3393.5 L1590,3393.6 L1593,3393.7 L1596,3393.8 L1599,3394 L1602,3394.1 L1605,3394.2 L1608,3394.2 L1611,3394.3 L1614,3394.4 L1617,3394.5 L1620,3394.6 L1623,3394.7 L1626,3394.8 L1629,3394.9 L1632,3395 L1635,3395.1 L1638,3395.1 L1641,3395.2 L1644,3395.3 L1647,3395.4 L1650,3395.5 L1653,3395.6 L1656,3395.7 L1659,3395.8 L1662,3395.9 L1665,3395.9 L1668,3396 L1671,3396.1 L1674,3396.2 L1677,3396.3 L1680,3396.4 L1683,3396.5 L1686,3396.6 L1689,3396.7 L1692,3396.8 L1695,3396.8 L1698,3396.9 L1701,3397 L1704,3397.1 L1707,3397.2 L1710,3397.3 L1713,3397.4 L1716,3397.5 L1719,3397.6 L1722,3397.7 L1725,3397.7 L1728,3397.8 L1731,3397.9 L1734,3398 L1737,3398.1 L1740,3398.2 L1743,3398.3 L1746,3398.4 L1749,3398.5 L1752,3398.6 L1755,3398.6 L1758,3398.7 L1761,3398.8 L1764,3398.9 L1767,3399 L1770,3399.1 L1773,3399.2 L1776,3399.3 L1779,3399.4 L1782,3399.5 L1785,3399.5 L1788,3399.6 L1791,3399.7 L1794,3399.8 L1797,3399.9 L1800,3400 L1803,3400.1 L1806,3400.1 L1809,3400.2 L1812,3400.3 L1815,3400.4 L1818,3400.4 L1821,3400.5 L1824,3400.6 L1827,3400.7 L1830,3400.7 L1833,3400.8 L1836,3400.9 L1839,3401 L1842,3401 L1845,3401.1 L1848,3401.2 L1851,3401.3 L1854,3401.3 L1857,3401.4 L1860,3401.5 L1863,3401.6 L1866,3401.6 L1869,3401.7 L1872,3401.8 L1875,3401.9 L1878,3401.9 L1881,3402 L1884,3402.1 L1887,3402.2 L1890,3402.2 L1893,3402.3 L1896,3402.4 L1899,3402.5 L1902,3402.5 L1905,3402.6 L1908,3402.7 L1911,3402.8 L1914,3402.8 L1917,3402.9 L1920,3403 L1923,3403 L1926,3403.1 L1929,3403.1 L1932,3403.2 L1935,3403.2 L1938,3403.3 L1941,3403.3 L1944,3403.4 L1947,3403.4 L1950,3403.4 L1953,3403.4 L1956,3403.4 L1959,3403.3 L1962,3403.3 L1965,3403.2 L1968,3403.1 L1971,3402.9 L1974,3402.8 L1977,3402.5 L1980,3402.3 L1983,3401.9 L1986,3401.6 L1989,3401.1 L1992,3400.6 L1995,3400 L1998,3399.3 L2001,3398.5 L2004,3397.5 L2007,3396.4 L2010,3395.2 L2013,3393.8 L2016,3392.3 L2019,3390.6 L2022,3388.8 L2025,3386.8 L2028,3384.6 L2031,3382.2 L2034,3379.6 L2037,3376.8 L2040,3373.8 L2043,3370.6 L2046,3367.3 L2049,3363.7 L2052,3359.9 L2055,3356 L2058,3351.8 L2061,3347.6 L2064,3343.1 L2067,3338.6 L2070,3334 L2073,3329.3 L2076,3324.5 L2079,3319.8 L2082,3315 L2085,3310.3 L2088,3305.7 L2091,3301.2 L2094,3296.9 L2097,3292.8 L2100,3288.9 L2103,3285.2 L2106,3281.9 L2109,3278.9 L2112,3276.2 L2115,3273.9 L2118,3272.1 L2121,3270.6 L2124,3269.6 L2127,3269 L2130,3268.9 L2133,3269.1 L2136,3269.8 L2139,3270.8 L2142,3272.1 L2145,3273.8 L2148,3275.8 L2151,3278.1 L2154,3280.8 L2157,3283.7 L2160,3286.8 L2163,3290.2 L2166,3293.8 L2169,3297.6 L2172,3301.5 L2175,3305.5 L2178,3309.7 L2181,3313.9 L2184,3318.2 L2187,3322.5 L2190,3326.8 L2193,3331.1 L2196,3335.3 L2199,3339.5 L2202,3343.6 L2205,3347.6 L2208,3351.5 L2211,3355.3 L2214,3358.9 L2217,3362.4 L2220,3365.7 L2223,3368.9 L2226,3371.9 L2229,3374.8 L2232,3377.5 L2235,3380 L2238,3382.4 L2241,3384.6 L2244,3386.6 L2247,3388.5 L2250,3390.3 L2253,3391.9 L2256,3393.4 L2259,3394.8 L2262,3396 L2265,3397.1 L2268,3398.1 L2271,3399.1 L2274,3399.9 L2277,3400.6 L2280,3401.3 L2283,3401.9 L2286,3402.4 L2289,3402.9 L2292,3403.3 L2295,3403.7 L2298,3404 L2301,3404.3 L2304,3404.5 L2307,3404.7 L2310,3404.9 L2313,3405.1 L2315,3407.5 L1377,3386.6 Z" fill="#9a805c"/><path d="M1377,3385.1 L1380,3385.2 L1383,3385.3 L1386,3385.5 L1389,3385.6 L1392,3385.7 L1395,3385.8 L1398,3385.9 L1401,3386 L1404,3386.2 L1407,3386.3 L1410,3386.4 L1413,3386.5 L1416,3386.6 L1419,3386.8 L1422,3386.9 L1425,3387 L1428,3387.1 L1431,3387.2 L1434,3387.4 L1437,3387.5 L1440,3387.6 L1443,3387.7 L1446,3387.8 L1449,3388 L1452,3388.1 L1455,3388.2 L1458,3388.3 L1461,3388.4 L1464,3388.6 L1467,3388.7 L1470,3388.8 L1473,3388.9 L1476,3389 L1479,3389.1 L1482,3389.3 L1485,3389.4 L1488,3389.5 L1491,3389.6 L1494,3389.7 L1497,3389.9 L1500,3390 L1503,3390.1 L1506,3390.2 L1509,3390.3 L1512,3390.5 L1515,3390.6 L1518,3390.7 L1521,3390.8 L1524,3390.9 L1527,3391 L1530,3391.2 L1533,3391.3 L1536,3391.4 L1539,3391.5 L1542,3391.6 L1545,3391.8 L1548,3391.9 L1551,3392 L1554,3392.1 L1557,3392.2 L1560,3392.4 L1563,3392.5 L1566,3392.6 L1569,3392.7 L1572,3392.8 L1575,3393 L1578,3393.1 L1581,3393.2 L1584,3393.3 L1587,3393.4 L1590,3393.5 L1593,3393.7 L1596,3393.8 L1599,3393.9 L1602,3394 L1605,3394.1 L1608,3394.2 L1611,3394.3 L1614,3394.4 L1617,3394.4 L1620,3394.5 L1623,3394.6 L1626,3394.7 L1629,3394.8 L1632,3394.9 L1635,3395 L1638,3395.1 L1641,3395.2 L1644,3395.2 L1647,3395.3 L1650,3395.4 L1653,3395.5 L1656,3395.6 L1659,3395.7 L1662,3395.8 L1665,3395.9 L1668,3395.9 L1671,3396 L1674,3396.1 L1677,3396.2 L1680,3396.3 L1683,3396.4 L1686,3396.5 L1689,3396.6 L1692,3396.6 L1695,3396.7 L1698,3396.8 L1701,3396.9 L1704,3397 L1707,3397 L1710,3397.1 L1713,3397.2 L1716,3397.3 L1719,3397.3 L1722,3397.4 L1725,3397.5 L1728,3397.5 L1731,3397.6 L1734,3397.6 L1737,3397.7 L1740,3397.7 L1743,3397.7 L1746,3397.8 L1749,3397.8 L1752,3397.8 L1755,3397.7 L1758,3397.7 L1761,3397.6 L1764,3397.6 L1767,3397.5 L1770,3397.3 L1773,3397.2 L1776,3397 L1779,3396.8 L1782,3396.5 L1785,3396.2 L1788,3395.8 L1791,3395.4 L1794,3394.9 L1797,3394.4 L1800,3393.8 L1803,3393.1 L1806,3392.3 L1809,3391.4 L1812,3390.4 L1815,3389.3 L1818,3388.1 L1821,3386.8 L1824,3385.3 L1827,3383.7 L1830,3382 L1833,3380.1 L1836,3378 L1839,3375.8 L1842,3373.4 L1845,3370.8 L1848,3368 L1851,3365 L1854,3361.9 L1857,3358.5 L1860,3354.9 L1863,3351.1 L1866,3347.2 L1869,3343 L1872,3338.6 L1875,3334 L1878,3329.2 L1881,3324.3 L1884,3319.1 L1887,3313.8 L1890,3308.4 L1893,3302.8 L1896,3297.1 L1899,3291.3 L1902,3285.4 L1905,3279.4 L1908,3273.5 L1911,3267.5 L1914,3261.5 L1917,3255.5 L1920,3249.6 L1923,3243.9 L1926,3238.2 L1929,3232.7 L1932,3227.4 L1935,3222.2 L1938,3217.4 L1941,3212.8 L1944,3208.5 L1947,3204.5 L1950,3200.8 L1953,3197.6 L1956,3194.7 L1959,3192.2 L1962,3190.1 L1965,3188.5 L1968,3187.3 L1971,3186.6 L1974,3186.4 L1977,3186.6 L1980,3187.4 L1983,3188.7 L1986,3190.5 L1989,3192.9 L1992,3195.7 L1995,3199 L1998,3202.8 L2001,3207 L2004,3211.5 L2007,3216.4 L2010,3221.6 L2013,3227.2 L2016,3233 L2019,3239 L2022,3245.2 L2025,3251.5 L2028,3258 L2031,3264.5 L2034,3271.1 L2037,3277.7 L2040,3284.2 L2043,3290.7 L2046,3297.2 L2049,3303.5 L2052,3309.7 L2055,3315.7 L2058,3321.5 L2061,3327.2 L2064,3332.7 L2067,3337.9 L2070,3342.9 L2073,3347.7 L2076,3352.3 L2079,3356.6 L2082,3360.7 L2085,3364.5 L2088,3368.1 L2091,3371.4 L2094,3374.6 L2097,3377.5 L2100,3380.2 L2103,3382.7 L2106,3385 L2109,3387.1 L2112,3389 L2115,3390.8 L2118,3392.4 L2121,3393.8 L2124,3395.1 L2127,3396.3 L2130,3397.4 L2133,3398.4 L2136,3399.2 L2139,3400 L2142,3400.7 L2145,3401.3 L2148,3401.8 L2151,3402.3 L2154,3402.7 L2157,3403.1 L2160,3403.4 L2163,3403.7 L2166,3404 L2169,3404.2 L2172,3404.4 L2175,3404.5 L2178,3404.7 L2181,3404.8 L2184,3404.9 L2187,3405 L2190,3405.1 L2193,3405.2 L2196,3405.2 L2199,3405.3 L2202,3405.3 L2205,3405.4 L2208,3405.4 L2211,3405.4 L2214,3405.5 L2217,3405.5 L2220,3405.5 L2223,3405.5 L2226,3405.6 L2229,3405.6 L2232,3405.6 L2235,3405.6 L2238,3405.6 L2241,3405.6 L2244,3405.7 L2247,3405.7 L2250,3405.7 L2253,3405.7 L2256,3405.7 L2259,3405.7 L2262,3405.7 L2265,3405.7 L2268,3405.8 L2271,3405.8 L2274,3405.8 L2277,3405.8 L2280,3405.8 L2283,3405.8 L2286,3405.8 L2289,3405.8 L2292,3405.8 L2295,3405.9 L2298,3405.9 L2301,3405.9 L2304,3405.9 L2307,3405.9 L2310,3405.9 L2313,3405.9 L2315,3407.5 L1377,3386.6 Z" fill="#8ea456"/><path d="M1377,3385.1 L1380,3385.2 L1383,3385.4 L1386,3385.5 L1389,3385.6 L1392,3385.7 L1395,3385.8 L1398,3386 L1401,3386.1 L1404,3386.2 L1407,3386.3 L1410,3386.4 L1413,3386.6 L1416,3386.7 L1419,3386.8 L1422,3386.9 L1425,3387 L1428,3387.2 L1431,3387.3 L1434,3387.4 L1437,3387.5 L1440,3387.6 L1443,3387.7 L1446,3387.9 L1449,3388 L1452,3388.1 L1455,3388.2 L1458,3388.3 L1461,3388.5 L1464,3388.6 L1467,3388.7 L1470,3388.8 L1473,3388.9 L1476,3389.1 L1479,3389.2 L1482,3389.3 L1485,3389.4 L1488,3389.5 L1491,3389.7 L1494,3389.8 L1497,3389.9 L1500,3390 L1503,3390.1 L1506,3390.3 L1509,3390.4 L1512,3390.5 L1515,3390.6 L1518,3390.7 L1521,3390.9 L1524,3391 L1527,3391.1 L1530,3391.2 L1533,3391.3 L1536,3391.4 L1539,3391.6 L1542,3391.7 L1545,3391.8 L1548,3391.9 L1551,3392 L1554,3392.1 L1557,3392.3 L1560,3392.4 L1563,3392.5 L1566,3392.6 L1569,3392.7 L1572,3392.8 L1575,3392.9 L1578,3393 L1581,3393.2 L1584,3393.3 L1587,3393.4 L1590,3393.5 L1593,3393.6 L1596,3393.6 L1599,3393.7 L1602,3393.8 L1605,3393.9 L1608,3393.9 L1611,3394 L1614,3394 L1617,3394 L1620,3394 L1623,3394.1 L1626,3394.1 L1629,3394 L1632,3394 L1635,3394 L1638,3393.9 L1641,3393.9 L1644,3393.8 L1647,3393.7 L1650,3393.6 L1653,3393.4 L1656,3393.3 L1659,3393.1 L1662,3392.8 L1665,3392.6 L1668,3392.3 L1671,3391.9 L1674,3391.5 L1677,3391.1 L1680,3390.6 L1683,3390.1 L1686,3389.5 L1689,3388.9 L1692,3388.1 L1695,3387.3 L1698,3386.5 L1701,3385.5 L1704,3384.5 L1707,3383.3 L1710,3382.1 L1713,3380.8 L1716,3379.3 L1719,3377.8 L1722,3376.1 L1725,3374.3 L1728,3372.3 L1731,3370.3 L1734,3368 L1737,3365.7 L1740,3363.1 L1743,3360.4 L1746,3357.5 L1749,3354.5 L1752,3351.3 L1755,3347.9 L1758,3344.3 L1761,3340.5 L1764,3336.5 L1767,3332.3 L1770,3328 L1773,3323.4 L1776,3318.6 L1779,3313.6 L1782,3308.5 L1785,3303.1 L1788,3297.5 L1791,3291.8 L1794,3285.9 L1797,3279.7 L1800,3273.5 L1803,3267 L1806,3260.4 L1809,3253.6 L1812,3246.7 L1815,3239.7 L1818,3232.5 L1821,3225.3 L1824,3218 L1827,3210.6 L1830,3203.2 L1833,3195.8 L1836,3188.4 L1839,3180.9 L1842,3173.5 L1845,3166.2 L1848,3158.9 L1851,3151.7 L1854,3144.7 L1857,3137.8 L1860,3131 L1863,3124.4 L1866,3118.1 L1869,3112 L1872,3106.1 L1875,3100.5 L1878,3095.2 L1881,3090.2 L1884,3085.5 L1887,3081.2 L1890,3077.2 L1893,3073.6 L1896,3070.5 L1899,3067.7 L1902,3065.3 L1905,3063.4 L1908,3061.9 L1911,3060.8 L1914,3060.2 L1917,3060 L1920,3060.3 L1923,3061.1 L1926,3062.3 L1929,3064 L1932,3066.1 L1935,3068.6 L1938,3071.6 L1941,3075.1 L1944,3078.9 L1947,3083.1 L1950,3087.7 L1953,3092.6 L1956,3097.9 L1959,3103.5 L1962,3109.4 L1965,3115.6 L1968,3122 L1971,3128.7 L1974,3135.6 L1977,3142.7 L1980,3149.9 L1983,3157.3 L1986,3164.8 L1989,3172.4 L1992,3180 L1995,3187.7 L1998,3195.4 L2001,3203.1 L2004,3210.8 L2007,3218.4 L2010,3226 L2013,3233.4 L2016,3240.8 L2019,3248.1 L2022,3255.3 L2025,3262.3 L2028,3269.2 L2031,3276 L2034,3282.5 L2037,3288.9 L2040,3295.1 L2043,3301.2 L2046,3307 L2049,3312.6 L2052,3318 L2055,3323.2 L2058,3328.3 L2061,3333.1 L2064,3337.7 L2067,3342 L2070,3346.2 L2073,3350.2 L2076,3354 L2079,3357.6 L2082,3361 L2085,3364.2 L2088,3367.2 L2091,3370.1 L2094,3372.8 L2097,3375.3 L2100,3377.7 L2103,3379.9 L2106,3382 L2109,3383.9 L2112,3385.7 L2115,3387.4 L2118,3388.9 L2121,3390.4 L2124,3391.7 L2127,3393 L2130,3394.1 L2133,3395.2 L2136,3396.1 L2139,3397 L2142,3397.8 L2145,3398.6 L2148,3399.3 L2151,3399.9 L2154,3400.5 L2157,3401 L2160,3401.5 L2163,3401.9 L2166,3402.3 L2169,3402.6 L2172,3403 L2175,3403.3 L2178,3403.5 L2181,3403.8 L2184,3404 L2187,3404.2 L2190,3404.3 L2193,3404.5 L2196,3404.6 L2199,3404.8 L2202,3404.9 L2205,3405 L2208,3405.1 L2211,3405.1 L2214,3405.2 L2217,3405.3 L2220,3405.3 L2223,3405.4 L2226,3405.5 L2229,3405.5 L2232,3405.5 L2235,3405.6 L2238,3405.6 L2241,3405.6 L2244,3405.7 L2247,3405.7 L2250,3405.7 L2253,3405.7 L2256,3405.7 L2259,3405.8 L2262,3405.8 L2265,3405.8 L2268,3405.8 L2271,3405.8 L2274,3405.8 L2277,3405.9 L2280,3405.9 L2283,3405.9 L2286,3405.9 L2289,3405.9 L2292,3405.9 L2295,3405.9 L2298,3405.9 L2301,3405.9 L2304,3406 L2307,3406 L2310,3406 L2313,3406 L2315,3407.5 L1377,3386.6 Z" fill="#88b473"/><path d="M1377,3380.8 L1380,3380.8 L1383,3380.8 L1386,3380.8 L1389,3380.8 L1392,3380.8 L1395,3380.7 L1398,3380.7 L1401,3380.7 L1404,3380.6 L1407,3380.6 L1410,3380.5 L1413,3380.4 L1416,3380.3 L1419,3380.3 L1422,3380.1 L1425,3380 L1428,3379.9 L1431,3379.8 L1434,3379.6 L1437,3379.4 L1440,3379.2 L1443,3379 L1446,3378.8 L1449,3378.6 L1452,3378.3 L1455,3378 L1458,3377.7 L1461,3377.4 L1464,3377.1 L1467,3376.7 L1470,3376.3 L1473,3375.9 L1476,3375.5 L1479,3375 L1482,3374.5 L1485,3374 L1488,3373.5 L1491,3372.9 L1494,3372.3 L1497,3371.6 L1500,3371 L1503,3370.2 L1506,3369.5 L1509,3368.7 L1512,3367.9 L1515,3367 L1518,3366.1 L1521,3365.2 L1524,3364.2 L1527,3363.1 L1530,3362.1 L1533,3360.9 L1536,3359.8 L1539,3358.6 L1542,3357.3 L1545,3356 L1548,3354.6 L1551,3353.2 L1554,3351.7 L1557,3350.2 L1560,3348.7 L1563,3347 L1566,3345.4 L1569,3343.6 L1572,3341.9 L1575,3340 L1578,3338.1 L1581,3336.2 L1584,3334.2 L1587,3332.2 L1590,3330.1 L1593,3327.9 L1596,3325.7 L1599,3323.4 L1602,3321.1 L1605,3318.7 L1608,3316.3 L1611,3313.8 L1614,3311.3 L1617,3308.7 L1620,3306.1 L1623,3303.4 L1626,3300.7 L1629,3297.9 L1632,3295.1 L1635,3292.3 L1638,3289.5 L1641,3286.6 L1644,3283.7 L1647,3280.8 L1650,3277.8 L1653,3274.8 L1656,3271.8 L1659,3268.8 L1662,3265.8 L1665,3262.8 L1668,3259.8 L1671,3256.7 L1674,3253.7 L1677,3250.7 L1680,3247.7 L1683,3244.7 L1686,3241.7 L1689,3238.8 L1692,3235.9 L1695,3233 L1698,3230.1 L1701,3227.3 L1704,3224.6 L1707,3221.9 L1710,3219.2 L1713,3216.6 L1716,3214.1 L1719,3211.6 L1722,3209.2 L1725,3206.9 L1728,3204.7 L1731,3202.6 L1734,3200.5 L1737,3198.6 L1740,3196.7 L1743,3195 L1746,3193.3 L1749,3191.8 L1752,3190.4 L1755,3189.1 L1758,3187.9 L1761,3186.8 L1764,3185.9 L1767,3185.1 L1770,3184.4 L1773,3183.9 L1776,3183.5 L1779,3183.2 L1782,3183.1 L1785,3183.1 L1788,3183.3 L1791,3183.5 L1794,3183.9 L1797,3184.3 L1800,3184.9 L1803,3185.5 L1806,3186.2 L1809,3187.1 L1812,3188 L1815,3189.1 L1818,3190.2 L1821,3191.4 L1824,3192.7 L1827,3194.2 L1830,3195.7 L1833,3197.2 L1836,3198.9 L1839,3200.6 L1842,3202.5 L1845,3204.4 L1848,3206.3 L1851,3208.4 L1854,3210.5 L1857,3212.6 L1860,3214.9 L1863,3217.1 L1866,3219.5 L1869,3221.9 L1872,3224.3 L1875,3226.8 L1878,3229.3 L1881,3231.9 L1884,3234.4 L1887,3237.1 L1890,3239.7 L1893,3242.4 L1896,3245.1 L1899,3247.8 L1902,3250.6 L1905,3253.3 L1908,3256.1 L1911,3258.9 L1914,3261.7 L1917,3264.5 L1920,3267.3 L1923,3270.1 L1926,3272.9 L1929,3275.7 L1932,3278.4 L1935,3281.2 L1938,3284 L1941,3286.7 L1944,3289.5 L1947,3292.2 L1950,3294.9 L1953,3297.5 L1956,3300.2 L1959,3302.8 L1962,3305.4 L1965,3308 L1968,3310.5 L1971,3313.1 L1974,3315.5 L1977,3318 L1980,3320.4 L1983,3322.8 L1986,3325.1 L1989,3327.5 L1992,3329.7 L1995,3332 L1998,3334.2 L2001,3336.3 L2004,3338.4 L2007,3340.4 L2010,3342.3 L2013,3344.3 L2016,3346.2 L2019,3348 L2022,3349.8 L2025,3351.6 L2028,3353.3 L2031,3355 L2034,3356.7 L2037,3358.3 L2040,3359.9 L2043,3361.4 L2046,3362.9 L2049,3364.3 L2052,3365.7 L2055,3367.1 L2058,3368.4 L2061,3369.7 L2064,3371 L2067,3372.2 L2070,3373.4 L2073,3374.5 L2076,3375.6 L2079,3376.7 L2082,3377.7 L2085,3378.7 L2088,3379.7 L2091,3380.6 L2094,3381.5 L2097,3382.4 L2100,3383.3 L2103,3384.1 L2106,3384.9 L2109,3385.6 L2112,3386.4 L2115,3387.1 L2118,3387.7 L2121,3388.4 L2124,3389 L2127,3389.6 L2130,3390.2 L2133,3390.8 L2136,3391.3 L2139,3391.8 L2142,3392.3 L2145,3392.8 L2148,3393.3 L2151,3393.7 L2154,3394.1 L2157,3394.5 L2160,3394.9 L2163,3395.3 L2166,3395.7 L2169,3396 L2172,3396.3 L2175,3396.6 L2178,3396.9 L2181,3397.2 L2184,3397.5 L2187,3397.8 L2190,3398 L2193,3398.3 L2196,3398.5 L2199,3398.7 L2202,3398.9 L2205,3399.1 L2208,3399.3 L2211,3399.5 L2214,3399.7 L2217,3399.9 L2220,3400 L2223,3400.2 L2226,3400.3 L2229,3400.5 L2232,3400.6 L2235,3400.8 L2238,3400.9 L2241,3401 L2244,3401.1 L2247,3401.2 L2250,3401.3 L2253,3401.5 L2256,3401.6 L2259,3401.7 L2262,3401.7 L2265,3401.8 L2268,3401.9 L2271,3402 L2274,3402.1 L2277,3402.2 L2280,3402.2 L2283,3402.3 L2286,3402.4 L2289,3402.4 L2292,3402.5 L2295,3402.6 L2298,3402.6 L2301,3402.7 L2304,3402.8 L2307,3402.8 L2310,3402.9 L2313,3402.9 L2315,3407.5 L1377,3386.6 Z" fill="#5e9a5e"/><g clip-path="url(#cp9)"><path d="M1377,3385.1 L1380,3385.2 L1383,3385.3 L1386,3385.5 L1389,3385.6 L1392,3385.7 L1395,3385.8 L1398,3385.9 L1401,3386 L1404,3386.2 L1407,3386.3 L1410,3386.4 L1413,3386.5 L1416,3386.6 L1419,3386.8 L1422,3386.9 L1425,3387 L1428,3387.1 L1431,3387.2 L1434,3387.4 L1437,3387.5 L1440,3387.6 L1443,3387.7 L1446,3387.8 L1449,3388 L1452,3388.1 L1455,3388.2 L1458,3388.3 L1461,3388.4 L1464,3388.6 L1467,3388.7 L1470,3388.8 L1473,3388.9 L1476,3389 L1479,3389.1 L1482,3389.3 L1485,3389.4 L1488,3389.5 L1491,3389.6 L1494,3389.7 L1497,3389.9 L1500,3390 L1503,3390.1 L1506,3390.2 L1509,3390.3 L1512,3390.5 L1515,3390.6 L1518,3390.7 L1521,3390.8 L1524,3390.9 L1527,3391 L1530,3391.2 L1533,3391.3 L1536,3391.4 L1539,3391.5 L1542,3391.6 L1545,3391.8 L1548,3391.9 L1551,3392 L1554,3392.1 L1557,3392.2 L1560,3392.4 L1563,3392.5 L1566,3392.6 L1569,3392.7 L1572,3392.8 L1575,3393 L1578,3393.1 L1581,3393.2 L1584,3393.3 L1587,3393.4 L1590,3393.5 L1593,3393.7 L1596,3393.8 L1599,3393.9 L1602,3394 L1605,3394.1 L1608,3394.2 L1611,3394.3 L1614,3394.4 L1617,3394.4 L1620,3394.5 L1623,3394.6 L1626,3394.7 L1629,3394.8 L1632,3394.9 L1635,3395 L1638,3395.1 L1641,3395.2 L1644,3395.2 L1647,3395.3 L1650,3395.4 L1653,3395.5 L1656,3395.6 L1659,3395.7 L1662,3395.8 L1665,3395.9 L1668,3395.9 L1671,3396 L1674,3396.1 L1677,3396.2 L1680,3396.3 L1683,3396.4 L1686,3396.5 L1689,3396.6 L1692,3396.6 L1695,3396.7 L1698,3396.8 L1701,3396.9 L1704,3397 L1707,3397 L1710,3397.1 L1713,3397.2 L1716,3397.3 L1719,3397.3 L1722,3397.4 L1725,3397.5 L1728,3397.5 L1731,3397.6 L1734,3397.6 L1737,3397.7 L1740,3397.7 L1743,3397.7 L1746,3397.8 L1749,3397.8 L1752,3397.8 L1755,3397.7 L1758,3397.7 L1761,3397.6 L1764,3397.6 L1767,3397.5 L1770,3397.3 L1773,3397.2 L1776,3397 L1779,3396.8 L1782,3396.5 L1785,3396.2 L1788,3395.8 L1791,3395.4 L1794,3394.9 L1797,3394.4 L1800,3393.8 L1803,3393.1 L1806,3392.3 L1809,3391.4 L1812,3390.4 L1815,3389.3 L1818,3388.1 L1821,3386.8 L1824,3385.3 L1827,3383.7 L1830,3382 L1833,3380.1 L1836,3378 L1839,3375.8 L1842,3373.4 L1845,3370.8 L1848,3368 L1851,3365 L1854,3361.9 L1857,3358.5 L1860,3354.9 L1863,3351.1 L1866,3347.2 L1869,3343 L1872,3338.6 L1875,3334 L1878,3329.2 L1881,3324.3 L1884,3319.1 L1887,3313.8 L1890,3308.4 L1893,3302.8 L1896,3297.1 L1899,3291.3 L1902,3285.4 L1905,3279.4 L1908,3273.5 L1911,3267.5 L1914,3261.5 L1917,3255.5 L1920,3249.6 L1923,3243.9 L1926,3238.2 L1929,3232.7 L1932,3227.4 L1935,3222.2 L1938,3217.4 L1941,3212.8 L1944,3208.5 L1947,3204.5 L1950,3200.8 L1953,3197.6 L1956,3194.7 L1959,3192.2 L1962,3190.1 L1965,3188.5 L1968,3187.3 L1971,3186.6 L1974,3186.4 L1977,3186.6 L1980,3187.4 L1983,3188.7 L1986,3190.5 L1989,3192.9 L1992,3195.7 L1995,3199 L1998,3202.8 L2001,3207 L2004,3211.5 L2007,3216.4 L2010,3221.6 L2013,3227.2 L2016,3233 L2019,3239 L2022,3245.2 L2025,3251.5 L2028,3258 L2031,3264.5 L2034,3271.1 L2037,3277.7 L2040,3284.2 L2043,3290.7 L2046,3297.2 L2049,3303.5 L2052,3309.7 L2055,3315.7 L2058,3321.5 L2061,3327.2 L2064,3332.7 L2067,3337.9 L2070,3342.9 L2073,3347.7 L2076,3352.3 L2079,3356.6 L2082,3360.7 L2085,3364.5 L2088,3368.1 L2091,3371.4 L2094,3374.6 L2097,3377.5 L2100,3380.2 L2103,3382.7 L2106,3385 L2109,3387.1 L2112,3389 L2115,3390.8 L2118,3392.4 L2121,3393.8 L2124,3395.1 L2127,3396.3 L2130,3397.4 L2133,3398.4 L2136,3399.2 L2139,3400 L2142,3400.7 L2145,3401.3 L2148,3401.8 L2151,3402.3 L2154,3402.7 L2157,3403.1 L2160,3403.4 L2163,3403.7 L2166,3404 L2169,3404.2 L2172,3404.4 L2175,3404.5 L2178,3404.7 L2181,3404.8 L2184,3404.9 L2187,3405 L2190,3405.1 L2193,3405.2 L2196,3405.2 L2199,3405.3 L2202,3405.3 L2205,3405.4 L2208,3405.4 L2211,3405.4 L2214,3405.5 L2217,3405.5 L2220,3405.5 L2223,3405.5 L2226,3405.6 L2229,3405.6 L2232,3405.6 L2235,3405.6 L2238,3405.6 L2241,3405.6 L2244,3405.7 L2247,3405.7 L2250,3405.7 L2253,3405.7 L2256,3405.7 L2259,3405.7 L2262,3405.7 L2265,3405.7 L2268,3405.8 L2271,3405.8 L2274,3405.8 L2277,3405.8 L2280,3405.8 L2283,3405.8 L2286,3405.8 L2289,3405.8 L2292,3405.8 L2295,3405.9 L2298,3405.9 L2301,3405.9 L2304,3405.9 L2307,3405.9 L2310,3405.9 L2313,3405.9 L2315,3407.5 L1377,3386.6 Z" fill="#6e7a3a"/></g><g clip-path="url(#cp10)"><path d="M1377,3385.1 L1380,3385.2 L1383,3385.4 L1386,3385.5 L1389,3385.6 L1392,3385.7 L1395,3385.8 L1398,3386 L1401,3386.1 L1404,3386.2 L1407,3386.3 L1410,3386.4 L1413,3386.6 L1416,3386.7 L1419,3386.8 L1422,3386.9 L1425,3387 L1428,3387.2 L1431,3387.3 L1434,3387.4 L1437,3387.5 L1440,3387.6 L1443,3387.7 L1446,3387.9 L1449,3388 L1452,3388.1 L1455,3388.2 L1458,3388.3 L1461,3388.5 L1464,3388.6 L1467,3388.7 L1470,3388.8 L1473,3388.9 L1476,3389.1 L1479,3389.2 L1482,3389.3 L1485,3389.4 L1488,3389.5 L1491,3389.7 L1494,3389.8 L1497,3389.9 L1500,3390 L1503,3390.1 L1506,3390.3 L1509,3390.4 L1512,3390.5 L1515,3390.6 L1518,3390.7 L1521,3390.9 L1524,3391 L1527,3391.1 L1530,3391.2 L1533,3391.3 L1536,3391.4 L1539,3391.6 L1542,3391.7 L1545,3391.8 L1548,3391.9 L1551,3392 L1554,3392.1 L1557,3392.3 L1560,3392.4 L1563,3392.5 L1566,3392.6 L1569,3392.7 L1572,3392.8 L1575,3392.9 L1578,3393 L1581,3393.2 L1584,3393.3 L1587,3393.4 L1590,3393.5 L1593,3393.6 L1596,3393.6 L1599,3393.7 L1602,3393.8 L1605,3393.9 L1608,3393.9 L1611,3394 L1614,3394 L1617,3394 L1620,3394 L1623,3394.1 L1626,3394.1 L1629,3394 L1632,3394 L1635,3394 L1638,3393.9 L1641,3393.9 L1644,3393.8 L1647,3393.7 L1650,3393.6 L1653,3393.4 L1656,3393.3 L1659,3393.1 L1662,3392.8 L1665,3392.6 L1668,3392.3 L1671,3391.9 L1674,3391.5 L1677,3391.1 L1680,3390.6 L1683,3390.1 L1686,3389.5 L1689,3388.9 L1692,3388.1 L1695,3387.3 L1698,3386.5 L1701,3385.5 L1704,3384.5 L1707,3383.3 L1710,3382.1 L1713,3380.8 L1716,3379.3 L1719,3377.8 L1722,3376.1 L1725,3374.3 L1728,3372.3 L1731,3370.3 L1734,3368 L1737,3365.7 L1740,3363.1 L1743,3360.4 L1746,3357.5 L1749,3354.5 L1752,3351.3 L1755,3347.9 L1758,3344.3 L1761,3340.5 L1764,3336.5 L1767,3332.3 L1770,3328 L1773,3323.4 L1776,3318.6 L1779,3313.6 L1782,3308.5 L1785,3303.1 L1788,3297.5 L1791,3291.8 L1794,3285.9 L1797,3279.7 L1800,3273.5 L1803,3267 L1806,3260.4 L1809,3253.6 L1812,3246.7 L1815,3239.7 L1818,3232.5 L1821,3225.3 L1824,3218 L1827,3210.6 L1830,3203.2 L1833,3195.8 L1836,3188.4 L1839,3180.9 L1842,3173.5 L1845,3166.2 L1848,3158.9 L1851,3151.7 L1854,3144.7 L1857,3137.8 L1860,3131 L1863,3124.4 L1866,3118.1 L1869,3112 L1872,3106.1 L1875,3100.5 L1878,3095.2 L1881,3090.2 L1884,3085.5 L1887,3081.2 L1890,3077.2 L1893,3073.6 L1896,3070.5 L1899,3067.7 L1902,3065.3 L1905,3063.4 L1908,3061.9 L1911,3060.8 L1914,3060.2 L1917,3060 L1920,3060.3 L1923,3061.1 L1926,3062.3 L1929,3064 L1932,3066.1 L1935,3068.6 L1938,3071.6 L1941,3075.1 L1944,3078.9 L1947,3083.1 L1950,3087.7 L1953,3092.6 L1956,3097.9 L1959,3103.5 L1962,3109.4 L1965,3115.6 L1968,3122 L1971,3128.7 L1974,3135.6 L1977,3142.7 L1980,3149.9 L1983,3157.3 L1986,3164.8 L1989,3172.4 L1992,3180 L1995,3187.7 L1998,3195.4 L2001,3203.1 L2004,3210.8 L2007,3218.4 L2010,3226 L2013,3233.4 L2016,3240.8 L2019,3248.1 L2022,3255.3 L2025,3262.3 L2028,3269.2 L2031,3276 L2034,3282.5 L2037,3288.9 L2040,3295.1 L2043,3301.2 L2046,3307 L2049,3312.6 L2052,3318 L2055,3323.2 L2058,3328.3 L2061,3333.1 L2064,3337.7 L2067,3342 L2070,3346.2 L2073,3350.2 L2076,3354 L2079,3357.6 L2082,3361 L2085,3364.2 L2088,3367.2 L2091,3370.1 L2094,3372.8 L2097,3375.3 L2100,3377.7 L2103,3379.9 L2106,3382 L2109,3383.9 L2112,3385.7 L2115,3387.4 L2118,3388.9 L2121,3390.4 L2124,3391.7 L2127,3393 L2130,3394.1 L2133,3395.2 L2136,3396.1 L2139,3397 L2142,3397.8 L2145,3398.6 L2148,3399.3 L2151,3399.9 L2154,3400.5 L2157,3401 L2160,3401.5 L2163,3401.9 L2166,3402.3 L2169,3402.6 L2172,3403 L2175,3403.3 L2178,3403.5 L2181,3403.8 L2184,3404 L2187,3404.2 L2190,3404.3 L2193,3404.5 L2196,3404.6 L2199,3404.8 L2202,3404.9 L2205,3405 L2208,3405.1 L2211,3405.1 L2214,3405.2 L2217,3405.3 L2220,3405.3 L2223,3405.4 L2226,3405.5 L2229,3405.5 L2232,3405.5 L2235,3405.6 L2238,3405.6 L2241,3405.6 L2244,3405.7 L2247,3405.7 L2250,3405.7 L2253,3405.7 L2256,3405.7 L2259,3405.8 L2262,3405.8 L2265,3405.8 L2268,3405.8 L2271,3405.8 L2274,3405.8 L2277,3405.9 L2280,3405.9 L2283,3405.9 L2286,3405.9 L2289,3405.9 L2292,3405.9 L2295,3405.9 L2298,3405.9 L2301,3405.9 L2304,3406 L2307,3406 L2310,3406 L2313,3406 L2315,3407.5 L1377,3386.6 Z" fill="#678f33"/></g><g clip-path="url(#cp9)"><path d="M1377,3385.1 L1380,3385.2 L1383,3385.4 L1386,3385.5 L1389,3385.6 L1392,3385.7 L1395,3385.8 L1398,3386 L1401,3386.1 L1404,3386.2 L1407,3386.3 L1410,3386.4 L1413,3386.6 L1416,3386.7 L1419,3386.8 L1422,3386.9 L1425,3387 L1428,3387.2 L1431,3387.3 L1434,3387.4 L1437,3387.5 L1440,3387.6 L1443,3387.7 L1446,3387.9 L1449,3388 L1452,3388.1 L1455,3388.2 L1458,3388.3 L1461,3388.5 L1464,3388.6 L1467,3388.7 L1470,3388.8 L1473,3388.9 L1476,3389.1 L1479,3389.2 L1482,3389.3 L1485,3389.4 L1488,3389.5 L1491,3389.7 L1494,3389.8 L1497,3389.9 L1500,3390 L1503,3390.1 L1506,3390.3 L1509,3390.4 L1512,3390.5 L1515,3390.6 L1518,3390.7 L1521,3390.9 L1524,3391 L1527,3391.1 L1530,3391.2 L1533,3391.3 L1536,3391.4 L1539,3391.6 L1542,3391.7 L1545,3391.8 L1548,3391.9 L1551,3392 L1554,3392.1 L1557,3392.3 L1560,3392.4 L1563,3392.5 L1566,3392.6 L1569,3392.7 L1572,3392.8 L1575,3392.9 L1578,3393 L1581,3393.2 L1584,3393.3 L1587,3393.4 L1590,3393.5 L1593,3393.6 L1596,3393.6 L1599,3393.7 L1602,3393.8 L1605,3393.9 L1608,3393.9 L1611,3394 L1614,3394 L1617,3394 L1620,3394 L1623,3394.1 L1626,3394.1 L1629,3394 L1632,3394 L1635,3394 L1638,3393.9 L1641,3393.9 L1644,3393.8 L1647,3393.7 L1650,3393.6 L1653,3393.4 L1656,3393.3 L1659,3393.1 L1662,3392.8 L1665,3392.6 L1668,3392.3 L1671,3391.9 L1674,3391.5 L1677,3391.1 L1680,3390.6 L1683,3390.1 L1686,3389.5 L1689,3388.9 L1692,3388.1 L1695,3387.3 L1698,3386.5 L1701,3385.5 L1704,3384.5 L1707,3383.3 L1710,3382.1 L1713,3380.8 L1716,3379.3 L1719,3377.8 L1722,3376.1 L1725,3374.3 L1728,3372.3 L1731,3370.3 L1734,3368 L1737,3365.7 L1740,3363.1 L1743,3360.4 L1746,3357.5 L1749,3354.5 L1752,3351.3 L1755,3347.9 L1758,3344.3 L1761,3340.5 L1764,3336.5 L1767,3332.3 L1770,3328 L1773,3323.4 L1776,3318.6 L1779,3313.6 L1782,3308.5 L1785,3303.1 L1788,3297.5 L1791,3291.8 L1794,3285.9 L1797,3279.7 L1800,3273.5 L1803,3267 L1806,3260.4 L1809,3253.6 L1812,3246.7 L1815,3239.7 L1818,3232.5 L1821,3225.3 L1824,3218 L1827,3210.6 L1830,3203.2 L1833,3195.8 L1836,3188.4 L1839,3180.9 L1842,3173.5 L1845,3166.2 L1848,3158.9 L1851,3151.7 L1854,3144.7 L1857,3137.8 L1860,3131 L1863,3124.4 L1866,3118.1 L1869,3112 L1872,3106.1 L1875,3100.5 L1878,3095.2 L1881,3090.2 L1884,3085.5 L1887,3081.2 L1890,3077.2 L1893,3073.6 L1896,3070.5 L1899,3067.7 L1902,3065.3 L1905,3063.4 L1908,3061.9 L1911,3060.8 L1914,3060.2 L1917,3060 L1920,3060.3 L1923,3061.1 L1926,3062.3 L1929,3064 L1932,3066.1 L1935,3068.6 L1938,3071.6 L1941,3075.1 L1944,3078.9 L1947,3083.1 L1950,3087.7 L1953,3092.6 L1956,3097.9 L1959,3103.5 L1962,3109.4 L1965,3115.6 L1968,3122 L1971,3128.7 L1974,3135.6 L1977,3142.7 L1980,3149.9 L1983,3157.3 L1986,3164.8 L1989,3172.4 L1992,3180 L1995,3187.7 L1998,3195.4 L2001,3203.1 L2004,3210.8 L2007,3218.4 L2010,3226 L2013,3233.4 L2016,3240.8 L2019,3248.1 L2022,3255.3 L2025,3262.3 L2028,3269.2 L2031,3276 L2034,3282.5 L2037,3288.9 L2040,3295.1 L2043,3301.2 L2046,3307 L2049,3312.6 L2052,3318 L2055,3323.2 L2058,3328.3 L2061,3333.1 L2064,3337.7 L2067,3342 L2070,3346.2 L2073,3350.2 L2076,3354 L2079,3357.6 L2082,3361 L2085,3364.2 L2088,3367.2 L2091,3370.1 L2094,3372.8 L2097,3375.3 L2100,3377.7 L2103,3379.9 L2106,3382 L2109,3383.9 L2112,3385.7 L2115,3387.4 L2118,3388.9 L2121,3390.4 L2124,3391.7 L2127,3393 L2130,3394.1 L2133,3395.2 L2136,3396.1 L2139,3397 L2142,3397.8 L2145,3398.6 L2148,3399.3 L2151,3399.9 L2154,3400.5 L2157,3401 L2160,3401.5 L2163,3401.9 L2166,3402.3 L2169,3402.6 L2172,3403 L2175,3403.3 L2178,3403.5 L2181,3403.8 L2184,3404 L2187,3404.2 L2190,3404.3 L2193,3404.5 L2196,3404.6 L2199,3404.8 L2202,3404.9 L2205,3405 L2208,3405.1 L2211,3405.1 L2214,3405.2 L2217,3405.3 L2220,3405.3 L2223,3405.4 L2226,3405.5 L2229,3405.5 L2232,3405.5 L2235,3405.6 L2238,3405.6 L2241,3405.6 L2244,3405.7 L2247,3405.7 L2250,3405.7 L2253,3405.7 L2256,3405.7 L2259,3405.8 L2262,3405.8 L2265,3405.8 L2268,3405.8 L2271,3405.8 L2274,3405.8 L2277,3405.9 L2280,3405.9 L2283,3405.9 L2286,3405.9 L2289,3405.9 L2292,3405.9 L2295,3405.9 L2298,3405.9 L2301,3405.9 L2304,3406 L2307,3406 L2310,3406 L2313,3406 L2315,3407.5 L1377,3386.6 Z" fill="#5a9438"/></g><g clip-path="url(#cp11)"><path d="M1377,3380.8 L1380,3380.8 L1383,3380.8 L1386,3380.8 L1389,3380.8 L1392,3380.8 L1395,3380.7 L1398,3380.7 L1401,3380.7 L1404,3380.6 L1407,3380.6 L1410,3380.5 L1413,3380.4 L1416,3380.3 L1419,3380.3 L1422,3380.1 L1425,3380 L1428,3379.9 L1431,3379.8 L1434,3379.6 L1437,3379.4 L1440,3379.2 L1443,3379 L1446,3378.8 L1449,3378.6 L1452,3378.3 L1455,3378 L1458,3377.7 L1461,3377.4 L1464,3377.1 L1467,3376.7 L1470,3376.3 L1473,3375.9 L1476,3375.5 L1479,3375 L1482,3374.5 L1485,3374 L1488,3373.5 L1491,3372.9 L1494,3372.3 L1497,3371.6 L1500,3371 L1503,3370.2 L1506,3369.5 L1509,3368.7 L1512,3367.9 L1515,3367 L1518,3366.1 L1521,3365.2 L1524,3364.2 L1527,3363.1 L1530,3362.1 L1533,3360.9 L1536,3359.8 L1539,3358.6 L1542,3357.3 L1545,3356 L1548,3354.6 L1551,3353.2 L1554,3351.7 L1557,3350.2 L1560,3348.7 L1563,3347 L1566,3345.4 L1569,3343.6 L1572,3341.9 L1575,3340 L1578,3338.1 L1581,3336.2 L1584,3334.2 L1587,3332.2 L1590,3330.1 L1593,3327.9 L1596,3325.7 L1599,3323.4 L1602,3321.1 L1605,3318.7 L1608,3316.3 L1611,3313.8 L1614,3311.3 L1617,3308.7 L1620,3306.1 L1623,3303.4 L1626,3300.7 L1629,3297.9 L1632,3295.1 L1635,3292.3 L1638,3289.5 L1641,3286.6 L1644,3283.7 L1647,3280.8 L1650,3277.8 L1653,3274.8 L1656,3271.8 L1659,3268.8 L1662,3265.8 L1665,3262.8 L1668,3259.8 L1671,3256.7 L1674,3253.7 L1677,3250.7 L1680,3247.7 L1683,3244.7 L1686,3241.7 L1689,3238.8 L1692,3235.9 L1695,3233 L1698,3230.1 L1701,3227.3 L1704,3224.6 L1707,3221.9 L1710,3219.2 L1713,3216.6 L1716,3214.1 L1719,3211.6 L1722,3209.2 L1725,3206.9 L1728,3204.7 L1731,3202.6 L1734,3200.5 L1737,3198.6 L1740,3196.7 L1743,3195 L1746,3193.3 L1749,3191.8 L1752,3190.4 L1755,3189.1 L1758,3187.9 L1761,3186.8 L1764,3185.9 L1767,3185.1 L1770,3184.4 L1773,3183.9 L1776,3183.5 L1779,3183.2 L1782,3183.1 L1785,3183.1 L1788,3183.3 L1791,3183.5 L1794,3183.9 L1797,3184.3 L1800,3184.9 L1803,3185.5 L1806,3186.2 L1809,3187.1 L1812,3188 L1815,3189.1 L1818,3190.2 L1821,3191.4 L1824,3192.7 L1827,3194.2 L1830,3195.7 L1833,3197.2 L1836,3198.9 L1839,3200.6 L1842,3202.5 L1845,3204.4 L1848,3206.3 L1851,3208.4 L1854,3210.5 L1857,3212.6 L1860,3214.9 L1863,3217.1 L1866,3219.5 L1869,3221.9 L1872,3224.3 L1875,3226.8 L1878,3229.3 L1881,3231.9 L1884,3234.4 L1887,3237.1 L1890,3239.7 L1893,3242.4 L1896,3245.1 L1899,3247.8 L1902,3250.6 L1905,3253.3 L1908,3256.1 L1911,3258.9 L1914,3261.7 L1917,3264.5 L1920,3267.3 L1923,3270.1 L1926,3272.9 L1929,3275.7 L1932,3278.4 L1935,3281.2 L1938,3284 L1941,3286.7 L1944,3289.5 L1947,3292.2 L1950,3294.9 L1953,3297.5 L1956,3300.2 L1959,3302.8 L1962,3305.4 L1965,3308 L1968,3310.5 L1971,3313.1 L1974,3315.5 L1977,3318 L1980,3320.4 L1983,3322.8 L1986,3325.1 L1989,3327.5 L1992,3329.7 L1995,3332 L1998,3334.2 L2001,3336.3 L2004,3338.4 L2007,3340.4 L2010,3342.3 L2013,3344.3 L2016,3346.2 L2019,3348 L2022,3349.8 L2025,3351.6 L2028,3353.3 L2031,3355 L2034,3356.7 L2037,3358.3 L2040,3359.9 L2043,3361.4 L2046,3362.9 L2049,3364.3 L2052,3365.7 L2055,3367.1 L2058,3368.4 L2061,3369.7 L2064,3371 L2067,3372.2 L2070,3373.4 L2073,3374.5 L2076,3375.6 L2079,3376.7 L2082,3377.7 L2085,3378.7 L2088,3379.7 L2091,3380.6 L2094,3381.5 L2097,3382.4 L2100,3383.3 L2103,3384.1 L2106,3384.9 L2109,3385.6 L2112,3386.4 L2115,3387.1 L2118,3387.7 L2121,3388.4 L2124,3389 L2127,3389.6 L2130,3390.2 L2133,3390.8 L2136,3391.3 L2139,3391.8 L2142,3392.3 L2145,3392.8 L2148,3393.3 L2151,3393.7 L2154,3394.1 L2157,3394.5 L2160,3394.9 L2163,3395.3 L2166,3395.7 L2169,3396 L2172,3396.3 L2175,3396.6 L2178,3396.9 L2181,3397.2 L2184,3397.5 L2187,3397.8 L2190,3398 L2193,3398.3 L2196,3398.5 L2199,3398.7 L2202,3398.9 L2205,3399.1 L2208,3399.3 L2211,3399.5 L2214,3399.7 L2217,3399.9 L2220,3400 L2223,3400.2 L2226,3400.3 L2229,3400.5 L2232,3400.6 L2235,3400.8 L2238,3400.9 L2241,3401 L2244,3401.1 L2247,3401.2 L2250,3401.3 L2253,3401.5 L2256,3401.6 L2259,3401.7 L2262,3401.7 L2265,3401.8 L2268,3401.9 L2271,3402 L2274,3402.1 L2277,3402.2 L2280,3402.2 L2283,3402.3 L2286,3402.4 L2289,3402.4 L2292,3402.5 L2295,3402.6 L2298,3402.6 L2301,3402.7 L2304,3402.8 L2307,3402.8 L2310,3402.9 L2313,3402.9 L2315,3407.5 L1377,3386.6 Z" fill="#1c731c"/></g><g clip-path="url(#cp10)"><path d="M1377,3380.8 L1380,3380.8 L1383,3380.8 L1386,3380.8 L1389,3380.8 L1392,3380.8 L1395,3380.7 L1398,3380.7 L1401,3380.7 L1404,3380.6 L1407,3380.6 L1410,3380.5 L1413,3380.4 L1416,3380.3 L1419,3380.3 L1422,3380.1 L1425,3380 L1428,3379.9 L1431,3379.8 L1434,3379.6 L1437,3379.4 L1440,3379.2 L1443,3379 L1446,3378.8 L1449,3378.6 L1452,3378.3 L1455,3378 L1458,3377.7 L1461,3377.4 L1464,3377.1 L1467,3376.7 L1470,3376.3 L1473,3375.9 L1476,3375.5 L1479,3375 L1482,3374.5 L1485,3374 L1488,3373.5 L1491,3372.9 L1494,3372.3 L1497,3371.6 L1500,3371 L1503,3370.2 L1506,3369.5 L1509,3368.7 L1512,3367.9 L1515,3367 L1518,3366.1 L1521,3365.2 L1524,3364.2 L1527,3363.1 L1530,3362.1 L1533,3360.9 L1536,3359.8 L1539,3358.6 L1542,3357.3 L1545,3356 L1548,3354.6 L1551,3353.2 L1554,3351.7 L1557,3350.2 L1560,3348.7 L1563,3347 L1566,3345.4 L1569,3343.6 L1572,3341.9 L1575,3340 L1578,3338.1 L1581,3336.2 L1584,3334.2 L1587,3332.2 L1590,3330.1 L1593,3327.9 L1596,3325.7 L1599,3323.4 L1602,3321.1 L1605,3318.7 L1608,3316.3 L1611,3313.8 L1614,3311.3 L1617,3308.7 L1620,3306.1 L1623,3303.4 L1626,3300.7 L1629,3297.9 L1632,3295.1 L1635,3292.3 L1638,3289.5 L1641,3286.6 L1644,3283.7 L1647,3280.8 L1650,3277.8 L1653,3274.8 L1656,3271.8 L1659,3268.8 L1662,3265.8 L1665,3262.8 L1668,3259.8 L1671,3256.7 L1674,3253.7 L1677,3250.7 L1680,3247.7 L1683,3244.7 L1686,3241.7 L1689,3238.8 L1692,3235.9 L1695,3233 L1698,3230.1 L1701,3227.3 L1704,3224.6 L1707,3221.9 L1710,3219.2 L1713,3216.6 L1716,3214.1 L1719,3211.6 L1722,3209.2 L1725,3206.9 L1728,3204.7 L1731,3202.6 L1734,3200.5 L1737,3198.6 L1740,3196.7 L1743,3195 L1746,3193.3 L1749,3191.8 L1752,3190.4 L1755,3189.1 L1758,3187.9 L1761,3186.8 L1764,3185.9 L1767,3185.1 L1770,3184.4 L1773,3183.9 L1776,3183.5 L1779,3183.2 L1782,3183.1 L1785,3183.1 L1788,3183.3 L1791,3183.5 L1794,3183.9 L1797,3184.3 L1800,3184.9 L1803,3185.5 L1806,3186.2 L1809,3187.1 L1812,3188 L1815,3189.1 L1818,3190.2 L1821,3191.4 L1824,3192.7 L1827,3194.2 L1830,3195.7 L1833,3197.2 L1836,3198.9 L1839,3200.6 L1842,3202.5 L1845,3204.4 L1848,3206.3 L1851,3208.4 L1854,3210.5 L1857,3212.6 L1860,3214.9 L1863,3217.1 L1866,3219.5 L1869,3221.9 L1872,3224.3 L1875,3226.8 L1878,3229.3 L1881,3231.9 L1884,3234.4 L1887,3237.1 L1890,3239.7 L1893,3242.4 L1896,3245.1 L1899,3247.8 L1902,3250.6 L1905,3253.3 L1908,3256.1 L1911,3258.9 L1914,3261.7 L1917,3264.5 L1920,3267.3 L1923,3270.1 L1926,3272.9 L1929,3275.7 L1932,3278.4 L1935,3281.2 L1938,3284 L1941,3286.7 L1944,3289.5 L1947,3292.2 L1950,3294.9 L1953,3297.5 L1956,3300.2 L1959,3302.8 L1962,3305.4 L1965,3308 L1968,3310.5 L1971,3313.1 L1974,3315.5 L1977,3318 L1980,3320.4 L1983,3322.8 L1986,3325.1 L1989,3327.5 L1992,3329.7 L1995,3332 L1998,3334.2 L2001,3336.3 L2004,3338.4 L2007,3340.4 L2010,3342.3 L2013,3344.3 L2016,3346.2 L2019,3348 L2022,3349.8 L2025,3351.6 L2028,3353.3 L2031,3355 L2034,3356.7 L2037,3358.3 L2040,3359.9 L2043,3361.4 L2046,3362.9 L2049,3364.3 L2052,3365.7 L2055,3367.1 L2058,3368.4 L2061,3369.7 L2064,3371 L2067,3372.2 L2070,3373.4 L2073,3374.5 L2076,3375.6 L2079,3376.7 L2082,3377.7 L2085,3378.7 L2088,3379.7 L2091,3380.6 L2094,3381.5 L2097,3382.4 L2100,3383.3 L2103,3384.1 L2106,3384.9 L2109,3385.6 L2112,3386.4 L2115,3387.1 L2118,3387.7 L2121,3388.4 L2124,3389 L2127,3389.6 L2130,3390.2 L2133,3390.8 L2136,3391.3 L2139,3391.8 L2142,3392.3 L2145,3392.8 L2148,3393.3 L2151,3393.7 L2154,3394.1 L2157,3394.5 L2160,3394.9 L2163,3395.3 L2166,3395.7 L2169,3396 L2172,3396.3 L2175,3396.6 L2178,3396.9 L2181,3397.2 L2184,3397.5 L2187,3397.8 L2190,3398 L2193,3398.3 L2196,3398.5 L2199,3398.7 L2202,3398.9 L2205,3399.1 L2208,3399.3 L2211,3399.5 L2214,3399.7 L2217,3399.9 L2220,3400 L2223,3400.2 L2226,3400.3 L2229,3400.5 L2232,3400.6 L2235,3400.8 L2238,3400.9 L2241,3401 L2244,3401.1 L2247,3401.2 L2250,3401.3 L2253,3401.5 L2256,3401.6 L2259,3401.7 L2262,3401.7 L2265,3401.8 L2268,3401.9 L2271,3402 L2274,3402.1 L2277,3402.2 L2280,3402.2 L2283,3402.3 L2286,3402.4 L2289,3402.4 L2292,3402.5 L2295,3402.6 L2298,3402.6 L2301,3402.7 L2304,3402.8 L2307,3402.8 L2310,3402.9 L2313,3402.9 L2315,3407.5 L1377,3386.6 Z" fill="#2e6a14"/></g><g clip-path="url(#cp9)"><g clip-path="url(#cp10)"><path d="M1377,3385.1 L1380,3385.2 L1383,3385.4 L1386,3385.5 L1389,3385.6 L1392,3385.7 L1395,3385.8 L1398,3386 L1401,3386.1 L1404,3386.2 L1407,3386.3 L1410,3386.4 L1413,3386.6 L1416,3386.7 L1419,3386.8 L1422,3386.9 L1425,3387 L1428,3387.2 L1431,3387.3 L1434,3387.4 L1437,3387.5 L1440,3387.6 L1443,3387.7 L1446,3387.9 L1449,3388 L1452,3388.1 L1455,3388.2 L1458,3388.3 L1461,3388.5 L1464,3388.6 L1467,3388.7 L1470,3388.8 L1473,3388.9 L1476,3389.1 L1479,3389.2 L1482,3389.3 L1485,3389.4 L1488,3389.5 L1491,3389.7 L1494,3389.8 L1497,3389.9 L1500,3390 L1503,3390.1 L1506,3390.3 L1509,3390.4 L1512,3390.5 L1515,3390.6 L1518,3390.7 L1521,3390.9 L1524,3391 L1527,3391.1 L1530,3391.2 L1533,3391.3 L1536,3391.4 L1539,3391.6 L1542,3391.7 L1545,3391.8 L1548,3391.9 L1551,3392 L1554,3392.1 L1557,3392.3 L1560,3392.4 L1563,3392.5 L1566,3392.6 L1569,3392.7 L1572,3392.8 L1575,3392.9 L1578,3393 L1581,3393.2 L1584,3393.3 L1587,3393.4 L1590,3393.5 L1593,3393.6 L1596,3393.6 L1599,3393.7 L1602,3393.8 L1605,3393.9 L1608,3393.9 L1611,3394 L1614,3394 L1617,3394 L1620,3394 L1623,3394.1 L1626,3394.1 L1629,3394 L1632,3394 L1635,3394 L1638,3393.9 L1641,3393.9 L1644,3393.8 L1647,3393.7 L1650,3393.6 L1653,3393.4 L1656,3393.3 L1659,3393.1 L1662,3392.8 L1665,3392.6 L1668,3392.3 L1671,3391.9 L1674,3391.5 L1677,3391.1 L1680,3390.6 L1683,3390.1 L1686,3389.5 L1689,3388.9 L1692,3388.1 L1695,3387.3 L1698,3386.5 L1701,3385.5 L1704,3384.5 L1707,3383.3 L1710,3382.1 L1713,3380.8 L1716,3379.3 L1719,3377.8 L1722,3376.1 L1725,3374.3 L1728,3372.3 L1731,3370.3 L1734,3368 L1737,3365.7 L1740,3363.1 L1743,3360.4 L1746,3357.5 L1749,3354.5 L1752,3351.3 L1755,3347.9 L1758,3344.3 L1761,3340.5 L1764,3336.5 L1767,3332.3 L1770,3328 L1773,3323.4 L1776,3318.6 L1779,3313.6 L1782,3308.5 L1785,3303.1 L1788,3297.5 L1791,3291.8 L1794,3285.9 L1797,3279.7 L1800,3273.5 L1803,3267 L1806,3260.4 L1809,3253.6 L1812,3246.7 L1815,3239.7 L1818,3232.5 L1821,3225.3 L1824,3218 L1827,3210.6 L1830,3203.2 L1833,3195.8 L1836,3188.4 L1839,3180.9 L1842,3173.5 L1845,3166.2 L1848,3158.9 L1851,3151.7 L1854,3144.7 L1857,3137.8 L1860,3131 L1863,3124.4 L1866,3118.1 L1869,3112 L1872,3106.1 L1875,3100.5 L1878,3095.2 L1881,3090.2 L1884,3085.5 L1887,3081.2 L1890,3077.2 L1893,3073.6 L1896,3070.5 L1899,3067.7 L1902,3065.3 L1905,3063.4 L1908,3061.9 L1911,3060.8 L1914,3060.2 L1917,3060 L1920,3060.3 L1923,3061.1 L1926,3062.3 L1929,3064 L1932,3066.1 L1935,3068.6 L1938,3071.6 L1941,3075.1 L1944,3078.9 L1947,3083.1 L1950,3087.7 L1953,3092.6 L1956,3097.9 L1959,3103.5 L1962,3109.4 L1965,3115.6 L1968,3122 L1971,3128.7 L1974,3135.6 L1977,3142.7 L1980,3149.9 L1983,3157.3 L1986,3164.8 L1989,3172.4 L1992,3180 L1995,3187.7 L1998,3195.4 L2001,3203.1 L2004,3210.8 L2007,3218.4 L2010,3226 L2013,3233.4 L2016,3240.8 L2019,3248.1 L2022,3255.3 L2025,3262.3 L2028,3269.2 L2031,3276 L2034,3282.5 L2037,3288.9 L2040,3295.1 L2043,3301.2 L2046,3307 L2049,3312.6 L2052,3318 L2055,3323.2 L2058,3328.3 L2061,3333.1 L2064,3337.7 L2067,3342 L2070,3346.2 L2073,3350.2 L2076,3354 L2079,3357.6 L2082,3361 L2085,3364.2 L2088,3367.2 L2091,3370.1 L2094,3372.8 L2097,3375.3 L2100,3377.7 L2103,3379.9 L2106,3382 L2109,3383.9 L2112,3385.7 L2115,3387.4 L2118,3388.9 L2121,3390.4 L2124,3391.7 L2127,3393 L2130,3394.1 L2133,3395.2 L2136,3396.1 L2139,3397 L2142,3397.8 L2145,3398.6 L2148,3399.3 L2151,3399.9 L2154,3400.5 L2157,3401 L2160,3401.5 L2163,3401.9 L2166,3402.3 L2169,3402.6 L2172,3403 L2175,3403.3 L2178,3403.5 L2181,3403.8 L2184,3404 L2187,3404.2 L2190,3404.3 L2193,3404.5 L2196,3404.6 L2199,3404.8 L2202,3404.9 L2205,3405 L2208,3405.1 L2211,3405.1 L2214,3405.2 L2217,3405.3 L2220,3405.3 L2223,3405.4 L2226,3405.5 L2229,3405.5 L2232,3405.5 L2235,3405.6 L2238,3405.6 L2241,3405.6 L2244,3405.7 L2247,3405.7 L2250,3405.7 L2253,3405.7 L2256,3405.7 L2259,3405.8 L2262,3405.8 L2265,3405.8 L2268,3405.8 L2271,3405.8 L2274,3405.8 L2277,3405.9 L2280,3405.9 L2283,3405.9 L2286,3405.9 L2289,3405.9 L2292,3405.9 L2295,3405.9 L2298,3405.9 L2301,3405.9 L2304,3406 L2307,3406 L2310,3406 L2313,3406 L2315,3407.5 L1377,3386.6 Z" fill="#5e8a28"/></g></g><g clip-path="url(#cp10)"><g clip-path="url(#cp11)"><path d="M1377,3380.8 L1380,3380.8 L1383,3380.8 L1386,3380.8 L1389,3380.8 L1392,3380.8 L1395,3380.7 L1398,3380.7 L1401,3380.7 L1404,3380.6 L1407,3380.6 L1410,3380.5 L1413,3380.4 L1416,3380.3 L1419,3380.3 L1422,3380.1 L1425,3380 L1428,3379.9 L1431,3379.8 L1434,3379.6 L1437,3379.4 L1440,3379.2 L1443,3379 L1446,3378.8 L1449,3378.6 L1452,3378.3 L1455,3378 L1458,3377.7 L1461,3377.4 L1464,3377.1 L1467,3376.7 L1470,3376.3 L1473,3375.9 L1476,3375.5 L1479,3375 L1482,3374.5 L1485,3374 L1488,3373.5 L1491,3372.9 L1494,3372.3 L1497,3371.6 L1500,3371 L1503,3370.2 L1506,3369.5 L1509,3368.7 L1512,3367.9 L1515,3367 L1518,3366.1 L1521,3365.2 L1524,3364.2 L1527,3363.1 L1530,3362.1 L1533,3360.9 L1536,3359.8 L1539,3358.6 L1542,3357.3 L1545,3356 L1548,3354.6 L1551,3353.2 L1554,3351.7 L1557,3350.2 L1560,3348.7 L1563,3347 L1566,3345.4 L1569,3343.6 L1572,3341.9 L1575,3340 L1578,3338.1 L1581,3336.2 L1584,3334.2 L1587,3332.2 L1590,3330.1 L1593,3327.9 L1596,3325.7 L1599,3323.4 L1602,3321.1 L1605,3318.7 L1608,3316.3 L1611,3313.8 L1614,3311.3 L1617,3308.7 L1620,3306.1 L1623,3303.4 L1626,3300.7 L1629,3297.9 L1632,3295.1 L1635,3292.3 L1638,3289.5 L1641,3286.6 L1644,3283.7 L1647,3280.8 L1650,3277.8 L1653,3274.8 L1656,3271.8 L1659,3268.8 L1662,3265.8 L1665,3262.8 L1668,3259.8 L1671,3256.7 L1674,3253.7 L1677,3250.7 L1680,3247.7 L1683,3244.7 L1686,3241.7 L1689,3238.8 L1692,3235.9 L1695,3233 L1698,3230.1 L1701,3227.3 L1704,3224.6 L1707,3221.9 L1710,3219.2 L1713,3216.6 L1716,3214.1 L1719,3211.6 L1722,3209.2 L1725,3206.9 L1728,3204.7 L1731,3202.6 L1734,3200.5 L1737,3198.6 L1740,3196.7 L1743,3195 L1746,3193.3 L1749,3191.8 L1752,3190.4 L1755,3189.1 L1758,3187.9 L1761,3186.8 L1764,3185.9 L1767,3185.1 L1770,3184.4 L1773,3183.9 L1776,3183.5 L1779,3183.2 L1782,3183.1 L1785,3183.1 L1788,3183.3 L1791,3183.5 L1794,3183.9 L1797,3184.3 L1800,3184.9 L1803,3185.5 L1806,3186.2 L1809,3187.1 L1812,3188 L1815,3189.1 L1818,3190.2 L1821,3191.4 L1824,3192.7 L1827,3194.2 L1830,3195.7 L1833,3197.2 L1836,3198.9 L1839,3200.6 L1842,3202.5 L1845,3204.4 L1848,3206.3 L1851,3208.4 L1854,3210.5 L1857,3212.6 L1860,3214.9 L1863,3217.1 L1866,3219.5 L1869,3221.9 L1872,3224.3 L1875,3226.8 L1878,3229.3 L1881,3231.9 L1884,3234.4 L1887,3237.1 L1890,3239.7 L1893,3242.4 L1896,3245.1 L1899,3247.8 L1902,3250.6 L1905,3253.3 L1908,3256.1 L1911,3258.9 L1914,3261.7 L1917,3264.5 L1920,3267.3 L1923,3270.1 L1926,3272.9 L1929,3275.7 L1932,3278.4 L1935,3281.2 L1938,3284 L1941,3286.7 L1944,3289.5 L1947,3292.2 L1950,3294.9 L1953,3297.5 L1956,3300.2 L1959,3302.8 L1962,3305.4 L1965,3308 L1968,3310.5 L1971,3313.1 L1974,3315.5 L1977,3318 L1980,3320.4 L1983,3322.8 L1986,3325.1 L1989,3327.5 L1992,3329.7 L1995,3332 L1998,3334.2 L2001,3336.3 L2004,3338.4 L2007,3340.4 L2010,3342.3 L2013,3344.3 L2016,3346.2 L2019,3348 L2022,3349.8 L2025,3351.6 L2028,3353.3 L2031,3355 L2034,3356.7 L2037,3358.3 L2040,3359.9 L2043,3361.4 L2046,3362.9 L2049,3364.3 L2052,3365.7 L2055,3367.1 L2058,3368.4 L2061,3369.7 L2064,3371 L2067,3372.2 L2070,3373.4 L2073,3374.5 L2076,3375.6 L2079,3376.7 L2082,3377.7 L2085,3378.7 L2088,3379.7 L2091,3380.6 L2094,3381.5 L2097,3382.4 L2100,3383.3 L2103,3384.1 L2106,3384.9 L2109,3385.6 L2112,3386.4 L2115,3387.1 L2118,3387.7 L2121,3388.4 L2124,3389 L2127,3389.6 L2130,3390.2 L2133,3390.8 L2136,3391.3 L2139,3391.8 L2142,3392.3 L2145,3392.8 L2148,3393.3 L2151,3393.7 L2154,3394.1 L2157,3394.5 L2160,3394.9 L2163,3395.3 L2166,3395.7 L2169,3396 L2172,3396.3 L2175,3396.6 L2178,3396.9 L2181,3397.2 L2184,3397.5 L2187,3397.8 L2190,3398 L2193,3398.3 L2196,3398.5 L2199,3398.7 L2202,3398.9 L2205,3399.1 L2208,3399.3 L2211,3399.5 L2214,3399.7 L2217,3399.9 L2220,3400 L2223,3400.2 L2226,3400.3 L2229,3400.5 L2232,3400.6 L2235,3400.8 L2238,3400.9 L2241,3401 L2244,3401.1 L2247,3401.2 L2250,3401.3 L2253,3401.5 L2256,3401.6 L2259,3401.7 L2262,3401.7 L2265,3401.8 L2268,3401.9 L2271,3402 L2274,3402.1 L2277,3402.2 L2280,3402.2 L2283,3402.3 L2286,3402.4 L2289,3402.4 L2292,3402.5 L2295,3402.6 L2298,3402.6 L2301,3402.7 L2304,3402.8 L2307,3402.8 L2310,3402.9 L2313,3402.9 L2315,3407.5 L1377,3386.6 Z" fill="#166a10"/></g></g><path d="M1377,3385.1 L1380,3385.2 L1383,3385.4 L1386,3385.5 L1389,3385.6 L1392,3385.7 L1395,3385.8 L1398,3386 L1401,3386.1 L1404,3386.2 L1407,3386.3 L1410,3386.4 L1413,3386.6 L1416,3386.7 L1419,3386.8 L1422,3386.9 L1425,3387 L1428,3387.2 L1431,3387.3 L1434,3387.4 L1437,3387.5 L1440,3387.6 L1443,3387.7 L1446,3387.9 L1449,3388 L1452,3388.1 L1455,3388.2 L1458,3388.3 L1461,3388.5 L1464,3388.6 L1467,3388.7 L1470,3388.8 L1473,3388.9 L1476,3389.1 L1479,3389.2 L1482,3389.3 L1485,3389.4 L1488,3389.5 L1491,3389.7 L1494,3389.8 L1497,3389.9 L1500,3390 L1503,3390.1 L1506,3390.3 L1509,3390.4 L1512,3390.5 L1515,3390.6 L1518,3390.7 L1521,3390.9 L1524,3391 L1527,3391.1 L1530,3391.2 L1533,3391.3 L1536,3391.5 L1539,3391.6 L1542,3391.7 L1545,3391.8 L1548,3391.9 L1551,3392 L1554,3392.2 L1557,3392.3 L1560,3392.4 L1563,3392.5 L1566,3392.6 L1569,3392.8 L1572,3392.9 L1575,3393 L1578,3393.1 L1581,3393.2 L1584,3393.4 L1587,3393.5 L1590,3393.6 L1593,3393.7 L1596,3393.8 L1599,3394 L1602,3394.1 L1605,3394.2 L1608,3394.2 L1611,3394.3 L1614,3394.4 L1617,3394.5 L1620,3394.6 L1623,3394.7 L1626,3394.8 L1629,3394.9 L1632,3395 L1635,3395.1 L1638,3395.1 L1641,3395.2 L1644,3395.3 L1647,3395.4 L1650,3395.5 L1653,3395.6 L1656,3395.7 L1659,3395.8 L1662,3395.9 L1665,3395.9 L1668,3396 L1671,3396.1 L1674,3396.2 L1677,3396.3 L1680,3396.4 L1683,3396.5 L1686,3396.6 L1689,3396.7 L1692,3396.8 L1695,3396.8 L1698,3396.9 L1701,3397 L1704,3397.1 L1707,3397.2 L1710,3397.3 L1713,3397.4 L1716,3397.5 L1719,3397.6 L1722,3397.7 L1725,3397.7 L1728,3397.8 L1731,3397.9 L1734,3398 L1737,3398.1 L1740,3398.2 L1743,3398.3 L1746,3398.4 L1749,3398.5 L1752,3398.6 L1755,3398.6 L1758,3398.7 L1761,3398.8 L1764,3398.9 L1767,3399 L1770,3399.1 L1773,3399.2 L1776,3399.3 L1779,3399.4 L1782,3399.5 L1785,3399.5 L1788,3399.6 L1791,3399.7 L1794,3399.8 L1797,3399.9 L1800,3400 L1803,3400.1 L1806,3400.1 L1809,3400.2 L1812,3400.3 L1815,3400.4 L1818,3400.4 L1821,3400.5 L1824,3400.6 L1827,3400.7 L1830,3400.7 L1833,3400.8 L1836,3400.9 L1839,3401 L1842,3401 L1845,3401.1 L1848,3401.2 L1851,3401.3 L1854,3401.3 L1857,3401.4 L1860,3401.5 L1863,3401.6 L1866,3401.6 L1869,3401.7 L1872,3401.8 L1875,3401.9 L1878,3401.9 L1881,3402 L1884,3402.1 L1887,3402.2 L1890,3402.2 L1893,3402.3 L1896,3402.4 L1899,3402.5 L1902,3402.5 L1905,3402.6 L1908,3402.7 L1911,3402.8 L1914,3402.8 L1917,3402.9 L1920,3403 L1923,3403 L1926,3403.1 L1929,3403.1 L1932,3403.2 L1935,3403.2 L1938,3403.3 L1941,3403.3 L1944,3403.4 L1947,3403.4 L1950,3403.4 L1953,3403.4 L1956,3403.4 L1959,3403.3 L1962,3403.3 L1965,3403.2 L1968,3403.1 L1971,3402.9 L1974,3402.8 L1977,3402.5 L1980,3402.3 L1983,3401.9 L1986,3401.6 L1989,3401.1 L1992,3400.6 L1995,3400 L1998,3399.3 L2001,3398.5 L2004,3397.5 L2007,3396.4 L2010,3395.2 L2013,3393.8 L2016,3392.3 L2019,3390.6 L2022,3388.8 L2025,3386.8 L2028,3384.6 L2031,3382.2 L2034,3379.6 L2037,3376.8 L2040,3373.8 L2043,3370.6 L2046,3367.3 L2049,3363.7 L2052,3359.9 L2055,3356 L2058,3351.8 L2061,3347.6 L2064,3343.1 L2067,3338.6 L2070,3334 L2073,3329.3 L2076,3324.5 L2079,3319.8 L2082,3315 L2085,3310.3 L2088,3305.7 L2091,3301.2 L2094,3296.9 L2097,3292.8 L2100,3288.9 L2103,3285.2 L2106,3281.9 L2109,3278.9 L2112,3276.2 L2115,3273.9 L2118,3272.1 L2121,3270.6 L2124,3269.6 L2127,3269 L2130,3268.9 L2133,3269.1 L2136,3269.8 L2139,3270.8 L2142,3272.1 L2145,3273.8 L2148,3275.8 L2151,3278.1 L2154,3280.8 L2157,3283.7 L2160,3286.8 L2163,3290.2 L2166,3293.8 L2169,3297.6 L2172,3301.5 L2175,3305.5 L2178,3309.7 L2181,3313.9 L2184,3318.2 L2187,3322.5 L2190,3326.8 L2193,3331.1 L2196,3335.3 L2199,3339.5 L2202,3343.6 L2205,3347.6 L2208,3351.5 L2211,3355.3 L2214,3358.9 L2217,3362.4 L2220,3365.7 L2223,3368.9 L2226,3371.9 L2229,3374.8 L2232,3377.5 L2235,3380 L2238,3382.4 L2241,3384.6 L2244,3386.6 L2247,3388.5 L2250,3390.3 L2253,3391.9 L2256,3393.4 L2259,3394.8 L2262,3396 L2265,3397.1 L2268,3398.1 L2271,3399.1 L2274,3399.9 L2277,3400.6 L2280,3401.3 L2283,3401.9 L2286,3402.4 L2289,3402.9 L2292,3403.3 L2295,3403.7 L2298,3404 L2301,3404.3 L2304,3404.5 L2307,3404.7 L2310,3404.9 L2313,3405.1" fill="none" stroke="#5c3a0a" stroke-width="5.5" stroke-linejoin="round"/><path d="M1377,3385.1 L1380,3385.2 L1383,3385.3 L1386,3385.5 L1389,3385.6 L1392,3385.7 L1395,3385.8 L1398,3385.9 L1401,3386 L1404,3386.2 L1407,3386.3 L1410,3386.4 L1413,3386.5 L1416,3386.6 L1419,3386.8 L1422,3386.9 L1425,3387 L1428,3387.1 L1431,3387.2 L1434,3387.4 L1437,3387.5 L1440,3387.6 L1443,3387.7 L1446,3387.8 L1449,3388 L1452,3388.1 L1455,3388.2 L1458,3388.3 L1461,3388.4 L1464,3388.6 L1467,3388.7 L1470,3388.8 L1473,3388.9 L1476,3389 L1479,3389.1 L1482,3389.3 L1485,3389.4 L1488,3389.5 L1491,3389.6 L1494,3389.7 L1497,3389.9 L1500,3390 L1503,3390.1 L1506,3390.2 L1509,3390.3 L1512,3390.5 L1515,3390.6 L1518,3390.7 L1521,3390.8 L1524,3390.9 L1527,3391 L1530,3391.2 L1533,3391.3 L1536,3391.4 L1539,3391.5 L1542,3391.6 L1545,3391.8 L1548,3391.9 L1551,3392 L1554,3392.1 L1557,3392.2 L1560,3392.4 L1563,3392.5 L1566,3392.6 L1569,3392.7 L1572,3392.8 L1575,3393 L1578,3393.1 L1581,3393.2 L1584,3393.3 L1587,3393.4 L1590,3393.5 L1593,3393.7 L1596,3393.8 L1599,3393.9 L1602,3394 L1605,3394.1 L1608,3394.2 L1611,3394.3 L1614,3394.4 L1617,3394.4 L1620,3394.5 L1623,3394.6 L1626,3394.7 L1629,3394.8 L1632,3394.9 L1635,3395 L1638,3395.1 L1641,3395.2 L1644,3395.2 L1647,3395.3 L1650,3395.4 L1653,3395.5 L1656,3395.6 L1659,3395.7 L1662,3395.8 L1665,3395.9 L1668,3395.9 L1671,3396 L1674,3396.1 L1677,3396.2 L1680,3396.3 L1683,3396.4 L1686,3396.5 L1689,3396.6 L1692,3396.6 L1695,3396.7 L1698,3396.8 L1701,3396.9 L1704,3397 L1707,3397 L1710,3397.1 L1713,3397.2 L1716,3397.3 L1719,3397.3 L1722,3397.4 L1725,3397.5 L1728,3397.5 L1731,3397.6 L1734,3397.6 L1737,3397.7 L1740,3397.7 L1743,3397.7 L1746,3397.8 L1749,3397.8 L1752,3397.8 L1755,3397.7 L1758,3397.7 L1761,3397.6 L1764,3397.6 L1767,3397.5 L1770,3397.3 L1773,3397.2 L1776,3397 L1779,3396.8 L1782,3396.5 L1785,3396.2 L1788,3395.8 L1791,3395.4 L1794,3394.9 L1797,3394.4 L1800,3393.8 L1803,3393.1 L1806,3392.3 L1809,3391.4 L1812,3390.4 L1815,3389.3 L1818,3388.1 L1821,3386.8 L1824,3385.3 L1827,3383.7 L1830,3382 L1833,3380.1 L1836,3378 L1839,3375.8 L1842,3373.4 L1845,3370.8 L1848,3368 L1851,3365 L1854,3361.9 L1857,3358.5 L1860,3354.9 L1863,3351.1 L1866,3347.2 L1869,3343 L1872,3338.6 L1875,3334 L1878,3329.2 L1881,3324.3 L1884,3319.1 L1887,3313.8 L1890,3308.4 L1893,3302.8 L1896,3297.1 L1899,3291.3 L1902,3285.4 L1905,3279.4 L1908,3273.5 L1911,3267.5 L1914,3261.5 L1917,3255.5 L1920,3249.6 L1923,3243.9 L1926,3238.2 L1929,3232.7 L1932,3227.4 L1935,3222.2 L1938,3217.4 L1941,3212.8 L1944,3208.5 L1947,3204.5 L1950,3200.8 L1953,3197.6 L1956,3194.7 L1959,3192.2 L1962,3190.1 L1965,3188.5 L1968,3187.3 L1971,3186.6 L1974,3186.4 L1977,3186.6 L1980,3187.4 L1983,3188.7 L1986,3190.5 L1989,3192.9 L1992,3195.7 L1995,3199 L1998,3202.8 L2001,3207 L2004,3211.5 L2007,3216.4 L2010,3221.6 L2013,3227.2 L2016,3233 L2019,3239 L2022,3245.2 L2025,3251.5 L2028,3258 L2031,3264.5 L2034,3271.1 L2037,3277.7 L2040,3284.2 L2043,3290.7 L2046,3297.2 L2049,3303.5 L2052,3309.7 L2055,3315.7 L2058,3321.5 L2061,3327.2 L2064,3332.7 L2067,3337.9 L2070,3342.9 L2073,3347.7 L2076,3352.3 L2079,3356.6 L2082,3360.7 L2085,3364.5 L2088,3368.1 L2091,3371.4 L2094,3374.6 L2097,3377.5 L2100,3380.2 L2103,3382.7 L2106,3385 L2109,3387.1 L2112,3389 L2115,3390.8 L2118,3392.4 L2121,3393.8 L2124,3395.1 L2127,3396.3 L2130,3397.4 L2133,3398.4 L2136,3399.2 L2139,3400 L2142,3400.7 L2145,3401.3 L2148,3401.8 L2151,3402.3 L2154,3402.7 L2157,3403.1 L2160,3403.4 L2163,3403.7 L2166,3404 L2169,3404.2 L2172,3404.4 L2175,3404.5 L2178,3404.7 L2181,3404.8 L2184,3404.9 L2187,3405 L2190,3405.1 L2193,3405.2 L2196,3405.2 L2199,3405.3 L2202,3405.3 L2205,3405.4 L2208,3405.4 L2211,3405.4 L2214,3405.5 L2217,3405.5 L2220,3405.5 L2223,3405.5 L2226,3405.6 L2229,3405.6 L2232,3405.6 L2235,3405.6 L2238,3405.6 L2241,3405.6 L2244,3405.7 L2247,3405.7 L2250,3405.7 L2253,3405.7 L2256,3405.7 L2259,3405.7 L2262,3405.7 L2265,3405.7 L2268,3405.8 L2271,3405.8 L2274,3405.8 L2277,3405.8 L2280,3405.8 L2283,3405.8 L2286,3405.8 L2289,3405.8 L2292,3405.8 L2295,3405.9 L2298,3405.9 L2301,3405.9 L2304,3405.9 L2307,3405.9 L2310,3405.9 L2313,3405.9" fill="none" stroke="#6a8a2a" stroke-width="5.5" stroke-linejoin="round"/><path d="M1377,3385.1 L1380,3385.2 L1383,3385.4 L1386,3385.5 L1389,3385.6 L1392,3385.7 L1395,3385.8 L1398,3386 L1401,3386.1 L1404,3386.2 L1407,3386.3 L1410,3386.4 L1413,3386.6 L1416,3386.7 L1419,3386.8 L1422,3386.9 L1425,3387 L1428,3387.2 L1431,3387.3 L1434,3387.4 L1437,3387.5 L1440,3387.6 L1443,3387.7 L1446,3387.9 L1449,3388 L1452,3388.1 L1455,3388.2 L1458,3388.3 L1461,3388.5 L1464,3388.6 L1467,3388.7 L1470,3388.8 L1473,3388.9 L1476,3389.1 L1479,3389.2 L1482,3389.3 L1485,3389.4 L1488,3389.5 L1491,3389.7 L1494,3389.8 L1497,3389.9 L1500,3390 L1503,3390.1 L1506,3390.3 L1509,3390.4 L1512,3390.5 L1515,3390.6 L1518,3390.7 L1521,3390.9 L1524,3391 L1527,3391.1 L1530,3391.2 L1533,3391.3 L1536,3391.4 L1539,3391.6 L1542,3391.7 L1545,3391.8 L1548,3391.9 L1551,3392 L1554,3392.1 L1557,3392.3 L1560,3392.4 L1563,3392.5 L1566,3392.6 L1569,3392.7 L1572,3392.8 L1575,3392.9 L1578,3393 L1581,3393.2 L1584,3393.3 L1587,3393.4 L1590,3393.5 L1593,3393.6 L1596,3393.6 L1599,3393.7 L1602,3393.8 L1605,3393.9 L1608,3393.9 L1611,3394 L1614,3394 L1617,3394 L1620,3394 L1623,3394.1 L1626,3394.1 L1629,3394 L1632,3394 L1635,3394 L1638,3393.9 L1641,3393.9 L1644,3393.8 L1647,3393.7 L1650,3393.6 L1653,3393.4 L1656,3393.3 L1659,3393.1 L1662,3392.8 L1665,3392.6 L1668,3392.3 L1671,3391.9 L1674,3391.5 L1677,3391.1 L1680,3390.6 L1683,3390.1 L1686,3389.5 L1689,3388.9 L1692,3388.1 L1695,3387.3 L1698,3386.5 L1701,3385.5 L1704,3384.5 L1707,3383.3 L1710,3382.1 L1713,3380.8 L1716,3379.3 L1719,3377.8 L1722,3376.1 L1725,3374.3 L1728,3372.3 L1731,3370.3 L1734,3368 L1737,3365.7 L1740,3363.1 L1743,3360.4 L1746,3357.5 L1749,3354.5 L1752,3351.3 L1755,3347.9 L1758,3344.3 L1761,3340.5 L1764,3336.5 L1767,3332.3 L1770,3328 L1773,3323.4 L1776,3318.6 L1779,3313.6 L1782,3308.5 L1785,3303.1 L1788,3297.5 L1791,3291.8 L1794,3285.9 L1797,3279.7 L1800,3273.5 L1803,3267 L1806,3260.4 L1809,3253.6 L1812,3246.7 L1815,3239.7 L1818,3232.5 L1821,3225.3 L1824,3218 L1827,3210.6 L1830,3203.2 L1833,3195.8 L1836,3188.4 L1839,3180.9 L1842,3173.5 L1845,3166.2 L1848,3158.9 L1851,3151.7 L1854,3144.7 L1857,3137.8 L1860,3131 L1863,3124.4 L1866,3118.1 L1869,3112 L1872,3106.1 L1875,3100.5 L1878,3095.2 L1881,3090.2 L1884,3085.5 L1887,3081.2 L1890,3077.2 L1893,3073.6 L1896,3070.5 L1899,3067.7 L1902,3065.3 L1905,3063.4 L1908,3061.9 L1911,3060.8 L1914,3060.2 L1917,3060 L1920,3060.3 L1923,3061.1 L1926,3062.3 L1929,3064 L1932,3066.1 L1935,3068.6 L1938,3071.6 L1941,3075.1 L1944,3078.9 L1947,3083.1 L1950,3087.7 L1953,3092.6 L1956,3097.9 L1959,3103.5 L1962,3109.4 L1965,3115.6 L1968,3122 L1971,3128.7 L1974,3135.6 L1977,3142.7 L1980,3149.9 L1983,3157.3 L1986,3164.8 L1989,3172.4 L1992,3180 L1995,3187.7 L1998,3195.4 L2001,3203.1 L2004,3210.8 L2007,3218.4 L2010,3226 L2013,3233.4 L2016,3240.8 L2019,3248.1 L2022,3255.3 L2025,3262.3 L2028,3269.2 L2031,3276 L2034,3282.5 L2037,3288.9 L2040,3295.1 L2043,3301.2 L2046,3307 L2049,3312.6 L2052,3318 L2055,3323.2 L2058,3328.3 L2061,3333.1 L2064,3337.7 L2067,3342 L2070,3346.2 L2073,3350.2 L2076,3354 L2079,3357.6 L2082,3361 L2085,3364.2 L2088,3367.2 L2091,3370.1 L2094,3372.8 L2097,3375.3 L2100,3377.7 L2103,3379.9 L2106,3382 L2109,3383.9 L2112,3385.7 L2115,3387.4 L2118,3388.9 L2121,3390.4 L2124,3391.7 L2127,3393 L2130,3394.1 L2133,3395.2 L2136,3396.1 L2139,3397 L2142,3397.8 L2145,3398.6 L2148,3399.3 L2151,3399.9 L2154,3400.5 L2157,3401 L2160,3401.5 L2163,3401.9 L2166,3402.3 L2169,3402.6 L2172,3403 L2175,3403.3 L2178,3403.5 L2181,3403.8 L2184,3404 L2187,3404.2 L2190,3404.3 L2193,3404.5 L2196,3404.6 L2199,3404.8 L2202,3404.9 L2205,3405 L2208,3405.1 L2211,3405.1 L2214,3405.2 L2217,3405.3 L2220,3405.3 L2223,3405.4 L2226,3405.5 L2229,3405.5 L2232,3405.5 L2235,3405.6 L2238,3405.6 L2241,3405.6 L2244,3405.7 L2247,3405.7 L2250,3405.7 L2253,3405.7 L2256,3405.7 L2259,3405.8 L2262,3405.8 L2265,3405.8 L2268,3405.8 L2271,3405.8 L2274,3405.8 L2277,3405.9 L2280,3405.9 L2283,3405.9 L2286,3405.9 L2289,3405.9 L2292,3405.9 L2295,3405.9 L2298,3405.9 L2301,3405.9 L2304,3406 L2307,3406 L2310,3406 L2313,3406" fill="none" stroke="#4e9a2e" stroke-width="5.5" stroke-linejoin="round"/><path d="M1377,3380.8 L1380,3380.8 L1383,3380.8 L1386,3380.8 L1389,3380.8 L1392,3380.8 L1395,3380.7 L1398,3380.7 L1401,3380.7 L1404,3380.6 L1407,3380.6 L1410,3380.5 L1413,3380.4 L1416,3380.3 L1419,3380.3 L1422,3380.1 L1425,3380 L1428,3379.9 L1431,3379.8 L1434,3379.6 L1437,3379.4 L1440,3379.2 L1443,3379 L1446,3378.8 L1449,3378.6 L1452,3378.3 L1455,3378 L1458,3377.7 L1461,3377.4 L1464,3377.1 L1467,3376.7 L1470,3376.3 L1473,3375.9 L1476,3375.5 L1479,3375 L1482,3374.5 L1485,3374 L1488,3373.5 L1491,3372.9 L1494,3372.3 L1497,3371.6 L1500,3371 L1503,3370.2 L1506,3369.5 L1509,3368.7 L1512,3367.9 L1515,3367 L1518,3366.1 L1521,3365.2 L1524,3364.2 L1527,3363.1 L1530,3362.1 L1533,3360.9 L1536,3359.8 L1539,3358.6 L1542,3357.3 L1545,3356 L1548,3354.6 L1551,3353.2 L1554,3351.7 L1557,3350.2 L1560,3348.7 L1563,3347 L1566,3345.4 L1569,3343.6 L1572,3341.9 L1575,3340 L1578,3338.1 L1581,3336.2 L1584,3334.2 L1587,3332.2 L1590,3330.1 L1593,3327.9 L1596,3325.7 L1599,3323.4 L1602,3321.1 L1605,3318.7 L1608,3316.3 L1611,3313.8 L1614,3311.3 L1617,3308.7 L1620,3306.1 L1623,3303.4 L1626,3300.7 L1629,3297.9 L1632,3295.1 L1635,3292.3 L1638,3289.5 L1641,3286.6 L1644,3283.7 L1647,3280.8 L1650,3277.8 L1653,3274.8 L1656,3271.8 L1659,3268.8 L1662,3265.8 L1665,3262.8 L1668,3259.8 L1671,3256.7 L1674,3253.7 L1677,3250.7 L1680,3247.7 L1683,3244.7 L1686,3241.7 L1689,3238.8 L1692,3235.9 L1695,3233 L1698,3230.1 L1701,3227.3 L1704,3224.6 L1707,3221.9 L1710,3219.2 L1713,3216.6 L1716,3214.1 L1719,3211.6 L1722,3209.2 L1725,3206.9 L1728,3204.7 L1731,3202.6 L1734,3200.5 L1737,3198.6 L1740,3196.7 L1743,3195 L1746,3193.3 L1749,3191.8 L1752,3190.4 L1755,3189.1 L1758,3187.9 L1761,3186.8 L1764,3185.9 L1767,3185.1 L1770,3184.4 L1773,3183.9 L1776,3183.5 L1779,3183.2 L1782,3183.1 L1785,3183.1 L1788,3183.3 L1791,3183.5 L1794,3183.9 L1797,3184.3 L1800,3184.9 L1803,3185.5 L1806,3186.2 L1809,3187.1 L1812,3188 L1815,3189.1 L1818,3190.2 L1821,3191.4 L1824,3192.7 L1827,3194.2 L1830,3195.7 L1833,3197.2 L1836,3198.9 L1839,3200.6 L1842,3202.5 L1845,3204.4 L1848,3206.3 L1851,3208.4 L1854,3210.5 L1857,3212.6 L1860,3214.9 L1863,3217.1 L1866,3219.5 L1869,3221.9 L1872,3224.3 L1875,3226.8 L1878,3229.3 L1881,3231.9 L1884,3234.4 L1887,3237.1 L1890,3239.7 L1893,3242.4 L1896,3245.1 L1899,3247.8 L1902,3250.6 L1905,3253.3 L1908,3256.1 L1911,3258.9 L1914,3261.7 L1917,3264.5 L1920,3267.3 L1923,3270.1 L1926,3272.9 L1929,3275.7 L1932,3278.4 L1935,3281.2 L1938,3284 L1941,3286.7 L1944,3289.5 L1947,3292.2 L1950,3294.9 L1953,3297.5 L1956,3300.2 L1959,3302.8 L1962,3305.4 L1965,3308 L1968,3310.5 L1971,3313.1 L1974,3315.5 L1977,3318 L1980,3320.4 L1983,3322.8 L1986,3325.1 L1989,3327.5 L1992,3329.7 L1995,3332 L1998,3334.2 L2001,3336.3 L2004,3338.4 L2007,3340.4 L2010,3342.3 L2013,3344.3 L2016,3346.2 L2019,3348 L2022,3349.8 L2025,3351.6 L2028,3353.3 L2031,3355 L2034,3356.7 L2037,3358.3 L2040,3359.9 L2043,3361.4 L2046,3362.9 L2049,3364.3 L2052,3365.7 L2055,3367.1 L2058,3368.4 L2061,3369.7 L2064,3371 L2067,3372.2 L2070,3373.4 L2073,3374.5 L2076,3375.6 L2079,3376.7 L2082,3377.7 L2085,3378.7 L2088,3379.7 L2091,3380.6 L2094,3381.5 L2097,3382.4 L2100,3383.3 L2103,3384.1 L2106,3384.9 L2109,3385.6 L2112,3386.4 L2115,3387.1 L2118,3387.7 L2121,3388.4 L2124,3389 L2127,3389.6 L2130,3390.2 L2133,3390.8 L2136,3391.3 L2139,3391.8 L2142,3392.3 L2145,3392.8 L2148,3393.3 L2151,3393.7 L2154,3394.1 L2157,3394.5 L2160,3394.9 L2163,3395.3 L2166,3395.7 L2169,3396 L2172,3396.3 L2175,3396.6 L2178,3396.9 L2181,3397.2 L2184,3397.5 L2187,3397.8 L2190,3398 L2193,3398.3 L2196,3398.5 L2199,3398.7 L2202,3398.9 L2205,3399.1 L2208,3399.3 L2211,3399.5 L2214,3399.7 L2217,3399.9 L2220,3400 L2223,3400.2 L2226,3400.3 L2229,3400.5 L2232,3400.6 L2235,3400.8 L2238,3400.9 L2241,3401 L2244,3401.1 L2247,3401.2 L2250,3401.3 L2253,3401.5 L2256,3401.6 L2259,3401.7 L2262,3401.7 L2265,3401.8 L2268,3401.9 L2271,3402 L2274,3402.1 L2277,3402.2 L2280,3402.2 L2283,3402.3 L2286,3402.4 L2289,3402.4 L2292,3402.5 L2295,3402.6 L2298,3402.6 L2301,3402.7 L2304,3402.8 L2307,3402.8 L2310,3402.9 L2313,3402.9" fill="none" stroke="#0c6a0c" stroke-width="5.5" stroke-linejoin="round"/><polyline points="1377,3386.6 1383,3386.9 1389,3387.1 1395,3387.3 1401,3387.6 1407,3387.8 1413,3388.1 1419,3388.3 1425,3388.5 1431,3388.8 1437,3389 1443,3389.2 1449,3389.5 1455,3389.7 1461,3390 1467,3390.2 1473,3390.4 1479,3390.7 1485,3390.9 1491,3391.2 1497,3391.4 1503,3391.6 1509,3391.9 1515,3392.1 1521,3392.4 1527,3392.6 1533,3392.8 1539,3393.1 1545,3393.3 1551,3393.5 1557,3393.8 1563,3394 1569,3394.3 1575,3394.5 1581,3394.7 1587,3395 1593,3395.2 1599,3395.5 1605,3395.7 1611,3395.8 1617,3396 1623,3396.2 1629,3396.4 1635,3396.6 1641,3396.7 1647,3396.9 1653,3397.1 1659,3397.3 1665,3397.4 1671,3397.6 1677,3397.8 1683,3398 1689,3398.2 1695,3398.3 1701,3398.5 1707,3398.7 1713,3398.9 1719,3399.1 1725,3399.2 1731,3399.4 1737,3399.6 1743,3399.8 1749,3400 1755,3400.2 1761,3400.3 1767,3400.5 1773,3400.7 1779,3400.9 1785,3401.1 1791,3401.2 1797,3401.4 1803,3401.6 1809,3401.7 1815,3401.9 1821,3402 1827,3402.2 1833,3402.3 1839,3402.5 1845,3402.6 1851,3402.8 1857,3402.9 1863,3403.1 1869,3403.2 1875,3403.4 1881,3403.5 1887,3403.7 1893,3403.8 1899,3404 1905,3404.1 1911,3404.3 1917,3404.4 1923,3404.6 1929,3404.7 1935,3404.9 1941,3405 1947,3405.2 1953,3405.3 1959,3405.5 1965,3405.6 1971,3405.8 1977,3405.9 1983,3406.1 1989,3406.2 1995,3406.4 2001,3406.5 2007,3406.5 2013,3406.5 2019,3406.6 2025,3406.6 2031,3406.6 2037,3406.6 2043,3406.6 2049,3406.7 2055,3406.7 2061,3406.7 2067,3406.7 2073,3406.7 2079,3406.7 2085,3406.8 2091,3406.8 2097,3406.8 2103,3406.8 2109,3406.8 2115,3406.9 2121,3406.9 2127,3406.9 2133,3406.9 2139,3406.9 2145,3407 2151,3407 2157,3407 2163,3407 2169,3407 2175,3407.1 2181,3407.1 2187,3407.1 2193,3407.1 2199,3407.1 2205,3407.1 2211,3407.2 2217,3407.2 2223,3407.2 2229,3407.2 2235,3407.2 2241,3407.3 2247,3407.3 2253,3407.3 2259,3407.3 2265,3407.3 2271,3407.4 2277,3407.4 2283,3407.4 2289,3407.4 2295,3407.4 2301,3407.4 2307,3407.5 2313,3407.5" fill="none" stroke="#0a6a0a" stroke-width="8" stroke-linejoin="round" stroke-linecap="round" /><path d="M1377,3384.4 L1380,3384 L1383,3383.7 L1386,3383.3 L1389,3383 L1392,3382.7 L1395,3382.4 L1398,3382 L1401,3381.7 L1404,3381.4 L1407,3381.1 L1410,3380.7 L1413,3380.4 L1416,3380.1 L1419,3379.7 L1422,3379.4 L1425,3379.1 L1428,3378.7 L1431,3378.4 L1434,3378 L1437,3377.7 L1440,3377.3 L1443,3376.9 L1446,3376.5 L1449,3376.1 L1452,3375.7 L1455,3375.3 L1458,3374.8 L1461,3374.4 L1464,3373.9 L1467,3373.4 L1470,3372.9 L1473,3372.4 L1476,3371.9 L1479,3371.3 L1482,3370.7 L1485,3370.1 L1488,3369.5 L1491,3368.9 L1494,3368.2 L1497,3367.5 L1500,3366.8 L1503,3366.1 L1506,3365.3 L1509,3364.5 L1512,3363.7 L1515,3362.9 L1518,3362 L1521,3361.1 L1524,3360.2 L1527,3359.2 L1530,3358.2 L1533,3357.2 L1536,3356.1 L1539,3355 L1542,3353.9 L1545,3352.7 L1548,3351.5 L1551,3350.2 L1554,3348.9 L1557,3347.6 L1560,3346.3 L1563,3344.8 L1566,3343.4 L1569,3341.9 L1572,3340.4 L1575,3338.8 L1578,3337.2 L1581,3335.5 L1584,3333.8 L1587,3332 L1590,3330.2 L1593,3328.3 L1596,3326.4 L1599,3324.4 L1602,3322.4 L1605,3320.3 L1608,3318.2 L1611,3316 L1614,3313.8 L1617,3311.5 L1620,3309.2 L1623,3306.8 L1626,3304.3 L1629,3301.8 L1632,3299.2 L1635,3296.6 L1638,3293.9 L1641,3291.1 L1644,3288.3 L1647,3285.4 L1650,3282.5 L1653,3279.4 L1656,3276.4 L1659,3273.2 L1662,3270 L1665,3266.7 L1668,3263.3 L1671,3259.9 L1674,3256.4 L1677,3252.8 L1680,3249.2 L1683,3245.5 L1686,3241.7 L1689,3237.8 L1692,3233.9 L1695,3229.9 L1698,3225.8 L1701,3221.6 L1704,3217.4 L1707,3213 L1710,3208.6 L1713,3204.1 L1716,3199.6 L1719,3194.9 L1722,3190.2 L1725,3185.4 L1728,3180.5 L1731,3175.5 L1734,3170.4 L1737,3165.3 L1740,3160.1 L1743,3154.9 L1746,3149.6 L1749,3144.2 L1752,3138.8 L1755,3133.3 L1758,3127.8 L1761,3122.2 L1764,3116.6 L1767,3111 L1770,3105.3 L1773,3099.6 L1776,3093.8 L1779,3088.1 L1782,3082.3 L1785,3076.5 L1788,3070.7 L1791,3064.8 L1794,3059 L1797,3053.1 L1800,3047.3 L1803,3041.3 L1806,3035.3 L1809,3029.3 L1812,3023.2 L1815,3017 L1818,3010.7 L1821,3004.3 L1824,2997.7 L1827,2991.1 L1830,2984.3 L1833,2977.4 L1836,2970.4 L1839,2963.3 L1842,2956.2 L1845,2949 L1848,2941.8 L1851,2934.6 L1854,2927.5 L1857,2920.3 L1860,2913.2 L1863,2906.2 L1866,2899.3 L1869,2892.5 L1872,2885.8 L1875,2879.2 L1878,2872.8 L1881,2866.6 L1884,2860.6 L1887,2854.8 L1890,2849.3 L1893,2844 L1896,2839 L1899,2834.2 L1902,2829.8 L1905,2825.7 L1908,2822 L1911,2818.6 L1914,2815.6 L1917,2813 L1920,2810.8 L1923,2809.1 L1926,2807.8 L1929,2807 L1932,2806.7 L1935,2806.9 L1938,2807.6 L1941,2808.8 L1944,2810.4 L1947,2812.6 L1950,2815.3 L1953,2818.5 L1956,2822.1 L1959,2826.2 L1962,2830.8 L1965,2835.9 L1968,2841.5 L1971,2847.5 L1974,2854 L1977,2861 L1980,2868.4 L1983,2876.3 L1986,2884.6 L1989,2893.4 L1992,2902.7 L1995,2912.3 L1998,2922.5 L2001,2933.1 L2004,2944.1 L2007,2955.4 L2010,2967.1 L2013,2979 L2016,2991.1 L2019,3003.3 L2022,3015.5 L2025,3027.7 L2028,3039.8 L2031,3051.8 L2034,3063.5 L2037,3074.9 L2040,3085.9 L2043,3096.6 L2046,3106.9 L2049,3116.8 L2052,3126.2 L2055,3135.2 L2058,3143.7 L2061,3151.8 L2064,3159.3 L2067,3166.4 L2070,3172.9 L2073,3178.8 L2076,3184.2 L2079,3189.1 L2082,3193.5 L2085,3197.6 L2088,3201.3 L2091,3204.7 L2094,3207.8 L2097,3210.7 L2100,3213.4 L2103,3216 L2106,3218.6 L2109,3221.1 L2112,3223.5 L2115,3226 L2118,3228.6 L2121,3231.2 L2124,3233.8 L2127,3236.5 L2130,3239.4 L2133,3242.4 L2136,3245.5 L2139,3248.7 L2142,3252.2 L2145,3255.9 L2148,3259.7 L2151,3263.7 L2154,3267.9 L2157,3272.2 L2160,3276.6 L2163,3281.2 L2166,3285.9 L2169,3290.6 L2172,3295.4 L2175,3300.3 L2178,3305.2 L2181,3310.2 L2184,3315.1 L2187,3320.1 L2190,3325 L2193,3329.9 L2196,3334.8 L2199,3339.6 L2202,3344.4 L2205,3349 L2208,3353.6 L2211,3358 L2214,3362.3 L2217,3366.5 L2220,3370.5 L2223,3374.3 L2226,3378 L2229,3381.4 L2232,3384.7 L2235,3387.7 L2238,3390.4 L2241,3392.9 L2244,3395.1 L2247,3397.1 L2250,3398.7 L2253,3400.1 L2256,3401.1 L2259,3402 L2262,3402.6 L2265,3403 L2268,3403.3 L2271,3403.4 L2274,3403.4 L2277,3403.3 L2280,3403.1 L2283,3402.8 L2286,3402.6 L2289,3402.3 L2292,3402.1 L2295,3401.9 L2298,3401.8 L2301,3401.8 L2304,3401.9 L2307,3402.1 L2310,3402.5 L2313,3403.2" fill="none" stroke="#ff9412" stroke-width="6" stroke-linejoin="round"/><line x1="1762.5" y1="3027.5" x2="1859.9" y2="3124.9" stroke="#000" stroke-width="6" stroke-linecap="butt"/><polygon points="1882.5,3147.5 1852.4,3129.5 1864.5,3117.4" fill="#000"/><line x1="1642.5" y1="3237" x2="1688.5" y2="3283.3" stroke="#000" stroke-width="6" stroke-linecap="butt"/><polygon points="1711,3306 1681,3287.9 1693.1,3275.9" fill="#000"/><line x1="2112" y1="3205" x2="2057.4" y2="3256.1" stroke="#000" stroke-width="6" stroke-linecap="butt"/><polygon points="2034,3278 2053,3248.6 2064.6,3261" fill="#000"/><line x1="2224.7" y1="3254.7" x2="2167" y2="3312.4" stroke="#000" stroke-width="6" stroke-linecap="butt"/><polygon points="2144.4,3335 2162.4,3304.9 2174.5,3317" fill="#000"/><text x="1686" y="3015" font-size="33" font-weight="normal" text-anchor="start" fill="#000" textLength="91.5" lengthAdjust="spacingAndGlyphs" stroke="#000" stroke-width="0.9">C-O-C</text><text x="1537.5" y="3224.5" font-size="33" font-weight="normal" text-anchor="start" fill="#000" textLength="100" lengthAdjust="spacingAndGlyphs" stroke="#000" stroke-width="0.9">O-C=O</text><text x="2106" y="3184.5" font-size="33" font-weight="normal" text-anchor="start" fill="#000" textLength="81" lengthAdjust="spacingAndGlyphs" stroke="#000" stroke-width="0.9">C-OH</text><text x="2215" y="3238" font-size="33" font-weight="normal" text-anchor="start" fill="#000" textLength="65" lengthAdjust="spacingAndGlyphs" stroke="#000" stroke-width="0.9">C=O</text><text x="1250" y="2692.5" font-size="47" font-weight="bold" text-anchor="start" fill="#000" >h</text><line x1="1374" y1="3421" x2="1374" y2="3434.5" stroke="#000" stroke-width="7.5" stroke-linecap="butt"/><text x="1374" y="3475" font-size="37.5" font-weight="normal" text-anchor="middle" fill="#000" stroke="#000" stroke-width="0.9">536</text><line x1="1610.2" y1="3421" x2="1610.2" y2="3434.5" stroke="#000" stroke-width="7.5" stroke-linecap="butt"/><text x="1610.2" y="3475" font-size="37.5" font-weight="normal" text-anchor="middle" fill="#000" stroke="#000" stroke-width="0.9">534</text><line x1="1846.4" y1="3421" x2="1846.4" y2="3434.5" stroke="#000" stroke-width="7.5" stroke-linecap="butt"/><text x="1846.4" y="3475" font-size="37.5" font-weight="normal" text-anchor="middle" fill="#000" stroke="#000" stroke-width="0.9">532</text><line x1="2082.6" y1="3421" x2="2082.6" y2="3434.5" stroke="#000" stroke-width="7.5" stroke-linecap="butt"/><text x="2082.6" y="3475" font-size="37.5" font-weight="normal" text-anchor="middle" fill="#000" stroke="#000" stroke-width="0.9">530</text><line x1="2318.8" y1="3421" x2="2318.8" y2="3434.5" stroke="#000" stroke-width="7.5" stroke-linecap="butt"/><text x="2318.8" y="3475" font-size="37.5" font-weight="normal" text-anchor="middle" fill="#000" stroke="#000" stroke-width="0.9">528</text><line x1="1492.1" y1="3421" x2="1492.1" y2="3428.5" stroke="#000" stroke-width="6" stroke-linecap="butt"/><line x1="1728.3" y1="3421" x2="1728.3" y2="3428.5" stroke="#000" stroke-width="6" stroke-linecap="butt"/><line x1="1964.5" y1="3421" x2="1964.5" y2="3428.5" stroke="#000" stroke-width="6" stroke-linecap="butt"/><line x1="2200.7" y1="3421" x2="2200.7" y2="3428.5" stroke="#000" stroke-width="6" stroke-linecap="butt"/><text x="1652.5" y="3524" font-size="37.5" font-weight="normal" text-anchor="start" fill="#000" textLength="386.5" lengthAdjust="spacing" stroke="#000" stroke-width="0.9">Binding energy (eV)</text><text transform="translate(1315 3200) rotate(-90)" x="0" y="0" font-size="37.5" font-weight="normal" text-anchor="start" fill="#000" textLength="285" lengthAdjust="spacing" stroke="#000" stroke-width="0.9">Intensity (a.u.)</text></svg></body></html>
